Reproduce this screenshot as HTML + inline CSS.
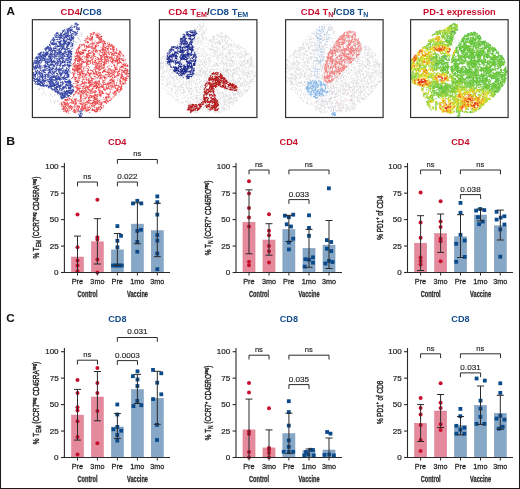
<!DOCTYPE html><html><head><meta charset="utf-8"><style>html,body{margin:0;padding:0;background:#fff;}svg{display:block;will-change:transform;}svg text{font-family:"Liberation Sans",sans-serif;}</style></head><body><svg width="520" height="489" viewBox="0 0 520 489" font-family="Liberation Sans, sans-serif">
<rect x="0" y="0" width="520" height="489" fill="#fff"/>
<rect x="71.45" y="257.00" width="12.1" height="15.50" fill="#e48a9c" stroke="#d97a8e" stroke-width="0.5"/>
<rect x="91.35" y="241.80" width="12.1" height="30.70" fill="#e48a9c" stroke="#d97a8e" stroke-width="0.5"/>
<rect x="111.35" y="249.90" width="12.1" height="22.60" fill="#87a7c6" stroke="#7898bb" stroke-width="0.5"/>
<rect x="131.35" y="224.10" width="12.1" height="48.40" fill="#87a7c6" stroke="#7898bb" stroke-width="0.5"/>
<rect x="151.25" y="230.70" width="12.1" height="41.80" fill="#87a7c6" stroke="#7898bb" stroke-width="0.5"/>
<circle cx="77.50" cy="214.50" r="2" fill="#c8102e"/>
<circle cx="77.50" cy="247.20" r="2" fill="#c8102e"/>
<circle cx="77.50" cy="260.50" r="2" fill="#c8102e"/>
<circle cx="77.50" cy="265.60" r="2" fill="#c8102e"/>
<circle cx="77.50" cy="271.30" r="2" fill="#c8102e"/>
<circle cx="97.40" cy="199.80" r="2" fill="#c8102e"/>
<circle cx="97.40" cy="237.20" r="2" fill="#c8102e"/>
<circle cx="97.40" cy="239.50" r="2" fill="#c8102e"/>
<circle cx="97.40" cy="259.40" r="2" fill="#c8102e"/>
<circle cx="97.40" cy="272.50" r="2" fill="#c8102e"/>
<rect x="115.50" y="224.20" width="3.8" height="3.8" fill="#0b4a8a"/>
<rect x="119.10" y="233.90" width="3.8" height="3.8" fill="#0b4a8a"/>
<rect x="115.50" y="238.90" width="3.8" height="3.8" fill="#0b4a8a"/>
<rect x="115.50" y="245.40" width="3.8" height="3.8" fill="#0b4a8a"/>
<rect x="111.10" y="263.60" width="3.8" height="3.8" fill="#0b4a8a"/>
<rect x="113.60" y="263.60" width="3.8" height="3.8" fill="#0b4a8a"/>
<rect x="115.50" y="263.60" width="3.8" height="3.8" fill="#0b4a8a"/>
<rect x="117.60" y="263.60" width="3.8" height="3.8" fill="#0b4a8a"/>
<rect x="119.90" y="263.60" width="3.8" height="3.8" fill="#0b4a8a"/>
<rect x="131.10" y="201.50" width="3.8" height="3.8" fill="#0b4a8a"/>
<rect x="135.40" y="198.90" width="3.8" height="3.8" fill="#0b4a8a"/>
<rect x="139.40" y="201.50" width="3.8" height="3.8" fill="#0b4a8a"/>
<rect x="135.40" y="229.00" width="3.8" height="3.8" fill="#0b4a8a"/>
<rect x="139.10" y="227.90" width="3.8" height="3.8" fill="#0b4a8a"/>
<rect x="135.40" y="240.00" width="3.8" height="3.8" fill="#0b4a8a"/>
<rect x="135.40" y="249.80" width="3.8" height="3.8" fill="#0b4a8a"/>
<rect x="155.40" y="194.50" width="3.8" height="3.8" fill="#0b4a8a"/>
<rect x="155.40" y="200.30" width="3.8" height="3.8" fill="#0b4a8a"/>
<rect x="155.40" y="212.70" width="3.8" height="3.8" fill="#0b4a8a"/>
<rect x="155.40" y="233.20" width="3.8" height="3.8" fill="#0b4a8a"/>
<rect x="155.40" y="238.70" width="3.8" height="3.8" fill="#0b4a8a"/>
<rect x="155.40" y="251.60" width="3.8" height="3.8" fill="#0b4a8a"/>
<rect x="155.40" y="267.30" width="3.8" height="3.8" fill="#0b4a8a"/>
<path d="M77.50 236.10V272.50M74.00 236.10h7" stroke="#2b2a2b" stroke-width="1" fill="none"/>
<path d="M97.40 218.70V264.00M93.90 218.70h7" stroke="#2b2a2b" stroke-width="1" fill="none"/>
<path d="M93.90 264.00h7" stroke="#2b2a2b" stroke-width="1" fill="none"/>
<path d="M117.40 233.50V265.50M113.90 233.50h7" stroke="#2b2a2b" stroke-width="1" fill="none"/>
<path d="M113.90 265.50h7" stroke="#2b2a2b" stroke-width="1" fill="none"/>
<path d="M137.40 202.90V243.80M133.90 202.90h7" stroke="#2b2a2b" stroke-width="1" fill="none"/>
<path d="M133.90 243.80h7" stroke="#2b2a2b" stroke-width="1" fill="none"/>
<path d="M157.30 203.30V256.70M153.80 203.30h7" stroke="#2b2a2b" stroke-width="1" fill="none"/>
<path d="M153.80 256.70h7" stroke="#2b2a2b" stroke-width="1" fill="none"/>
<path d="M64.4 162.90V272.50H170" stroke="#2b2a2b" stroke-width="1.1" fill="none"/>
<path d="M61.00000000000001 272.50h3.4" stroke="#2b2a2b" stroke-width="1.1"/>
<text transform="translate(54.12,274.95) scale(1.149,1)" font-size="7.03" fill="#231f20" stroke="#231f20" stroke-width="0.2">0</text>
<path d="M61.00000000000001 246.05h3.4" stroke="#2b2a2b" stroke-width="1.1"/>
<text transform="translate(49.66,248.50) scale(1.149,1)" font-size="7.03" fill="#231f20" stroke="#231f20" stroke-width="0.2">25</text>
<path d="M61.00000000000001 219.60h3.4" stroke="#2b2a2b" stroke-width="1.1"/>
<text transform="translate(49.64,222.05) scale(1.149,1)" font-size="7.03" fill="#231f20" stroke="#231f20" stroke-width="0.2">50</text>
<path d="M61.00000000000001 193.15h3.4" stroke="#2b2a2b" stroke-width="1.1"/>
<text transform="translate(49.66,195.60) scale(1.133,1)" font-size="7.13" fill="#231f20" stroke="#231f20" stroke-width="0.2">75</text>
<path d="M61.00000000000001 166.70h3.4" stroke="#2b2a2b" stroke-width="1.1"/>
<text transform="translate(45.14,169.15) scale(1.149,1)" font-size="7.03" fill="#231f20" stroke="#231f20" stroke-width="0.2">100</text>
<path d="M77.50 272.50v3" stroke="#2b2a2b" stroke-width="1"/>
<path d="M97.40 272.50v3" stroke="#2b2a2b" stroke-width="1"/>
<path d="M117.40 272.50v3" stroke="#2b2a2b" stroke-width="1"/>
<path d="M137.40 272.50v3" stroke="#2b2a2b" stroke-width="1"/>
<path d="M157.30 272.50v3" stroke="#2b2a2b" stroke-width="1"/>
<text transform="translate(71.65,284.40) scale(1.030,1)" font-size="7.13" fill="#231f20" stroke="#231f20" stroke-width="0.25">Pre</text>
<text transform="translate(90.37,284.40) scale(1.030,1)" font-size="7.03" fill="#231f20" stroke="#231f20" stroke-width="0.25">3mo</text>
<text transform="translate(111.55,284.40) scale(1.030,1)" font-size="7.13" fill="#231f20" stroke="#231f20" stroke-width="0.25">Pre</text>
<text transform="translate(130.13,284.40) scale(1.030,1)" font-size="7.13" fill="#231f20" stroke="#231f20" stroke-width="0.25">1mo</text>
<text transform="translate(150.27,284.40) scale(1.030,1)" font-size="7.03" fill="#231f20" stroke="#231f20" stroke-width="0.25">3mo</text>
<text transform="translate(77.50,296.80) scale(0.620,1)" font-size="9.10" font-weight="bold" fill="#2a2a2a" stroke="#2a2a2a" stroke-width="0.3">Control</text>
<text transform="translate(126.96,296.80) scale(0.620,1)" font-size="9.10" font-weight="bold" fill="#2a2a2a" stroke="#2a2a2a" stroke-width="0.3">Vaccine</text>
<path d="M77.50 186.30V182.00H97.40V186.30" stroke="#2b2a2b" stroke-width="1" fill="none"/>
<text transform="translate(83.33,178.70) scale(1.100,1)" font-size="6.88" fill="#231f20" stroke="#231f20" stroke-width="0.15">ns</text>
<path d="M117.40 186.30V182.00H137.40V186.30" stroke="#2b2a2b" stroke-width="1" fill="none"/>
<text transform="translate(117.27,178.90) scale(1.050,1)" font-size="7.74" fill="#231f20" stroke="#231f20" stroke-width="0.15">0.022</text>
<path d="M117.40 163.80V159.50H157.30V163.80" stroke="#2b2a2b" stroke-width="1" fill="none"/>
<text transform="translate(133.23,156.20) scale(1.100,1)" font-size="6.88" fill="#231f20" stroke="#231f20" stroke-width="0.15">ns</text>
<text transform="translate(108.08,145.30) scale(0.940,1)" font-size="9.75" font-weight="bold" fill="#c8102e">CD4</text>
<text transform="translate(39.2,217.65) rotate(-90)" text-anchor="middle" font-size="8.8" fill="#231f20" stroke="#231f20" stroke-width="0.4" textLength="81.9" lengthAdjust="spacingAndGlyphs">% T<tspan font-size="6.6" dy="2.2">EM</tspan><tspan dy="-2.2"> (CCR7</tspan><tspan font-size="5.2" dy="-3.6">neg</tspan><tspan dy="3.6"> CD45RA</tspan><tspan font-size="5.2" dy="-3.6">neg</tspan><tspan dy="3.6">)</tspan></text>
<rect x="242.95" y="222.20" width="12.1" height="50.30" fill="#e48a9c" stroke="#d97a8e" stroke-width="0.5"/>
<rect x="262.95" y="240.00" width="12.1" height="32.50" fill="#e48a9c" stroke="#d97a8e" stroke-width="0.5"/>
<rect x="282.85" y="229.40" width="12.1" height="43.10" fill="#87a7c6" stroke="#7898bb" stroke-width="0.5"/>
<rect x="302.95" y="248.30" width="12.1" height="24.20" fill="#87a7c6" stroke="#7898bb" stroke-width="0.5"/>
<rect x="322.95" y="245.10" width="12.1" height="27.40" fill="#87a7c6" stroke="#7898bb" stroke-width="0.5"/>
<circle cx="249.00" cy="181.30" r="2" fill="#c8102e"/>
<circle cx="249.00" cy="193.60" r="2" fill="#c8102e"/>
<circle cx="249.00" cy="207.90" r="2" fill="#c8102e"/>
<circle cx="249.00" cy="217.40" r="2" fill="#c8102e"/>
<circle cx="249.00" cy="226.60" r="2" fill="#c8102e"/>
<circle cx="249.00" cy="261.80" r="2" fill="#c8102e"/>
<circle cx="249.00" cy="265.30" r="2" fill="#c8102e"/>
<circle cx="269.00" cy="214.30" r="2" fill="#c8102e"/>
<circle cx="269.00" cy="230.70" r="2" fill="#c8102e"/>
<circle cx="269.00" cy="235.30" r="2" fill="#c8102e"/>
<circle cx="269.00" cy="246.00" r="2" fill="#c8102e"/>
<circle cx="269.00" cy="251.20" r="2" fill="#c8102e"/>
<circle cx="269.00" cy="262.50" r="2" fill="#c8102e"/>
<rect x="283.00" y="213.80" width="3.8" height="3.8" fill="#0b4a8a"/>
<rect x="287.00" y="215.30" width="3.8" height="3.8" fill="#0b4a8a"/>
<rect x="291.30" y="212.80" width="3.8" height="3.8" fill="#0b4a8a"/>
<rect x="284.80" y="222.40" width="3.8" height="3.8" fill="#0b4a8a"/>
<rect x="289.10" y="224.60" width="3.8" height="3.8" fill="#0b4a8a"/>
<rect x="291.30" y="236.80" width="3.8" height="3.8" fill="#0b4a8a"/>
<rect x="287.00" y="240.60" width="3.8" height="3.8" fill="#0b4a8a"/>
<rect x="287.00" y="247.50" width="3.8" height="3.8" fill="#0b4a8a"/>
<rect x="307.10" y="213.40" width="3.8" height="3.8" fill="#0b4a8a"/>
<rect x="307.10" y="226.00" width="3.8" height="3.8" fill="#0b4a8a"/>
<rect x="307.10" y="233.90" width="3.8" height="3.8" fill="#0b4a8a"/>
<rect x="303.50" y="257.30" width="3.8" height="3.8" fill="#0b4a8a"/>
<rect x="307.10" y="257.80" width="3.8" height="3.8" fill="#0b4a8a"/>
<rect x="311.10" y="255.40" width="3.8" height="3.8" fill="#0b4a8a"/>
<rect x="311.10" y="260.80" width="3.8" height="3.8" fill="#0b4a8a"/>
<rect x="302.80" y="264.70" width="3.8" height="3.8" fill="#0b4a8a"/>
<rect x="327.00" y="186.40" width="3.8" height="3.8" fill="#0b4a8a"/>
<rect x="325.00" y="238.20" width="3.8" height="3.8" fill="#0b4a8a"/>
<rect x="329.30" y="240.10" width="3.8" height="3.8" fill="#0b4a8a"/>
<rect x="325.00" y="246.80" width="3.8" height="3.8" fill="#0b4a8a"/>
<rect x="329.30" y="249.20" width="3.8" height="3.8" fill="#0b4a8a"/>
<rect x="323.50" y="261.60" width="3.8" height="3.8" fill="#0b4a8a"/>
<rect x="327.10" y="259.00" width="3.8" height="3.8" fill="#0b4a8a"/>
<rect x="330.70" y="260.10" width="3.8" height="3.8" fill="#0b4a8a"/>
<path d="M249.00 189.90V253.80M245.50 189.90h7" stroke="#2b2a2b" stroke-width="1" fill="none"/>
<path d="M245.50 253.80h7" stroke="#2b2a2b" stroke-width="1" fill="none"/>
<path d="M269.00 223.70V255.20M265.50 223.70h7" stroke="#2b2a2b" stroke-width="1" fill="none"/>
<path d="M265.50 255.20h7" stroke="#2b2a2b" stroke-width="1" fill="none"/>
<path d="M288.90 215.30V241.50M285.40 215.30h7" stroke="#2b2a2b" stroke-width="1" fill="none"/>
<path d="M285.40 241.50h7" stroke="#2b2a2b" stroke-width="1" fill="none"/>
<path d="M309.00 229.40V267.30M305.50 229.40h7" stroke="#2b2a2b" stroke-width="1" fill="none"/>
<path d="M305.50 267.30h7" stroke="#2b2a2b" stroke-width="1" fill="none"/>
<path d="M329.00 220.50V268.50M325.50 220.50h7" stroke="#2b2a2b" stroke-width="1" fill="none"/>
<path d="M325.50 268.50h7" stroke="#2b2a2b" stroke-width="1" fill="none"/>
<path d="M236 162.90V272.50H342" stroke="#2b2a2b" stroke-width="1.1" fill="none"/>
<path d="M232.6 272.50h3.4" stroke="#2b2a2b" stroke-width="1.1"/>
<text transform="translate(225.72,274.95) scale(1.149,1)" font-size="7.03" fill="#231f20" stroke="#231f20" stroke-width="0.2">0</text>
<path d="M232.6 246.05h3.4" stroke="#2b2a2b" stroke-width="1.1"/>
<text transform="translate(221.26,248.50) scale(1.149,1)" font-size="7.03" fill="#231f20" stroke="#231f20" stroke-width="0.2">25</text>
<path d="M232.6 219.60h3.4" stroke="#2b2a2b" stroke-width="1.1"/>
<text transform="translate(221.24,222.05) scale(1.149,1)" font-size="7.03" fill="#231f20" stroke="#231f20" stroke-width="0.2">50</text>
<path d="M232.6 193.15h3.4" stroke="#2b2a2b" stroke-width="1.1"/>
<text transform="translate(221.26,195.60) scale(1.133,1)" font-size="7.13" fill="#231f20" stroke="#231f20" stroke-width="0.2">75</text>
<path d="M232.6 166.70h3.4" stroke="#2b2a2b" stroke-width="1.1"/>
<text transform="translate(216.74,169.15) scale(1.149,1)" font-size="7.03" fill="#231f20" stroke="#231f20" stroke-width="0.2">100</text>
<path d="M249.00 272.50v3" stroke="#2b2a2b" stroke-width="1"/>
<path d="M269.00 272.50v3" stroke="#2b2a2b" stroke-width="1"/>
<path d="M288.90 272.50v3" stroke="#2b2a2b" stroke-width="1"/>
<path d="M309.00 272.50v3" stroke="#2b2a2b" stroke-width="1"/>
<path d="M329.00 272.50v3" stroke="#2b2a2b" stroke-width="1"/>
<text transform="translate(243.15,284.40) scale(1.030,1)" font-size="7.13" fill="#231f20" stroke="#231f20" stroke-width="0.25">Pre</text>
<text transform="translate(261.97,284.40) scale(1.030,1)" font-size="7.03" fill="#231f20" stroke="#231f20" stroke-width="0.25">3mo</text>
<text transform="translate(283.05,284.40) scale(1.030,1)" font-size="7.13" fill="#231f20" stroke="#231f20" stroke-width="0.25">Pre</text>
<text transform="translate(301.73,284.40) scale(1.030,1)" font-size="7.13" fill="#231f20" stroke="#231f20" stroke-width="0.25">1mo</text>
<text transform="translate(321.97,284.40) scale(1.030,1)" font-size="7.03" fill="#231f20" stroke="#231f20" stroke-width="0.25">3mo</text>
<text transform="translate(249.05,296.80) scale(0.620,1)" font-size="9.10" font-weight="bold" fill="#2a2a2a" stroke="#2a2a2a" stroke-width="0.3">Control</text>
<text transform="translate(298.56,296.80) scale(0.620,1)" font-size="9.10" font-weight="bold" fill="#2a2a2a" stroke="#2a2a2a" stroke-width="0.3">Vaccine</text>
<path d="M249.00 174.30V170.00H269.00V174.30" stroke="#2b2a2b" stroke-width="1" fill="none"/>
<text transform="translate(254.88,166.70) scale(1.100,1)" font-size="6.88" fill="#231f20" stroke="#231f20" stroke-width="0.15">ns</text>
<path d="M288.90 174.30V170.00H329.00V174.30" stroke="#2b2a2b" stroke-width="1" fill="none"/>
<text transform="translate(304.83,166.70) scale(1.100,1)" font-size="6.88" fill="#231f20" stroke="#231f20" stroke-width="0.15">ns</text>
<path d="M288.90 203.90V199.60H309.00V203.90" stroke="#2b2a2b" stroke-width="1" fill="none"/>
<text transform="translate(288.79,196.50) scale(1.050,1)" font-size="7.74" fill="#231f20" stroke="#231f20" stroke-width="0.15">0.033</text>
<text transform="translate(279.58,145.30) scale(0.940,1)" font-size="9.75" font-weight="bold" fill="#c8102e">CD4</text>
<text transform="translate(211.2,217.95) rotate(-90)" text-anchor="middle" font-size="8.8" fill="#231f20" stroke="#231f20" stroke-width="0.4" textLength="74.7" lengthAdjust="spacingAndGlyphs">% T<tspan font-size="6.6" dy="2.2">N</tspan><tspan dy="-2.2"> (CCR7</tspan><tspan font-size="5.2" dy="-3.6">+</tspan><tspan dy="3.6"> CD45RO</tspan><tspan font-size="5.2" dy="-3.6">neg</tspan><tspan dy="3.6">)</tspan></text>
<rect x="414.55" y="243.20" width="12.1" height="29.30" fill="#e48a9c" stroke="#d97a8e" stroke-width="0.5"/>
<rect x="434.55" y="233.60" width="12.1" height="38.90" fill="#e48a9c" stroke="#d97a8e" stroke-width="0.5"/>
<rect x="454.45" y="236.80" width="12.1" height="35.70" fill="#87a7c6" stroke="#7898bb" stroke-width="0.5"/>
<rect x="474.45" y="215.00" width="12.1" height="57.50" fill="#87a7c6" stroke="#7898bb" stroke-width="0.5"/>
<rect x="494.25" y="225.80" width="12.1" height="46.70" fill="#87a7c6" stroke="#7898bb" stroke-width="0.5"/>
<circle cx="420.60" cy="192.40" r="2" fill="#c8102e"/>
<circle cx="420.60" cy="222.60" r="2" fill="#c8102e"/>
<circle cx="420.60" cy="237.70" r="2" fill="#c8102e"/>
<circle cx="420.60" cy="257.60" r="2" fill="#c8102e"/>
<circle cx="420.60" cy="260.90" r="2" fill="#c8102e"/>
<circle cx="420.60" cy="264.40" r="2" fill="#c8102e"/>
<circle cx="440.60" cy="201.20" r="2" fill="#c8102e"/>
<circle cx="440.60" cy="221.50" r="2" fill="#c8102e"/>
<circle cx="440.60" cy="226.90" r="2" fill="#c8102e"/>
<circle cx="440.60" cy="238.70" r="2" fill="#c8102e"/>
<circle cx="440.60" cy="241.20" r="2" fill="#c8102e"/>
<circle cx="440.60" cy="261.30" r="2" fill="#c8102e"/>
<rect x="458.60" y="201.00" width="3.8" height="3.8" fill="#0b4a8a"/>
<rect x="458.60" y="210.90" width="3.8" height="3.8" fill="#0b4a8a"/>
<rect x="458.60" y="232.90" width="3.8" height="3.8" fill="#0b4a8a"/>
<rect x="454.30" y="241.90" width="3.8" height="3.8" fill="#0b4a8a"/>
<rect x="462.80" y="238.60" width="3.8" height="3.8" fill="#0b4a8a"/>
<rect x="462.80" y="255.00" width="3.8" height="3.8" fill="#0b4a8a"/>
<rect x="454.30" y="259.90" width="3.8" height="3.8" fill="#0b4a8a"/>
<rect x="474.20" y="208.70" width="3.8" height="3.8" fill="#0b4a8a"/>
<rect x="478.30" y="207.10" width="3.8" height="3.8" fill="#0b4a8a"/>
<rect x="482.40" y="208.20" width="3.8" height="3.8" fill="#0b4a8a"/>
<rect x="476.10" y="215.30" width="3.8" height="3.8" fill="#0b4a8a"/>
<rect x="480.80" y="219.70" width="3.8" height="3.8" fill="#0b4a8a"/>
<rect x="477.20" y="222.30" width="3.8" height="3.8" fill="#0b4a8a"/>
<rect x="494.70" y="209.90" width="3.8" height="3.8" fill="#0b4a8a"/>
<rect x="494.70" y="217.70" width="3.8" height="3.8" fill="#0b4a8a"/>
<rect x="498.80" y="215.70" width="3.8" height="3.8" fill="#0b4a8a"/>
<rect x="502.50" y="214.40" width="3.8" height="3.8" fill="#0b4a8a"/>
<rect x="502.50" y="222.60" width="3.8" height="3.8" fill="#0b4a8a"/>
<rect x="498.40" y="227.50" width="3.8" height="3.8" fill="#0b4a8a"/>
<rect x="498.40" y="254.80" width="3.8" height="3.8" fill="#0b4a8a"/>
<path d="M420.60 215.70V270.50M417.10 215.70h7" stroke="#2b2a2b" stroke-width="1" fill="none"/>
<path d="M417.10 270.50h7" stroke="#2b2a2b" stroke-width="1" fill="none"/>
<path d="M440.60 214.00V252.40M437.10 214.00h7" stroke="#2b2a2b" stroke-width="1" fill="none"/>
<path d="M437.10 252.40h7" stroke="#2b2a2b" stroke-width="1" fill="none"/>
<path d="M460.50 214.70V257.50M457.00 214.70h7" stroke="#2b2a2b" stroke-width="1" fill="none"/>
<path d="M457.00 257.50h7" stroke="#2b2a2b" stroke-width="1" fill="none"/>
<path d="M480.50 209.00V220.90M477.00 209.00h7" stroke="#2b2a2b" stroke-width="1" fill="none"/>
<path d="M477.00 220.90h7" stroke="#2b2a2b" stroke-width="1" fill="none"/>
<path d="M500.30 210.10V240.00M496.80 210.10h7" stroke="#2b2a2b" stroke-width="1" fill="none"/>
<path d="M496.80 240.00h7" stroke="#2b2a2b" stroke-width="1" fill="none"/>
<path d="M407.5 162.90V272.50H513" stroke="#2b2a2b" stroke-width="1.1" fill="none"/>
<path d="M404.1 272.50h3.4" stroke="#2b2a2b" stroke-width="1.1"/>
<text transform="translate(397.22,274.95) scale(1.149,1)" font-size="7.03" fill="#231f20" stroke="#231f20" stroke-width="0.2">0</text>
<path d="M404.1 246.05h3.4" stroke="#2b2a2b" stroke-width="1.1"/>
<text transform="translate(392.76,248.50) scale(1.149,1)" font-size="7.03" fill="#231f20" stroke="#231f20" stroke-width="0.2">25</text>
<path d="M404.1 219.60h3.4" stroke="#2b2a2b" stroke-width="1.1"/>
<text transform="translate(392.74,222.05) scale(1.149,1)" font-size="7.03" fill="#231f20" stroke="#231f20" stroke-width="0.2">50</text>
<path d="M404.1 193.15h3.4" stroke="#2b2a2b" stroke-width="1.1"/>
<text transform="translate(392.76,195.60) scale(1.133,1)" font-size="7.13" fill="#231f20" stroke="#231f20" stroke-width="0.2">75</text>
<path d="M404.1 166.70h3.4" stroke="#2b2a2b" stroke-width="1.1"/>
<text transform="translate(388.24,169.15) scale(1.149,1)" font-size="7.03" fill="#231f20" stroke="#231f20" stroke-width="0.2">100</text>
<path d="M420.60 272.50v3" stroke="#2b2a2b" stroke-width="1"/>
<path d="M440.60 272.50v3" stroke="#2b2a2b" stroke-width="1"/>
<path d="M460.50 272.50v3" stroke="#2b2a2b" stroke-width="1"/>
<path d="M480.50 272.50v3" stroke="#2b2a2b" stroke-width="1"/>
<path d="M500.30 272.50v3" stroke="#2b2a2b" stroke-width="1"/>
<text transform="translate(414.75,284.40) scale(1.030,1)" font-size="7.13" fill="#231f20" stroke="#231f20" stroke-width="0.25">Pre</text>
<text transform="translate(433.57,284.40) scale(1.030,1)" font-size="7.03" fill="#231f20" stroke="#231f20" stroke-width="0.25">3mo</text>
<text transform="translate(454.65,284.40) scale(1.030,1)" font-size="7.13" fill="#231f20" stroke="#231f20" stroke-width="0.25">Pre</text>
<text transform="translate(473.23,284.40) scale(1.030,1)" font-size="7.13" fill="#231f20" stroke="#231f20" stroke-width="0.25">1mo</text>
<text transform="translate(493.27,284.40) scale(1.030,1)" font-size="7.03" fill="#231f20" stroke="#231f20" stroke-width="0.25">3mo</text>
<text transform="translate(420.65,296.80) scale(0.620,1)" font-size="9.10" font-weight="bold" fill="#2a2a2a" stroke="#2a2a2a" stroke-width="0.3">Control</text>
<text transform="translate(470.06,296.80) scale(0.620,1)" font-size="9.10" font-weight="bold" fill="#2a2a2a" stroke="#2a2a2a" stroke-width="0.3">Vaccine</text>
<path d="M420.60 174.30V170.00H440.60V174.30" stroke="#2b2a2b" stroke-width="1" fill="none"/>
<text transform="translate(426.48,166.70) scale(1.100,1)" font-size="6.88" fill="#231f20" stroke="#231f20" stroke-width="0.15">ns</text>
<path d="M460.40 174.30V170.00H500.50V174.30" stroke="#2b2a2b" stroke-width="1" fill="none"/>
<text transform="translate(476.33,166.70) scale(1.100,1)" font-size="6.88" fill="#231f20" stroke="#231f20" stroke-width="0.15">ns</text>
<path d="M460.40 198.90V194.60H480.60V198.90" stroke="#2b2a2b" stroke-width="1" fill="none"/>
<text transform="translate(460.34,191.50) scale(1.050,1)" font-size="7.74" fill="#231f20" stroke="#231f20" stroke-width="0.15">0.038</text>
<text transform="translate(451.18,145.30) scale(0.940,1)" font-size="9.75" font-weight="bold" fill="#c8102e">CD4</text>
<text transform="translate(382.9,217.75) rotate(-90)" text-anchor="middle" font-size="8.8" fill="#231f20" stroke="#231f20" stroke-width="0.4" textLength="44.1" lengthAdjust="spacingAndGlyphs">% PD1<tspan font-size="5.2" dy="-3.6">+</tspan><tspan dy="3.6"> of CD4</tspan></text>
<rect x="71.45" y="415.10" width="12.1" height="42.40" fill="#e48a9c" stroke="#d97a8e" stroke-width="0.5"/>
<rect x="91.35" y="397.00" width="12.1" height="60.50" fill="#e48a9c" stroke="#d97a8e" stroke-width="0.5"/>
<rect x="111.35" y="427.00" width="12.1" height="30.50" fill="#87a7c6" stroke="#7898bb" stroke-width="0.5"/>
<rect x="131.35" y="389.60" width="12.1" height="67.90" fill="#87a7c6" stroke="#7898bb" stroke-width="0.5"/>
<rect x="151.25" y="398.30" width="12.1" height="59.20" fill="#87a7c6" stroke="#7898bb" stroke-width="0.5"/>
<circle cx="77.50" cy="380.10" r="2" fill="#c8102e"/>
<circle cx="77.50" cy="393.00" r="2" fill="#c8102e"/>
<circle cx="77.50" cy="407.20" r="2" fill="#c8102e"/>
<circle cx="77.50" cy="410.50" r="2" fill="#c8102e"/>
<circle cx="77.50" cy="421.20" r="2" fill="#c8102e"/>
<circle cx="77.50" cy="437.00" r="2" fill="#c8102e"/>
<circle cx="77.50" cy="454.40" r="2" fill="#c8102e"/>
<circle cx="97.40" cy="367.90" r="2" fill="#c8102e"/>
<circle cx="97.40" cy="383.00" r="2" fill="#c8102e"/>
<circle cx="97.40" cy="393.00" r="2" fill="#c8102e"/>
<circle cx="97.40" cy="410.90" r="2" fill="#c8102e"/>
<circle cx="97.40" cy="443.30" r="2" fill="#c8102e"/>
<rect x="115.40" y="402.60" width="3.8" height="3.8" fill="#0b4a8a"/>
<rect x="115.40" y="412.60" width="3.8" height="3.8" fill="#0b4a8a"/>
<rect x="111.50" y="427.40" width="3.8" height="3.8" fill="#0b4a8a"/>
<rect x="115.40" y="425.00" width="3.8" height="3.8" fill="#0b4a8a"/>
<rect x="119.30" y="428.80" width="3.8" height="3.8" fill="#0b4a8a"/>
<rect x="115.40" y="433.10" width="3.8" height="3.8" fill="#0b4a8a"/>
<rect x="115.40" y="438.70" width="3.8" height="3.8" fill="#0b4a8a"/>
<rect x="135.60" y="369.40" width="3.8" height="3.8" fill="#0b4a8a"/>
<rect x="131.00" y="374.30" width="3.8" height="3.8" fill="#0b4a8a"/>
<rect x="135.60" y="377.60" width="3.8" height="3.8" fill="#0b4a8a"/>
<rect x="135.50" y="384.10" width="3.8" height="3.8" fill="#0b4a8a"/>
<rect x="135.40" y="399.00" width="3.8" height="3.8" fill="#0b4a8a"/>
<rect x="131.60" y="404.20" width="3.8" height="3.8" fill="#0b4a8a"/>
<rect x="139.40" y="403.30" width="3.8" height="3.8" fill="#0b4a8a"/>
<rect x="151.10" y="368.00" width="3.8" height="3.8" fill="#0b4a8a"/>
<rect x="159.40" y="371.40" width="3.8" height="3.8" fill="#0b4a8a"/>
<rect x="155.30" y="380.80" width="3.8" height="3.8" fill="#0b4a8a"/>
<rect x="159.40" y="392.40" width="3.8" height="3.8" fill="#0b4a8a"/>
<rect x="151.20" y="397.20" width="3.8" height="3.8" fill="#0b4a8a"/>
<rect x="155.10" y="423.00" width="3.8" height="3.8" fill="#0b4a8a"/>
<rect x="155.10" y="438.10" width="3.8" height="3.8" fill="#0b4a8a"/>
<path d="M77.50 389.40V440.10M74.00 389.40h7" stroke="#2b2a2b" stroke-width="1" fill="none"/>
<path d="M74.00 440.10h7" stroke="#2b2a2b" stroke-width="1" fill="none"/>
<path d="M97.40 371.50V420.80M93.90 371.50h7" stroke="#2b2a2b" stroke-width="1" fill="none"/>
<path d="M93.90 420.80h7" stroke="#2b2a2b" stroke-width="1" fill="none"/>
<path d="M117.40 413.60V438.40M113.90 413.60h7" stroke="#2b2a2b" stroke-width="1" fill="none"/>
<path d="M113.90 438.40h7" stroke="#2b2a2b" stroke-width="1" fill="none"/>
<path d="M137.40 374.40V403.50M133.90 374.40h7" stroke="#2b2a2b" stroke-width="1" fill="none"/>
<path d="M133.90 403.50h7" stroke="#2b2a2b" stroke-width="1" fill="none"/>
<path d="M157.30 371.30V424.30M153.80 371.30h7" stroke="#2b2a2b" stroke-width="1" fill="none"/>
<path d="M153.80 424.30h7" stroke="#2b2a2b" stroke-width="1" fill="none"/>
<path d="M64.4 347.90V457.50H170" stroke="#2b2a2b" stroke-width="1.1" fill="none"/>
<path d="M61.00000000000001 457.50h3.4" stroke="#2b2a2b" stroke-width="1.1"/>
<text transform="translate(54.12,459.95) scale(1.149,1)" font-size="7.03" fill="#231f20" stroke="#231f20" stroke-width="0.2">0</text>
<path d="M61.00000000000001 431.05h3.4" stroke="#2b2a2b" stroke-width="1.1"/>
<text transform="translate(49.66,433.50) scale(1.149,1)" font-size="7.03" fill="#231f20" stroke="#231f20" stroke-width="0.2">25</text>
<path d="M61.00000000000001 404.60h3.4" stroke="#2b2a2b" stroke-width="1.1"/>
<text transform="translate(49.64,407.05) scale(1.149,1)" font-size="7.03" fill="#231f20" stroke="#231f20" stroke-width="0.2">50</text>
<path d="M61.00000000000001 378.15h3.4" stroke="#2b2a2b" stroke-width="1.1"/>
<text transform="translate(49.66,380.60) scale(1.133,1)" font-size="7.13" fill="#231f20" stroke="#231f20" stroke-width="0.2">75</text>
<path d="M61.00000000000001 351.70h3.4" stroke="#2b2a2b" stroke-width="1.1"/>
<text transform="translate(45.14,354.15) scale(1.149,1)" font-size="7.03" fill="#231f20" stroke="#231f20" stroke-width="0.2">100</text>
<path d="M77.50 457.50v3" stroke="#2b2a2b" stroke-width="1"/>
<path d="M97.40 457.50v3" stroke="#2b2a2b" stroke-width="1"/>
<path d="M117.40 457.50v3" stroke="#2b2a2b" stroke-width="1"/>
<path d="M137.40 457.50v3" stroke="#2b2a2b" stroke-width="1"/>
<path d="M157.30 457.50v3" stroke="#2b2a2b" stroke-width="1"/>
<text transform="translate(71.65,469.40) scale(1.030,1)" font-size="7.13" fill="#231f20" stroke="#231f20" stroke-width="0.25">Pre</text>
<text transform="translate(90.37,469.40) scale(1.030,1)" font-size="7.03" fill="#231f20" stroke="#231f20" stroke-width="0.25">3mo</text>
<text transform="translate(111.55,469.40) scale(1.030,1)" font-size="7.13" fill="#231f20" stroke="#231f20" stroke-width="0.25">Pre</text>
<text transform="translate(130.13,469.40) scale(1.030,1)" font-size="7.13" fill="#231f20" stroke="#231f20" stroke-width="0.25">1mo</text>
<text transform="translate(150.27,469.40) scale(1.030,1)" font-size="7.03" fill="#231f20" stroke="#231f20" stroke-width="0.25">3mo</text>
<text transform="translate(77.50,481.80) scale(0.620,1)" font-size="9.10" font-weight="bold" fill="#2a2a2a" stroke="#2a2a2a" stroke-width="0.3">Control</text>
<text transform="translate(126.96,481.80) scale(0.620,1)" font-size="9.10" font-weight="bold" fill="#2a2a2a" stroke="#2a2a2a" stroke-width="0.3">Vaccine</text>
<path d="M77.40 364.50V360.20H97.50V364.50" stroke="#2b2a2b" stroke-width="1" fill="none"/>
<text transform="translate(83.33,356.90) scale(1.100,1)" font-size="6.88" fill="#231f20" stroke="#231f20" stroke-width="0.15">ns</text>
<path d="M117.30 364.90V360.60H137.50V364.90" stroke="#2b2a2b" stroke-width="1" fill="none"/>
<text transform="translate(114.98,357.50) scale(1.050,1)" font-size="7.74" fill="#231f20" stroke="#231f20" stroke-width="0.15">0.0003</text>
<path d="M117.30 341.80V337.50H157.30V341.80" stroke="#2b2a2b" stroke-width="1" fill="none"/>
<text transform="translate(127.16,334.40) scale(1.050,1)" font-size="7.74" fill="#231f20" stroke="#231f20" stroke-width="0.15">0.031</text>
<text transform="translate(108.19,321.80) scale(0.940,1)" font-size="9.75" font-weight="bold" fill="#164d8c">CD8</text>
<text transform="translate(39.2,403) rotate(-90)" text-anchor="middle" font-size="8.8" fill="#231f20" stroke="#231f20" stroke-width="0.4" textLength="82.5" lengthAdjust="spacingAndGlyphs">% T<tspan font-size="6.6" dy="2.2">EM</tspan><tspan dy="-2.2"> (CCR7</tspan><tspan font-size="5.2" dy="-3.6">neg</tspan><tspan dy="3.6"> CD45RA</tspan><tspan font-size="5.2" dy="-3.6">neg</tspan><tspan dy="3.6">)</tspan></text>
<rect x="242.95" y="429.90" width="12.1" height="27.60" fill="#e48a9c" stroke="#d97a8e" stroke-width="0.5"/>
<rect x="262.95" y="447.90" width="12.1" height="9.60" fill="#e48a9c" stroke="#d97a8e" stroke-width="0.5"/>
<rect x="282.85" y="433.60" width="12.1" height="23.90" fill="#87a7c6" stroke="#7898bb" stroke-width="0.5"/>
<rect x="302.95" y="450.50" width="12.1" height="7.00" fill="#87a7c6" stroke="#7898bb" stroke-width="0.5"/>
<rect x="322.95" y="450.00" width="12.1" height="7.50" fill="#87a7c6" stroke="#7898bb" stroke-width="0.5"/>
<circle cx="249.00" cy="382.90" r="2" fill="#c8102e"/>
<circle cx="249.00" cy="392.50" r="2" fill="#c8102e"/>
<circle cx="249.00" cy="431.60" r="2" fill="#c8102e"/>
<circle cx="249.00" cy="433.90" r="2" fill="#c8102e"/>
<circle cx="249.00" cy="451.90" r="2" fill="#c8102e"/>
<circle cx="249.00" cy="457.20" r="2" fill="#c8102e"/>
<circle cx="269.00" cy="408.30" r="2" fill="#c8102e"/>
<circle cx="269.00" cy="447.90" r="2" fill="#c8102e"/>
<circle cx="269.00" cy="450.00" r="2" fill="#c8102e"/>
<circle cx="269.00" cy="453.00" r="2" fill="#c8102e"/>
<circle cx="269.00" cy="457.20" r="2" fill="#c8102e"/>
<rect x="286.90" y="399.30" width="3.8" height="3.8" fill="#0b4a8a"/>
<rect x="286.90" y="410.20" width="3.8" height="3.8" fill="#0b4a8a"/>
<rect x="286.90" y="423.70" width="3.8" height="3.8" fill="#0b4a8a"/>
<rect x="286.90" y="438.50" width="3.8" height="3.8" fill="#0b4a8a"/>
<rect x="286.90" y="444.90" width="3.8" height="3.8" fill="#0b4a8a"/>
<rect x="281.80" y="449.90" width="3.8" height="3.8" fill="#0b4a8a"/>
<rect x="286.90" y="449.90" width="3.8" height="3.8" fill="#0b4a8a"/>
<rect x="291.30" y="449.90" width="3.8" height="3.8" fill="#0b4a8a"/>
<rect x="308.40" y="447.90" width="3.8" height="3.8" fill="#0b4a8a"/>
<rect x="311.10" y="448.10" width="3.8" height="3.8" fill="#0b4a8a"/>
<rect x="304.10" y="450.10" width="3.8" height="3.8" fill="#0b4a8a"/>
<rect x="302.40" y="453.50" width="3.8" height="3.8" fill="#0b4a8a"/>
<rect x="306.40" y="452.60" width="3.8" height="3.8" fill="#0b4a8a"/>
<rect x="311.80" y="453.50" width="3.8" height="3.8" fill="#0b4a8a"/>
<rect x="325.20" y="430.10" width="3.8" height="3.8" fill="#0b4a8a"/>
<rect x="328.60" y="431.70" width="3.8" height="3.8" fill="#0b4a8a"/>
<rect x="322.60" y="453.00" width="3.8" height="3.8" fill="#0b4a8a"/>
<rect x="327.30" y="452.60" width="3.8" height="3.8" fill="#0b4a8a"/>
<rect x="332.00" y="453.50" width="3.8" height="3.8" fill="#0b4a8a"/>
<path d="M249.00 399.10V457.50M245.50 399.10h7" stroke="#2b2a2b" stroke-width="1" fill="none"/>
<path d="M269.00 429.90V457.50M265.50 429.90h7" stroke="#2b2a2b" stroke-width="1" fill="none"/>
<path d="M288.90 413.20V453.60M285.40 413.20h7" stroke="#2b2a2b" stroke-width="1" fill="none"/>
<path d="M285.40 453.60h7" stroke="#2b2a2b" stroke-width="1" fill="none"/>
<path d="M309.00 449.00V457.50M305.50 449.00h7" stroke="#2b2a2b" stroke-width="1" fill="none"/>
<path d="M329.00 438.00V457.50M325.50 438.00h7" stroke="#2b2a2b" stroke-width="1" fill="none"/>
<path d="M236 347.90V457.50H342" stroke="#2b2a2b" stroke-width="1.1" fill="none"/>
<path d="M232.6 457.50h3.4" stroke="#2b2a2b" stroke-width="1.1"/>
<text transform="translate(225.72,459.95) scale(1.149,1)" font-size="7.03" fill="#231f20" stroke="#231f20" stroke-width="0.2">0</text>
<path d="M232.6 431.05h3.4" stroke="#2b2a2b" stroke-width="1.1"/>
<text transform="translate(221.26,433.50) scale(1.149,1)" font-size="7.03" fill="#231f20" stroke="#231f20" stroke-width="0.2">25</text>
<path d="M232.6 404.60h3.4" stroke="#2b2a2b" stroke-width="1.1"/>
<text transform="translate(221.24,407.05) scale(1.149,1)" font-size="7.03" fill="#231f20" stroke="#231f20" stroke-width="0.2">50</text>
<path d="M232.6 378.15h3.4" stroke="#2b2a2b" stroke-width="1.1"/>
<text transform="translate(221.26,380.60) scale(1.133,1)" font-size="7.13" fill="#231f20" stroke="#231f20" stroke-width="0.2">75</text>
<path d="M232.6 351.70h3.4" stroke="#2b2a2b" stroke-width="1.1"/>
<text transform="translate(216.74,354.15) scale(1.149,1)" font-size="7.03" fill="#231f20" stroke="#231f20" stroke-width="0.2">100</text>
<path d="M249.00 457.50v3" stroke="#2b2a2b" stroke-width="1"/>
<path d="M269.00 457.50v3" stroke="#2b2a2b" stroke-width="1"/>
<path d="M288.90 457.50v3" stroke="#2b2a2b" stroke-width="1"/>
<path d="M309.00 457.50v3" stroke="#2b2a2b" stroke-width="1"/>
<path d="M329.00 457.50v3" stroke="#2b2a2b" stroke-width="1"/>
<text transform="translate(243.15,469.40) scale(1.030,1)" font-size="7.13" fill="#231f20" stroke="#231f20" stroke-width="0.25">Pre</text>
<text transform="translate(261.97,469.40) scale(1.030,1)" font-size="7.03" fill="#231f20" stroke="#231f20" stroke-width="0.25">3mo</text>
<text transform="translate(283.05,469.40) scale(1.030,1)" font-size="7.13" fill="#231f20" stroke="#231f20" stroke-width="0.25">Pre</text>
<text transform="translate(301.73,469.40) scale(1.030,1)" font-size="7.13" fill="#231f20" stroke="#231f20" stroke-width="0.25">1mo</text>
<text transform="translate(321.97,469.40) scale(1.030,1)" font-size="7.03" fill="#231f20" stroke="#231f20" stroke-width="0.25">3mo</text>
<text transform="translate(249.05,481.80) scale(0.620,1)" font-size="9.10" font-weight="bold" fill="#2a2a2a" stroke="#2a2a2a" stroke-width="0.3">Control</text>
<text transform="translate(298.56,481.80) scale(0.620,1)" font-size="9.10" font-weight="bold" fill="#2a2a2a" stroke="#2a2a2a" stroke-width="0.3">Vaccine</text>
<path d="M249.00 359.50V355.20H269.00V359.50" stroke="#2b2a2b" stroke-width="1" fill="none"/>
<text transform="translate(254.88,351.90) scale(1.100,1)" font-size="6.88" fill="#231f20" stroke="#231f20" stroke-width="0.15">ns</text>
<path d="M288.90 359.50V355.20H329.00V359.50" stroke="#2b2a2b" stroke-width="1" fill="none"/>
<text transform="translate(304.83,351.90) scale(1.100,1)" font-size="6.88" fill="#231f20" stroke="#231f20" stroke-width="0.15">ns</text>
<path d="M288.90 388.90V384.60H309.00V388.90" stroke="#2b2a2b" stroke-width="1" fill="none"/>
<text transform="translate(288.78,381.50) scale(1.050,1)" font-size="7.74" fill="#231f20" stroke="#231f20" stroke-width="0.15">0.035</text>
<text transform="translate(279.69,321.80) scale(0.940,1)" font-size="9.75" font-weight="bold" fill="#164d8c">CD8</text>
<text transform="translate(211.2,402.9) rotate(-90)" text-anchor="middle" font-size="8.8" fill="#231f20" stroke="#231f20" stroke-width="0.4" textLength="74.7" lengthAdjust="spacingAndGlyphs">% T<tspan font-size="6.6" dy="2.2">N</tspan><tspan dy="-2.2"> (CCR7</tspan><tspan font-size="5.2" dy="-3.6">+</tspan><tspan dy="3.6"> CD45RO</tspan><tspan font-size="5.2" dy="-3.6">neg</tspan><tspan dy="3.6">)</tspan></text>
<rect x="414.55" y="423.30" width="12.1" height="34.20" fill="#e48a9c" stroke="#d97a8e" stroke-width="0.5"/>
<rect x="434.55" y="411.00" width="12.1" height="46.50" fill="#e48a9c" stroke="#d97a8e" stroke-width="0.5"/>
<rect x="454.45" y="425.50" width="12.1" height="32.00" fill="#87a7c6" stroke="#7898bb" stroke-width="0.5"/>
<rect x="474.45" y="405.40" width="12.1" height="52.10" fill="#87a7c6" stroke="#7898bb" stroke-width="0.5"/>
<rect x="494.25" y="413.30" width="12.1" height="44.20" fill="#87a7c6" stroke="#7898bb" stroke-width="0.5"/>
<circle cx="420.60" cy="397.90" r="2" fill="#c8102e"/>
<circle cx="420.60" cy="407.90" r="2" fill="#c8102e"/>
<circle cx="420.60" cy="414.40" r="2" fill="#c8102e"/>
<circle cx="420.60" cy="425.00" r="2" fill="#c8102e"/>
<circle cx="420.60" cy="439.90" r="2" fill="#c8102e"/>
<circle cx="420.60" cy="450.90" r="2" fill="#c8102e"/>
<circle cx="440.60" cy="383.30" r="2" fill="#c8102e"/>
<circle cx="440.60" cy="402.80" r="2" fill="#c8102e"/>
<circle cx="440.60" cy="408.00" r="2" fill="#c8102e"/>
<circle cx="440.60" cy="424.20" r="2" fill="#c8102e"/>
<circle cx="440.60" cy="429.90" r="2" fill="#c8102e"/>
<rect x="458.50" y="407.00" width="3.8" height="3.8" fill="#0b4a8a"/>
<rect x="458.40" y="414.30" width="3.8" height="3.8" fill="#0b4a8a"/>
<rect x="454.50" y="423.90" width="3.8" height="3.8" fill="#0b4a8a"/>
<rect x="462.40" y="425.80" width="3.8" height="3.8" fill="#0b4a8a"/>
<rect x="458.40" y="427.80" width="3.8" height="3.8" fill="#0b4a8a"/>
<rect x="454.50" y="431.80" width="3.8" height="3.8" fill="#0b4a8a"/>
<rect x="462.40" y="431.80" width="3.8" height="3.8" fill="#0b4a8a"/>
<rect x="474.70" y="376.60" width="3.8" height="3.8" fill="#0b4a8a"/>
<rect x="482.90" y="378.70" width="3.8" height="3.8" fill="#0b4a8a"/>
<rect x="478.60" y="398.80" width="3.8" height="3.8" fill="#0b4a8a"/>
<rect x="478.60" y="406.70" width="3.8" height="3.8" fill="#0b4a8a"/>
<rect x="478.50" y="414.90" width="3.8" height="3.8" fill="#0b4a8a"/>
<rect x="474.60" y="422.00" width="3.8" height="3.8" fill="#0b4a8a"/>
<rect x="482.50" y="422.00" width="3.8" height="3.8" fill="#0b4a8a"/>
<rect x="498.40" y="381.40" width="3.8" height="3.8" fill="#0b4a8a"/>
<rect x="498.40" y="391.00" width="3.8" height="3.8" fill="#0b4a8a"/>
<rect x="498.50" y="413.90" width="3.8" height="3.8" fill="#0b4a8a"/>
<rect x="494.70" y="416.70" width="3.8" height="3.8" fill="#0b4a8a"/>
<rect x="502.50" y="417.70" width="3.8" height="3.8" fill="#0b4a8a"/>
<rect x="496.80" y="426.80" width="3.8" height="3.8" fill="#0b4a8a"/>
<rect x="500.80" y="424.90" width="3.8" height="3.8" fill="#0b4a8a"/>
<path d="M420.60 404.60V441.50M417.10 404.60h7" stroke="#2b2a2b" stroke-width="1" fill="none"/>
<path d="M417.10 441.50h7" stroke="#2b2a2b" stroke-width="1" fill="none"/>
<path d="M440.60 394.50V427.50M437.10 394.50h7" stroke="#2b2a2b" stroke-width="1" fill="none"/>
<path d="M437.10 427.50h7" stroke="#2b2a2b" stroke-width="1" fill="none"/>
<path d="M460.50 416.50V434.80M457.00 416.50h7" stroke="#2b2a2b" stroke-width="1" fill="none"/>
<path d="M457.00 434.80h7" stroke="#2b2a2b" stroke-width="1" fill="none"/>
<path d="M480.50 386.00V424.40M477.00 386.00h7" stroke="#2b2a2b" stroke-width="1" fill="none"/>
<path d="M477.00 424.40h7" stroke="#2b2a2b" stroke-width="1" fill="none"/>
<path d="M500.30 395.30V429.40M496.80 395.30h7" stroke="#2b2a2b" stroke-width="1" fill="none"/>
<path d="M496.80 429.40h7" stroke="#2b2a2b" stroke-width="1" fill="none"/>
<path d="M407.5 347.90V457.50H513" stroke="#2b2a2b" stroke-width="1.1" fill="none"/>
<path d="M404.1 457.50h3.4" stroke="#2b2a2b" stroke-width="1.1"/>
<text transform="translate(397.22,459.95) scale(1.149,1)" font-size="7.03" fill="#231f20" stroke="#231f20" stroke-width="0.2">0</text>
<path d="M404.1 431.05h3.4" stroke="#2b2a2b" stroke-width="1.1"/>
<text transform="translate(392.76,433.50) scale(1.149,1)" font-size="7.03" fill="#231f20" stroke="#231f20" stroke-width="0.2">25</text>
<path d="M404.1 404.60h3.4" stroke="#2b2a2b" stroke-width="1.1"/>
<text transform="translate(392.74,407.05) scale(1.149,1)" font-size="7.03" fill="#231f20" stroke="#231f20" stroke-width="0.2">50</text>
<path d="M404.1 378.15h3.4" stroke="#2b2a2b" stroke-width="1.1"/>
<text transform="translate(392.76,380.60) scale(1.133,1)" font-size="7.13" fill="#231f20" stroke="#231f20" stroke-width="0.2">75</text>
<path d="M404.1 351.70h3.4" stroke="#2b2a2b" stroke-width="1.1"/>
<text transform="translate(388.24,354.15) scale(1.149,1)" font-size="7.03" fill="#231f20" stroke="#231f20" stroke-width="0.2">100</text>
<path d="M420.60 457.50v3" stroke="#2b2a2b" stroke-width="1"/>
<path d="M440.60 457.50v3" stroke="#2b2a2b" stroke-width="1"/>
<path d="M460.50 457.50v3" stroke="#2b2a2b" stroke-width="1"/>
<path d="M480.50 457.50v3" stroke="#2b2a2b" stroke-width="1"/>
<path d="M500.30 457.50v3" stroke="#2b2a2b" stroke-width="1"/>
<text transform="translate(414.75,469.40) scale(1.030,1)" font-size="7.13" fill="#231f20" stroke="#231f20" stroke-width="0.25">Pre</text>
<text transform="translate(433.57,469.40) scale(1.030,1)" font-size="7.03" fill="#231f20" stroke="#231f20" stroke-width="0.25">3mo</text>
<text transform="translate(454.65,469.40) scale(1.030,1)" font-size="7.13" fill="#231f20" stroke="#231f20" stroke-width="0.25">Pre</text>
<text transform="translate(473.23,469.40) scale(1.030,1)" font-size="7.13" fill="#231f20" stroke="#231f20" stroke-width="0.25">1mo</text>
<text transform="translate(493.27,469.40) scale(1.030,1)" font-size="7.03" fill="#231f20" stroke="#231f20" stroke-width="0.25">3mo</text>
<text transform="translate(420.65,481.80) scale(0.620,1)" font-size="9.10" font-weight="bold" fill="#2a2a2a" stroke="#2a2a2a" stroke-width="0.3">Control</text>
<text transform="translate(470.06,481.80) scale(0.620,1)" font-size="9.10" font-weight="bold" fill="#2a2a2a" stroke="#2a2a2a" stroke-width="0.3">Vaccine</text>
<path d="M420.60 358.10V353.80H440.60V358.10" stroke="#2b2a2b" stroke-width="1" fill="none"/>
<text transform="translate(426.48,350.50) scale(1.100,1)" font-size="6.88" fill="#231f20" stroke="#231f20" stroke-width="0.15">ns</text>
<path d="M460.40 358.10V353.80H500.50V358.10" stroke="#2b2a2b" stroke-width="1" fill="none"/>
<text transform="translate(476.33,350.50) scale(1.100,1)" font-size="6.88" fill="#231f20" stroke="#231f20" stroke-width="0.15">ns</text>
<path d="M460.40 377.20V372.90H480.60V377.20" stroke="#2b2a2b" stroke-width="1" fill="none"/>
<text transform="translate(460.36,369.80) scale(1.050,1)" font-size="7.74" fill="#231f20" stroke="#231f20" stroke-width="0.15">0.031</text>
<text transform="translate(451.29,321.80) scale(0.940,1)" font-size="9.75" font-weight="bold" fill="#164d8c">CD8</text>
<text transform="translate(382.9,402.4) rotate(-90)" text-anchor="middle" font-size="8.8" fill="#231f20" stroke="#231f20" stroke-width="0.4" textLength="43.2" lengthAdjust="spacingAndGlyphs">% PD1<tspan font-size="5.2" dy="-3.6">+</tspan><tspan dy="3.6"> of CD8</tspan></text>
<text transform="translate(6.51,14.60) scale(0.988,1)" font-size="11.78" font-weight="bold" fill="#111">A</text>
<text transform="translate(6.17,144.80) scale(1.057,1)" font-size="11.64" font-weight="bold" fill="#111">B</text>
<text transform="translate(6.33,321.60) scale(1.012,1)" font-size="11.61" font-weight="bold" fill="#111">C</text>
<defs><filter id="soft" x="-5%" y="-5%" width="110%" height="110%"><feGaussianBlur stdDeviation="0.35"/></filter></defs>
<g filter="url(#soft)">
<path d="M80.6 41.2h0m-7.1 46.7h0m0.0 -42.9h0m-0.7 12.0h0m5.4 -28.8h0m-1.7 14.6h0m2.9 -3.4h0m2.1 -3.3h0m-2.4 -0.2h0m-3.5 6.3h0m1.9 -6.7h0m-0.2 2.5h0m-2.1 4.2h0m6.0 -7.4h0m-1.3 6.5h0m-5.8 3.2h0m-0.1 9.2h0m7.6 -20.6h0m-3.1 5.1h0m1.4 -5.0h0m-8.1 32.6h0m-0.3 8.0h0m6.7 -35.0h0m-0.6 -10.9h0m-3.5 20.0h0" stroke="#b8b8c8" stroke-width="0.9" stroke-linecap="round" fill="none"/>
<path d="M55.7 101.2h0m-0.9 -6.3h0m-9.0 -0.5h0m4.3 -0.6h0m0.1 6.6h0m4.3 2.1h0m-15.5 -13.0h0m11.9 5.4h0m-6.7 -2.7h0m10.5 2.9h0m4.4 9.2h0m-16.7 -10.4h0m-0.5 -5.4h0m-2.7 1.0h0m19.2 6.2h0m-6.1 1.0h0m-12.8 -8.4h0m19.4 12.9h0m-1.3 0.0h0m-3.2 1.8h0m-0.7 -2.3h0m-9.9 -11.3h0m16.1 8.5h0m-8.9 4.2h0" stroke="#b8b8c8" stroke-width="0.9" stroke-linecap="round" fill="none"/>
<path d="M68.3 76.6h0m-5.1 -23.0h0m-4.0 -0.8h0m8.8 -1.2h0m-13.1 28.7h0m17.0 -28.7h0m-17.9 25.4h0m-4.4 -20.3h0m3.2 29.1h0m-2.3 -21.5h0m15.7 17.1h0m5.2 -24.8h0m-35.5 18.1h0m9.2 -15.7h0m-0.0 -3.0h0m10.9 -22.7h0m22.2 -8.8h0m-26.1 29.9h0m19.3 -19.6h0m-2.1 4.1h0m-7.5 34.5h0m3.1 -7.3h0m-16.1 -4.4h0m16.8 -7.0h0m0.4 -22.3h0m-7.1 54.9h0m-11.2 -16.7h0m15.2 8.5h0m-12.1 -1.1h0m15.0 -25.9h0m1.5 -8.3h0m-12.2 44.5h0m-1.0 -43.8h0m13.6 48.6h0m-21.9 -26.8h0m9.5 17.8h0m-19.2 -16.1h0m-2.8 -5.6h0m17.0 18.2h0m20.9 -22.2h0m-34.4 7.5h0m26.6 -18.6h0m-22.6 22.6h0m17.8 8.7h0m-6.7 -35.4h0m13.4 22.1h0m7.6 26.8h0m3.4 -64.2h0m-35.2 31.9h0m16.5 19.7h0m10.7 -48.1h0m2.7 14.9h0m-16.6 26.8h0m2.5 -37.9h0m-17.8 22.9h0m10.7 9.3h0m-4.8 -14.0h0m23.5 0.2h0m-14.9 15.0h0m23.4 -34.9h0m-11.3 -1.3h0m11.4 -7.4h0m-40.9 41.0h0m18.4 -0.4h0m16.6 -11.7h0m-1.4 36.8h0m-19.2 -10.3h0m4.5 -23.6h0m-4.0 -1.2h0m17.3 10.1h0m0.4 -14.6h0m-8.6 -9.2h0m0.5 -7.6h0m0.7 64.0h0m4.6 -50.1h0m-17.2 -0.2h0m-11.7 35.4h0m27.7 -19.0h0m5.2 -7.3h0m3.8 34.0h0m-38.2 -29.5h0m21.1 -5.8h0m-4.5 30.5h0m13.6 -48.9h0m-14.9 23.6h0m4.0 27.3h0m21.6 -61.6h0m-5.6 37.3h0m-6.4 32.1h0m6.4 -60.0h0m-8.7 26.3h0m-23.2 21.4h0m21.4 -29.0h0m-7.2 -16.6h0m11.0 6.4h0m-12.4 13.4h0m15.0 -11.8h0m-29.7 12.4h0m23.7 -11.7h0m-22.7 37.6h0m32.7 -19.0h0m-31.3 -1.5h0m23.1 -8.7h0m4.8 -13.1h0m2.2 -6.3h0m-14.6 22.2h0m-7.1 17.6h0m29.7 -50.9h0m-41.1 35.7h0m10.8 8.1h0m1.2 -2.5h0m19.8 -9.2h0m-28.4 4.9h0m-4.1 6.0h0m33.4 -37.9h0m4.7 -3.0h0m-7.3 10.7h0m10.2 -14.1h0m-19.7 57.2h0m6.7 -36.0h0m2.4 13.8h0m5.1 1.1h0m-19.1 11.9h0m-11.6 -12.5h0m-3.5 2.6h0m28.9 31.1h0m1.2 -59.7h0m-17.1 14.5h0m14.5 31.1h0m-7.9 0.2h0m7.2 -9.1h0m11.3 -37.8h0m-22.9 32.4h0m14.5 29.9h0m0.8 -45.1h0m1.8 -13.1h0m-14.8 26.5h0m7.3 35.7h0m3.4 -45.7h0m-12.9 -2.0h0m3.8 -6.5h0m-7.0 25.9h0m9.9 -13.5h0m4.5 39.5h0m-15.3 -19.2h0m-2.9 -15.3h0m19.6 -23.5h0m-16.9 35.0h0m-11.2 0.3h0m23.2 -3.5h0m-6.1 -30.0h0m13.1 18.3h0m-30.0 6.0h0m25.2 29.0h0m12.4 -66.1h0m-5.4 15.6h0m-3.5 9.0h0m-16.6 17.5h0m5.4 -3.4h0m-20.8 -4.9h0m9.5 -8.7h0m-6.8 20.8h0m13.6 10.2h0m13.2 -43.6h0m-12.9 30.8h0m15.3 -13.8h0m4.8 -16.0h0m-15.7 -3.5h0m-2.9 42.6h0m2.9 -39.1h0m15.8 44.6h0m-7.2 -48.2h0m4.7 39.1h0m3.9 -30.6h0m-7.4 16.8h0m-24.3 -2.0h0m10.0 -5.4h0m18.3 34.0h0m-11.7 -5.2h0m-0.1 -46.1h0m-3.7 0.2h0m-13.2 27.2h0m16.1 -1.3h0m-19.8 -3.1h0m11.6 -8.0h0m5.9 -7.5h0m-0.9 36.6h0m-3.4 -31.8h0m30.2 -21.9h0m-29.4 55.6h0m4.7 -6.0h0m16.1 -14.1h0m-17.4 -20.4h0m10.3 45.2h0m6.6 0.4h0m-14.5 -1.6h0m-1.3 -44.2h0m14.4 43.4h0m-4.3 -42.9h0m7.3 0.4h0m-9.5 21.7h0m-11.8 -17.5h0m3.3 -3.3h0m-3.4 25.4h0m19.7 -8.1h0m-15.9 15.3h0m13.9 10.4h0m-1.5 -53.0h0m-1.0 7.5h0m-2.8 44.6h0m-17.5 -28.8h0m3.6 14.8h0m-4.6 4.0h0m22.9 1.1h0m-7.4 -34.4h0m-2.8 -1.8h0m-11.8 8.8h0m12.8 -0.4h0m-17.4 23.2h0m28.9 7.5h0m-17.2 -8.4h0m-10.4 4.2h0m0.3 2.0h0m-5.1 -11.1h0m32.3 -9.4h0m-13.3 1.9h0m-2.0 -6.3h0m-3.9 7.4h0m14.2 36.0h0m-10.5 -42.6h0m-2.0 13.8h0m-3.9 19.2h0m15.9 -47.1h0m-4.6 5.9h0m12.6 -12.7h0m-11.4 31.6h0m-9.7 -24.1h0m-1.2 34.6h0m6.1 -31.5h0m-7.0 22.8h0m17.4 30.5h0m-20.3 -34.9h0m7.5 15.2h0m-6.9 8.6h0m1.9 -28.3h0m22.2 24.4h0m-15.8 8.8h0m-3.9 -11.2h0m12.0 -32.1h0m-5.1 21.1h0m-8.3 -15.0h0m-11.6 27.2h0m15.0 -15.1h0m15.3 -7.6h0m-7.4 -3.6h0m-1.8 36.3h0m-14.7 -10.4h0m31.6 -51.4h0m-18.3 50.0h0m3.5 -27.1h0m-1.4 12.7h0m7.7 28.3h0m-31.5 -11.8h0m18.7 -1.4h0m-7.9 -21.7h0m24.9 -33.1h0m-25.1 34.7h0m26.3 -16.7h0m-25.8 21.7h0m20.8 6.2h0m-16.9 10.8h0m5.3 -48.2h0m14.2 58.6h0m-20.3 -35.7h0m13.3 40.5h0m5.8 -45.3h0m-25.5 8.4h0m21.7 10.2h0m-2.8 13.1h0m-1.9 -19.1h0m3.8 -29.8h0m-3.3 15.2h0m-13.7 11.7h0m4.2 21.4h0m15.6 -8.9h0m-24.6 -18.8h0m-4.5 16.7h0m30.6 -11.1h0m-4.9 17.8h0m-2.6 -41.0h0m2.2 41.7h0m-13.3 -27.0h0m9.9 41.6h0m6.8 -8.3h0m-3.5 -41.0h0m-1.3 45.0h0m-24.3 -30.4h0m24.9 1.7h0m-2.8 2.2h0m7.4 -15.3h0m-3.4 -8.8h0m-9.2 49.5h0m2.0 -17.7h0m5.6 -11.2h0m-2.4 -17.2h0m8.3 8.8h0m-19.5 35.6h0m18.6 -54.8h0m-30.4 38.7h0m32.3 21.2h0m6.8 -57.5h0m-10.2 52.4h0m-7.8 -25.5h0m11.1 -17.7h0m-9.4 0.3h0m-11.6 37.8h0m-7.3 -0.7h0m24.7 -21.6h0m-32.3 18.8h0m36.7 -24.7h0m-2.6 6.6h0m-7.6 14.6h0m-11.1 13.3h0m19.4 -10.9h0m-0.0 -28.5h0m2.8 -18.8h0m-1.3 35.5h0m-2.2 -20.5h0m-14.6 26.4h0m-15.0 7.9h0m33.7 -36.5h0m-34.9 15.6h0m3.4 11.5h0m25.7 12.5h0m2.9 -42.6h0m0.1 17.2h0m-18.1 20.8h0m22.7 13.1h0m-8.3 -11.0h0m-13.8 -21.6h0m3.4 -14.3h0m-20.8 37.3h0m31.8 5.7h0m-14.8 -30.0h0m8.7 -17.4h0m-14.4 22.5h0m-4.0 -5.4h0m17.7 34.3h0m11.0 -59.1h0m-5.0 3.0h0m-9.7 41.3h0m15.3 8.1h0m-27.3 2.1h0m27.8 -34.6h0m-13.2 -15.9h0m10.9 55.0h0m-7.2 -36.1h0m-18.0 0.6h0m18.4 18.1h0m-11.2 13.8h0m-7.6 -9.9h0m27.7 -22.3h0m-32.5 22.0h0m24.3 -21.5h0m3.5 -14.2h0m5.3 -3.3h0m-18.6 1.4h0m9.8 7.3h0m-16.1 15.1h0m8.1 3.9h0m-2.1 19.4h0m-6.7 -12.2h0m5.0 -18.0h0m18.0 40.7h0m-16.5 -34.1h0m22.3 -35.0h0m-13.1 55.9h0m-5.9 -12.8h0m0.5 -30.0h0m-8.0 16.6h0m5.9 8.3h0m-19.7 14.3h0m21.1 -2.1h0m-6.8 -25.8h0m8.7 41.3h0m3.9 -58.0h0m-12.1 33.2h0m-10.3 -5.1h0m27.6 15.4h0m-2.2 -12.8h0m3.6 -36.1h0m-24.8 50.5h0m2.2 -23.7h0m8.7 -12.1h0m10.3 47.9h0m-5.3 -14.5h0m7.7 17.3h0m-16.1 -35.7h0m-7.5 -2.9h0m-2.4 30.3h0m23.2 -15.2h0m-15.8 -22.5h0m10.3 38.7h0m4.8 -21.3h0m-7.0 12.5h0m-2.3 7.3h0m-13.7 -17.9h0m37.8 -38.7h0m-20.7 24.1h0m-5.1 -9.8h0m-14.3 21.9h0m16.2 12.1h0m9.1 18.4h0m-12.0 -22.4h0m19.7 -20.1h0m-16.8 17.9h0m-15.8 -7.6h0m24.1 33.7h0m-22.4 -34.7h0m29.2 14.6h0m-9.7 -6.8h0m-21.5 -12.9h0m10.1 -5.5h0m13.7 -13.8h0m-17.0 32.4h0m14.6 0.8h0m-17.2 4.7h0m-5.6 -18.3h0m20.3 33.7h0m8.2 -37.6h0m-14.9 27.7h0m14.4 -25.4h0m-24.8 -1.4h0m13.9 31.2h0m-11.0 -24.8h0m18.7 -2.7h0m-8.9 27.5h0m5.1 -40.4h0m-5.6 18.3h0m12.9 -33.4h0m0.5 48.8h0m8.4 11.9h0m-35.0 -27.8h0m25.0 -16.0h0m-15.3 20.2h0m11.4 10.7h0m6.3 -17.9h0m-23.6 24.8h0m24.3 6.5h0m-1.9 4.1h0m9.3 -63.7h0m-22.9 30.2h0m1.6 14.3h0m1.1 -15.9h0m15.9 -29.5h0m-18.2 51.4h0m-2.8 4.3h0m2.2 -5.4h0m7.6 6.1h0m-6.9 -47.3h0m7.2 8.9h0m-20.8 28.2h0m27.3 19.9h0m5.0 -55.0h0m1.8 -6.8h0m-16.2 20.9h0m-6.5 22.1h0m-5.6 2.3h0m24.3 5.5h0m-17.3 -10.5h0m7.5 -29.4h0m-25.4 21.9h0m4.7 2.8h0m32.8 -9.6h0m-10.8 17.3h0m3.4 -22.4h0m-1.6 14.0h0m-8.7 3.9h0m-1.8 5.6h0m-5.2 -31.7h0m-2.7 32.3h0m28.7 -40.4h0m-15.3 30.9h0m7.7 26.3h0m-13.5 -43.5h0m20.0 6.5h0m-5.6 -16.8h0m5.6 12.8h0m-1.8 -20.7h0m-28.2 46.1h0m18.8 -26.7h0m-0.5 10.9h0m5.5 7.3h0m3.9 -27.9h0m-5.4 10.2h0m-9.4 -7.7h0m-12.3 11.3h0m27.9 8.2h0m-14.4 17.7h0m17.1 -46.7h0m-24.8 16.9h0m2.1 -10.3h0m14.4 -6.8h0m-11.9 39.7h0m-4.9 7.9h0m13.9 -39.3h0m-21.6 8.2h0m32.7 -24.3h0m-16.1 48.4h0m11.4 3.2h0m-27.9 -1.1h0m24.0 -33.2h0m5.2 48.1h0m-26.7 -12.0h0m2.1 -4.1h0m4.7 -6.9h0m16.3 19.7h0m0.5 -55.5h0m-27.8 40.6h0m33.0 6.1h0m-19.9 -4.6h0m6.6 -16.9h0m16.3 -25.3h0m-0.5 6.9h0m-14.8 33.3h0m9.9 7.6h0m0.9 -32.3h0m-3.5 18.3h0m-8.7 11.0h0m9.8 -45.8h0m-15.2 41.0h0m-1.5 7.8h0m25.9 -51.2h0m-20.3 58.0h0m3.6 -21.8h0m-9.6 16.9h0m9.6 -18.3h0m-14.5 14.1h0m16.4 4.3h0m-21.1 -17.6h0m18.2 -4.8h0m-20.2 -0.7h0m11.1 6.7h0m3.2 9.6h0m11.6 -38.6h0m15.5 -11.2h0m-34.0 31.9h0m-4.8 -7.9h0m20.3 -10.3h0m-9.0 20.0h0m18.0 -19.5h0m-21.3 16.3h0m-2.7 18.0h0m6.9 -35.9h0m19.2 -3.0h0m-8.0 56.4h0m-25.2 -39.0h0m-1.6 15.4h0m33.0 -44.7h0m-17.9 61.4h0m16.7 -1.8h0m-26.7 -29.0h0m20.0 -10.4h0m8.8 37.2h0m-19.9 -41.5h0m19.5 44.2h0m-10.9 -35.5h0m4.2 45.6h0m-8.1 -61.4h0m9.8 50.0h0m6.2 -57.8h0m-24.8 26.3h0m17.3 36.8h0m-2.3 -42.7h0m-7.6 -4.5h0m-2.2 7.7h0m-5.6 16.6h0m10.4 -14.5h0m9.2 30.7h0m-2.8 -36.1h0m7.4 6.1h0m-19.3 32.3h0m12.2 10.0h0m10.5 -65.6h0m-37.4 32.6h0m16.4 22.3h0m9.8 -13.2h0m-15.5 -24.9h0m2.4 -0.3h0m4.3 32.3h0m1.1 -29.7h0m10.4 -6.8h0m0.7 10.6h0m2.9 38.0h0m-35.7 -22.8h0m22.5 -0.8h0m-2.7 8.4h0m-9.3 -8.0h0m0.4 5.6h0m21.0 17.3h0m-1.3 5.7h0m-12.4 -16.8h0m3.0 8.7h0m-14.8 -13.4h0m15.0 -15.1h0m0.5 -12.4h0m14.3 38.6h0m-10.3 -37.2h0m6.8 2.3h0m-27.8 20.5h0m11.4 -0.3h0m8.6 -16.6h0m-24.1 12.8h0m1.6 -5.0h0m-2.4 10.2h0m3.4 10.0h0m20.8 -25.7h0m2.5 26.0h0m1.9 -22.5h0m-14.6 0.2h0m7.7 28.5h0m-21.9 -23.9h0m6.0 -1.2h0m19.5 -15.8h0m-13.5 0.2h0m18.3 26.8h0m-21.2 -5.5h0m34.7 -42.1h0m-26.1 20.4h0m-14.4 18.6h0m30.4 23.4h0m1.0 -19.5h0m-8.1 20.4h0m-19.6 -26.2h0m24.2 -31.9h0m-14.6 13.1h0m21.2 -6.9h0m-22.7 7.1h0m17.0 12.3h0m1.5 -25.6h0m-27.1 44.6h0m11.3 9.3h0m17.9 -45.3h0m-10.1 43.5h0m10.2 -21.2h0m-8.3 -8.7h0m-21.4 2.0h0m15.0 10.6h0m4.3 1.2h0m-2.5 -25.4h0m-2.0 30.3h0m-0.3 -13.7h0m17.4 -4.7h0m-36.2 19.3h0m-0.0 -8.6h0m32.2 -36.6h0m-0.0 23.6h0m8.1 -29.7h0m-36.2 53.2h0m15.1 -16.2h0m16.1 -29.7h0m-12.3 28.8h0m0.4 22.1h0m-0.4 -12.6h0m7.8 20.9h0m-1.9 -48.1h0m12.0 -19.4h0m-28.1 42.6h0m7.5 -15.5h0m5.1 -6.8h0m-25.6 22.8h0m30.4 10.9h0m-17.0 -11.7h0m16.1 -24.3h0m-22.2 33.5h0m-1.1 -15.8h0m31.1 -22.0h0m-16.7 27.1h0m5.0 -31.2h0m16.8 -8.3h0m-44.4 53.5h0m41.0 -52.4h0m-24.2 27.7h0m5.4 2.1h0m1.0 -12.3h0m16.0 -8.6h0m-32.6 25.0h0m25.0 26.7h0m0.4 -25.8h0m-18.9 -7.4h0m24.2 -0.2h0m-2.6 5.1h0m-4.0 -17.7h0m-10.5 25.9h0m-8.1 -11.8h0m23.9 -12.9h0m-29.7 11.9h0m13.8 -4.2h0m16.9 31.7h0m-9.0 -6.5h0m-2.4 -33.3h0m-17.3 15.1h0m4.3 18.8h0m32.0 -44.0h0m-18.4 26.7h0m-17.0 -3.3h0m18.1 11.3h0m-16.9 5.5h0m7.3 -7.5h0m-3.4 -16.7h0m6.6 37.8h0m-17.7 -23.1h0m18.1 25.2h0m-1.2 -43.1h0m14.4 4.1h0m-19.8 27.2h0m25.6 14.6h0m-26.9 -27.0h0m5.8 11.1h0m14.2 -38.3h0m-18.7 12.3h0m14.2 45.5h0m-24.2 -18.2h0m13.1 10.8h0m7.1 -11.3h0m-8.4 -7.6h0m6.5 19.6h0m12.8 -36.3h0m-2.4 39.5h0m-6.2 4.8h0m7.6 -9.3h0m1.8 2.4h0m-6.9 -40.1h0m-7.2 15.5h0m-6.4 -4.0h0m-1.4 15.3h0m-3.5 -3.9h0m22.0 8.6h0m-22.2 2.3h0m1.9 -32.1h0m16.5 17.4h0m5.3 8.0h0m-25.1 -19.1h0m30.2 33.2h0m-5.3 -16.3h0m-10.1 -3.4h0m-15.8 12.0h0m11.5 -37.2h0m-7.8 11.4h0m14.2 -20.5h0m11.5 -5.5h0m-19.7 39.2h0m-8.2 16.3h0m9.9 -22.5h0m10.2 35.1h0m8.8 -51.8h0m-12.5 0.3h0m7.4 -13.1h0m-3.5 44.9h0m4.6 3.6h0m-6.2 10.9h0m-1.1 -52.4h0m7.4 14.2h0m-24.2 1.9h0m19.5 21.9h0m-14.7 2.7h0m3.6 -37.3h0m-2.0 27.6h0m4.1 13.4h0m5.6 -33.6h0m2.2 42.5h0m-8.9 -7.9h0m16.0 2.6h0m-31.3 -9.4h0m5.3 3.4h0m23.6 -13.8h0m-7.5 -8.0h0m16.4 -25.1h0m-10.3 59.2h0m-25.4 -13.1h0m13.1 -5.4h0m-4.2 -25.1h0m15.5 0.5h0m1.5 24.2h0m4.7 -34.6h0m-6.5 6.1h0m-0.2 -7.3h0m0.5 51.1h0m-12.4 -28.6h0m-16.4 -5.1h0m28.5 39.3h0m-17.8 -48.4h0m26.1 43.0h0m-3.5 -46.3h0m-13.7 9.0h0m-9.9 27.3h0m17.0 17.4h0m-20.8 -20.9h0m20.1 -24.7h0m8.0 18.1h0m-26.2 -11.0h0m22.7 10.0h0m-7.8 8.9h0m-5.1 7.5h0m-2.6 -31.8h0m10.4 -8.8h0m-1.7 13.3h0m3.8 6.8h0m-3.4 13.0h0m-20.6 1.1h0m32.0 -49.6h0m-32.0 23.3h0m20.2 35.8h0m3.0 -57.3h0m0.7 56.1h0m-17.1 -11.9h0m19.4 20.3h0m-26.3 -23.6h0m32.6 20.0h0m-8.1 -4.7h0m8.0 -52.6h0m-22.9 26.0h0m12.5 -4.8h0m-20.8 25.8h0m2.5 -8.7h0m-2.2 -5.9h0m29.9 -16.7h0m-2.5 11.0h0m-7.4 23.0h0m-25.1 -11.6h0m36.5 -25.6h0m-34.8 10.5h0m7.8 -10.6h0m21.0 -7.0h0m2.0 34.7h0m-25.4 -21.3h0m0.6 15.2h0m24.0 6.4h0m3.1 -43.7h0m-36.7 42.6h0m38.9 -29.9h0m-19.1 38.1h0m13.2 -39.6h0m-0.4 24.6h0m2.1 -38.6h0m-1.3 61.9h0m-6.5 -43.4h0m-24.2 14.2h0m30.0 -15.0h0m-2.1 -2.7h0m-12.4 5.3h0m12.6 46.2h0m-1.9 -34.4h0m-5.9 22.1h0m0.9 2.3h0m-0.0 -7.5h0m6.7 -36.6h0m-4.2 13.9h0m-0.0 20.4h0m-20.9 -23.1h0m18.4 31.2h0m-2.7 -8.3h0m-15.1 7.8h0m28.8 -50.4h0m-3.8 -3.6h0m-22.9 45.9h0m7.4 -13.3h0m9.8 -19.3h0m0.5 45.9h0m-26.5 -15.9h0m2.7 0.3h0m20.6 -28.8h0m3.4 5.8h0m-4.4 31.4h0m-7.0 -22.3h0m14.9 18.8h0m-15.1 -30.0h0m2.1 31.3h0m9.4 -10.4h0m8.2 16.0h0m-4.5 -41.6h0m6.6 -8.6h0m-2.7 11.4h0m-7.8 0.0h0m-13.1 13.4h0m0.9 -13.0h0m-3.6 6.7h0m16.6 9.8h0m7.6 -20.7h0m-23.7 27.5h0m8.0 15.7h0m-18.8 -22.1h0m36.6 23.9h0m-6.8 -53.5h0m-25.3 45.5h0m22.6 -42.8h0m1.4 1.1h0m-11.4 33.9h0m17.5 19.9h0m-17.5 -31.0h0m8.9 -11.4h0m-6.5 4.6h0m-14.8 25.7h0m18.2 -6.3h0m12.6 -45.6h0m-14.9 25.4h0m0.5 -13.8h0m16.0 50.4h0m-14.1 -2.1h0m15.4 -51.4h0m-6.6 -1.7h0m3.2 60.9h0m5.2 -61.7h0m-1.4 58.1h0m-11.5 -21.3h0m-2.7 -33.8h0m9.1 1.1h0m2.3 0.6h0m-36.2 24.1h0m35.3 -1.8h0m0.3 16.1h0m-17.9 -15.1h0m-0.8 8.6h0m18.5 12.8h0m-8.2 -47.2h0m4.7 34.4h0m-5.5 -12.0h0m-7.8 12.4h0m-12.7 -4.7h0m9.5 -9.8h0m16.0 22.2h0m-24.6 1.5h0m24.6 -47.0h0m2.1 40.6h0m2.3 -16.0h0m-24.4 2.9h0m21.6 -19.5h0m-15.1 8.1h0m7.1 20.0h0m11.8 3.1h0m-1.2 9.7h0m-13.9 -35.8h0m-18.9 25.3h0m6.1 1.5h0m17.3 4.4h0m-26.4 -0.8h0m18.2 -17.1h0m-12.6 1.6h0m16.4 -7.6h0m3.0 24.2h0m8.6 -3.8h0m-14.9 -25.4h0m-13.7 12.7h0m38.2 -28.8h0m-8.9 32.7h0m-17.8 17.6h0m19.2 -16.8h0m-15.2 14.1h0m8.0 -46.8h0m2.1 21.5h0m-20.6 22.6h0m-1.6 -20.8h0m12.3 -15.2h0m-15.7 18.0h0m31.9 21.4h0m-6.1 -9.9h0m5.2 22.8h0m-17.5 -13.6h0m21.3 10.2h0m-11.2 -49.1h0m-27.9 39.6h0m26.5 -7.9h0m3.7 -33.1h0m-4.3 2.5h0m-20.7 30.4h0m-0.7 10.7h0m3.3 -1.7h0m23.1 0.1h0m-0.6 -36.6h0m-12.8 20.7h0m24.4 -33.9h0m-39.7 33.6h0m13.6 -20.0h0m8.2 47.8h0m12.7 -63.2h0m-27.5 56.1h0m14.0 -24.1h0m-5.5 -8.7h0m-1.6 32.2h0m13.1 -55.1h0m-10.3 27.7h0m6.3 -11.8h0m-23.5 28.7h0m31.1 -45.4h0m-4.7 47.8h0m2.2 -39.2h0m-24.4 17.3h0m11.9 28.3h0m16.5 -51.4h0m-6.4 52.5h0m-13.4 -16.0h0m15.2 8.6h0m-7.7 -40.2h0m-14.3 34.4h0m1.2 -1.7h0m-2.2 -11.6h0m4.3 17.5h0m7.0 -32.4h0m-2.2 33.1h0m22.7 -45.3h0m5.1 0.3h0m-18.1 29.6h0m-5.7 -19.5h0m9.5 25.3h0m5.3 -0.3h0m-7.6 -8.9h0m-17.9 26.9h0m9.3 -15.1h0m19.5 -31.3h0m-28.1 14.3h0m25.7 9.3h0m-27.1 14.7h0m26.2 -46.4h0m-18.2 18.5h0m15.5 22.3h0m-19.2 15.5h0m3.3 -17.0h0m13.3 -26.3h0m2.5 34.6h0m-4.8 10.6h0m1.1 -20.2h0m-24.7 3.9h0m31.9 -6.6h0m-21.4 10.2h0m11.4 -3.2h0m7.6 -31.2h0m-22.7 14.6h0m26.8 9.7h0m-6.1 29.6h0m-10.4 -9.4h0m-14.4 -28.9h0m17.7 26.5h0m4.2 -25.8h0m-0.1 0.0h0m-28.2 19.8h0m16.6 -16.2h0m7.2 17.4h0m-1.4 -7.6h0m-19.0 -14.7h0m28.2 -13.5h0m-0.1 35.2h0m-7.6 -12.9h0m-11.3 -13.1h0m20.7 -2.9h0m-7.3 0.4h0m-2.9 28.8h0m-16.9 6.5h0m31.5 -31.4h0m-34.4 27.8h0m22.5 -41.9h0m5.8 48.2h0m-22.7 -19.8h0m17.2 12.2h0m4.9 -18.8h0m-5.4 18.0h0m0.6 -30.8h0m-6.7 -4.0h0m9.1 44.0h0m-1.2 -50.4h0m-1.8 54.4h0m12.1 -57.6h0m-2.6 -0.6h0m-10.2 16.8h0m8.4 43.4h0m-14.7 -38.4h0m-1.4 32.2h0m4.5 -16.2h0m-8.7 2.5h0m3.8 7.9h0m3.4 -8.7h0m-8.1 -6.3h0m13.0 25.6h0m-16.1 -33.1h0m-8.1 2.8h0m29.7 29.0h0m-0.5 5.1h0m6.1 -41.3h0m-6.2 26.8h0m3.7 -52.1h0m-28.1 30.4h0m27.5 4.4h0m-2.1 10.4h0m-18.1 -15.6h0m22.0 -29.3h0m-6.1 46.7h0m-8.4 -12.4h0m-1.1 24.8h0m-7.1 -4.7h0m12.3 -8.2h0m2.3 -18.8h0m10.3 7.5h0m-6.5 -28.0h0m-23.5 47.0h0m2.9 -28.5h0m21.4 -14.4h0m-2.5 43.5h0m-5.1 -20.9h0m9.5 -7.4h0m-19.9 28.9h0m21.6 -18.7h0m-8.5 -15.0h0m-15.7 13.3h0m15.9 -12.7h0m7.9 12.8h0m-4.6 31.8h0m0.1 -57.9h0m-1.1 42.0h0m4.8 -16.5h0m-6.5 31.5h0m-20.8 -40.3h0m28.5 26.3h0m-19.0 -37.7h0m0.2 4.9h0m18.7 8.4h0m-4.8 29.2h0m-16.0 -23.9h0m20.0 27.5h0m-30.0 -29.3h0m21.9 4.3h0m-11.1 -6.1h0m-5.2 6.5h0m12.6 4.7h0m-6.5 -1.1h0m1.9 0.0h0m24.2 -37.6h0m-7.5 23.6h0m1.9 6.9h0m-25.2 18.9h0m14.5 9.5h0m-13.9 -25.8h0m10.0 23.1h0m-6.4 -21.4h0m10.9 20.3h0m5.3 -13.3h0m-4.1 -0.3h0m-1.2 -34.8h0m5.6 34.7h0m4.1 -21.2h0m-20.6 12.2h0m22.2 -9.6h0m-28.5 19.8h0m4.7 -6.4h0m0.2 -21.2h0m20.7 5.5h0m-29.8 1.4h0m30.6 -9.6h0m-11.9 14.1h0m4.4 36.5h0m-15.4 -25.4h0m-2.7 2.6h0m-6.0 -8.0h0m6.1 -8.8h0m24.8 -2.5h0m-27.3 -0.5h0m-2.2 9.2h0m32.8 -26.7h0m-15.2 21.8h0m-6.8 26.7h0m-8.9 -1.5h0m19.5 -39.4h0m8.3 -11.2h0m-11.7 39.6h0m10.2 -25.2h0m-11.5 38.7h0m-1.6 -10.8h0m-1.7 -30.5h0m-10.3 22.8h0m24.6 4.8h0m-30.2 1.4h0m1.9 -6.9h0m25.7 0.2h0m0.3 27.9h0m-10.1 -8.8h0m12.2 -44.6h0m-1.2 55.2h0m3.5 -52.1h0m-4.6 50.6h0m-28.4 -21.9h0m29.0 -9.0h0m-16.9 -1.3h0m30.8 -32.8h0m-17.1 64.3h0m-21.5 -16.4h0m25.7 -26.3h0m5.5 -23.7h0m0.5 64.6h0m-9.6 -45.1h0m-0.5 28.5h0m-21.7 7.4h0m7.6 -20.1h0m-11.4 19.8h0m29.6 -38.8h0m3.7 -13.6h0m9.1 -4.6h0m-41.4 54.6h0m31.2 -8.2h0m2.2 11.1h0m-5.3 -41.5h0m4.9 17.0h0m-8.2 -21.0h0m-24.5 28.9h0m14.4 23.4h0m-6.0 -26.6h0m25.4 -10.7h0m-23.5 23.0h0m8.4 -30.9h0m-8.2 42.0h0m20.5 -5.5h0m-4.2 -40.0h0m2.2 -4.2h0m-5.4 61.2h0m-23.6 -33.4h0m22.8 -3.7h0m-25.2 16.1h0m29.6 15.7h0m-23.1 -34.6h0m13.9 -13.5h0m-2.5 31.2h0m-17.0 -11.3h0m28.6 -12.1h0m6.3 31.7h0m-19.4 -29.9h0m5.2 17.2h0m10.8 -38.8h0m3.6 -2.1h0m-7.2 58.4h0m6.8 -37.0h0m-7.2 36.3h0m-16.3 -6.5h0m16.9 -28.3h0m-14.9 9.0h0m20.3 19.8h0m-3.1 13.7h0m-8.1 -55.6h0m-5.2 29.5h0m5.2 13.5h0m-0.8 -20.2h0m2.7 14.8h0m-6.8 2.6h0m3.6 -28.8h0m-12.3 32.7h0m-1.0 -7.0h0m-3.4 -1.9h0m18.6 4.7h0m11.9 -40.1h0m-31.8 33.9h0m24.6 -41.7h0m-4.6 3.2h0m-19.5 38.7h0m6.6 -9.5h0m22.0 -1.5h0m-10.7 29.9h0m8.8 -30.2h0m-30.7 13.0h0m31.0 -2.4h0m-15.1 -17.2h0m13.5 35.3h0m-27.7 -24.9h0m10.5 -2.3h0m8.6 -24.3h0m13.5 23.7h0m-0.6 13.7h0m-29.5 -15.1h0m32.1 -8.2h0m-1.2 -3.1h0m-35.6 33.0h0m43.4 -54.3h0m-27.2 23.8h0m12.0 38.2h0m-3.8 -44.4h0m-24.2 31.6h0m24.5 -43.1h0m2.1 11.1h0m16.7 -16.4h0m-26.3 50.9h0m19.0 8.6h0m-16.5 -39.2h0m2.1 26.0h0m-20.4 -17.6h0m1.2 1.3h0m32.4 -21.8h0m-17.9 21.5h0m-9.7 -4.4h0m20.9 42.4h0m-7.6 -6.2h0m-5.5 -32.4h0m-15.8 21.5h0m23.9 -17.7h0m-7.2 -3.8h0m14.6 34.8h0m8.0 -3.7h0m-3.7 -61.5h0m-10.8 64.8h0m6.2 -59.8h0m-31.9 39.8h0m9.5 4.4h0m9.5 -1.3h0m-6.8 -20.4h0m5.6 24.3h0m18.9 3.4h0m-19.5 3.0h0m-8.9 -10.4h0m16.2 -2.7h0m8.1 0.2h0m-9.1 -0.6h0m-19.4 -15.5h0m4.1 27.8h0m29.8 -49.0h0m-0.4 15.3h0m-10.0 17.7h0m-11.8 -14.1h0m3.5 27.4h0m4.1 3.5h0m8.0 -48.1h0m-1.1 23.8h0m-2.1 7.9h0m-13.7 9.9h0m15.6 -32.2h0m-7.1 -3.7h0m-7.4 13.9h0m-1.5 -11.4h0m-6.3 30.3h0m29.8 -29.6h0m-21.5 18.3h0m8.9 -11.2h0m-5.5 23.7h0m13.1 -17.5h0m-10.2 4.5h0m-6.3 14.7h0m14.8 -30.6h0m-18.3 -0.6h0m20.6 40.0h0m-12.4 -40.0h0m-3.2 24.0h0m-2.0 15.3h0m1.2 -31.9h0m11.4 40.6h0m0.9 -47.6h0m9.0 10.3h0m-21.7 -8.4h0m8.3 -14.6h0m11.7 59.6h0m-33.8 -34.6h0m1.7 23.2h0m24.4 13.6h0m-7.0 -17.4h0m1.6 4.5h0m1.0 1.4h0m8.8 -14.9h0m-0.0 2.2h0m-14.9 -10.8h0m20.8 22.3h0m-26.8 -14.8h0m9.5 -17.9h0m7.7 1.2h0m0.8 19.1h0m4.7 -37.4h0m3.0 49.2h0m-18.2 -10.7h0m21.8 -49.9h0m-38.3 48.0h0m36.4 19.9h0m6.5 -63.8h0m-13.2 16.4h0m9.0 -18.0h0m-14.2 17.5h0m-14.1 22.0h0m0.8 -13.8h0m3.8 -1.1h0m-0.0 13.4h0m13.5 23.0h0m-17.3 -25.6h0m-10.5 11.6h0m10.4 -25.1h0m-12.3 10.4h0m7.4 0.7h0m0.1 23.7h0m-4.5 -1.6h0m25.7 -46.9h0m-13.1 17.1h0m-16.1 29.6h0m18.1 -27.5h0m17.3 39.9h0m-0.7 -0.6h0m-6.8 -48.8h0m-14.3 42.0h0m25.4 -48.9h0m-13.3 0.0h0m-9.1 17.6h0m-1.4 30.3h0m2.0 -40.9h0m23.6 -9.7h0m-12.7 49.5h0m6.5 -18.3h0m4.4 -24.7h0m-20.0 38.8h0m-0.1 -29.6h0m-4.6 35.5h0m20.0 4.9h0m6.2 -56.0h0m-12.3 58.5h0m-4.5 -29.7h0m2.2 1.2h0m-0.3 9.8h0m17.6 -45.8h0m-16.6 17.6h0m0.7 12.7h0m3.4 -9.1h0m-17.5 24.1h0m19.0 11.4h0m-17.0 -36.1h0m24.0 -11.8h0m-23.1 23.8h0m-6.3 -3.1h0m3.2 27.3h0m11.1 -8.9h0m19.8 -47.6h0m-17.8 24.3h0m-23.8 6.8h0m26.0 -24.8h0m-6.0 13.3h0m8.5 -12.1h0m-9.2 42.8h0m10.0 3.4h0m-25.7 -0.9h0m24.0 12.9h0m-18.3 -45.2h0m0.0 4.8h0m2.2 21.0h0m-15.4 3.0h0m25.6 -7.2h0m1.1 -19.5h0m-5.2 7.2h0m-5.7 7.4h0m11.5 11.9h0m-9.1 -27.4h0m-13.0 16.7h0m-2.2 -5.5h0m28.3 -8.6h0m5.1 -3.4h0m-22.7 15.7h0m10.3 -26.1h0m9.5 52.5h0m-20.8 -37.1h0m21.5 -18.8h0m-12.6 12.3h0m8.1 22.9h0m-27.7 5.4h0m33.5 4.0h0m-7.0 9.4h0m2.5 -50.2h0m-8.0 27.4h0m3.1 10.5h0m11.5 -47.7h0m-10.4 63.4h0m11.4 -0.6h0m-1.8 -41.8h0m-9.7 7.2h0m-23.6 5.1h0m30.1 30.7h0m1.8 -65.8h0m-23.2 32.0h0m13.1 -17.6h0m8.1 41.1h0m-30.9 -8.8h0m13.6 -12.5h0m8.2 28.7h0m-21.9 -9.5h0m3.1 -20.3h0m35.0 -29.8h0m-32.9 49.9h0m22.4 -34.6h0m2.9 -13.2h0m-6.1 54.3h0m8.3 -6.8h0m0.1 6.6h0m-23.0 -34.7h0m12.4 40.7h0m7.6 -9.2h0m5.9 -0.3h0m-10.0 10.4h0m-2.9 -42.6h0m-10.2 29.0h0m19.7 1.0h0m-7.7 -18.2h0m4.6 -27.2h0m-10.8 7.2h0m-18.5 26.2h0m41.9 -37.0h0m-19.6 13.2h0m-9.1 19.6h0m-8.9 -8.6h0m-0.2 -0.2h0m28.6 -2.0h0m6.9 -22.4h0m-8.9 3.7h0m-0.7 29.1h0m-5.6 -23.9h0m-4.3 6.6h0m6.8 4.8h0m-12.6 20.0h0m0.3 11.8h0m9.8 -18.9h0m-11.5 21.5h0m17.9 -0.2h0m-3.3 -56.7h0m-29.4 33.5h0m38.8 21.1h0m-15.2 -19.6h0m-21.3 -3.5h0m33.6 -0.3h0m-11.9 30.7h0m7.3 -31.2h0m4.2 27.1h0m-15.5 -44.5h0m3.9 29.7h0m-7.2 -27.6h0m21.8 -7.4h0m-6.9 12.7h0m-31.3 13.3h0m29.2 6.6h0m1.5 -30.9h0m5.7 -0.1h0m-9.1 7.0h0m-1.1 -0.9h0m7.8 47.3h0m-28.2 -22.3h0m7.5 -11.1h0m22.2 -21.8h0m1.8 14.9h0m-25.1 1.0h0m25.1 33.5h0m-11.6 -34.4h0m7.9 12.4h0m-5.2 -11.1h0m-18.0 26.6h0m25.6 -44.1h0m-8.4 26.4h0m4.4 14.0h0m-10.9 -24.8h0m-16.0 29.4h0m-5.6 -9.8h0m3.2 6.7h0m16.4 -35.1h0m13.8 40.2h0m-10.3 -35.2h0m-5.0 11.5h0m-14.8 8.2h0m-1.4 3.1h0m-0.6 -3.3h0m20.2 -16.2h0m13.4 -15.4h0m-26.9 46.3h0m19.8 11.7h0m-14.3 -26.1h0m14.4 9.2h0m9.7 10.0h0m-36.7 -7.5h0m27.7 4.3h0m10.8 -38.5h0m-20.4 6.0h0m-5.0 11.2h0m10.4 19.8h0m-20.3 -0.9h0m30.5 -1.0h0m-33.9 -15.1h0m11.7 0.4h0m25.7 -26.6h0m-27.1 15.7h0m14.8 23.7h0m8.2 -4.6h0m-32.2 -14.7h0m34.6 -20.7h0m0.5 -9.8h0m-32.7 47.5h0m13.6 -25.5h0m-3.6 7.2h0m9.0 -23.8h0m-22.9 27.7h0m30.5 32.7h0m4.4 -14.6h0m-11.7 -2.6h0m-22.1 -3.6h0m35.9 18.5h0m-28.1 -35.0h0m27.7 4.2h0m-30.5 16.0h0m18.6 5.9h0m3.2 4.9h0m-27.8 -16.9h0m27.6 9.8h0m-15.7 -1.9h0m-2.6 -0.5h0m19.0 18.9h0m-12.7 -19.9h0m-4.9 -21.9h0m18.8 -22.1h0m10.6 55.5h0m-13.9 -29.1h0m-21.6 2.1h0m-0.7 3.2h0m6.0 17.5h0m20.3 -21.8h0m-7.9 29.0h0m-20.3 -25.6h0m10.7 -13.3h0m6.6 10.8h0m9.9 -0.1h0m-2.6 -12.1h0m9.2 33.9h0m-36.5 -16.4h0m33.3 3.4h0m2.9 18.4h0m-27.8 -23.2h0m13.3 -0.1h0m-9.0 -0.8h0m8.3 6.9h0m-15.8 -18.8h0m17.1 23.5h0m-8.7 -30.1h0m31.3 -20.3h0m-10.9 66.4h0m-3.2 -52.3h0m-24.0 25.5h0m13.4 -10.3h0m9.6 3.3h0m6.8 8.9h0m-20.5 -14.0h0m20.7 1.8h0m-27.2 -1.2h0m23.2 -13.9h0m5.6 52.7h0m-15.2 -56.9h0m11.1 27.9h0m-1.1 26.5h0m-26.6 -12.1h0m-2.8 4.3h0m24.1 -32.2h0m5.6 -4.9h0m-6.9 47.5h0m-4.2 -15.6h0m15.7 -19.4h0m-29.6 -7.3h0m30.5 -14.3h0m-31.1 36.2h0m26.6 8.7h0m-2.6 -20.9h0m-2.6 27.4h0m-2.2 1.4h0m2.0 -31.9h0m-10.9 19.9h0m10.0 -27.6h0m-23.0 28.7h0m7.3 -3.7h0m-3.1 9.8h0m22.3 9.6h0m-3.4 -20.5h0m-17.4 9.4h0m15.4 -32.5h0m-12.5 33.5h0m23.9 0.9h0m-30.2 -33.3h0m26.8 29.5h0m-7.8 5.1h0m-5.5 2.1h0m14.7 -40.7h0m-8.2 -15.7h0m-26.1 47.8h0m13.1 -1.0h0m-6.8 -7.1h0m6.2 -18.1h0m9.7 32.0h0m8.4 6.7h0m3.2 -32.7h0m-17.0 23.2h0m21.0 2.8h0m-10.1 -14.5h0m2.3 15.9h0m-15.7 -17.7h0m16.8 -4.9h0m-26.3 1.6h0m-1.1 12.5h0m18.5 -8.5h0m-15.6 -16.7h0m23.0 1.9h0m3.0 -27.2h0m0.7 23.7h0m0.5 27.7h0m-14.3 -0.5h0m14.1 -24.5h0m-26.8 17.8h0m25.4 -3.2h0m-16.7 -21.7h0m-7.1 8.0h0m26.9 31.4h0m-6.3 -33.3h0m-13.3 26.1h0m13.7 -9.8h0m4.9 21.7h0m2.1 -0.2h0m-13.5 -37.8h0m-23.5 19.0h0m32.3 8.2h0m1.5 -8.0h0m-4.4 -27.5h0m-3.6 -4.9h0m11.4 -8.1h0m-1.1 56.9h0m-5.5 -33.5h0m8.1 34.6h0m-27.8 -5.0h0m23.4 1.9h0m-8.4 -36.7h0m4.9 44.1h0m-17.6 -15.2h0m3.6 -12.3h0m17.1 8.2h0m4.2 -45.4h0m-4.3 62.1h0m-4.5 -3.3h0m-6.9 -12.6h0m17.3 -38.6h0m-16.7 14.3h0m3.7 18.1h0m1.4 28.0h0m-9.4 -16.8h0m4.2 -3.1h0m12.0 -39.1h0m-17.0 34.0h0m-2.8 -26.0h0m0.8 19.6h0m18.6 -9.1h0m-15.6 -0.5h0m9.7 12.6h0m14.9 -46.4h0m-40.8 43.6h0m12.6 14.9h0m18.4 1.3h0m-4.6 -22.8h0m8.0 -6.8h0m-7.2 29.6h0m-0.6 -41.6h0m-2.7 -6.2h0m4.4 -1.5h0m-2.0 10.8h0m-6.3 30.4h0m13.7 15.1h0m-14.5 1.1h0m11.9 -45.4h0m5.7 -15.1h0m-16.0 33.2h0m-17.6 10.1h0m27.6 -34.9h0m-1.7 10.1h0m-25.0 7.2h0m22.5 38.3h0m-14.1 -14.1h0m14.5 -3.8h0m-24.2 -4.6h0m28.8 20.0h0m-1.0 -32.8h0m-21.5 18.3h0m27.6 -39.0h0m-6.8 42.2h0m-12.8 -42.8h0m16.7 48.2h0m-7.6 -48.5h0m-15.7 13.9h0m22.8 13.9h0m-27.9 9.5h0m17.7 -23.0h0m0.8 7.2h0m0.8 -11.2h0m-4.2 1.8h0m2.1 -15.3h0m11.9 4.5h0m-20.1 38.9h0m3.8 8.4h0m5.9 -23.7h0m0.2 -26.2h0m-20.0 32.9h0m14.9 15.4h0m-3.9 -24.7h0m-9.0 -3.3h0m19.0 17.4h0m-16.3 -18.3h0m-2.2 27.7h0m27.7 6.5h0m-13.0 -58.3h0m-16.3 25.0h0m26.9 12.2h0m-20.2 3.6h0m7.7 -31.1h0m-11.3 13.9h0m11.4 31.1h0m-6.3 -6.0h0m-5.0 -22.0h0m-0.7 26.4h0m-6.5 -24.5h0m21.9 -17.4h0m-15.6 42.4h0m21.1 -52.5h0m5.9 -6.6h0m1.6 59.6h0m-8.9 -28.5h0m-21.0 15.9h0m4.7 -14.6h0m13.0 23.3h0m4.7 -51.3h0m-19.1 39.1h0m4.0 -12.8h0m-14.7 4.6h0m12.0 0.5h0m13.9 -27.1h0m6.3 -0.4h0m-16.5 43.6h0m10.4 -33.8h0m-1.3 16.3h0m9.1 -7.0h0m-26.7 29.0h0m10.1 -1.3h0m11.0 11.7h0m1.1 -55.9h0m0.0 40.0h0m-9.2 -6.1h0m8.4 -18.3h0m1.2 -12.2h0m-19.5 36.2h0m7.1 12.7h0m-2.8 -34.0h0m-1.3 -9.7h0m17.1 17.6h0m-17.2 -16.6h0m-8.2 22.7h0m8.9 -4.5h0m8.8 8.7h0m7.0 -1.2h0m-14.9 13.7h0m21.6 -48.8h0m-27.1 22.7h0m26.5 -6.3h0m-13.0 28.3h0m6.5 -18.3h0m-11.2 8.2h0m18.7 -39.1h0m-18.0 28.3h0m0.4 -11.2h0m-14.1 4.5h0m0.6 -1.5h0m25.1 -17.3h0m-8.3 54.5h0m11.0 -17.0h0m3.4 19.1h0m-26.8 -33.8h0m17.3 18.8h0m0.7 -47.5h0m-8.9 60.3h0m-12.0 -10.2h0m27.0 -38.6h0m0.2 -2.2h0m-12.9 13.1h0m17.8 -25.6h0m-30.8 44.1h0m13.7 -21.3h0m-0.8 28.4h0m0.7 -24.8h0m-1.7 -17.0h0m-11.7 44.8h0m0.1 -26.3h0m16.7 -17.6h0m-2.4 39.7h0m9.3 -11.4h0m-6.6 -3.5h0m4.0 29.3h0m-23.1 -33.9h0m19.9 0.8h0m-2.4 -20.9h0m0.5 50.2h0m0.8 -35.7h0m-1.4 -10.5h0m17.0 -13.3h0m-9.1 17.9h0m-27.4 16.2h0m17.6 29.8h0m-10.1 -39.3h0m-6.0 3.0h0m19.2 -5.1h0m2.5 43.5h0m-4.3 -57.0h0m-14.2 29.3h0m-9.9 2.0h0m24.6 24.7h0m-19.7 -15.0h0m12.6 7.5h0m17.9 -0.5h0m-7.4 -27.9h0m2.1 4.9h0m-2.1 -32.0h0m-6.0 54.3h0m-12.8 -12.7h0m16.2 -35.4h0m-9.8 5.9h0m19.6 10.3h0m-4.8 17.0h0m-27.0 10.6h0m23.3 -4.6h0m-25.2 -2.1h0m9.0 2.2h0m23.4 14.9h0m4.6 -2.9h0m-4.6 4.0h0m-21.0 -14.6h0m20.1 18.5h0m-11.6 -7.9h0m13.7 -30.1h0m-10.7 13.4h0m-1.5 -10.4h0m7.8 35.2h0m-30.1 -26.2h0m18.0 7.2h0m5.1 -22.5h0m9.4 16.1h0m0.5 26.2h0m-29.5 -22.8h0m24.8 -13.3h0m-12.5 27.0h0m15.9 -15.7h0m-14.5 13.1h0m1.6 -37.2h0m-19.9 26.4h0m18.3 8.4h0m-13.2 1.5h0m15.7 -12.1h0m-1.0 -14.9h0m-9.8 10.4h0m20.0 4.0h0m2.3 -34.3h0m-2.3 38.7h0m4.1 -37.0h0m-25.6 45.3h0m10.4 0.6h0m-14.7 -0.7h0m20.2 -22.6h0m10.8 31.0h0m-10.5 -33.3h0m7.2 22.1h0m-33.0 -15.9h0m19.4 16.4h0m9.1 -8.3h0m-7.8 9.6h0m14.6 -27.8h0m-2.7 1.2h0m-1.0 -19.4h0m4.5 22.0h0m1.0 -29.5h0m-2.0 3.3h0m-5.7 22.5h0m9.9 -25.7h0m-12.2 55.9h0m2.6 -54.5h0m-7.5 57.7h0m15.6 -61.6h0m-24.3 28.2h0m3.1 15.9h0m-6.3 -12.9h0m-3.1 1.6h0m26.3 -10.3h0m-27.7 34.9h0m10.3 -13.2h0m-14.4 -8.2h0m36.4 -3.1h0m-13.5 -26.6h0m2.7 48.4h0m-2.9 -34.9h0m5.7 30.4h0m-1.0 21.5h0m10.6 -6.9h0m-12.8 -6.8h0m-20.3 -31.0h0m20.0 -9.5h0m8.9 6.8h0m0.9 0.7h0m-12.4 31.1h0m12.8 -1.2h0m-19.0 -37.1h0m-7.3 13.3h0m16.1 -13.7h0m0.7 -0.4h0m-17.2 36.8h0m1.7 -16.0h0m18.5 -6.4h0m7.2 27.6h0m-4.7 -50.5h0m-4.7 17.1h0m-14.1 -0.3h0m-7.3 13.0h0m0.7 -5.1h0m25.8 9.1h0m9.9 -35.1h0m-24.5 54.9h0m17.0 -37.1h0m2.7 -0.7h0m-18.5 4.8h0m-8.7 15.9h0m17.7 2.5h0m9.5 -40.2h0m-31.1 21.4h0m36.0 -22.5h0m-8.2 30.7h0m-11.3 5.2h0m9.4 19.2h0m1.3 -16.9h0m-29.0 8.0h0m22.8 -25.1h0m1.8 -14.1h0m6.1 34.3h0m-14.1 -22.9h0m12.7 8.6h0m-6.3 -26.2h0m9.8 58.6h0m-19.4 -25.1h0m6.9 -11.4h0m-4.7 20.3h0m-4.7 10.3h0m1.7 -32.2h0m-9.9 27.9h0m15.2 5.8h0m5.8 6.5h0m-5.0 -55.1h0m-3.5 22.0h0m16.4 -21.6h0m-5.5 22.6h0m7.6 23.2h0m-1.1 -59.0h0m-14.3 41.6h0m20.3 -43.4h0m-9.9 6.1h0m-29.3 28.5h0m26.3 -7.0h0m6.0 29.8h0m-25.3 -10.3h0m2.9 4.4h0m-9.0 -19.4h0m31.9 34.8h0m-33.7 -12.5h0m1.2 -12.4h0m11.1 -2.0h0m-15.0 13.4h0m17.8 -16.9h0m16.6 -22.0h0m-20.4 35.0h0m19.9 -4.0h0m-21.5 -2.0h0m20.2 8.8h0m-15.2 2.3h0m1.2 -15.2h0m7.7 9.4h0m-14.7 -23.2h0m16.5 -17.9h0m-11.9 32.4h0m19.6 -14.6h0m-6.3 -4.8h0m-1.2 48.5h0m7.5 -5.9h0m-15.3 -11.1h0m-4.4 -26.9h0m-14.8 26.6h0m13.8 -27.9h0m6.6 -12.6h0m-13.3 40.5h0m33.0 -43.8h0m-10.4 59.3h0m-14.2 -11.3h0m15.3 -1.9h0m-11.0 -34.5h0m4.0 40.6h0m-9.0 -8.5h0m25.1 -53.9h0m-28.4 30.0h0m-0.9 1.0h0m3.8 6.6h0m-5.2 -8.4h0m-1.5 2.3h0m16.3 -12.0h0m6.6 1.2h0m-22.1 22.0h0m7.6 13.2h0m20.9 -41.7h0m-9.2 6.8h0m-1.3 -8.4h0m-23.5 28.2h0m13.5 18.7h0m-9.9 -9.1h0m28.4 -43.9h0m-5.7 12.6h0m6.9 42.8h0m-21.4 -37.8h0m15.3 38.2h0m-8.3 -20.4h0m-11.8 -11.0h0m17.2 43.9h0m-0.7 -40.2h0m7.8 34.5h0m-17.0 -41.4h0m19.7 38.9h0m-27.4 -27.2h0m6.1 22.7h0m18.2 -4.8h0m-13.4 -22.5h0m-2.3 -19.6h0m-14.7 33.1h0m-1.7 -13.3h0m31.0 -13.5h0m-20.5 18.3h0m16.8 32.9h0m-6.4 -31.9h0m12.6 -22.9h0m-12.7 33.7h0m5.1 -28.5h0m-2.8 29.6h0m1.6 21.3h0m0.3 -41.0h0m5.5 -4.5h0m-2.9 -10.1h0m-18.5 11.4h0m-5.2 29.9h0m6.6 1.4h0m9.2 3.0h0m-18.9 -25.3h0m15.3 20.3h0m18.8 -43.3h0m-14.5 7.6h0m-6.7 18.5h0m14.3 17.8h0m-10.7 -10.5h0m-10.3 6.0h0m10.0 -6.8h0m10.2 -16.0h0m7.3 -3.7h0m-3.5 -8.1h0m-7.8 -1.8h0m8.5 15.3h0m-13.2 5.7h0m-6.2 15.9h0m13.2 -1.5h0m1.6 -0.5h0m-1.2 10.5h0m-12.6 -27.2h0m11.6 23.3h0m7.8 -30.6h0m-20.5 8.3h0m22.2 -7.0h0m-24.8 13.7h0m12.6 -15.1h0m7.1 2.0h0m-18.2 -7.0h0m-8.6 8.9h0m1.4 29.3h0m15.3 -3.2h0m15.6 -37.1h0m-4.7 18.1h0m-26.5 -4.1h0m-1.4 16.9h0m10.5 -7.9h0m18.1 -14.0h0m-6.1 39.0h0m-14.4 -39.2h0m1.3 -6.6h0m17.6 6.2h0m3.8 30.2h0m-13.4 -37.6h0m-17.5 37.9h0m26.6 9.7h0m-23.7 -8.7h0m27.3 7.3h0m-14.4 -10.1h0m8.5 -36.8h0m6.1 25.2h0m-25.5 -10.7h0m3.2 19.2h0m-4.6 0.6h0m2.9 -11.2h0m24.1 -11.7h0m-10.6 22.4h0m-18.2 -6.3h0m15.1 -6.0h0m6.2 -22.6h0m-2.9 21.0h0m1.9 16.5h0m8.2 4.9h0m-2.3 -52.1h0m0.2 1.3h0m-27.3 48.8h0m12.2 -42.0h0m6.5 13.9h0m10.4 33.5h0m-13.6 -39.2h0m1.0 31.1h0m6.3 -34.2h0m5.7 6.1h0m-4.0 -12.2h0m-9.5 43.3h0m12.3 -29.0h0m-4.7 -26.1h0m-5.4 25.5h0m-22.7 23.9h0m3.3 -24.7h0m6.9 11.5h0m9.9 9.0h0m17.2 -40.4h0m-12.2 53.5h0m-10.7 -14.3h0m13.5 -1.1h0m-21.1 -11.8h0m15.4 27.4h0m0.6 -36.4h0m10.1 -7.0h0m-27.6 31.9h0m18.6 13.7h0m-9.2 -4.8h0m5.8 -17.2h0m-5.2 -20.2h0m-15.4 25.4h0m33.8 -32.4h0m-9.2 13.8h0m-2.2 -9.5h0m-15.2 27.1h0m26.0 -5.1h0m-7.9 -31.3h0m-4.6 -2.1h0m10.4 38.8h0m-17.2 -6.4h0m-6.3 15.0h0m18.9 11.1h0m-3.7 -5.5h0m-6.7 -3.8h0m26.0 -58.2h0m-13.7 62.5h0m-2.7 -26.2h0m-14.5 16.6h0m5.9 2.4h0m10.5 -3.7h0m13.6 -53.8h0m-13.8 37.9h0m-11.4 23.6h0m14.9 0.1h0m2.4 -9.8h0m-9.0 -33.0h0m4.0 -6.1h0m-6.2 -3.1h0m2.9 18.2h0m-0.1 -8.0h0m-1.8 -3.6h0m-4.7 15.5h0m-13.1 11.4h0m9.7 -9.4h0m-7.8 16.9h0m27.5 8.4h0m-6.3 13.0h0m-6.6 -33.3h0m5.7 30.9h0m-16.5 -36.4h0m5.9 22.9h0m-10.7 2.4h0m26.1 -38.6h0m-2.6 50.3h0m3.3 -28.2h0m-33.1 -4.5h0m14.5 -11.6h0m-5.4 21.1h0m23.6 -31.7h0m-12.0 40.3h0m-1.0 -27.7h0m17.9 -7.2h0m-23.5 32.8h0m22.7 14.8h0m-28.2 -40.0h0m8.2 10.1h0m-8.2 -4.8h0m25.2 34.5h0m-30.4 -32.7h0m24.3 6.7h0m-2.0 28.8h0m7.4 -3.6h0m-20.6 -11.1h0m13.1 0.4h0m-11.9 -27.0h0m14.6 1.4h0m1.3 37.5h0m-18.5 -6.5h0m-0.3 -11.0h0m23.5 1.3h0m-8.6 -31.2h0m-0.6 -8.6h0m-0.2 33.1h0m-20.4 15.4h0m13.9 -4.4h0m0.1 3.7h0m12.1 -35.0h0m-8.2 42.1h0m-1.6 -43.1h0m-0.7 6.5h0m-1.8 7.6h0m-3.3 -5.8h0m2.4 7.3h0m13.7 -21.7h0m-10.2 21.8h0m9.7 8.3h0m2.1 -21.2h0m-7.7 18.1h0m-22.3 11.7h0m33.5 -42.5h0m-12.0 7.5h0m15.4 -10.4h0m-21.4 33.0h0m-9.6 12.3h0m1.4 -11.5h0m15.7 -25.1h0m-5.0 18.0h0m1.2 -29.0h0m0.3 34.0h0m-23.1 8.9h0m1.0 -14.8h0m5.4 -7.5h0m18.0 30.5h0m10.6 3.6h0m-9.3 -35.7h0m-10.6 15.0h0m-5.6 17.8h0m3.6 -2.1h0m1.5 -20.0h0m14.8 4.1h0m-18.2 -6.8h0m17.8 2.8h0m-28.4 12.3h0m17.8 -10.2h0m-9.4 13.3h0m0.3 -2.8h0m23.4 -16.0h0m4.2 -7.5h0m-20.4 -3.6h0m1.3 37.1h0m16.9 -53.0h0m-25.7 38.4h0m4.9 -9.0h0m17.4 3.9h0m9.2 -27.7h0m-18.3 54.3h0m-8.6 -28.2h0m13.6 4.9h0m-4.3 -35.2h0m-13.9 36.9h0m19.8 12.1h0m5.4 -24.3h0m-22.8 8.2h0m15.5 -13.2h0m-2.9 25.6h0m-0.4 -18.3h0m6.7 -7.1h0m-17.4 9.7h0m6.7 -2.9h0m16.8 -22.5h0m-9.7 23.7h0m-4.1 2.3h0m20.6 -36.6h0m-14.4 17.4h0m-5.8 35.1h0m9.7 1.8h0m-6.6 -8.7h0m-1.4 11.2h0m-3.2 -20.8h0m9.4 17.9h0m-2.7 11.0h0m9.9 -62.5h0m-2.1 53.8h0m-3.0 -48.1h0m-19.1 11.1h0m-10.2 12.1h0m33.3 -6.0h0m-13.2 37.1h0m9.0 -4.7h0m-1.6 8.3h0m-16.2 -13.4h0m9.5 5.7h0m-9.8 -36.6h0m2.2 -7.6h0m-5.1 29.0h0m0.9 -15.9h0m-7.7 27.1h0m21.1 -21.8h0m-6.2 16.2h0m17.2 9.3h0m-21.5 -18.9h0m6.8 -30.8h0m7.3 5.9h0m9.7 -7.6h0m-9.1 20.1h0m-9.5 -18.8h0m0.3 22.3h0m-14.5 21.7h0m22.1 -1.5h0m10.1 12.1h0m-30.4 -37.3h0m28.0 9.1h0m-19.2 18.2h0m-13.7 -18.1h0m15.4 -9.3h0m5.8 25.4h0m-2.6 10.1h0m-3.4 -19.6h0m9.1 -30.3h0m-24.4 46.7h0m13.2 -20.7h0m-16.4 3.6h0m13.0 -0.9h0m6.2 0.6h0m14.4 3.8h0m-16.7 -13.2h0m-10.0 24.5h0m16.5 -18.8h0m11.0 22.1h0m1.3 -0.3h0m1.3 5.2h0m-2.3 -54.1h0m-23.4 13.2h0m26.3 37.0h0m-0.5 -52.1h0m-25.6 31.5h0m7.9 -17.2h0m-3.9 16.5h0m-1.6 -11.5h0m15.3 25.1h0m3.9 -6.1h0m-27.4 1.3h0m21.1 23.1h0m-4.2 -12.7h0m-0.3 -3.1h0m11.1 13.8h0m-27.3 -16.2h0m24.3 -34.9h0m-1.3 54.4h0m-2.7 -11.8h0m4.3 -53.0h0m-29.0 40.6h0m29.5 -0.1h0m6.1 -39.6h0m-29.7 27.7h0m2.3 -4.5h0m26.3 -17.6h0m-16.3 24.8h0m-13.8 -4.6h0m28.6 22.3h0m-13.8 2.7h0m8.3 1.3h0m5.2 -17.1h0m-19.3 17.3h0m-8.8 -14.5h0m10.1 0.6h0m12.4 -12.6h0m-5.9 5.0h0m-4.7 2.7h0m-8.0 -8.8h0m20.4 31.9h0m-10.3 -25.2h0m-12.1 -5.8h0m17.0 -3.6h0m-7.4 -13.8h0m10.9 51.2h0m-10.7 -33.3h0m12.4 -17.9h0m-26.7 14.3h0m-3.4 18.0h0m26.1 10.7h0m2.2 1.6h0m-7.9 1.3h0m1.5 -43.7h0m-2.2 40.6h0m7.5 -6.2h0m-26.1 -11.0h0m7.3 9.0h0m25.5 7.4h0m0.6 -9.7h0m-14.3 -19.5h0m-15.5 12.5h0m29.0 17.0h0m-23.2 -36.3h0m11.6 19.4h0m-7.6 -17.2h0m9.4 -14.6h0m4.5 36.0h0m-13.2 9.8h0m0.6 1.7h0m11.6 10.5h0m-18.0 -13.0h0m21.3 6.1h0m-17.6 -39.0h0m-8.6 14.5h0m-5.7 16.0h0m37.9 -19.3h0m-18.2 22.6h0m-9.7 -4.7h0m18.4 4.7h0m7.8 -24.6h0m-0.9 -13.6h0m-27.4 9.3h0m1.2 29.1h0m0.6 -4.5h0m15.5 14.1h0m6.1 -20.3h0m1.0 -22.2h0m1.0 -9.4h0m4.2 41.7h0m-6.8 -50.5h0m4.0 27.0h0m2.8 -27.6h0m-14.5 16.0h0m13.2 43.1h0m3.2 -62.7h0m-5.5 52.2h0m1.7 -37.6h0m-22.8 19.4h0m23.0 -15.2h0m1.1 38.4h0m-7.9 -10.6h0m-25.5 -5.8h0m27.8 -16.6h0m-23.1 10.5h0m9.0 23.5h0m-7.6 -1.5h0m22.0 12.6h0m-18.0 -30.1h0m12.3 2.4h0m-5.4 -28.2h0m-1.1 11.4h0m16.6 2.3h0m-9.3 32.1h0m1.1 -13.6h0m3.5 -43.1h0m-10.4 8.9h0m14.4 35.8h0m-20.5 -10.2h0m5.4 16.1h0m-0.8 -41.0h0m-14.1 17.6h0m20.2 26.3h0m-9.2 -16.2h0m21.9 22.9h0m-29.3 -8.8h0m-6.4 1.4h0m25.6 2.7h0m-8.3 1.2h0m14.9 -11.8h0m3.1 19.1h0m-35.3 -27.6h0m2.3 15.2h0m11.8 -23.4h0m-4.4 22.2h0m4.5 1.3h0m10.3 -10.4h0m2.1 25.0h0m-1.4 -16.8h0m-15.2 -1.2h0m13.0 -24.4h0m3.2 38.6h0m-27.0 -11.0h0m32.6 -25.5h0m-24.5 14.7h0m2.7 15.2h0m-6.5 -13.6h0m30.0 -21.7h0m-5.7 15.1h0m10.0 -24.5h0m-34.3 12.9h0m23.2 -4.3h0m-24.4 28.9h0m33.0 10.7h0m-19.7 -40.3h0m6.1 4.5h0m9.8 -23.5h0m-30.3 48.8h0m29.3 -1.0h0m-8.9 -44.7h0m-21.4 46.7h0m14.3 -7.2h0m-9.4 -19.2h0m16.2 -8.5h0m4.6 17.0h0m-23.7 0.7h0m0.4 4.9h0m29.8 -6.2h0m4.2 -25.7h0m-1.4 21.5h0m2.0 -12.8h0m-16.0 37.0h0m-19.1 -11.0h0m23.7 -34.8h0m-24.8 26.7h0m4.7 23.3h0m23.1 -35.8h0m5.8 9.7h0m-14.1 -6.9h0m11.4 -21.9h0m1.7 34.1h0m-8.8 -25.8h0m-0.4 -2.9h0m4.4 60.9h0m-7.9 -53.5h0m-5.6 -0.0h0m7.3 38.4h0m-1.6 -0.7h0m7.1 -37.1h0m-2.8 24.5h0m-12.5 19.0h0m10.6 -2.0h0m1.5 -50.6h0m8.9 30.9h0m-21.3 11.5h0m22.8 7.3h0m-11.8 -12.5h0m-23.4 0.2h0m11.9 -20.0h0m5.6 36.8h0m2.7 -11.0h0m-15.5 -14.4h0m7.2 -11.4h0m3.3 24.9h0m5.9 12.6h0m-7.0 -19.0h0m-10.7 10.2h0m-1.0 2.5h0m14.6 3.0h0m12.0 -41.6h0m-0.2 17.5h0m-12.7 7.0h0m16.0 -4.4h0m0.2 -34.0h0m-17.5 25.8h0m20.7 25.8h0m-2.6 -31.0h0m-31.0 22.8h0m27.8 7.0h0m-20.9 -25.0h0m18.5 1.1h0m-10.9 -0.8h0m-3.8 -5.2h0m-5.6 34.0h0m-1.1 -9.2h0m11.0 6.1h0m14.7 -36.7h0m-20.3 9.4h0m5.7 22.7h0m0.7 -16.3h0m-2.7 25.0h0m-11.8 -23.4h0m15.6 20.9h0m3.2 2.8h0m-2.0 -6.7h0m-5.8 -30.0h0m19.4 -1.7h0m-18.3 -0.9h0m-8.0 28.9h0m11.3 -19.3h0m-2.7 -2.7h0m12.3 37.7h0m-21.0 -34.6h0m11.8 15.0h0m11.9 -4.6h0m-5.6 6.6h0m-7.4 -26.1h0m-12.8 7.2h0m-5.5 6.9h0m24.5 26.2h0m-24.6 -20.6h0m37.7 23.6h0m3.0 -68.8h0m-42.6 40.2h0m12.4 2.2h0m21.2 11.9h0m-5.7 -36.7h0m1.2 18.4h0m-21.1 11.7h0m30.4 -21.2h0m-0.6 -4.5h0m-13.7 -11.4h0m7.6 2.2h0m-3.5 8.4h0m2.6 42.6h0m4.4 -16.3h0m0.0 10.7h0m-10.5 -26.7h0m9.5 40.4h0m2.8 -33.3h0m-25.9 6.2h0m12.5 15.6h0m-5.2 -18.5h0m1.3 -3.3h0m8.3 7.8h0m-15.0 -16.8h0m0.8 1.9h0m15.3 43.2h0m-22.9 -13.2h0m13.7 4.7h0m7.0 -26.2h0m7.2 -28.0h0m-21.8 13.4h0m-12.0 27.0h0m23.3 -39.8h0m-5.3 14.0h0m-11.9 34.3h0m23.3 -15.2h0m-7.5 -19.9h0m-15.0 26.9h0m11.8 2.7h0m-12.1 5.7h0m25.0 -30.3h0m-14.3 5.9h0m-4.4 -10.2h0m-6.8 31.5h0m30.8 13.4h0m-24.8 -8.7h0m23.1 -45.7h0m3.0 15.0h0m-3.5 5.0h0m-15.9 22.6h0m5.7 -22.9h0m-12.3 15.2h0m12.3 -41.1h0m-0.0 4.3h0m2.6 7.2h0m3.6 26.8h0m-8.4 -16.7h0m-18.4 25.5h0m25.0 8.7h0m8.9 -52.8h0m-29.6 41.2h0m-0.8 -17.9h0m20.2 37.6h0m3.1 -38.7h0m3.4 -22.9h0m-20.3 38.9h0m19.6 -30.9h0m-21.8 28.9h0m5.3 6.9h0m-11.6 -23.1h0m7.9 -7.4h0m25.2 -13.2h0m5.8 -6.0h0m-42.0 54.2h0m9.6 -7.7h0m7.5 -36.1h0m14.4 -3.8h0m-14.9 33.4h0m17.8 12.3h0m6.8 -57.9h0m-32.8 60.5h0m13.7 -51.1h0m-14.8 42.4h0m14.3 -0.9h0m0.4 9.2h0m-8.4 -0.6h0m15.4 -17.6h0m2.2 -32.5h0m-14.9 17.3h0m-6.5 5.0h0m19.6 -14.7h0m-19.4 25.2h0m6.5 17.3h0m14.2 -50.3h0m-31.2 45.8h0m25.3 -38.1h0m4.3 31.7h0m5.6 -45.2h0m-2.2 15.4h0m-16.7 30.7h0m4.4 -26.0h0m-3.6 20.7h0m-6.8 -15.3h0m9.5 31.3h0m9.5 2.6h0m5.4 -7.4h0m0.2 -36.5h0m-35.7 19.2h0m18.8 2.9h0m5.2 19.7h0m14.5 -46.4h0m-30.9 40.5h0m22.8 16.4h0m-6.1 -49.0h0m-2.2 32.0h0m-3.0 11.1h0m17.3 -8.4h0m-29.7 -21.2h0m27.2 21.7h0m-32.4 -14.9h0m22.2 -30.8h0m6.5 28.5h0m-3.3 -29.1h0m-16.4 19.1h0m22.3 8.0h0m-7.0 23.7h0m7.3 9.5h0m-27.9 -22.8h0m30.4 -19.7h0m-25.2 3.2h0m25.1 23.2h0m-11.1 -17.6h0m-22.8 0.3h0m20.6 -8.1h0m-0.1 36.9h0m10.1 -8.4h0m-17.8 -22.6h0m23.1 -24.1h0m-12.4 6.1h0m5.2 6.4h0m-5.0 25.1h0m-2.4 3.5h0m-1.1 -14.7h0m11.7 34.2h0m-3.2 -62.1h0m-2.1 13.2h0m11.5 -14.9h0m-13.0 23.3h0m-18.9 29.6h0m25.3 -13.1h0m-20.6 -18.2h0m15.5 1.9h0m9.1 -19.1h0m-37.3 30.4h0m19.8 -28.9h0m0.9 2.0h0m16.3 51.9h0m-30.3 -17.6h0m15.2 14.2h0" stroke="#3444a4" stroke-width="1.05" stroke-linecap="round" fill="none"/>
<path d="M104.7 61.5h0m-42.5 43.1h0m57.6 -15.0h0m-7.8 -8.0h0m-4.9 -24.8h0m-33.3 45.3h0m-5.4 3.7h0m5.5 -3.3h0m6.7 -45.4h0m-12.6 49.3h0m39.9 -3.9h0m-15.9 -45.4h0m-0.9 27.5h0m-1.5 -28.7h0m26.9 -2.6h0m-21.3 33.1h0m-1.0 12.5h0m25.6 -30.4h0m-23.1 40.8h0m-24.3 -9.0h0m47.2 -18.6h0m-19.6 14.3h0m-16.2 -4.1h0m-8.4 -24.0h0m46.4 -4.0h0m-24.2 -0.2h0m-19.7 26.5h0m16.9 -11.1h0m-3.5 17.8h0m-0.2 -12.7h0m14.8 -24.2h0m-5.6 49.7h0m1.6 -23.4h0m-9.4 -43.4h0m8.2 53.3h0m-24.9 -43.6h0m44.4 34.8h0m-22.7 7.1h0m22.3 -4.8h0m-11.8 -30.2h0m-3.1 21.0h0m6.4 -18.2h0m-34.4 -12.6h0m3.9 10.4h0m-4.3 4.7h0m5.7 40.9h0m23.3 -15.7h0m-23.2 -40.1h0m-4.4 31.0h0m10.2 -25.4h0m8.2 -10.8h0m17.3 6.8h0m-11.7 53.1h0m2.3 -54.4h0m-14.5 62.2h0m38.0 -36.9h0m-60.6 24.3h0m35.5 -19.9h0m-2.0 15.5h0m9.7 5.1h0m-23.0 -39.6h0m8.4 34.6h0m7.7 -2.5h0m-7.3 -24.3h0m4.7 10.0h0m-11.9 18.7h0m1.3 -0.2h0m-13.0 -30.0h0m9.9 -9.3h0m25.9 39.8h0m-13.1 -5.6h0m11.4 -39.5h0m10.4 14.0h0m3.5 8.1h0m-44.8 25.5h0m39.3 -28.8h0m-27.2 -26.7h0m-9.8 36.3h0m-5.9 -25.6h0m11.3 9.1h0m-4.8 19.1h0m6.7 10.0h0m18.4 -30.6h0m-11.0 39.3h0m-16.1 -17.9h0m7.9 5.0h0m-2.0 -0.4h0m37.3 -18.6h0m-50.7 -3.8h0m11.8 9.2h0m37.3 -11.0h0m-45.4 -7.2h0m22.7 28.9h0m-21.2 -7.5h0m37.4 -17.5h0m10.9 8.1h0m-28.8 -5.7h0m-6.2 -4.4h0m-17.0 6.8h0m-1.1 27.9h0m17.9 -4.6h0m7.0 19.3h0m-19.9 -19.7h0m47.8 -10.8h0m-44.1 11.6h0m27.6 -0.1h0m5.2 -1.3h0m-18.1 -37.9h0m-1.7 -2.0h0m-16.4 59.0h0m7.2 -12.6h0m12.0 -36.4h0m-36.5 50.7h0m11.8 -33.0h0m8.5 28.4h0m8.8 -70.2h0m-7.0 72.5h0m15.7 3.9h0m-23.1 -43.0h0m9.9 -11.1h0m9.3 44.5h0m-22.6 0.5h0m16.5 -8.9h0m-11.6 -12.0h0m17.5 -9.1h0m-19.4 -21.2h0m28.0 28.0h0m-1.6 -11.7h0m-27.6 3.7h0m-9.0 40.9h0m47.0 -39.2h0m-20.1 -38.2h0m-2.3 -0.2h0m22.9 59.0h0m-1.0 -34.3h0m-33.0 43.2h0m41.5 -35.0h0m-4.7 -8.1h0m-7.3 16.4h0m-13.7 22.5h0m21.9 -9.0h0m-35.5 15.7h0m7.7 1.3h0m-7.3 1.4h0m13.5 -72.0h0m-19.6 67.1h0m-2.1 7.3h0m23.2 -6.6h0m-7.5 -44.8h0m-7.6 48.2h0m-2.4 -37.1h0m26.3 -9.1h0m3.1 36.9h0m-7.0 -3.2h0m-9.8 -12.9h0m-12.8 -33.2h0m22.2 -11.5h0m-18.8 14.0h0m25.7 38.2h0m9.4 -25.2h0m-18.7 9.3h0m20.4 17.1h0m-31.7 -34.7h0m-22.7 44.6h0m42.1 2.0h0m-40.9 10.9h0m8.3 -12.0h0m35.0 -56.4h0m-9.8 14.3h0m-5.1 34.0h0m21.0 -40.2h0m-32.9 27.5h0m42.6 -0.7h0m-8.1 -19.6h0m-42.5 -2.7h0m23.2 2.1h0m17.4 35.1h0m-12.9 -38.0h0m-32.8 46.7h0m33.4 -32.0h0m-27.6 -1.6h0m34.9 -23.1h0m-14.8 66.0h0m5.8 -7.3h0m-6.1 -37.4h0m-9.6 -0.7h0m15.4 -2.8h0m-26.5 38.1h0m23.2 -18.2h0m-30.1 20.5h0m27.7 -38.2h0m-11.7 41.0h0m-5.1 -0.8h0m-0.4 -58.2h0m28.2 14.5h0m1.1 19.7h0m-25.2 -31.3h0m13.6 46.1h0m18.9 -4.4h0m1.4 -31.3h0m-2.5 3.0h0m-9.8 -3.1h0m-0.6 -19.9h0m-16.0 -3.0h0m13.6 40.0h0m-25.7 3.3h0m49.6 -2.5h0m-16.6 19.0h0m-11.1 -32.7h0m10.8 4.5h0m-32.3 -13.7h0m23.7 51.3h0m11.7 -51.6h0m9.3 22.8h0m-6.6 -20.4h0m-20.9 -15.8h0m-8.6 48.3h0m13.7 -48.0h0m-5.1 62.7h0m-26.3 -4.6h0m35.5 -14.7h0m-10.6 4.1h0m16.7 -16.2h0m-10.6 -5.2h0m-34.2 40.7h0m28.7 -69.7h0m12.2 21.6h0m-40.5 48.0h0m41.5 -50.6h0m-11.3 38.7h0m-6.3 -2.5h0m28.3 -41.4h0m-40.6 50.1h0m11.1 -12.7h0m31.2 -31.1h0m-22.3 -9.5h0m2.8 34.8h0m-31.7 14.7h0m36.3 -40.6h0m3.7 41.2h0m-1.3 -16.0h0m-16.8 -29.2h0m35.4 28.2h0m-27.6 -16.6h0m16.4 4.9h0m-33.4 -16.8h0m48.0 14.5h0m-5.3 -2.2h0m-4.2 -9.7h0m-37.8 -3.8h0m20.9 22.1h0m12.0 -13.4h0m-23.5 18.9h0m13.3 1.1h0m-9.7 -28.5h0m28.7 24.4h0m-10.3 0.6h0m-9.8 -39.0h0m-1.4 19.0h0m5.3 -4.7h0m-6.2 41.0h0m-2.8 16.4h0m-16.1 -46.8h0m28.0 -17.8h0m-20.4 46.1h0m24.4 -12.6h0m-24.6 1.4h0m-8.6 -16.5h0m48.7 4.8h0m-40.9 -7.7h0m15.2 -12.9h0m14.1 43.8h0m-7.8 -44.9h0m14.8 11.6h0m-43.2 24.9h0m1.7 -20.1h0m-11.9 37.5h0m53.5 -23.1h0m2.5 0.9h0m-52.0 -17.1h0m43.4 11.2h0m-28.4 -21.3h0m-1.2 -10.6h0m3.7 62.9h0m36.1 -27.0h0m-42.3 -27.2h0m-17.6 46.5h0m21.3 -22.2h0m25.6 -5.0h0m-45.2 36.4h0m-0.5 -1.0h0m53.7 -46.8h0m-55.9 42.1h0m29.3 -67.6h0m2.7 55.4h0m13.5 -31.2h0m-33.8 -5.1h0m-5.6 12.5h0m39.3 21.8h0m8.4 -9.3h0m-25.5 -29.8h0m3.4 36.4h0m21.3 7.3h0m-15.9 -40.9h0m16.0 23.2h0m-3.5 -23.9h0m-9.8 33.8h0m-24.3 4.8h0m4.5 -33.5h0m8.1 48.5h0m6.6 -29.0h0m3.0 -20.5h0m-38.8 46.4h0m29.5 -59.4h0m-15.8 23.4h0m35.2 1.0h0m-20.2 44.5h0m-2.6 -72.9h0m11.6 8.6h0m-9.9 8.4h0m-29.2 49.3h0m35.4 -29.5h0m-3.6 29.4h0m-0.5 -1.6h0m-14.7 -41.8h0m35.6 25.5h0m-42.4 9.3h0m-1.6 -25.4h0m29.6 -0.9h0m-23.8 0.1h0m30.2 -0.2h0m-22.0 42.8h0m-6.4 -7.6h0m13.9 -52.8h0m16.4 -4.7h0m-36.8 23.3h0m7.8 -5.0h0m26.8 -4.9h0m-0.3 23.5h0m-24.0 -38.2h0m-0.4 63.5h0m4.9 -54.0h0m-1.9 0.4h0m26.1 -8.7h0m-1.5 3.8h0m-5.8 34.2h0m-10.4 6.9h0m25.1 -38.1h0m-15.5 36.6h0m-30.7 -6.0h0m37.7 -0.1h0m-9.9 -46.8h0m-26.9 63.4h0m35.9 -47.0h0m9.3 26.8h0m-43.5 23.7h0m26.2 -11.7h0m-24.0 -32.3h0m16.7 11.4h0m-3.4 13.6h0m28.0 -26.6h0m-20.3 -17.5h0m-21.1 10.0h0m36.5 15.6h0m-18.0 22.2h0m7.0 -22.0h0m11.6 2.0h0m-11.4 -25.0h0m11.7 17.7h0m3.4 26.2h0m2.1 1.7h0m-31.3 -13.4h0m25.9 20.5h0m-30.8 -3.3h0m25.5 -34.8h0m-6.4 14.2h0m-19.7 4.6h0m4.0 -25.3h0m6.8 -5.0h0m-12.2 44.3h0m-2.6 -25.7h0m12.8 -7.4h0m1.1 52.8h0m14.7 -55.8h0m-12.4 43.9h0m-0.0 -24.7h0m12.0 -3.4h0m-24.2 11.8h0m3.8 -11.2h0m-2.7 36.6h0m-14.4 -4.1h0m44.0 -33.8h0m-22.1 -14.7h0m28.8 34.9h0m-29.2 -55.1h0m-12.7 25.4h0m0.8 13.1h0m-1.0 0.5h0m-2.0 27.1h0m50.7 -23.9h0m-16.4 7.5h0m-26.1 -42.3h0m-8.7 67.4h0m19.8 -57.9h0m-2.3 51.2h0m2.2 -66.4h0m12.9 8.2h0m-30.2 55.6h0m45.4 -31.1h0m-36.3 -4.9h0m7.0 -3.6h0m12.4 12.1h0m-13.0 1.3h0m-23.9 26.9h0m2.3 -33.9h0m36.4 15.2h0m14.9 -2.6h0m-17.8 9.8h0m0.8 -46.8h0m-6.6 23.8h0m-11.6 40.4h0m16.2 -37.6h0m-5.6 7.2h0m21.3 -3.9h0m-7.6 7.6h0m9.2 -7.0h0m0.4 -7.5h0m-47.7 46.7h0m-1.5 -45.6h0m20.6 -17.9h0m6.0 59.4h0m-17.8 -46.9h0m5.9 29.7h0m20.0 9.5h0m-39.1 7.1h0m-8.8 -4.6h0m33.6 -5.5h0m22.9 -40.1h0m-31.5 37.9h0m13.3 11.9h0m25.6 -24.7h0m-35.4 -31.9h0m-0.9 -5.4h0m31.9 36.2h0m3.2 -2.8h0m-38.3 -21.0h0m18.4 30.5h0m7.4 -8.0h0m11.6 2.9h0m-36.4 22.1h0m-19.4 -1.7h0m22.5 -27.4h0m12.2 11.7h0m-13.4 11.6h0m29.5 -10.8h0m-8.9 8.4h0m-1.3 -35.0h0m15.6 2.8h0m-55.6 44.2h0m47.4 -23.0h0m-0.1 -30.5h0m-15.4 8.0h0m-25.4 43.8h0m29.5 -45.1h0m19.9 -3.8h0m-5.9 31.3h0m-12.8 -30.2h0m-6.0 31.3h0m-1.8 -25.2h0m-3.5 -8.7h0m3.1 11.3h0m-10.5 -5.5h0m-0.1 12.6h0m-12.6 28.5h0m30.0 -17.1h0m11.3 -33.0h0m-24.5 -19.5h0m-15.9 28.4h0m35.8 -13.7h0m-13.5 -12.8h0m-11.0 62.1h0m1.8 -41.5h0m17.7 -3.2h0m-10.0 7.8h0m-17.2 8.2h0m8.2 -4.4h0m-4.6 38.4h0m-4.1 -30.7h0m0.2 39.6h0m7.9 -24.5h0m18.6 -24.6h0m6.8 12.9h0m-6.0 -15.0h0m-36.4 39.7h0m41.3 -2.7h0m-30.1 -11.2h0m4.8 5.8h0m13.6 -15.6h0m15.1 -11.9h0m-35.9 23.9h0m18.1 -19.2h0m28.6 2.3h0m-10.9 -12.9h0m-22.3 36.6h0m15.2 -1.5h0m4.6 -24.0h0m-21.3 15.3h0m-9.6 7.4h0m18.6 -47.6h0m-9.8 34.3h0m11.9 -37.9h0m24.4 19.1h0m-33.2 -17.3h0m-0.6 8.2h0m19.5 28.0h0m5.2 8.6h0m-36.0 3.2h0m14.2 -48.0h0m4.1 -7.9h0m-13.3 26.2h0m25.0 6.9h0m-7.5 -20.4h0m-5.0 62.9h0m6.8 -22.0h0m16.5 -2.2h0m-22.0 -20.4h0m26.3 -5.8h0m-1.5 -5.5h0m-27.9 56.6h0m19.1 -40.9h0m-50.8 35.4h0m56.8 -43.7h0m-22.8 -26.7h0m-21.7 22.5h0m9.5 24.6h0m0.4 -37.8h0m-1.9 48.7h0m27.6 -23.6h0m-1.5 15.1h0m-3.9 12.1h0m-20.4 -41.1h0m18.0 -6.4h0m-38.2 57.3h0m18.2 -39.4h0m23.1 -8.8h0m-13.4 42.5h0m-18.7 -1.6h0m5.3 -31.9h0m4.1 -21.8h0m19.5 1.3h0m-30.0 22.6h0m10.9 -13.7h0m21.8 -1.2h0m-28.6 39.0h0m21.9 -2.2h0m-17.1 -17.5h0m14.0 36.9h0m-8.4 -31.1h0m10.7 11.4h0m4.5 -43.7h0m-28.0 38.5h0m6.9 -3.3h0m8.7 -48.5h0m22.6 39.8h0m0.2 -9.6h0m-17.0 0.4h0m-20.0 0.2h0m-5.6 40.5h0m23.7 -12.1h0m23.0 -18.9h0m-5.8 -2.2h0m-21.8 0.7h0m12.3 13.0h0m-1.0 4.1h0m10.7 -41.4h0m-25.0 14.7h0m-11.9 14.8h0m32.2 5.3h0m-4.4 5.3h0m-8.7 22.4h0m13.7 -55.6h0m-22.4 11.7h0m-9.2 17.1h0m-0.8 -25.0h0m6.2 43.0h0m15.0 -60.0h0m-15.2 10.3h0m11.2 47.0h0m5.6 -59.1h0m2.7 61.1h0m-4.2 -65.0h0m1.3 30.6h0m10.0 19.7h0m-35.4 -17.9h0m30.6 -13.9h0m-35.9 49.0h0m30.5 -23.9h0m-24.2 -14.2h0m45.5 19.7h0m-6.9 11.6h0m-36.7 13.8h0m14.7 -14.8h0m-10.6 -36.5h0m29.1 -17.5h0m-8.1 20.5h0m-9.7 42.0h0m22.4 -27.9h0m-14.7 26.8h0m-1.2 -32.2h0m15.5 -12.9h0m1.9 0.7h0m-30.6 -9.8h0m0.3 38.1h0m3.2 -7.9h0m25.9 -4.8h0m-15.7 -8.1h0m4.3 -15.9h0m17.0 17.7h0m-5.8 23.1h0m-35.1 -25.7h0m21.0 1.3h0m20.8 -1.1h0m-15.5 -10.1h0m-9.9 5.5h0m-32.0 39.6h0m51.8 -46.4h0m-36.5 38.0h0m19.8 10.4h0m9.9 -19.8h0m-22.6 -22.1h0m3.6 -22.3h0m-5.8 30.3h0m6.4 0.5h0m28.0 1.3h0m-40.0 -18.2h0m1.7 1.4h0m16.1 29.1h0m-4.3 -46.7h0m1.3 11.9h0m7.4 6.1h0m-15.7 24.3h0m39.0 -18.8h0m-34.7 -16.0h0m24.6 36.4h0m-8.3 -19.0h0m-8.9 -10.4h0m11.0 15.2h0m-11.8 9.7h0m-14.3 27.0h0m9.9 -31.2h0m16.6 11.6h0m-7.3 -8.8h0m-11.4 27.9h0m34.7 -36.3h0m-41.6 -21.5h0m9.4 45.2h0m3.3 20.1h0m21.2 -20.5h0m-37.9 -31.3h0m-10.7 40.2h0m52.7 -18.8h0m-55.0 24.7h0m11.2 -39.8h0m43.3 -13.1h0m-6.4 7.3h0m-8.2 -14.3h0m-18.2 56.8h0m-9.3 -33.1h0m23.4 34.6h0m-10.9 -28.9h0m11.1 -14.2h0m21.6 15.9h0m-17.6 -18.7h0m-14.3 34.2h0m7.2 3.0h0m5.1 -48.8h0m1.3 5.3h0m1.7 48.3h0m-30.1 -16.3h0m2.8 -17.2h0m16.5 1.8h0m30.2 -3.4h0m-46.1 -11.6h0m46.6 30.8h0m-25.7 -11.2h0m-7.5 15.9h0m-30.2 16.6h0m11.9 -0.2h0m13.8 -63.1h0m-9.1 19.8h0m0.6 -9.3h0m-6.1 22.9h0m50.9 -4.2h0m-27.5 39.9h0m-15.3 -50.8h0m11.8 -9.4h0m18.8 10.7h0m-35.5 -1.7h0m19.9 29.2h0m-8.2 -15.3h0m13.9 -23.9h0m8.1 50.4h0m-13.3 -16.6h0m19.1 -23.5h0m2.2 -6.4h0m-31.6 4.6h0m3.0 19.6h0m35.2 -11.7h0m-35.1 16.3h0m-16.8 28.7h0m4.1 -56.9h0m19.3 20.4h0m-2.3 11.1h0m27.3 -12.4h0m-21.0 33.4h0m-16.4 -10.3h0m23.2 -2.0h0m-7.6 -32.4h0m1.5 0.1h0m-19.9 -9.9h0m-1.2 2.1h0m19.6 -15.0h0m-24.4 60.9h0m37.6 -52.9h0m-5.6 40.9h0m-19.9 -17.0h0m27.6 -9.0h0m-15.3 30.6h0m-6.7 11.2h0m8.5 -45.3h0m0.9 33.5h0m-13.9 9.1h0m-5.0 -9.2h0m31.1 -24.1h0m-20.1 28.2h0m-8.1 -36.6h0m-8.5 41.8h0m21.6 -33.3h0m4.5 8.9h0m-3.5 14.2h0m-12.3 -18.8h0m-7.0 -18.1h0m10.6 56.0h0m-9.6 -33.0h0m37.4 -14.1h0m-36.7 30.7h0m-16.8 6.1h0m20.5 4.6h0m22.9 -10.1h0m-28.1 -41.9h0m1.0 20.9h0m5.9 29.7h0m10.9 -41.4h0m-8.1 -1.2h0m22.4 -9.6h0m-14.7 58.8h0m-12.5 -6.7h0m0.1 -28.2h0m22.9 -30.2h0m-34.8 26.3h0m17.2 7.8h0m5.0 7.5h0m2.7 14.0h0m21.5 -47.5h0m-4.8 40.3h0m2.9 -18.3h0m-28.4 -34.8h0m-10.3 56.5h0m15.2 -30.9h0m30.3 3.5h0m-8.6 -13.8h0m6.1 22.0h0m-42.9 32.4h0m45.3 -36.3h0m-22.2 7.4h0m4.9 -34.1h0m-6.4 -6.8h0m-16.4 42.4h0m-9.3 -29.8h0m36.7 30.0h0m-17.1 22.0h0m-5.9 -24.1h0m-10.8 -26.7h0m22.2 31.1h0m-34.0 25.9h0m34.4 -50.5h0m-1.4 6.0h0m-23.1 15.0h0m15.4 -21.3h0m6.6 34.9h0m-13.1 -21.5h0m13.1 -39.2h0m-5.8 61.8h0m22.7 -24.5h0m5.4 14.0h0m-41.6 -19.1h0m-3.0 19.7h0m21.7 -13.8h0m-24.7 -7.0h0m53.8 0.7h0m-50.0 0.7h0m4.8 4.7h0m14.3 4.6h0m7.0 -34.9h0m-12.4 -2.1h0m2.8 59.0h0m18.6 -16.8h0m-38.2 -15.5h0m-4.4 30.9h0m44.9 -10.9h0m0.4 5.9h0m-51.4 18.6h0m25.2 -54.8h0m-10.9 2.4h0m20.4 12.8h0m7.7 -13.0h0m-8.1 0.6h0m-9.1 9.3h0m8.8 -33.2h0m24.4 41.6h0m-20.3 -22.9h0m-32.4 46.3h0m34.8 -42.6h0m3.5 -11.2h0m11.5 13.0h0m-37.8 -13.4h0m20.0 33.0h0m-12.5 18.8h0m0.7 -4.9h0m23.7 -45.2h0m-39.2 58.7h0m46.7 -20.6h0m-42.1 -15.8h0m45.9 12.2h0m-11.0 -20.8h0m-8.4 3.4h0m-6.0 0.2h0m0.9 -7.5h0m-17.3 33.7h0m11.1 20.8h0m7.0 -17.6h0m-6.6 -46.5h0m16.0 25.9h0m3.4 -11.9h0m-3.4 -3.7h0m0.5 9.1h0m14.8 -2.7h0m-27.6 -20.0h0m-2.0 20.6h0m-13.9 12.3h0m-0.8 26.5h0m-0.4 -41.0h0m2.9 19.9h0m19.3 2.3h0m-5.2 -45.8h0m-22.1 64.8h0m49.2 -25.2h0m-40.8 32.4h0m1.2 -20.0h0m6.7 -42.7h0m2.0 1.3h0m-23.9 59.2h0m21.5 -70.2h0m25.5 21.7h0m-21.9 -7.8h0m21.5 11.6h0m-4.1 -2.3h0m-13.7 14.6h0m-1.6 23.9h0m24.7 -44.9h0m-47.1 3.5h0m22.6 31.6h0m-1.6 -1.7h0m13.1 -4.8h0m-30.6 -23.2h0m26.8 0.1h0m11.5 -4.0h0m-38.9 36.5h0m33.3 -4.6h0m-5.5 0.3h0m9.4 5.9h0m-30.1 10.5h0m0.7 -25.9h0m-14.7 30.6h0m30.2 -52.0h0m-25.1 -1.0h0m9.0 50.1h0m4.8 -45.9h0m31.4 -1.9h0m-31.7 22.7h0m3.4 14.1h0m23.7 -26.8h0m-10.8 5.8h0m-24.3 32.9h0m17.2 -40.9h0m14.8 15.2h0m-35.2 -9.4h0m8.7 -16.8h0m2.5 48.6h0m-7.4 -22.0h0m-3.4 -24.8h0m31.4 12.0h0m-16.2 40.3h0m26.8 -33.2h0m-11.1 15.2h0m6.4 -31.3h0m-13.7 -11.2h0m0.2 22.6h0m-23.9 -19.3h0m12.0 -15.2h0m-13.5 45.1h0m17.0 -26.1h0m31.5 16.6h0m-20.2 -12.9h0m-24.5 46.2h0m12.7 -5.9h0m9.4 1.6h0m-12.8 -63.3h0m-16.5 48.2h0m25.7 -45.1h0m-24.0 39.1h0m43.3 -21.8h0m-17.3 16.9h0m-3.7 -2.9h0m-10.2 -3.9h0m24.1 -21.9h0m-16.6 38.9h0m4.2 -7.6h0m7.2 -19.2h0m-14.4 47.0h0m23.1 -14.6h0m-17.6 -22.2h0m-2.2 31.2h0m-18.8 -48.6h0m9.5 30.9h0m-5.1 -12.2h0m17.2 4.9h0m8.1 -27.0h0m-13.9 26.0h0m28.2 -0.0h0m-41.3 -20.2h0m20.2 47.6h0m9.7 -56.9h0m-30.0 -0.6h0m24.9 17.3h0m2.1 -0.7h0m10.4 11.0h0m-8.2 13.4h0m-11.7 -42.0h0m14.8 31.9h0m-33.8 -15.4h0m4.4 3.5h0m12.8 -5.0h0m25.9 0.0h0m-40.6 19.0h0m-12.1 35.8h0m11.5 -20.4h0m1.5 -9.4h0m1.7 -33.0h0m6.6 33.8h0m-16.6 -0.8h0m-7.1 21.1h0m38.0 -51.4h0m-28.5 24.3h0m4.6 18.1h0m14.3 -26.4h0m2.0 -34.2h0m-11.2 69.0h0m-3.5 -13.7h0m34.1 -28.4h0m-47.2 48.7h0m31.3 -26.7h0m-2.2 -41.6h0m-15.4 63.6h0m31.7 -18.1h0m-30.8 -19.3h0m26.4 14.4h0m8.0 -23.9h0m-5.5 2.7h0m-4.3 26.2h0m-1.1 -27.1h0m-10.2 25.4h0m-7.2 -12.9h0m-10.1 -14.3h0m3.2 22.7h0m39.4 -5.0h0m-43.8 -12.8h0m-7.7 42.0h0m10.4 -14.7h0m-7.7 9.7h0m5.8 -7.9h0m-2.6 -34.8h0m51.5 15.0h0m-21.4 -21.4h0m-12.0 50.3h0m-6.7 -37.9h0m29.8 -3.4h0m-30.3 -13.9h0m29.8 13.0h0m-8.9 0.5h0m0.2 25.9h0m11.8 -30.2h0m-36.2 -11.8h0m-1.7 12.5h0m24.6 39.9h0m15.6 -26.0h0m-22.3 22.1h0m-7.1 -19.6h0m1.8 38.1h0m-21.6 -37.3h0m18.0 -16.1h0m-1.3 -14.1h0m6.1 41.8h0m26.1 -2.1h0m-1.9 -21.6h0m3.8 2.0h0m-37.9 18.7h0m19.8 4.9h0m-17.9 -34.1h0m17.3 -9.5h0m-8.9 47.4h0m-12.7 13.0h0m25.5 -34.4h0m-31.5 -3.9h0m-2.7 13.1h0m13.7 18.2h0m15.1 -26.1h0m-16.3 -35.1h0m-7.0 22.2h0m25.7 -11.7h0m-18.8 -10.1h0m17.1 15.9h0m-18.4 41.0h0m-8.4 12.0h0m9.7 -25.7h0m11.0 28.3h0m27.7 -39.3h0m-28.3 18.6h0m-2.3 15.3h0m24.2 -19.1h0m-29.8 -13.1h0m5.6 -25.3h0m16.4 31.3h0m-16.9 33.8h0m6.2 -2.1h0m-5.3 3.8h0m1.7 -8.8h0m-8.9 -20.9h0m1.9 2.7h0m20.6 -23.4h0m9.7 4.4h0m-39.1 -3.4h0m-8.0 47.5h0m19.2 -76.7h0m-9.8 53.5h0m11.5 -8.2h0m-20.1 20.3h0m41.7 -50.5h0m-16.7 -10.7h0m4.3 47.0h0m-1.4 8.2h0m-19.5 -42.3h0m11.0 49.5h0m31.0 -18.8h0m-10.9 -7.9h0m-19.5 28.4h0m14.1 -15.6h0m-0.8 -14.8h0m12.6 19.0h0m-32.3 -4.1h0m-12.1 -16.0h0m18.4 41.0h0m18.4 -40.9h0m-2.9 -18.0h0m-18.5 37.4h0m3.3 -41.7h0m1.4 -3.3h0m13.3 48.2h0m-13.8 -29.2h0m-10.5 27.5h0m-4.2 -6.6h0m43.6 -2.8h0m-43.9 22.3h0m0.5 -39.4h0m29.5 8.7h0m-30.7 19.1h0m11.5 10.8h0m22.1 -16.4h0m-25.2 11.5h0m-2.7 -20.6h0m-7.8 29.0h0m42.6 -39.7h0m-55.0 44.5h0m39.5 -28.1h0m-7.4 2.8h0m-5.2 -24.3h0m-3.6 37.8h0m34.7 -15.6h0m-37.5 -26.7h0m29.1 11.3h0m8.3 -3.9h0m-37.5 46.2h0m2.3 -49.9h0m9.0 42.4h0m1.6 -13.8h0m-13.2 -4.8h0m23.2 -30.8h0m-18.8 26.4h0m-11.0 -22.7h0m15.0 44.0h0m-17.7 -48.3h0m22.9 0.5h0m-4.1 50.8h0m-1.0 -50.0h0m1.6 40.2h0m-1.1 -2.2h0m11.7 3.7h0m-30.4 -25.7h0m15.2 -33.1h0m-17.8 37.7h0m33.9 -27.3h0m-19.8 5.8h0m0.2 8.1h0m-7.9 39.4h0m1.4 -0.4h0m36.1 -27.3h0m-21.2 -36.8h0m27.0 39.1h0m-16.8 24.0h0m-23.4 -26.9h0m9.4 22.7h0m11.6 3.5h0m-4.8 -24.9h0m-21.7 32.2h0m34.0 -48.8h0m-19.1 45.4h0m16.8 -19.3h0m-4.5 -14.0h0m-0.5 0.7h0m-2.6 6.6h0m-26.2 -0.2h0m21.5 -11.7h0m-9.6 -22.7h0m-1.6 32.0h0m-8.2 15.7h0m2.9 -31.7h0m30.3 18.1h0m-5.5 -25.9h0m-39.2 51.6h0m48.5 -36.9h0m8.0 12.8h0m-21.0 -10.7h0m-7.7 14.5h0m-22.6 17.3h0m37.3 -26.2h0m-11.2 -9.8h0m10.4 24.5h0m-9.7 12.4h0m-30.0 5.6h0m36.5 -41.3h0m13.6 -7.3h0m-29.7 30.4h0m-8.8 -12.0h0m1.5 -9.5h0m19.8 39.1h0m3.1 -55.4h0m-12.7 47.0h0m-11.8 -8.8h0m16.5 -7.6h0m-18.9 9.2h0m2.9 -43.3h0m7.8 61.8h0m-9.1 -42.8h0m18.3 -20.9h0m-1.4 52.9h0m-29.8 11.4h0m18.9 -21.0h0m16.2 -36.1h0m-22.6 -2.2h0m7.6 7.3h0m-24.6 47.4h0m38.8 -31.3h0m9.1 -7.4h0m-20.5 6.9h0m15.0 15.5h0m6.8 -28.1h0m-14.8 38.2h0m-13.8 -2.3h0m14.3 -18.2h0m-2.8 14.1h0m-13.0 6.1h0m0.5 -25.3h0m14.3 37.4h0m5.1 -23.4h0m9.0 -32.9h0m-17.9 28.7h0m15.0 16.4h0m-1.4 -27.3h0m-9.6 19.1h0m4.6 4.7h0m-15.6 -44.8h0m0.4 -10.2h0m24.8 16.9h0m3.7 -4.0h0m-6.5 3.3h0m12.9 10.4h0m-30.0 -28.8h0m-4.3 11.5h0m34.1 4.6h0m-7.9 21.2h0m-21.9 32.1h0m-11.2 -6.9h0m31.2 -0.1h0m-13.1 -9.1h0m3.8 -17.4h0m-24.4 6.8h0m5.6 3.3h0m-5.5 8.8h0m23.0 -32.1h0m-4.7 37.6h0m20.0 -25.1h0m-2.0 12.3h0m-8.4 -21.7h0m-12.7 32.0h0m23.1 -21.1h0m-1.4 -14.8h0m-13.3 -1.2h0m-3.7 50.0h0m15.9 -55.2h0m-27.6 51.3h0m40.2 -32.3h0m-33.0 -24.5h0m16.7 2.2h0m-29.2 -4.2h0m-15.3 65.2h0m15.4 -4.1h0m16.0 -7.8h0m-6.1 -11.8h0m25.5 -30.7h0m-27.6 4.8h0m4.4 35.1h0m-0.5 -13.7h0m-12.5 2.5h0m25.4 -1.1h0m-0.6 -4.4h0m-14.1 -40.7h0m38.7 26.9h0m-33.6 30.1h0m-8.8 -8.6h0m-6.6 -22.7h0m13.8 6.4h0m4.5 36.9h0m-3.0 -12.4h0m-18.5 5.3h0m17.0 -42.3h0m-25.0 40.8h0m10.7 -47.6h0m-2.2 45.9h0m12.5 -31.8h0m34.1 4.4h0m-11.3 -24.8h0m3.7 14.4h0m-15.2 17.5h0m-23.4 13.2h0m29.4 9.4h0m-0.7 -21.4h0m5.6 -2.3h0m-37.3 19.3h0m20.1 -4.6h0m-23.9 16.4h0m17.2 2.4h0m24.8 -64.3h0m-35.9 57.3h0m8.0 -41.9h0m-7.1 8.4h0m7.0 18.4h0m38.9 -4.1h0m-20.6 -25.0h0m14.6 26.1h0m-10.8 -34.8h0m2.9 50.9h0m-16.1 -38.4h0m1.5 11.0h0m-12.0 -11.7h0m-0.5 7.3h0m-1.0 27.4h0m31.1 -51.6h0m1.1 13.3h0m-27.6 40.3h0m21.3 4.0h0m-7.5 -52.4h0m-28.3 54.7h0m18.7 -60.0h0m33.4 30.5h0m-33.9 -28.2h0m23.0 32.5h0m-22.6 -29.5h0m4.7 52.2h0m-0.3 -52.1h0m-18.2 41.1h0m4.3 -26.4h0m28.2 -8.1h0m-18.5 38.1h0m13.7 -50.8h0m-23.4 47.1h0m30.0 -33.5h0m-31.6 24.0h0m35.1 -36.1h0m-15.0 55.5h0m14.3 -41.2h0m-29.5 48.8h0m-7.9 -15.1h0m22.3 -57.4h0m-15.7 33.5h0m15.6 -5.7h0m-9.7 22.6h0m8.6 7.8h0m9.2 -17.4h0m-15.0 13.7h0m12.9 -36.4h0m24.1 16.1h0m-32.2 32.6h0m13.4 -9.0h0m-4.0 -39.4h0m-20.2 -9.6h0m23.8 51.5h0m-15.7 -16.0h0m20.7 15.4h0m-2.5 -26.1h0m-0.4 6.3h0m-2.0 18.5h0m-6.6 -38.2h0m-11.0 36.3h0m-9.5 16.5h0m8.5 -62.8h0m22.3 43.0h0m2.5 -7.7h0m-29.5 26.0h0m12.3 -33.2h0m3.7 19.7h0m-13.7 -8.0h0m15.6 -41.4h0m-3.0 -10.9h0m-26.6 39.6h0m39.1 -28.2h0m-28.7 29.4h0m22.1 2.8h0m-17.8 -21.9h0m9.8 29.7h0m1.8 -2.8h0m19.6 -8.2h0m0.9 -23.3h0m-42.2 23.5h0m6.3 -27.8h0m36.7 22.6h0m-29.8 10.9h0m13.8 -36.5h0m1.4 49.4h0m-15.9 -8.3h0m-14.1 7.0h0m11.6 -34.1h0m8.9 26.5h0m3.3 4.1h0m-4.7 -36.8h0m-5.1 8.9h0m0.4 42.5h0m25.9 -46.2h0m-16.7 6.7h0m-12.7 32.7h0m29.3 -43.1h0m-41.1 57.9h0m21.9 -3.4h0m-5.8 -60.9h0m28.5 14.1h0m-37.4 2.7h0m13.5 8.9h0m-6.8 10.2h0m-3.2 0.2h0m37.7 -23.1h0m-15.1 35.6h0m-15.6 8.7h0m23.1 -37.0h0m-38.7 15.7h0m-2.2 29.7h0m4.5 -52.5h0m16.2 24.3h0m-0.6 18.7h0m-13.1 -49.2h0m-9.4 52.6h0m8.4 -11.4h0m1.1 11.1h0m-2.8 -50.0h0m7.3 38.9h0m31.3 -9.7h0m-34.6 23.4h0m4.9 -26.0h0m9.7 -17.0h0m-21.6 -14.8h0m-0.6 51.3h0m35.9 -48.9h0m-19.7 51.5h0m-2.8 -43.5h0m16.0 -12.4h0m15.8 5.0h0m-32.9 2.0h0m4.0 42.0h0m1.2 7.4h0m5.6 -36.6h0m21.8 20.3h0m-24.3 -3.8h0m-6.3 4.3h0m-4.0 3.8h0m-10.1 -34.9h0m17.4 14.3h0m18.4 13.1h0m-29.0 -18.9h0m-4.1 -0.6h0m37.0 23.7h0m-14.1 -37.6h0m-9.9 37.3h0m31.8 -18.2h0m0.1 -15.6h0m-38.4 5.7h0m2.0 49.1h0m19.8 -27.1h0m-12.2 -19.5h0m-18.8 4.2h0m24.5 36.1h0m3.2 -39.8h0m-7.1 30.9h0m13.4 -12.3h0m-19.7 -30.6h0m7.1 22.2h0m28.9 -4.3h0m-51.4 -3.7h0m19.4 -13.1h0m4.3 52.8h0m-17.9 -32.5h0m12.3 22.6h0m4.5 -39.2h0m20.6 4.7h0m-17.5 16.6h0m-10.4 21.6h0m-2.0 -30.1h0m-21.6 35.3h0m8.6 -44.9h0m4.8 38.3h0m14.7 8.2h0m0.7 -7.8h0m7.6 -59.0h0m-13.4 44.6h0m30.2 -29.1h0m-46.9 13.6h0m23.0 29.1h0m-10.8 10.8h0m26.6 -21.7h0m14.0 -9.9h0m-25.2 -5.3h0m22.7 -1.4h0m-47.3 16.0h0m15.5 -41.0h0m7.6 56.1h0m8.1 -2.3h0m-25.7 -2.9h0m-5.0 -8.8h0m30.0 8.2h0m-7.3 -59.1h0m-5.2 38.8h0m-20.6 -12.1h0m21.4 27.7h0m-17.8 -10.4h0m19.2 -9.4h0m-6.7 14.1h0m28.7 -28.3h0m-20.4 38.0h0m15.8 -2.3h0m-35.3 15.9h0m25.8 -43.1h0m8.7 17.5h0m-17.0 -17.4h0m-22.1 28.8h0m1.3 -34.6h0m-0.2 -4.5h0m13.4 33.4h0m12.9 -2.8h0m-5.2 -41.4h0m7.8 60.2h0m-20.3 -19.5h0m7.2 -15.9h0m-16.7 -6.9h0m25.7 31.1h0m-17.0 -0.3h0m3.2 16.8h0m13.6 -35.2h0m-23.5 25.2h0m27.7 -32.9h0m-1.3 -25.7h0m-5.1 25.2h0m-3.9 -12.7h0m-6.1 -8.3h0m34.2 12.4h0m-60.4 44.3h0m16.5 -15.1h0m3.3 -16.0h0m-2.4 -20.7h0m13.4 27.4h0m-3.6 13.5h0m-9.2 -18.2h0m20.9 -14.9h0m-3.8 -16.3h0m15.7 16.5h0m-24.8 -11.5h0m-6.0 42.7h0m-0.3 17.7h0m-8.1 -9.9h0m6.0 -49.8h0m9.4 43.9h0m-26.1 13.9h0m42.2 -36.5h0m-15.9 -18.2h0m37.3 14.0h0m-49.2 38.0h0m24.2 -48.0h0m-14.5 -17.3h0m16.8 10.5h0m-26.9 50.2h0m45.7 -21.9h0m-48.2 -0.6h0m10.9 11.8h0m22.8 -16.0h0m-12.9 38.8h0m10.7 -63.0h0m-2.2 24.6h0m16.7 -11.4h0m-28.6 15.3h0m23.1 -5.1h0m5.1 -8.4h0m-22.1 -11.2h0m13.7 18.1h0m-38.5 2.3h0m23.3 23.4h0m0.6 -38.6h0m-20.8 3.9h0m1.4 26.7h0m41.3 -2.0h0m-45.0 -21.1h0m28.9 41.2h0m-17.6 -61.6h0m15.8 62.3h0m-22.3 -18.5h0m45.2 -21.1h0m-34.6 43.1h0m22.2 -27.2h0m-27.3 20.4h0m7.7 -59.1h0m-16.2 67.5h0m9.1 -11.1h0m4.9 -54.2h0m3.7 64.1h0m-12.1 -9.2h0m16.4 0.4h0m12.0 -29.4h0m-17.6 1.3h0m14.4 -17.1h0m-22.8 51.8h0m3.4 -46.0h0m15.0 3.8h0m15.4 9.5h0m9.7 -1.2h0m-27.6 -38.4h0m-3.1 45.8h0m22.7 -28.1h0m-25.7 35.5h0m-6.7 19.2h0m-11.5 -33.8h0m41.5 2.3h0m-15.7 -25.9h0m-17.8 58.1h0m-16.8 -5.8h0m19.5 -11.4h0m21.6 -36.3h0m4.2 24.0h0m-28.8 -25.5h0m-6.3 37.5h0m43.7 -17.9h0m-3.4 -12.4h0m-32.0 46.6h0m5.9 1.4h0m-11.7 -38.0h0m-10.1 40.0h0m25.4 -0.6h0m11.6 -40.8h0m5.2 15.4h0m-32.0 8.5h0m13.8 -10.9h0m29.6 2.6h0m-35.7 -38.5h0m23.6 33.7h0m17.3 -9.0h0m-49.3 21.1h0m37.1 -0.0h0m-18.1 19.0h0m-31.4 -6.9h0m36.6 -12.2h0m-27.2 -32.6h0m44.9 -5.3h0m-47.9 54.5h0m8.5 -55.0h0m11.9 -5.7h0m-26.5 60.9h0m45.8 -50.5h0m7.0 -0.6h0m-51.3 51.8h0m12.8 -38.6h0m24.5 13.1h0m-19.7 22.5h0m20.3 -53.5h0m-6.5 9.1h0m-20.6 44.8h0m-11.2 3.4h0m30.1 -27.3h0m17.7 1.9h0m-25.1 -2.7h0m-9.5 -9.7h0m7.1 -26.7h0m-13.8 56.4h0m44.7 -27.1h0m-21.5 31.5h0m20.3 -57.2h0m-18.8 59.9h0m16.6 -44.6h0m2.7 0.2h0m-8.5 -12.7h0m-31.6 57.4h0m5.8 0.2h0m3.7 -17.3h0m18.1 -50.6h0m-2.2 29.9h0m-39.0 34.7h0m44.0 -57.6h0m19.1 16.2h0m-40.6 20.2h0m8.4 -32.1h0m25.6 0.2h0m-10.4 29.9h0m-29.6 -7.8h0m38.3 -21.5h0m2.6 20.3h0m-41.5 -16.3h0m7.9 13.4h0m-4.2 15.2h0m15.2 20.3h0m-18.2 -50.4h0m7.5 0.3h0m9.5 14.2h0m6.0 -3.1h0m4.7 -2.2h0m-7.2 -16.3h0m-5.9 26.4h0m20.1 15.1h0m-27.8 -26.1h0m35.4 1.8h0m-38.6 4.6h0m17.4 31.6h0m-2.0 1.4h0m9.6 -30.5h0m-29.1 -11.8h0m27.7 -16.5h0m-32.9 53.4h0m28.1 -49.8h0m-4.5 24.2h0m-3.0 11.6h0m10.6 -41.5h0m-12.5 42.6h0m-6.2 -24.3h0m-12.6 4.4h0m14.1 -24.0h0m-2.3 65.3h0m1.2 -3.9h0m8.0 -43.6h0m20.2 34.4h0m-6.4 -11.9h0m-21.8 18.4h0m13.4 -44.6h0m-0.1 52.7h0m1.1 -66.6h0m18.4 12.5h0m-2.6 34.7h0m-21.7 -55.7h0m16.5 12.7h0m-9.7 35.1h0m-25.4 -27.0h0m23.5 39.2h0m5.6 -42.9h0m-3.2 30.0h0m4.4 2.7h0m-28.1 -22.5h0m15.8 41.2h0m3.2 -60.4h0m-20.0 17.9h0m28.1 25.8h0m-9.8 -23.1h0m-6.4 -22.8h0m15.7 62.4h0m3.8 -19.8h0m-11.8 11.6h0m-21.6 -15.7h0m35.0 20.2h0m-18.2 -55.3h0m-4.8 8.4h0m5.3 3.2h0m4.7 32.2h0m11.3 -19.0h0m12.0 -5.8h0m-19.8 28.5h0m-11.5 -37.9h0m8.6 -15.3h0m0.1 5.0h0m22.7 28.0h0m-29.9 25.7h0m3.0 -14.2h0m1.3 -13.5h0m20.7 21.9h0m-40.2 -24.1h0m26.3 -17.8h0m5.0 4.2h0m-0.6 -9.4h0m-29.7 14.6h0m31.5 16.8h0m10.6 -16.3h0m-26.2 27.3h0m19.7 -6.0h0m3.1 -24.0h0m-41.7 43.0h0m2.9 -31.8h0m31.7 9.6h0m7.6 -7.3h0m-16.8 -17.8h0m-11.6 58.7h0m-8.8 -8.8h0m-5.0 10.0h0m1.7 -6.7h0m10.2 -50.8h0m25.7 20.5h0m-15.6 -32.1h0m-2.6 50.2h0m9.1 4.8h0m-19.4 10.7h0m-5.8 -53.0h0m3.1 -10.7h0m42.9 26.6h0m-30.0 30.1h0m-4.3 5.9h0m-16.3 -21.1h0m-3.8 12.2h0m44.3 -44.3h0m-26.2 52.5h0m-5.5 -35.5h0m7.0 14.1h0m23.5 -25.5h0m-22.8 40.6h0m12.9 -7.7h0m-9.3 -13.8h0m-1.7 13.4h0m-3.8 -5.0h0m-7.4 1.1h0m-0.9 -35.3h0m8.6 28.1h0m2.1 27.2h0m5.8 2.7h0m-18.9 -38.9h0m49.9 -6.0h0m-35.2 -9.9h0m25.9 6.2h0m-23.7 10.5h0m-12.3 17.8h0m3.6 -1.2h0m8.0 -17.7h0m6.4 -32.1h0m-7.6 -1.1h0m4.4 -3.1h0m24.4 40.8h0m-25.4 8.4h0m-7.9 3.9h0m30.0 -28.6h0m-2.3 17.1h0m-41.9 -1.7h0m39.5 11.5h0m0.3 -32.3h0m-16.3 32.8h0m2.7 0.3h0m-10.5 -34.2h0m22.7 32.1h0m-28.3 0.3h0m0.7 12.3h0m35.8 -39.3h0m-14.5 39.2h0m-31.4 -19.2h0m2.3 6.9h0m41.9 -31.4h0m-53.1 52.2h0m52.1 -18.1h0m-26.0 -48.6h0m16.4 34.2h0m-30.1 18.8h0m-7.9 6.4h0m-6.5 9.3h0m23.6 -13.0h0m12.7 -29.2h0m1.8 -10.8h0m-28.8 22.3h0m46.4 -6.9h0m-29.5 16.0h0m10.0 4.6h0m10.4 -11.6h0m-29.0 -20.8h0m-1.2 34.0h0m0.6 -39.6h0m26.1 31.6h0m-3.7 -43.3h0m-8.6 63.8h0m2.5 -3.4h0m22.8 -30.9h0m-36.5 -10.0h0m19.5 40.7h0m20.1 -36.0h0m4.0 8.2h0m-15.4 1.9h0m-19.0 -37.4h0m-15.9 69.3h0m-3.7 -0.0h0m41.4 -60.7h0m5.1 11.0h0m3.5 -3.6h0m-24.1 14.9h0m3.3 22.3h0m-26.4 15.0h0m1.8 -35.8h0m49.0 3.5h0m-11.9 -27.9h0m-47.2 53.6h0m11.1 8.2h0m15.3 -54.4h0m-3.1 28.3h0m21.6 -30.7h0m12.7 18.4h0m-43.8 -4.6h0m7.3 13.8h0m-2.5 18.9h0m-1.4 7.8h0m-10.5 6.6h0m24.1 -59.1h0m12.6 38.7h0m9.5 -33.0h0m-41.0 1.1h0m48.2 13.4h0m-21.7 -30.4h0m17.3 12.7h0m-30.2 22.2h0m20.3 3.0h0m7.9 -13.8h0m-27.4 -33.2h0m-9.7 58.0h0m10.4 15.1h0m17.0 -19.4h0m3.0 -4.6h0m-18.7 -11.9h0m-13.2 10.7h0m37.3 -30.9h0m-31.7 56.4h0m3.5 -74.3h0m0.1 37.2h0m-8.7 5.9h0m14.4 -10.9h0m-19.3 17.2h0m35.9 -1.7h0m-30.0 -25.2h0m28.8 7.5h0m-26.7 23.9h0m8.3 13.5h0m23.1 -12.2h0m-49.6 10.6h0m60.0 -34.2h0m-23.8 15.8h0m-8.0 13.8h0m-2.7 14.9h0m-15.3 -52.3h0m5.7 16.4h0m-1.2 -1.5h0m3.4 25.2h0m29.4 -10.9h0m-29.5 4.5h0m17.1 -34.3h0m10.9 -8.1h0m6.5 14.0h0m-57.2 46.3h0m14.7 -40.7h0m7.8 26.0h0m10.9 -20.2h0m-15.4 17.6h0m-3.5 -38.3h0m19.0 56.1h0m-3.9 -46.3h0m7.7 32.4h0m-20.0 -26.7h0m1.1 23.1h0m40.6 -17.3h0m-3.8 -16.5h0m-56.3 45.2h0m47.8 -20.3h0m-11.4 -14.7h0m-33.8 34.0h0m13.9 -54.5h0m-0.4 37.2h0m19.2 18.8h0m8.1 -29.1h0m-12.7 18.5h0m27.0 -23.5h0m-3.5 0.3h0m-36.3 -24.2h0m19.9 7.5h0m-20.4 58.6h0m0.2 -39.3h0m-1.0 -17.1h0m38.8 1.9h0m-31.1 20.8h0m31.2 -16.5h0m-17.6 14.1h0m-7.1 -13.5h0m6.9 22.9h0m-3.0 14.4h0m-9.6 -39.6h0m12.3 -17.8h0m24.8 29.0h0m-31.1 -19.2h0m18.3 21.7h0m-45.5 31.3h0m32.1 -71.8h0m-25.1 70.5h0m37.9 -23.7h0m14.5 -14.3h0m-20.4 16.7h0m-20.4 -19.8h0m-5.8 20.1h0m9.9 15.3h0m-2.8 10.8h0m-17.5 -5.1h0m34.5 -56.1h0m13.9 4.9h0m-25.5 -17.4h0m-3.8 52.6h0m20.5 -17.4h0m-29.2 39.9h0m48.4 -37.6h0m-10.2 -12.0h0m-44.1 12.3h0m22.3 13.3h0m7.9 -42.4h0m-6.3 27.9h0m-22.4 -3.5h0m0.1 43.1h0m16.2 -53.3h0m-13.7 -8.1h0m15.2 2.6h0m1.6 -19.3h0m14.5 16.1h0m-6.3 6.4h0m2.5 -8.3h0m12.6 19.7h0m-41.0 -1.8h0m8.0 28.1h0m17.1 -28.4h0m11.9 5.0h0m-25.4 32.6h0m7.9 -16.1h0m-16.6 -8.8h0m17.7 -11.2h0m3.9 -27.7h0m-4.9 59.9h0m0.3 -63.6h0m-6.9 65.1h0m2.8 -18.9h0m-17.6 -8.4h0m5.9 -24.7h0m41.9 27.8h0m-39.6 -14.2h0m7.9 41.5h0m-1.1 -42.9h0m-8.4 14.1h0m30.4 -3.1h0m-16.0 27.7h0m-6.5 1.9h0m5.3 -57.2h0m-2.3 52.5h0m30.7 -35.5h0m-20.0 -3.0h0m1.7 41.6h0m2.8 1.3h0m-17.6 -47.2h0m-15.7 57.4h0m39.2 -57.4h0m-44.2 50.5h0m19.7 -52.6h0m-12.6 2.4h0m-4.2 55.9h0m5.0 -58.5h0m18.4 50.5h0m-5.9 -25.5h0m-13.9 5.0h0m29.7 -19.1h0m20.4 2.5h0m-4.7 24.0h0m-17.4 -34.2h0m-39.6 51.9h0m4.2 4.0h0m11.3 -33.6h0m7.9 -38.3h0m30.5 26.4h0m-37.5 -19.1h0m32.7 32.1h0m-33.8 -8.2h0m-0.4 -7.8h0m32.0 -3.8h0m-15.7 28.4h0m23.6 5.3h0m-9.8 -8.0h0m-13.1 -36.0h0m3.0 11.8h0m-11.5 27.1h0m7.6 6.5h0m-17.0 -43.5h0m-0.5 36.2h0m30.4 -10.6h0m-17.8 7.0h0m-3.2 15.9h0m32.3 -26.0h0m-1.0 16.0h0m-1.4 -18.9h0m-44.1 33.1h0m29.4 -40.3h0m-5.0 23.8h0m16.9 -4.2h0m-32.0 -23.2h0m6.4 6.4h0m24.5 -5.4h0m-5.8 -2.8h0m1.2 16.1h0m-7.0 -31.3h0m1.7 7.5h0m-11.1 51.8h0m-9.3 -27.6h0m32.5 -19.5h0m-16.2 -7.3h0m2.6 23.1h0m-22.3 -5.3h0m-0.0 -11.9h0m21.7 -10.8h0m3.8 12.9h0m-20.3 23.8h0m19.5 5.6h0m-21.7 -19.4h0m36.8 -1.1h0m-18.5 39.8h0m-7.1 -13.6h0m-11.3 19.4h0m11.6 -6.3h0m18.5 -3.6h0m-5.8 -24.2h0m17.2 -2.1h0m-47.7 -10.5h0m7.9 17.2h0m10.1 -23.6h0m11.1 -3.0h0m-8.1 6.7h0m-9.7 -3.5h0m4.2 7.6h0m12.0 -14.1h0m8.6 29.8h0m-30.8 25.1h0m19.8 -38.0h0m0.0 17.7h0m25.1 -24.6h0m-39.6 -20.3h0m-7.7 21.9h0m0.9 -14.7h0m26.8 43.6h0m-31.1 22.9h0m12.8 -56.4h0m-14.8 11.9h0m9.6 4.3h0m43.9 -6.4h0m-31.5 1.5h0m10.4 34.4h0m-7.8 -27.3h0m0.9 13.0h0m20.0 -24.5h0m-30.5 7.5h0m37.4 0.4h0m-15.7 17.9h0m-45.4 15.6h0m34.0 -46.3h0m-9.8 25.0h0m-3.5 -37.2h0m15.0 23.4h0m0.5 -29.5h0m4.6 37.2h0m-30.6 -5.5h0m8.4 15.0h0m11.7 -43.5h0m30.1 34.6h0m-48.0 -25.3h0m47.7 15.9h0m-19.0 33.6h0m7.8 -54.1h0m-13.6 -8.1h0m-2.6 70.1h0m27.1 -44.4h0m-47.7 16.0h0m40.0 -21.3h0m-16.8 -9.6h0m-0.9 50.6h0m-1.9 -18.3h0m2.5 -43.8h0m2.5 -0.6h0m10.5 16.2h0m-7.7 47.5h0m-20.7 -10.7h0m-12.6 16.9h0m26.6 0.9h0m5.4 -46.8h0m-16.6 20.4h0m19.9 -25.5h0m-6.9 24.3h0m-26.3 20.5h0m20.1 -54.1h0m-18.8 18.0h0m46.4 11.0h0m-38.5 -23.4h0m35.5 -3.5h0m-20.4 -13.1h0m5.6 12.2h0m-25.3 -0.3h0m30.3 23.3h0m-26.7 -5.4h0m13.1 -33.9h0m9.8 26.2h0m-6.7 50.6h0m1.5 -17.8h0m26.3 -18.5h0m-50.7 25.7h0m23.8 -22.2h0m29.7 -0.4h0m-53.8 -2.6h0m25.8 22.2h0m21.6 -7.0h0m-37.3 13.9h0m-2.0 3.6h0m33.7 -48.2h0m3.1 3.6h0m-12.1 35.0h0m-35.9 9.6h0m30.2 0.8h0m-15.3 -66.4h0m-4.1 45.3h0m-1.5 2.1h0m-2.2 -13.6h0m25.9 -24.3h0m-4.5 4.8h0m-15.5 28.7h0m-6.1 -23.7h0m-1.0 46.1h0m20.2 -28.5h0m-10.3 14.6h0m-7.8 -25.2h0m12.4 12.7h0m-1.4 -41.2h0m-25.2 68.0h0m24.0 -3.6h0m7.3 -15.8h0m29.3 -9.5h0m-32.0 22.5h0m-16.2 -43.4h0m14.2 0.9h0m4.0 -11.0h0m5.2 53.1h0m-23.4 -25.9h0m13.0 -0.1h0m-10.3 -21.3h0m17.4 -16.8h0m20.1 53.5h0m-37.2 -13.6h0m21.1 -16.6h0m-1.2 36.5h0m20.4 -20.6h0m-35.0 31.2h0m15.2 -68.8h0m9.5 47.7h0m-6.5 -30.3h0m7.6 -9.2h0m-8.0 0.7h0m-6.8 27.5h0m-0.3 -11.4h0m-3.6 -17.6h0m13.0 56.3h0m7.0 -50.9h0m-20.4 10.7h0m26.2 24.2h0m-16.1 -34.7h0m-1.2 35.2h0m-23.7 -30.1h0m3.4 13.9h0m12.8 18.2h0m-4.8 -14.5h0m-1.7 -31.2h0m-4.6 17.7h0m25.2 24.6h0m-25.5 8.7h0m-5.9 16.2h0m29.7 -46.0h0m0.5 34.7h0m-1.8 -33.9h0m-20.3 20.7h0m-7.3 -24.1h0m2.9 38.5h0m14.7 -36.5h0m-2.1 -10.1h0m15.1 8.8h0m-21.2 25.9h0m-11.5 -17.1h0m47.3 4.6h0m-28.6 -1.7h0m20.2 18.2h0m-49.2 19.7h0m42.8 -58.0h0m-3.6 -3.0h0m-17.8 59.9h0m-15.9 -2.6h0m20.9 -56.0h0m-2.3 -1.0h0m19.5 23.1h0m-15.6 14.8h0m-5.5 -0.7h0m-2.4 -4.5h0m20.6 -22.4h0m-13.5 10.2h0m-7.1 37.8h0m42.2 -38.5h0m-36.3 4.0h0m15.9 -18.9h0m-8.0 -17.8h0m20.6 13.8h0m-19.9 30.6h0m17.4 -4.7h0m-51.4 33.9h0m43.0 -27.1h0m-19.3 13.5h0m15.7 -26.1h0m-22.5 19.0h0m36.3 -2.6h0m-10.7 6.5h0m1.8 -37.2h0m-10.7 -18.9h0m7.6 18.1h0m9.7 27.0h0m-21.7 -36.0h0m19.6 29.4h0m-33.5 15.2h0m8.1 -17.0h0m-12.5 2.8h0m29.5 15.3h0m-16.1 -19.3h0m13.1 -23.5h0m-22.1 45.4h0m6.7 14.2h0m8.0 -62.7h0m-3.4 55.2h0m-3.9 -1.6h0m28.6 -11.1h0m-11.1 -39.4h0m-27.7 15.3h0m27.5 33.0h0m-11.3 -11.8h0m1.9 2.0h0m-14.2 2.7h0m32.7 -4.5h0m-19.2 8.7h0m4.9 -34.1h0m1.7 -19.5h0m7.6 30.2h0m-9.7 3.2h0m9.4 -28.3h0m-26.7 62.0h0m16.3 -33.0h0m-0.8 -39.9h0m-19.2 67.8h0m24.9 -37.7h0m-29.0 34.4h0m20.8 -8.6h0m-15.7 -28.7h0m18.0 21.8h0m-24.3 -14.7h0m45.3 -10.6h0m-42.6 6.4h0m-1.8 3.3h0m42.1 21.2h0m-29.6 -1.9h0m9.2 -5.3h0m13.7 -10.1h0m3.2 -23.7h0m-8.7 28.1h0m-22.8 -24.0h0m-4.2 7.7h0m24.2 43.0h0m-11.1 -43.7h0m9.5 9.3h0m-17.9 9.8h0m-10.0 27.8h0m46.7 -51.5h0m1.5 27.9h0m-42.0 -13.9h0m32.1 -0.5h0m-15.2 33.6h0m7.6 -49.4h0m23.1 16.6h0m-37.4 32.1h0m-5.3 -3.7h0m38.4 -9.3h0m5.5 -23.5h0m-3.3 13.7h0m-13.3 -18.8h0m-22.6 -6.8h0m7.3 47.8h0m-5.0 -28.4h0m-2.5 33.5h0m4.9 -47.2h0m-11.6 12.0h0m15.1 -25.6h0m-31.4 62.3h0m38.5 -43.9h0m-3.5 27.5h0m20.8 -11.9h0m1.3 6.4h0m-24.7 11.9h0m-6.8 -12.3h0m4.7 18.0h0m5.0 -40.4h0m5.9 7.6h0m-21.1 2.4h0m4.7 9.8h0m-8.5 -38.8h0m-3.6 40.7h0m5.5 -32.2h0m-2.9 21.7h0m-1.4 -11.4h0m25.1 29.8h0m-0.3 -44.2h0m-22.7 23.9h0m14.2 29.2h0m-11.3 -48.8h0m-18.5 46.1h0m37.7 -43.1h0m-31.3 52.3h0m27.9 -7.1h0m20.5 -11.6h0m-26.6 -16.7h0m21.5 -2.0h0m0.6 -19.3h0m-34.3 23.4h0m42.9 -9.8h0m-32.5 -22.0h0m-12.1 62.7h0m1.3 -53.4h0m3.0 53.0h0m29.3 -19.7h0m-44.7 18.1h0m17.7 -44.9h0m9.0 16.6h0m22.9 14.8h0m-37.2 -23.5h0m40.0 16.4h0m-15.8 -42.3h0m5.8 39.1h0m-21.8 -33.4h0m-3.1 50.8h0m10.0 -15.3h0m14.4 -6.3h0m-24.9 -34.2h0m26.1 24.1h0m-18.3 -12.3h0m3.2 54.7h0m14.3 -59.4h0m-35.1 43.6h0m21.0 -20.9h0m-22.6 36.8h0m-2.0 -7.6h0m37.5 -28.9h0m0.7 -2.9h0m-12.0 12.4h0m25.0 -14.3h0m-4.8 22.2h0m-24.5 -40.6h0m-6.7 14.8h0m4.2 32.9h0m34.1 -19.2h0m-12.3 -31.6h0m-0.6 35.6h0m-22.3 -34.1h0m7.1 35.6h0m23.8 -1.9h0m-34.7 -0.9h0m27.8 13.7h0m-37.3 -24.3h0m13.6 -8.2h0m25.8 21.3h0m8.4 -17.2h0m-4.2 18.2h0m-41.3 0.9h0m-17.1 20.6h0m13.0 5.9h0m35.7 -24.5h0m-34.5 -16.7h0m48.3 9.9h0m-39.6 25.6h0m3.6 3.7h0m5.3 -47.6h0m0.6 33.6h0m30.7 -29.2h0m-31.9 12.7h0m29.5 0.9h0m-20.8 23.9h0m3.9 -55.6h0m-17.8 62.5h0m-10.0 -60.4h0m25.5 39.4h0m-2.5 -19.8h0m-12.5 38.1h0m-22.5 0.9h0m42.4 -56.4h0m-30.5 5.5h0m28.2 45.8h0m-18.3 -45.8h0m5.2 -6.8h0m25.8 41.6h0m-27.2 -14.1h0m-1.3 -41.8h0m-8.7 17.9h0m9.3 -8.1h0m5.7 0.3h0m10.2 54.0h0m-15.8 -4.3h0m16.9 -20.1h0m19.2 -4.3h0m-45.7 20.6h0m25.0 -37.3h0m-6.2 -13.9h0m-12.9 0.2h0m6.6 64.7h0m-5.1 -67.2h0m-12.3 11.3h0m1.1 10.8h0m44.5 20.8h0m-47.0 21.5h0m5.9 -30.3h0m-1.8 7.5h0m15.1 -20.2h0m0.4 12.8h0m-2.9 22.5h0m3.5 -44.7h0m-32.3 50.6h0m33.4 -33.7h0m2.4 36.1h0m-27.4 -1.6h0m54.0 -19.0h0m-6.6 -27.5h0m-21.7 44.3h0m14.5 -26.8h0m-31.4 -22.3h0m13.8 32.8h0m-27.3 28.1h0m16.4 -67.7h0m19.7 7.4h0m-14.6 17.1h0m2.2 -5.5h0m33.5 -0.4h0m-6.4 10.6h0m-16.6 1.7h0m-24.6 -7.8h0m10.1 -13.4h0m0.5 -14.9h0m14.5 56.6h0m-14.2 -38.7h0m-7.5 21.4h0m26.1 -23.9h0m-25.4 10.4h0m-15.3 35.2h0m16.0 -3.3h0m-1.8 -45.2h0m33.0 7.2h0m-33.6 8.7h0m-5.9 34.2h0m17.2 -66.6h0m26.3 14.9h0m8.8 30.8h0m-25.1 -44.3h0m11.1 33.9h0m8.7 16.0h0m-26.1 23.5h0m18.6 -61.9h0m-36.5 17.3h0m25.5 25.7h0m-4.2 -56.6h0m-3.2 49.4h0m5.9 -24.6h0m-18.6 34.7h0m13.7 -42.8h0m-14.7 33.9h0m3.8 -40.6h0m20.1 45.7h0m-22.2 2.9h0m39.9 -33.5h0m-50.6 39.6h0m22.3 -51.5h0m12.5 13.5h0m14.8 15.8h0m-33.9 -20.6h0m6.5 -3.1h0m-18.3 25.6h0m-0.1 -15.0h0m0.2 9.1h0m28.4 2.7h0m-7.5 28.1h0m1.4 4.5h0m-6.9 -50.4h0m34.3 15.4h0m-41.4 -20.5h0m30.9 43.1h0m-31.4 -42.1h0m11.9 20.6h0m-7.4 -19.6h0m16.3 7.1h0m19.0 8.7h0m-41.2 21.6h0m-6.7 11.1h0m-10.6 -3.2h0m43.1 -6.0h0m-24.6 -32.8h0m8.8 45.6h0m-13.7 -29.0h0m23.6 -41.5h0m-24.3 29.7h0m0.2 -9.2h0m10.4 -10.1h0m18.1 25.4h0m-17.3 6.5h0m28.7 2.1h0m-4.2 -25.2h0m-29.5 -5.4h0m37.9 36.9h0m-29.4 22.1h0m17.8 -34.7h0m-10.8 1.6h0m-6.3 -28.3h0m-11.6 51.1h0m42.2 -15.3h0m-28.8 11.2h0m13.8 -18.8h0m-3.3 -32.4h0m-7.2 -5.5h0m-15.5 38.7h0m7.0 -15.1h0m14.0 -16.9h0m-25.6 62.8h0m2.9 -9.3h0m33.8 -48.9h0m-22.3 34.6h0m6.7 0.6h0m19.6 -13.8h0m-55.1 38.6h0m42.4 -21.3h0m-12.9 -55.7h0m-0.3 31.5h0m-15.0 7.1h0m6.9 36.1h0m43.0 -42.1h0m-16.3 -10.5h0m5.5 36.6h0m-22.5 14.1h0m-9.9 -46.9h0m35.7 23.2h0m1.9 -21.8h0m-33.3 48.0h0m3.0 -48.1h0m21.0 20.7h0m-23.8 -24.0h0m5.5 -24.0h0m-6.5 9.5h0m-12.4 37.8h0m5.0 12.2h0m10.6 -35.9h0m6.7 46.3h0m-8.2 -28.2h0m-6.8 -21.5h0m-5.3 16.8h0m23.7 32.9h0m7.8 -15.8h0m-42.6 21.4h0m13.7 -13.3h0m17.0 -43.4h0m-19.6 19.2h0m6.0 39.3h0m35.6 -56.8h0m-28.5 -18.8h0m-12.5 46.6h0m23.7 11.1h0m7.6 -37.1h0m10.4 3.0h0m-54.4 46.3h0m41.4 -51.9h0m-10.7 -2.6h0m-3.5 22.3h0m-1.2 6.0h0m-7.5 5.2h0m29.1 -13.1h0m-19.2 13.6h0m-15.3 -26.8h0m10.5 43.7h0m11.7 -61.0h0m6.0 7.3h0m-1.2 43.7h0m-25.5 -31.9h0m16.2 52.7h0m8.5 -67.0h0m-0.4 58.1h0m4.3 -25.9h0m-16.0 -5.8h0m-27.5 33.4h0m44.5 -29.4h0m-3.4 -19.9h0m7.0 6.6h0m-26.7 -13.2h0m-7.9 40.5h0m-3.2 -29.7h0m2.6 11.7h0m22.2 7.4h0m-8.9 -4.4h0m12.0 19.9h0m-3.4 -26.0h0m6.9 17.8h0m-6.9 1.7h0m4.0 -45.2h0m-20.9 33.2h0m22.4 -0.2h0m-28.7 -18.4h0m7.0 -0.4h0m-21.0 46.2h0m29.9 -65.7h0m6.5 56.5h0m-10.1 -10.7h0m14.8 -11.5h0m-9.9 25.9h0m10.9 -36.9h0m-40.6 48.1h0m18.3 -30.6h0m25.3 -20.9h0m10.5 3.6h0m-23.5 -13.1h0m19.1 36.8h0m-43.9 26.7h0m21.4 -5.0h0m31.5 -28.5h0m-31.4 26.8h0m-1.5 -12.9h0m11.1 -51.5h0m3.9 14.9h0m-2.6 31.1h0m-17.5 -34.5h0m-3.6 48.4h0m35.8 -35.8h0m-8.8 -2.8h0m5.9 23.9h0m-14.7 6.9h0m5.7 11.1h0m-34.0 5.4h0m45.9 -38.4h0m-16.3 26.7h0m-1.3 -22.3h0m7.9 20.0h0m-29.9 -8.5h0m-10.0 23.8h0m21.3 -62.7h0m-11.8 36.5h0m33.1 -2.3h0m-34.4 -24.4h0m11.3 7.0h0m5.3 39.7h0m19.4 -40.7h0m-8.4 39.5h0m-12.3 -16.8h0m-14.0 -16.6h0m36.2 5.9h0m3.4 -16.9h0m-16.3 36.0h0m-8.8 4.3h0m3.6 -9.6h0m2.8 -24.5h0m3.6 -4.2h0m24.1 5.5h0m-44.5 44.8h0m-15.9 -6.8h0m11.3 2.4h0m32.4 -53.9h0m-9.2 15.2h0m12.5 -21.5h0m-5.4 31.9h0m-18.7 13.1h0m-4.3 -37.5h0m16.7 25.1h0m-26.4 -3.0h0m43.4 -1.9h0m-31.9 9.6h0m1.1 -36.1h0m10.8 41.4h0m-5.5 -3.1h0m-4.5 -10.4h0m27.1 3.4h0m-23.2 1.4h0m-26.2 27.0h0m38.8 -48.5h0m22.8 19.0h0m-7.3 3.3h0m-11.7 -23.5h0m-31.7 24.4h0m11.0 -16.7h0m-24.3 44.1h0m14.6 -44.6h0m5.7 22.9h0m-5.7 1.6h0m8.0 14.6h0m-18.0 3.6h0m37.5 -59.1h0m9.5 13.7h0m-34.6 9.4h0m38.2 -10.5h0m-34.9 34.3h0m5.6 -29.7h0m4.0 -17.7h0m-14.5 59.9h0m1.5 -4.7h0m-6.1 -7.4h0m-0.8 -21.2h0m41.3 -26.2h0m-10.8 5.1h0m1.1 25.0h0m-27.8 14.3h0m12.0 -33.8h0m23.9 -3.6h0m-45.7 50.3h0m36.2 3.0h0m11.6 -55.5h0m10.3 12.7h0m-30.0 19.2h0m2.3 -1.7h0m-2.6 -27.2h0m-15.4 -6.4h0m23.1 13.5h0m23.0 6.4h0m-39.4 11.4h0m10.0 -12.2h0m6.1 -8.0h0m21.0 20.8h0m-13.9 2.6h0m-20.9 -45.3h0m19.5 33.8h0m-8.4 -6.0h0m-8.2 25.2h0m21.9 -15.9h0m-29.3 21.1h0m15.8 -15.4h0m-2.5 17.6h0m-21.5 -38.5h0m11.9 -2.1h0m-9.7 53.8h0m-1.5 -42.2h0m28.1 7.5h0m-39.9 26.5h0m-0.5 -0.1h0m10.4 6.4h0m10.5 -38.9h0m7.4 13.8h0m3.1 -39.0h0m-21.1 32.2h0m22.8 23.8h0m-28.7 6.4h0m51.9 -17.0h0m-36.7 -38.4h0m-5.6 -4.3h0m17.2 8.6h0m-20.6 54.2h0m51.5 -33.0h0m-57.1 31.4h0m24.8 -44.7h0m-26.2 38.0h0m54.0 -27.5h0m-43.4 -5.7h0m5.2 14.3h0m-11.6 -5.0h0m39.2 -32.2h0m-33.0 17.9h0m2.4 10.1h0m3.4 29.9h0m10.3 -41.7h0m-0.4 -7.9h0m-0.9 24.8h0m15.2 -33.1h0m-17.3 49.3h0m15.5 -41.7h0m-17.5 10.5h0m14.6 42.4h0m17.9 -53.6h0m-48.8 15.7h0m-10.9 34.7h0m41.3 -16.4h0m-9.9 0.6h0m-6.7 -27.4h0m9.1 10.2h0m13.1 13.2h0m-35.3 18.0h0m48.5 -12.1h0m-39.2 -13.4h0m19.6 -11.3h0m1.2 12.0h0m5.8 -15.9h0m4.5 -6.1h0m-29.3 -5.4h0m6.7 3.9h0m-12.0 34.1h0m6.0 -12.5h0m29.0 -2.5h0m-34.4 -4.6h0m8.8 -21.0h0m3.8 45.1h0m-9.7 -0.0h0m-18.3 15.9h0m20.7 -16.1h0m7.8 -29.0h0m-1.8 14.9h0m4.9 13.6h0m-11.4 -7.5h0m5.5 13.8h0m-17.4 -20.4h0m31.4 -13.5h0m-21.3 -4.2h0m29.4 28.4h0m-32.6 -19.9h0m28.6 -18.1h0m20.6 24.1h0m-63.5 28.8h0m30.2 -40.4h0m-13.3 -16.4h0m22.8 3.5h0m-31.3 14.1h0m45.3 12.2h0m-23.9 20.3h0m-7.1 -23.7h0m27.9 3.8h0m-35.4 -21.3h0m-5.9 19.2h0m44.0 -2.7h0m-37.7 -3.5h0m16.7 -31.9h0m-3.2 12.2h0m2.1 55.3h0m13.0 -45.1h0m9.5 27.3h0m-52.9 18.2h0m0.5 -4.4h0m13.2 -47.6h0m2.3 58.0h0m6.6 -63.6h0m7.5 39.9h0m13.0 -42.0h0m-22.3 42.5h0m-2.8 15.4h0m33.2 -16.7h0m-18.3 -25.7h0m14.2 18.5h0m-28.5 30.0h0m14.7 -20.5h0m2.7 -38.5h0m-7.7 -4.2h0m-10.1 28.5h0m30.8 -6.6h0m-6.8 17.2h0m-18.3 -3.4h0m17.2 6.3h0m-20.7 -41.6h0m-0.2 5.1h0m2.0 36.3h0m-12.5 0.2h0m32.8 -42.1h0m-26.1 38.3h0m20.3 -11.3h0m9.4 0.1h0m-23.6 -11.8h0m-8.7 30.5h0m33.1 -10.8h0m-20.2 10.2h0m10.6 -24.9h0m-21.0 40.4h0m13.8 -19.8h0m-14.4 21.8h0m4.0 -5.2h0m3.2 -23.6h0m16.3 -19.8h0m10.4 13.6h0m-28.8 14.4h0m18.3 -28.8h0m0.4 39.7h0m-6.2 -13.5h0m-2.5 -47.3h0m-31.6 67.4h0m31.7 -22.7h0m-4.3 -36.9h0m-11.1 36.7h0m-3.7 25.4h0m10.7 -14.1h0m-13.3 6.3h0m8.4 -36.6h0m34.1 -0.9h0m-35.3 -4.9h0m39.3 29.6h0m-17.4 -42.9h0m16.3 38.9h0m-39.2 -22.5h0m20.4 -19.4h0m-1.6 49.7h0m-10.3 8.7h0m11.2 5.9h0m-17.2 -54.1h0m6.8 44.7h0m1.6 -4.0h0m8.7 -32.1h0m18.4 0.8h0m-33.0 30.8h0m27.8 -5.9h0m-0.6 -37.2h0m-24.0 62.3h0m-19.5 -3.9h0m40.7 -57.4h0m-4.5 12.7h0m-36.5 41.5h0m33.2 -55.3h0m-15.1 5.6h0m-6.2 8.6h0m23.0 1.8h0m17.3 7.1h0m-6.0 -9.1h0m-33.5 22.1h0m43.0 -3.6h0m-9.3 4.3h0m-20.0 -38.8h0m20.3 39.8h0m-11.4 3.9h0m-23.2 11.2h0m-1.2 -5.2h0m0.5 -32.1h0m24.8 33.7h0m-16.9 0.0h0m-11.6 -47.7h0m20.6 12.0h0m-19.9 18.4h0m6.7 -29.7h0m10.0 31.6h0m-21.3 21.3h0m18.0 -9.7h0m6.0 -57.9h0m17.5 20.3h0m-33.4 16.1h0m8.4 9.0h0m1.1 -18.5h0m-9.8 47.3h0m10.8 -68.4h0m-9.9 42.4h0m-9.4 24.2h0m26.9 -46.0h0m-13.3 32.5h0m-9.3 -7.1h0m12.7 -1.7h0m32.2 -16.4h0m-28.2 0.6h0m9.7 -24.5h0m1.7 17.6h0m-19.3 26.4h0m-12.5 -15.4h0m39.6 -25.5h0m-30.8 13.5h0m9.9 26.8h0m5.5 -45.4h0m5.4 6.5h0m-16.2 28.1h0m7.1 19.1h0m-12.7 1.5h0m20.4 -12.1h0m24.7 -6.5h0m-3.3 -19.3h0m-45.2 29.4h0m23.4 -32.1h0m16.7 -4.3h0m-54.0 49.5h0m0.2 1.8h0m0.2 2.7h0m39.9 -25.1h0m-28.5 27.8h0m8.5 -23.5h0m27.3 -42.3h0m-38.9 25.5h0m7.7 25.9h0m38.0 -10.1h0m-28.7 -32.8h0m29.1 33.3h0m-22.8 -24.3h0m5.8 -21.0h0m-25.0 28.4h0m44.9 8.7h0m-48.7 33.3h0m33.2 -59.1h0m-1.7 18.7h0m-11.7 -34.1h0m1.0 61.4h0m9.7 -13.2h0m19.1 -6.3h0m-8.6 -28.4h0m-34.1 24.2h0m28.6 22.1h0m15.2 -18.2h0m-21.2 -10.4h0m26.2 8.5h0m-7.0 11.6h0m6.5 -16.8h0m-40.9 20.2h0m11.7 -9.4h0m-21.4 -16.3h0m15.1 -28.1h0m7.7 49.1h0m-14.2 -10.9h0m-24.6 27.9h0m56.2 -42.8h0m-22.9 29.3h0m22.7 -14.7h0m7.6 4.4h0m-37.8 -16.7h0m20.4 38.0h0m13.8 -14.1h0m-31.8 -48.4h0m31.6 42.6h0m-2.9 -7.6h0m-28.7 28.2h0m14.3 -26.4h0m-37.9 33.2h0m8.6 1.2h0m51.8 -30.4h0m-23.2 8.0h0m23.6 -7.0h0m-60.0 23.0h0m50.5 -24.4h0m-30.9 -4.1h0m-17.2 24.1h0m19.0 -29.3h0m31.4 -17.1h0m-5.7 18.5h0m-2.6 11.0h0m-24.5 18.7h0m-6.3 2.5h0m1.6 -36.3h0m38.3 -8.0h0m-30.4 -6.0h0m7.2 14.8h0m-19.1 20.5h0m26.4 12.8h0m-3.3 -51.0h0m12.2 -2.7h0m-11.1 5.4h0m-3.5 -10.0h0m-2.1 58.3h0m-11.9 -39.1h0m22.5 22.6h0m-0.5 3.6h0m-28.2 -10.5h0m4.3 -33.1h0m24.5 13.3h0m-12.3 27.9h0m-0.4 -23.0h0m4.2 8.8h0m0.8 14.6h0m-15.4 -19.5h0m-4.8 -19.6h0m27.1 12.5h0m-2.1 3.6h0m-23.4 27.4h0m-3.7 -25.1h0m41.7 -13.9h0m-42.9 47.7h0m11.8 -58.0h0m4.8 5.8h0m-11.6 -2.4h0m-1.4 20.5h0m-2.9 4.1h0m35.4 5.5h0m0.6 18.0h0m-16.2 -42.4h0m5.2 58.1h0m24.4 -33.8h0m-31.6 28.4h0m-1.8 5.5h0m-13.3 -18.5h0m-2.3 -7.6h0m1.7 -35.0h0m3.5 4.8h0m31.7 28.6h0m-10.6 -36.8h0m-21.6 27.5h0m19.0 -24.5h0m-0.2 60.0h0m-5.3 -59.7h0m5.4 -11.0h0m-39.3 69.8h0m15.8 -35.3h0m19.1 -20.9h0m-27.7 48.2h0m26.0 6.7h0m5.6 -63.5h0m-13.5 55.4h0m28.6 -9.6h0m-41.8 4.5h0m3.6 -1.3h0m28.4 -42.7h0m-13.0 37.2h0m-17.5 -28.0h0m7.8 42.1h0m2.3 -58.9h0m2.3 21.5h0m28.5 6.8h0m-15.6 -25.9h0m-15.7 34.6h0m29.1 17.4h0m-24.4 -11.7h0m3.4 1.8h0m-6.5 -21.5h0m29.2 4.4h0m-11.3 -0.2h0m20.8 2.8h0m-39.3 -21.3h0m27.6 0.4h0m-21.7 36.7h0m-16.3 18.4h0m25.2 -38.1h0m-12.4 -6.5h0m-7.0 8.1h0m-2.0 1.7h0m12.3 -11.8h0m30.8 12.6h0m-37.8 -19.8h0m8.7 8.2h0m-0.4 30.3h0m21.1 -37.2h0m-39.4 7.8h0m37.9 -3.7h0m16.4 17.2h0m-10.5 -19.2h0m-20.8 42.4h0m-24.8 -23.7h0m12.3 1.5h0m34.5 -13.4h0m-16.0 9.9h0m8.0 -13.6h0m-0.3 28.0h0m-33.6 -13.1h0m2.0 6.0h0m9.0 -27.5h0m17.7 28.2h0m-40.5 32.1h0m21.8 -42.2h0m28.1 -15.9h0m-27.6 57.2h0m-9.2 -57.6h0m18.7 6.8h0m-16.6 -4.6h0m14.7 44.4h0m-4.1 -14.7h0m29.1 -32.3h0m-33.6 2.7h0m4.9 55.3h0m25.2 -21.4h0m-38.7 -19.9h0m36.6 1.1h0m2.7 18.3h0m-4.6 5.0h0m-2.3 -44.4h0m-32.6 41.0h0m24.8 -17.7h0" stroke="#ea4a4e" stroke-width="1.05" stroke-linecap="round" fill="none"/>
<path d="M79.9 114.7h0m0.2 0.6h0m-0.4 0.0h0m1.7 -5.1h0m-2.2 0.9h0m-0.4 -0.1h0m3.4 0.0h0m-2.1 4.4h0m0.4 -1.7h0m-1.3 -2.8h0m1.1 1.2h0m-1.3 -1.3h0m0.4 4.5h0m-0.8 -1.0h0m1.3 1.7h0m1.4 -0.8h0m-1.4 -1.9h0m0.6 -2.2h0m1.4 2.4h0m-2.5 2.9h0m1.4 -2.9h0m0.8 -1.4h0m-1.1 4.4h0m0.1 -2.6h0m1.0 2.4h0m0.7 -2.0h0" stroke="#3646a6" stroke-width="1.05" stroke-linecap="round" fill="none"/>
<path d="M167.3 71.0h0m35.9 -37.6h0m-5.4 17.6h0m-10.1 -6.9h0m12.1 -12.7h0m-32.8 32.9h0m31.1 26.7h0m-16.0 -27.4h0m-5.7 -15.0h0m22.5 -17.1h0m1.7 11.6h0m-37.2 21.4h0m13.7 21.8h0m22.9 -46.3h0m-10.3 22.3h0m-8.9 -16.5h0m-5.7 1.6h0m8.2 14.9h0m-2.1 25.4h0m4.3 -48.9h0m11.0 20.1h0m-6.1 -18.3h0m5.4 34.9h0m-2.7 -1.9h0m-18.6 -25.2h0m7.5 30.8h0m-2.6 -34.7h0m2.4 42.6h0m7.8 3.6h0m-1.6 -3.3h0m-10.8 -40.0h0m20.5 1.9h0m-7.5 10.0h0m-19.4 -9.3h0m33.2 -16.7h0m-13.8 39.8h0m3.7 -7.4h0m-25.4 8.0h0m11.1 3.4h0m4.2 -7.9h0m15.0 -15.7h0m-12.7 34.7h0m-19.9 -16.6h0m28.3 -40.9h0m-31.0 33.3h0m32.1 19.8h0m-1.9 -26.7h0m-31.7 23.2h0m14.0 -4.1h0m19.5 -1.3h0m-5.0 -29.0h0m2.6 50.7h0m-0.3 -33.5h0m-5.8 8.0h0m2.4 -9.9h0m7.8 -6.5h0m-18.1 1.9h0m-1.8 31.6h0m2.7 -9.9h0m13.9 -38.4h0m1.1 34.0h0m-13.1 -33.6h0m13.6 -10.7h0m4.4 60.0h0m-5.4 -19.4h0m-4.8 -16.0h0m0.3 27.5h0m3.5 -3.7h0m3.6 -29.8h0m-33.9 13.8h0m16.8 -2.2h0m-2.0 -12.5h0m-4.3 9.9h0m-6.2 28.6h0m25.2 -31.3h0m-1.6 -3.5h0m-4.9 4.1h0m0.6 24.5h0m-16.3 -24.4h0m16.4 -11.3h0m4.8 44.5h0m-1.0 -38.0h0m-18.9 26.7h0m-1.1 -1.8h0m17.2 -27.0h0m-1.9 18.2h0m-2.6 -9.3h0m7.5 40.8h0m-18.4 -45.2h0m-9.2 14.3h0m10.5 -3.5h0m7.2 21.7h0m10.3 -53.0h0m-18.6 22.6h0m25.7 -1.4h0m-7.3 26.9h0m9.9 -50.3h0m-16.5 38.1h0m-21.4 15.9h0m-0.1 -17.6h0m16.9 6.3h0m1.0 16.5h0m22.4 -66.0h0m-20.4 21.5h0m-2.7 1.7h0m6.1 -12.2h0m-8.2 10.7h0m10.0 13.7h0m-1.6 -22.0h0m6.6 36.4h0m-18.5 6.4h0m25.5 -45.3h0m-34.4 22.3h0m16.8 -7.8h0m-5.7 15.6h0m6.5 -4.7h0m-9.4 16.2h0m30.0 -49.5h0m-25.0 20.2h0m-6.5 21.4h0m3.1 18.0h0m-0.9 -12.6h0m-7.0 7.1h0m26.8 -12.9h0m-11.8 -15.3h0m8.7 25.7h0m-1.0 -35.2h0m-3.3 16.9h0m5.7 -22.0h0m-19.5 43.9h0m10.9 11.3h0m-2.9 -35.4h0m9.7 -4.5h0m-2.6 9.3h0m-3.4 10.4h0m19.3 -40.2h0m-40.9 44.5h0m-3.1 -9.3h0m16.2 8.3h0m21.7 -18.6h0m-13.6 19.8h0m5.5 6.6h0m8.0 -56.7h0m-35.9 40.8h0m5.5 -3.5h0m26.6 -24.5h0m-11.5 23.1h0m0.6 24.4h0m13.6 -12.7h0m-0.1 -7.1h0m-25.1 -6.0h0m16.3 5.4h0m-10.6 -14.3h0m-2.5 17.5h0m5.9 -5.4h0m-5.7 1.1h0m10.9 20.3h0m-25.8 -17.5h0m9.9 -13.3h0m13.0 32.4h0m-2.3 -15.4h0m-17.6 -16.1h0m21.5 -3.8h0m9.5 1.2h0m-13.9 -11.0h0m-2.8 4.6h0m19.9 13.5h0m-18.8 20.6h0m9.9 -4.2h0m3.8 -2.6h0m-6.4 -1.1h0m-12.5 -3.2h0m14.1 -6.4h0m-12.7 4.2h0m3.8 -8.9h0m9.3 -22.8h0m-2.6 14.4h0m5.7 -8.0h0m-8.7 22.7h0m14.9 -38.4h0m-34.7 36.6h0m-1.0 19.3h0m26.5 -50.3h0m-0.9 49.7h0m16.9 -50.5h0m-27.1 15.5h0m21.4 -9.5h0m-14.4 51.5h0m-13.1 -13.0h0m14.6 -20.0h0m10.3 26.5h0m-16.3 -37.0h0m3.8 11.8h0m2.9 29.0h0m-0.3 -3.4h0m-5.4 -42.3h0m7.5 6.0h0m5.3 0.1h0m-31.6 28.9h0m33.8 -36.9h0m0.1 -7.5h0m0.3 38.6h0m-1.1 -1.8h0m-5.4 -11.4h0m7.1 34.4h0m-13.6 1.1h0m9.5 -20.4h0m-4.9 -21.6h0m8.4 45.3h0m-22.7 -22.7h0m15.3 -20.9h0m-10.9 3.1h0m0.5 -7.3h0m-13.3 8.2h0m33.7 -13.0h0m-36.1 14.9h0m8.8 8.4h0m24.0 -11.0h0m-8.6 14.6h0m7.4 -31.5h0m-2.5 -0.8h0m-6.8 22.8h0m-15.5 18.2h0m17.5 -28.2h0m4.7 32.0h0m-14.5 -11.0h0m15.9 -6.8h0m-11.0 -13.9h0m1.5 42.0h0m-13.8 -34.4h0m19.7 11.9h0m-12.1 -18.2h0m14.4 10.4h0m-27.1 8.9h0m31.8 -17.5h0m-2.1 1.1h0m-17.3 3.2h0m-2.0 -0.9h0m5.9 24.4h0m-5.6 -29.0h0m20.3 -19.0h0m-14.5 18.9h0m5.2 -15.4h0m-4.5 37.0h0m-1.4 -2.1h0m-13.4 -18.9h0m31.1 -1.0h0m-20.0 -6.3h0m13.8 42.3h0m3.1 -42.6h0m-24.6 24.2h0m11.2 19.8h0m-11.1 -29.0h0m-8.8 2.7h0m21.9 13.9h0m5.0 -16.7h0m-22.3 -1.4h0m23.1 16.2h0m-2.8 -20.8h0m-0.2 18.8h0m5.4 20.2h0m5.8 0.0h0m1.4 -39.9h0m-37.5 23.7h0m32.0 -19.2h0m-1.3 18.2h0m-5.2 -25.1h0m-16.8 11.3h0m12.8 -0.7h0m17.7 -35.0h0m-13.4 14.3h0m4.7 40.6h0m4.3 8.9h0m-18.1 -40.3h0m18.7 39.1h0m5.4 -53.2h0m-14.3 32.0h0m-1.3 11.1h0m-17.1 -15.6h0m6.8 4.1h0m-3.0 -17.7h0m-3.5 31.8h0m25.4 -16.9h0m1.2 -7.3h0m-9.7 15.1h0m-4.6 1.4h0m-4.4 -13.5h0m18.5 -25.3h0m-28.1 27.4h0m-2.2 -1.5h0m8.7 -4.9h0m18.7 -3.4h0m-11.5 -3.6h0m10.0 -14.8h0m-0.6 44.3h0m3.2 -4.8h0m-5.5 24.6h0m-0.7 -59.2h0m-10.8 20.4h0m13.7 -21.4h0m-0.5 -6.8h0m-7.9 52.8h0m7.6 -46.2h0m-4.9 -0.7h0m11.5 57.9h0m-11.1 -18.7h0m-12.7 -20.4h0m14.1 8.1h0m-10.3 13.6h0m0.4 1.3h0m13.4 9.5h0m-13.8 -37.9h0m-3.1 18.1h0m16.5 -30.5h0m-0.7 14.0h0m-5.1 -1.5h0m11.7 2.6h0m-21.0 2.1h0m20.1 -24.7h0m2.3 12.6h0m-2.9 -4.5h0m-7.0 28.0h0m6.5 8.6h0m-15.1 -33.7h0m-7.1 27.0h0m7.8 20.8h0m10.1 -13.7h0m-6.3 7.2h0m6.3 -43.5h0m-6.2 51.1h0m12.9 -62.3h0m-4.4 7.2h0m6.6 -1.9h0m-8.8 33.3h0m5.6 -17.6h0m-6.5 20.4h0m-18.0 -7.3h0m8.8 22.0h0m8.8 -26.2h0m-15.0 18.8h0m-0.3 0.7h0m20.1 2.4h0m-9.3 9.9h0m0.3 -21.3h0m14.0 -11.0h0m-8.6 2.7h0m-9.2 10.8h0m24.3 -40.2h0m-7.6 22.6h0m-19.9 12.8h0m16.5 1.9h0m-31.2 11.3h0m32.3 -46.6h0m-31.2 29.6h0m-0.8 -6.0h0m1.2 14.2h0m14.4 -5.4h0m9.2 -27.1h0m-13.6 30.4h0m24.8 23.6h0m-0.5 -39.8h0m-27.7 14.0h0m-3.6 -1.4h0m12.7 -20.8h0m13.8 10.0h0m-13.8 0.3h0m12.6 -4.6h0m-16.1 0.3h0m15.1 43.2h0m8.1 -62.6h0m-19.9 55.7h0m11.3 -45.7h0m5.3 14.7h0m-3.8 16.1h0m-5.3 23.3h0m-25.1 -27.2h0m27.2 -14.8h0m9.5 0.4h0m-23.9 28.3h0m21.6 -49.5h0m-15.7 53.8h0m-17.1 -15.6h0m8.2 1.8h0m14.7 -25.7h0m-4.9 -4.8h0m-4.0 15.0h0m10.5 -1.2h0m-12.2 -0.4h0m5.9 19.8h0m11.7 -42.4h0m-11.6 41.5h0m-0.1 -6.3h0m-8.9 -19.0h0m18.7 45.5h0m4.8 -43.3h0m-8.1 -11.4h0m7.9 2.4h0m-7.1 51.1h0m6.1 -47.0h0m-1.1 30.9h0m-26.4 -9.4h0m28.4 16.0h0m-8.1 -43.5h0m-27.4 23.6h0m43.0 -30.5h0m-33.8 25.0h0m-9.7 20.9h0m10.1 -10.1h0m-3.2 9.9h0m23.3 -26.6h0m-20.1 31.4h0m7.6 -19.1h0m-0.1 5.2h0m9.6 17.6h0m-1.9 -44.4h0m-17.4 34.5h0m18.6 -32.8h0m5.1 12.3h0m-14.0 -15.6h0m-5.1 29.6h0m17.1 15.1h0m-4.4 -21.6h0m11.2 -19.9h0m-35.5 28.2h0m29.7 -24.7h0m5.6 0.7h0m-7.7 -2.9h0m7.3 -3.1h0m1.7 -4.1h0m-17.4 15.8h0m-10.7 8.7h0m24.0 19.5h0m6.2 6.1h0m-11.5 -28.1h0m-10.8 -16.6h0m11.8 4.4h0m-7.5 35.3h0m6.1 0.6h0m6.6 3.7h0m-0.4 -53.4h0m-28.0 27.2h0m11.0 15.4h0m7.1 6.8h0m4.0 -41.5h0m-4.7 33.4h0m2.9 -1.7h0m-18.3 -17.2h0m9.5 29.5h0m19.2 -23.8h0m7.1 -37.3h0m-42.2 40.0h0m32.1 -11.5h0m0.1 22.2h0m4.3 -27.5h0m-6.4 35.0h0m-3.2 -4.8h0m-8.2 -1.8h0m6.4 10.4h0m-18.0 -4.7h0m23.2 9.9h0m3.6 -43.3h0m-21.6 8.9h0m10.8 -9.7h0m11.3 38.6h0m-2.7 -18.1h0m-28.1 -5.8h0m29.7 -34.7h0m-9.6 2.8h0m-16.0 38.8h0m7.7 -15.5h0m8.0 5.2h0m14.4 32.4h0m-36.0 -19.9h0m15.6 4.2h0m15.7 4.3h0m-0.9 -27.8h0m-2.2 43.7h0m10.6 -59.5h0m-6.5 14.6h0m4.6 -22.5h0m-26.6 20.1h0m32.0 -19.1h0m-16.1 59.3h0m9.8 -52.0h0m-26.1 39.8h0m12.3 -14.2h0m-12.4 10.0h0m14.6 -17.1h0m-1.2 -15.9h0m9.2 -9.1h0m-10.2 27.4h0m11.8 -32.5h0m-14.8 58.0h0m16.9 -37.1h0m2.8 -15.2h0m-33.9 23.9h0m30.3 -7.7h0m-15.5 26.5h0m-21.1 -11.9h0m35.7 24.5h0m-31.3 -17.3h0m21.0 -17.9h0m-8.3 -13.8h0m1.9 -3.3h0m16.3 49.2h0m4.8 -48.0h0m-23.4 10.2h0m10.2 52.3h0m5.6 -68.8h0m-31.0 43.7h0m25.6 3.4h0m-16.0 6.8h0m1.7 -36.7h0m7.7 22.1h0m7.2 -15.5h0m0.9 -19.5h0m-14.4 23.2h0m-2.0 18.7h0m8.8 -10.4h0m-6.1 7.1h0m11.7 11.3h0m-0.2 -50.1h0m-15.9 27.5h0m24.9 17.8h0m-2.6 -42.9h0m1.7 51.7h0m0.7 -55.3h0m-2.5 16.3h0m1.7 31.6h0m-18.8 -19.6h0m-0.2 7.4h0m16.1 5.4h0m2.7 -34.6h0m-13.6 5.4h0m-13.0 20.6h0m22.5 -33.1h0m-0.2 62.2h0m-8.8 -43.0h0m0.1 -8.6h0m0.9 16.3h0m-16.5 9.9h0m8.0 -17.6h0m-0.4 15.1h0m18.4 -29.6h0m6.2 -0.8h0m-19.3 1.5h0m9.8 5.1h0m-1.2 45.8h0m-20.8 -16.6h0m34.3 -41.1h0m-22.8 36.4h0m20.0 -24.5h0m-17.1 31.7h0m-14.8 -18.4h0m32.7 33.8h0m-35.1 -13.2h0m-4.6 -13.8h0m20.8 7.0h0m-6.9 17.3h0m-1.6 -1.1h0m9.7 -39.9h0m-9.1 39.5h0m10.5 -10.0h0m9.3 -33.8h0m-31.6 15.9h0m35.5 -19.3h0m-5.5 36.8h0m1.1 -41.3h0m-6.1 51.1h0m-17.2 -30.4h0m19.6 27.6h0m-16.3 -10.4h0m-6.6 -5.9h0m2.1 -5.6h0m4.6 -5.3h0m24.0 15.1h0m-28.9 -13.6h0m25.2 -6.3h0m-5.1 47.1h0m-2.9 -61.0h0m-4.1 21.8h0m-4.7 13.3h0m10.0 5.5h0m-25.5 -14.9h0m8.2 -5.1h0m30.9 -29.4h0m-39.3 31.3h0m38.4 -29.5h0m-20.0 20.7h0m-6.5 33.0h0m-9.9 1.3h0m32.7 -11.6h0m-17.1 -22.0h0m23.1 -16.1h0m-15.5 34.2h0m-16.9 7.4h0m16.4 7.8h0m9.1 -13.4h0m1.5 4.0h0m-25.8 7.9h0m-2.8 -24.5h0m5.5 -6.9h0m10.7 5.5h0m-12.2 6.9h0m-0.8 -10.1h0m20.6 1.8h0m-2.2 29.1h0m-4.6 -51.0h0m8.5 33.3h0m-3.4 -6.0h0m-2.6 20.8h0m-7.0 -28.2h0m-8.2 25.9h0m17.3 -8.0h0m0.5 -18.5h0m-11.7 35.6h0m6.6 4.1h0m8.0 -62.1h0m-3.9 60.3h0m4.3 -40.2h0m10.1 -25.7h0m-0.1 1.1h0m-15.2 63.2h0m7.3 -34.5h0m-30.3 16.3h0m-1.5 1.8h0m16.5 -7.5h0m7.3 -16.1h0m-16.0 20.5h0m-1.2 -19.0h0m17.5 -3.3h0m-19.8 7.2h0m5.2 0.2h0m25.1 31.2h0m-5.4 -5.9h0m3.8 0.4h0m-3.4 -13.5h0m-0.6 8.4h0m-12.6 -16.3h0m3.6 30.6h0m-1.1 -11.8h0m5.5 -40.8h0m-21.5 42.0h0m32.4 -47.2h0m-9.1 60.7h0m-7.4 -22.4h0m13.4 -40.6h0m-6.3 58.5h0m12.1 -58.4h0m-11.6 4.3h0m-8.6 28.5h0m6.8 18.9h0m10.8 -40.4h0m-12.5 3.7h0m-0.2 37.0h0m0.1 -42.7h0m0.1 57.2h0m-3.5 -53.1h0m-4.6 7.1h0m8.7 21.6h0m7.5 -31.1h0m-12.0 25.3h0m-13.6 -3.7h0m7.1 13.9h0m15.5 15.4h0m4.3 -1.7h0m2.3 -56.5h0m-36.0 41.3h0m21.5 14.8h0m7.6 -3.2h0m-7.5 -44.6h0m13.3 -2.5h0m-22.1 20.1h0m-2.8 18.5h0m5.9 -20.2h0m20.2 -16.1h0m-14.2 -1.1h0m-19.5 18.4h0m4.8 -7.0h0m18.6 9.8h0m-22.6 -3.3h0m25.7 31.1h0m0.0 -32.9h0m-25.8 25.3h0m19.3 -14.0h0m6.4 -22.4h0m-10.9 5.6h0m23.7 -27.6h0m-16.9 56.0h0m5.0 18.6h0m-5.6 -51.8h0m4.7 13.8h0m-13.4 -0.6h0m7.9 -4.6h0m-4.9 6.7h0m6.4 -11.9h0m-7.9 15.6h0m17.9 12.4h0m3.8 -36.1h0m-21.6 41.0h0m-0.1 -36.5h0m-18.5 17.7h0m36.5 26.8h0m-26.5 -9.3h0m11.2 4.4h0m0.9 -42.2h0m-15.4 41.2h0m13.5 -6.6h0m5.2 -19.6h0m6.9 32.5h0m-4.9 -25.2h0m-15.9 3.3h0m20.3 -35.2h0m-5.2 14.3h0m-2.6 25.3h0m-0.8 9.0h0m5.9 -18.9h0m-19.8 13.5h0m21.8 -10.4h0m-7.0 9.1h0m-13.6 -2.0h0m4.5 -6.3h0m10.0 24.0h0m9.1 -58.5h0m0.5 64.2h0m7.3 -62.1h0m-23.7 52.1h0m-4.7 -35.1h0m14.6 12.9h0m-6.2 0.3h0m11.9 -17.0h0m-7.8 -3.6h0m9.9 47.6h0m-30.7 -26.2h0m26.9 24.4h0m2.1 -33.4h0m-31.5 22.2h0m15.0 -28.4h0m-10.9 32.1h0m27.8 -41.4h0m1.9 23.4h0m-33.0 -8.2h0m20.5 -21.0h0m-0.8 11.2h0m4.6 -6.4h0m3.7 24.2h0m-14.2 -22.2h0m4.7 16.1h0m7.5 -26.4h0m-14.5 15.7h0m-3.0 21.6h0m16.7 3.9h0m3.5 -14.4h0m-15.7 0.3h0m-6.5 -2.1h0m15.6 -12.8h0m9.1 16.2h0m-18.5 -2.7h0m13.3 5.9h0m-15.4 -10.1h0m-11.6 13.9h0m6.6 -1.9h0m13.5 5.5h0m6.0 -7.7h0m5.8 24.3h0m-5.2 4.2h0m-2.6 -15.7h0m-26.4 -6.8h0m32.8 13.4h0m-16.5 -23.3h0m16.2 -5.7h0m-9.0 37.9h0m3.9 -14.0h0m9.0 -44.3h0m-25.8 32.7h0m-1.1 8.0h0m-6.9 5.8h0m20.4 -28.6h0m7.7 26.3h0m-16.0 8.9h0m9.9 -28.9h0m4.2 23.9h0m-6.3 -1.3h0m10.5 11.6h0m-21.1 -19.3h0m2.1 -8.8h0m-1.0 -4.4h0m-11.2 10.2h0m23.4 -9.9h0m3.0 -14.0h0m-15.7 35.1h0m22.2 -43.9h0m-6.6 46.0h0m0.6 0.2h0m-19.1 -13.4h0m19.7 -5.3h0m-29.6 -0.2h0m12.1 -6.1h0m3.7 13.5h0m13.4 -20.1h0m-1.4 39.5h0m-7.9 -52.6h0m1.8 17.2h0m-9.4 30.4h0m-10.1 -8.9h0m28.1 20.3h0m-30.2 -31.6h0m31.4 25.5h0m-0.8 -24.8h0m-17.2 11.8h0m17.0 -19.6h0m-23.1 25.3h0m-4.3 -6.3h0m22.5 -33.4h0m-10.5 40.9h0m5.3 -5.4h0m-0.8 7.3h0m-11.5 -8.5h0m-3.8 -1.7h0m17.5 10.9h0m6.5 -35.6h0m9.3 -10.7h0m-25.2 27.3h0m13.5 -21.0h0m8.0 -3.9h0m-25.2 37.4h0m27.1 -20.8h0m-26.4 3.5h0m6.0 22.9h0m12.6 -46.9h0m-2.5 13.9h0m7.6 40.0h0m-12.9 -23.3h0m13.4 -24.3h0m-25.4 4.9h0m19.9 41.1h0m-5.6 0.6h0m7.7 -19.7h0m-9.1 -7.4h0m-10.0 -14.4h0m30.5 -12.8h0m-9.2 22.7h0m0.6 -7.0h0m4.6 38.2h0m-21.7 -30.1h0m3.4 3.5h0m-2.9 17.5h0m14.3 -38.4h0m-25.3 27.7h0m4.1 -1.9h0m1.7 6.1h0m15.6 12.0h0m14.3 -53.4h0m-21.8 8.8h0m-0.6 11.7h0m13.6 6.6h0m-11.0 -9.2h0m4.1 20.4h0m20.4 -45.8h0m-19.4 32.7h0m-20.8 2.1h0m36.7 -36.8h0m-6.8 53.3h0m-13.9 -10.8h0m17.9 -43.5h0m-38.8 39.0h0m40.9 -30.2h0m-22.9 26.0h0m14.9 2.9h0m3.3 -24.4h0m-0.2 35.9h0m0.6 9.8h0m-10.1 -35.2h0m12.2 -21.7h0m-3.3 3.4h0m-5.1 42.8h0m-10.6 -35.0h0m9.4 50.5h0m-24.4 -32.2h0m22.7 33.9h0m-21.8 -4.6h0m17.6 -11.3h0m-17.0 0.9h0m32.7 -50.1h0m-8.6 59.6h0m-5.7 -46.2h0m5.4 10.3h0m2.9 -14.3h0m-25.9 32.2h0m21.3 -0.8h0m2.9 -17.1h0m-17.0 21.0h0m5.4 -13.7h0m9.1 14.1h0m-7.9 -17.4h0m3.0 31.4h0m3.5 -11.5h0m9.1 -21.1h0m-1.7 7.9h0m-13.1 15.6h0m1.7 -8.0h0m-23.4 -8.2h0m0.1 8.0h0m25.6 -32.7h0m7.9 3.7h0m-14.3 34.8h0m11.2 -42.1h0m2.2 22.9h0m-8.3 -19.8h0m-9.6 52.6h0m0.6 -27.9h0m5.4 5.0h0m9.0 -24.8h0m5.5 35.9h0m-7.6 -11.3h0m-19.5 -10.8h0m14.3 21.7h0m-13.2 10.8h0m9.7 -45.3h0m9.1 8.1h0m-17.8 25.3h0m5.3 -27.3h0m18.6 16.1h0m1.6 10.8h0m-5.2 -33.8h0m-1.4 55.5h0m-7.5 -17.5h0m-21.3 -9.9h0m9.1 -10.3h0m19.2 0.0h0m-15.0 27.1h0m6.2 -47.2h0m-14.8 27.1h0m14.9 23.0h0m-8.6 -29.7h0m6.1 1.9h0m4.9 -19.3h0m13.4 25.9h0m-3.8 -22.6h0m-26.3 22.6h0m10.4 -17.6h0m20.1 20.9h0m-32.1 -8.4h0m32.5 -10.7h0m-4.2 19.4h0m-5.3 -16.9h0m-27.6 10.9h0m1.5 13.1h0m21.9 -30.6h0m-0.6 36.0h0m12.7 5.8h0m-28.1 -4.1h0m22.8 -15.5h0m-6.4 -15.3h0m-8.2 23.9h0m19.7 -34.8h0m-19.0 21.4h0m-11.9 17.1h0m8.1 -1.3h0m23.6 -19.1h0m-16.8 20.7h0m8.7 -24.5h0m4.8 -0.4h0m-20.5 6.7h0m0.7 5.6h0m24.2 -6.0h0m-24.2 -12.6h0m18.3 -10.2h0m-10.9 37.5h0m2.4 -43.3h0m3.5 18.0h0m-4.2 0.5h0m11.9 -23.4h0m-15.3 37.1h0m14.6 -24.4h0m-2.3 25.6h0m-0.9 -7.3h0m11.1 -31.3h0m-14.1 40.8h0m-1.4 -13.5h0m8.7 -22.1h0m-18.0 33.3h0m0.5 13.0h0m5.6 -15.2h0m13.9 31.0h0m-2.3 -21.5h0m0.9 11.3h0m-18.9 -29.8h0m-3.4 -6.1h0m18.4 -18.5h0m-12.3 16.8h0m15.4 4.6h0m-8.7 29.7h0m11.5 -13.5h0m0.8 -15.3h0m-21.6 26.2h0m7.0 -21.0h0m16.0 -33.4h0m-24.7 55.9h0m-6.0 -27.0h0m28.4 -12.2h0m-11.1 1.7h0m5.5 -7.9h0m-7.0 56.8h0m-3.1 -41.3h0m12.8 44.6h0m4.3 -56.9h0m-28.8 46.1h0m26.7 -30.0h0m-6.5 25.2h0m-1.3 -6.5h0m-7.7 -19.2h0m18.2 35.6h0m-25.1 -26.9h0m13.6 -30.3h0m-25.3 37.2h0m7.6 -2.7h0m29.4 -37.3h0m-15.8 12.6h0m-3.4 5.2h0m3.8 25.1h0m11.3 -7.3h0m-9.5 18.4h0m7.9 -47.7h0m-2.1 14.1h0m-8.0 39.8h0m-0.5 -33.0h0m-8.0 -8.9h0m8.7 -8.2h0m-3.2 -3.6h0m8.3 44.1h0m6.2 -18.9h0m3.3 -13.5h0m-16.0 -7.8h0m15.4 -3.3h0m-16.2 46.7h0" stroke="#cfcfd4" stroke-width="0.75" stroke-linecap="round" fill="none"/>
<path d="M201.9 85.3h0m1.2 7.7h0m13.9 11.2h0m-9.7 -19.2h0m37.8 -6.2h0m-47.4 27.7h0m29.5 -56.3h0m-0.6 36.6h0m-0.6 -15.6h0m2.7 6.2h0m-19.5 -5.9h0m1.2 -29.7h0m3.1 65.2h0m11.0 -2.1h0m-16.4 -56.5h0m12.1 24.7h0m9.4 28.8h0m-0.4 1.6h0m-13.8 -0.1h0m11.2 -65.3h0m1.3 26.9h0m-16.9 -18.8h0m-13.0 64.0h0m49.1 -25.9h0m-13.5 -13.5h0m-16.9 -23.2h0m20.6 52.7h0m-16.8 -29.2h0m5.7 30.3h0m-14.0 -51.9h0m18.3 47.4h0m-18.3 -21.5h0m39.7 -15.2h0m-33.6 -24.4h0m8.3 22.3h0m1.7 23.8h0m-6.2 13.5h0m-13.3 -31.6h0m32.9 21.8h0m-18.0 8.2h0m3.2 -45.6h0m-11.7 6.0h0m-11.1 17.6h0m25.4 34.8h0m5.3 -33.9h0m-27.8 15.8h0m18.3 -27.3h0m-17.8 45.7h0m27.9 -22.0h0m-18.8 -35.8h0m16.1 40.0h0m-11.6 -2.7h0m0.6 -9.6h0m26.6 -4.7h0m-20.4 1.3h0m-31.2 24.1h0m9.5 5.7h0m-2.8 -13.2h0m43.7 -36.3h0m-32.1 1.2h0m29.2 -3.6h0m-10.7 30.4h0m-12.6 21.6h0m-11.1 -1.0h0m20.5 -48.6h0m-8.2 7.5h0m26.8 -0.2h0m-35.4 -8.3h0m-13.8 55.0h0m25.6 -71.9h0m-16.5 8.7h0m23.2 45.9h0m9.4 -4.8h0m-0.7 -29.0h0m-17.7 -11.5h0m22.6 22.7h0m-10.6 -23.1h0m-28.0 27.3h0m-10.8 24.9h0m15.0 -47.3h0m11.5 -2.4h0m-4.2 51.4h0m20.7 -53.3h0m4.4 25.6h0m-30.1 7.7h0m26.2 17.5h0m-28.0 -10.8h0m16.7 -39.4h0m-4.6 55.2h0m-18.6 -37.1h0m4.9 5.7h0m0.9 -29.5h0m16.0 18.9h0m-10.7 -1.2h0m-2.3 31.5h0m5.0 -34.4h0m33.8 26.4h0m-44.9 -22.4h0m25.8 36.0h0m-13.9 7.3h0m-2.7 -60.0h0m32.7 21.2h0m-38.0 46.9h0m11.6 -25.0h0m-19.1 -4.7h0m-8.6 26.4h0m48.0 -35.6h0m4.9 1.4h0m-6.8 -24.1h0m-16.6 -4.2h0m-15.2 29.4h0m18.3 25.6h0m-18.7 -57.1h0m6.1 8.9h0m6.5 -4.3h0m2.1 50.4h0m-16.9 11.8h0m22.9 -38.1h0m-10.5 -27.8h0m-15.7 11.7h0m21.2 15.8h0m-12.1 36.3h0m4.3 -17.8h0m3.1 -3.3h0m-11.8 13.8h0m1.4 -29.9h0m23.5 -28.9h0m-34.4 60.2h0m1.6 -28.1h0m14.0 5.2h0m-2.2 29.2h0m12.7 -10.5h0m-25.6 8.1h0m2.5 -50.2h0m40.5 27.1h0m-21.1 25.4h0m-9.4 -22.9h0m13.2 -9.6h0m-3.8 4.3h0m0.9 -45.6h0m17.4 47.8h0m-50.0 23.5h0m12.4 -19.2h0m9.7 8.9h0m16.7 -31.4h0m-25.7 41.3h0m29.0 -48.5h0m6.0 17.3h0m10.3 -6.5h0m-6.5 7.3h0m-7.8 8.0h0m-11.3 -32.9h0m-8.0 50.9h0m-9.2 -27.3h0m7.2 -2.9h0m11.5 17.9h0m-11.8 15.2h0m-15.6 -1.2h0m23.0 -3.3h0m-9.2 -58.9h0m6.2 47.0h0m-14.9 -10.5h0m38.9 -10.0h0m-4.6 25.2h0m-4.3 13.3h0m17.7 -26.0h0m-44.2 -10.8h0m40.4 -5.9h0m-36.0 8.2h0m-1.1 30.3h0m8.4 -5.6h0m0.5 -43.6h0m7.6 20.4h0m18.2 2.9h0m4.0 -1.9h0m-20.9 -1.1h0m7.1 -14.9h0m-7.7 34.5h0m-10.8 11.5h0m23.5 -42.0h0m-5.1 14.4h0m-24.1 -14.7h0m10.1 -19.9h0m-15.4 16.0h0m23.1 30.9h0m-13.3 -20.9h0m14.5 13.0h0m-15.1 -7.4h0m-7.4 21.3h0m20.2 1.3h0m19.6 -7.7h0m-18.8 -29.1h0m-7.9 18.5h0m-1.7 -21.2h0m32.7 26.9h0m-36.7 5.6h0m0.0 -13.8h0m36.1 -9.2h0m-34.8 -14.4h0m9.8 52.4h0m10.9 -2.9h0m5.2 -6.6h0m-24.8 -23.8h0m6.6 -16.4h0m6.3 22.4h0m13.3 19.8h0m-7.1 6.6h0m-5.0 -43.0h0m5.4 -6.0h0m-22.7 -7.8h0m30.8 16.2h0m-39.6 48.1h0m6.5 -43.2h0m30.0 -18.5h0m-23.6 38.3h0m-15.8 22.6h0m33.0 -15.6h0m-5.3 -41.2h0m-3.3 -13.8h0m-1.8 43.1h0m-17.8 -29.6h0m25.0 19.4h0m-28.1 -11.4h0m40.3 -7.2h0m-12.5 22.1h0m14.3 4.8h0m-9.1 9.1h0m-7.2 -5.5h0m9.7 8.7h0m-34.9 -20.1h0m18.3 -9.6h0m-5.4 48.8h0m13.7 -59.7h0m3.5 51.5h0m-16.3 -21.5h0m-7.2 21.9h0m24.1 -7.7h0m-21.0 -23.7h0m9.3 -29.6h0m-3.6 47.1h0m11.2 -39.3h0m-3.0 26.7h0m-3.5 12.0h0m-6.9 11.7h0m19.2 -18.7h0m10.6 2.0h0m-31.5 -18.0h0m-8.6 33.5h0m5.4 -37.6h0m13.8 -25.6h0m22.6 47.6h0m-2.9 7.4h0m-16.1 -9.7h0m-8.1 3.7h0m-2.5 -30.5h0m31.4 22.3h0m-1.4 10.3h0m-43.8 -11.2h0m2.6 31.4h0m27.2 -52.2h0m-7.0 44.7h0m18.1 -44.1h0m-43.4 39.3h0m26.4 -25.0h0m-18.7 41.1h0m11.0 -51.3h0m-15.6 14.8h0m21.5 -30.5h0m6.7 25.9h0m-31.7 30.2h0m15.9 -41.8h0m30.4 24.3h0m-4.8 -16.0h0m-22.7 14.4h0m13.3 9.2h0m-13.7 4.6h0m-7.4 -46.2h0m-15.4 63.3h0m16.3 -22.7h0m0.3 -6.0h0m36.0 -22.5h0m-34.5 13.9h0m31.4 17.7h0m-15.2 -2.2h0m-9.9 -0.9h0m-8.4 17.1h0m-3.1 -57.0h0m-4.7 7.2h0m28.1 44.6h0m7.0 -15.7h0m-22.5 -50.4h0m13.4 58.3h0m2.9 -13.5h0m5.3 1.5h0m-0.9 -28.0h0m-6.5 30.5h0m-8.4 -18.1h0m-12.7 39.1h0m38.8 -40.1h0m-38.5 30.1h0m23.6 -21.9h0m4.7 20.7h0m-32.5 12.7h0m14.9 -72.9h0m-4.7 20.1h0m16.8 45.8h0m-27.5 6.6h0m31.5 -37.6h0m-37.8 31.3h0m38.2 -8.6h0m-33.5 -30.1h0m45.4 14.1h0m-41.2 15.0h0m14.0 19.7h0m1.4 -9.2h0m-7.7 -50.1h0m-15.6 12.2h0m20.2 14.1h0m6.9 -12.7h0m-9.1 -20.9h0m9.8 10.3h0m-9.5 10.5h0m18.7 18.1h0m-25.0 -15.8h0m-4.6 17.8h0m24.0 15.0h0m-0.7 0.8h0m-9.4 -58.5h0m-14.6 58.0h0m20.0 -47.2h0m-16.0 -8.5h0m42.4 33.4h0m-34.9 35.6h0m-4.2 -5.0h0m3.2 -6.0h0m5.6 -27.2h0m-9.2 -0.9h0m24.4 8.5h0m-48.2 27.2h0m16.5 -3.2h0m-1.9 -19.6h0m38.4 -21.2h0m-14.1 -0.6h0m-24.0 31.6h0m22.0 -18.7h0m-21.9 14.7h0m-14.7 12.2h0m21.5 -47.5h0m7.9 49.2h0m30.4 -38.8h0m-12.6 -3.5h0m-9.2 44.6h0m-9.6 -70.8h0m8.1 69.1h0m-17.1 -34.8h0m40.3 1.4h0m-33.8 19.6h0m23.9 -27.6h0m-4.7 -18.1h0m-14.5 26.3h0m28.0 -14.8h0m-40.7 45.8h0m-0.9 -27.2h0m22.9 9.4h0m6.4 -12.1h0m-32.8 -7.9h0m6.2 38.5h0m35.4 -14.3h0m-41.2 -32.6h0m21.2 6.9h0m-7.1 25.7h0m-5.3 -15.1h0m30.1 -20.3h0m0.6 37.0h0m-17.9 -32.1h0m0.0 16.3h0m18.3 -12.1h0m-19.0 -29.0h0m-4.4 58.0h0m23.6 -43.2h0m-40.4 55.9h0m20.9 -36.4h0m-13.4 -18.9h0m11.1 19.5h0m19.8 23.8h0m-50.1 14.1h0m28.7 -55.3h0m19.4 43.3h0m11.2 -25.0h0m-24.1 17.3h0m7.9 -38.8h0m-13.1 -12.6h0m-9.9 10.6h0m-16.4 50.6h0m22.1 -20.3h0m-6.0 -17.7h0m9.5 -7.6h0m-32.7 50.1h0m32.1 -49.4h0m7.4 -3.4h0m-22.7 31.2h0m-1.1 -6.5h0m27.6 -30.9h0m-16.7 21.6h0m30.2 -11.5h0m-50.0 44.9h0m0.1 11.8h0m34.5 -45.5h0m-36.0 41.1h0m10.5 -25.6h0m2.2 21.2h0m29.1 -9.4h0m4.0 4.7h0m-31.6 -24.8h0m16.2 -15.2h0m-18.1 -2.1h0m-0.7 -8.0h0m34.6 16.0h0m-20.0 16.3h0m1.7 -8.4h0m-4.6 -13.8h0m16.7 26.3h0m6.5 -26.2h0m4.8 11.2h0m-41.3 -10.2h0m27.3 3.6h0m2.9 6.7h0m-44.6 38.8h0m44.0 -12.4h0m-24.7 -35.5h0m4.5 -2.7h0m16.7 -11.0h0m-19.8 33.1h0m9.4 -14.7h0m14.1 4.7h0m-6.7 29.6h0m4.7 -28.0h0m-12.9 14.2h0m14.2 -38.9h0m-4.0 34.9h0m-20.6 -24.4h0m22.5 18.2h0m-29.1 27.8h0m26.5 -4.7h0m-9.2 -55.1h0m0.4 -9.1h0m4.4 42.5h0m-3.5 21.6h0m22.4 -26.7h0m-4.9 4.5h0m-42.4 23.9h0m53.3 -18.2h0m-57.3 29.4h0m7.3 -34.4h0m7.8 -32.0h0m33.5 28.1h0m-5.6 28.0h0m15.5 -42.7h0m-11.4 35.7h0m-21.2 9.7h0m-19.1 -27.8h0m46.0 -20.2h0m-46.9 18.3h0m48.1 1.6h0m-34.4 -32.5h0m14.5 0.7h0m-33.5 69.0h0m32.7 -75.6h0m27.5 41.0h0m-27.4 -6.8h0m4.5 5.1h0m23.0 -7.2h0m-39.8 39.2h0m38.6 -27.8h0m-30.4 -42.9h0m1.3 37.5h0m-18.5 -0.1h0m19.9 -25.2h0m-29.0 63.8h0m34.2 -29.5h0m11.8 -18.3h0m-15.0 34.0h0m-31.2 -0.6h0m5.0 -10.5h0m3.4 -11.3h0m12.6 -40.5h0m19.6 61.9h0m-31.3 -13.9h0m8.5 -0.4h0m-9.9 19.2h0m27.3 -3.7h0m2.2 -20.9h0m-6.0 15.0h0m23.7 -33.3h0m-9.0 25.6h0m-19.7 7.7h0m15.6 -37.1h0m-31.3 12.6h0m19.1 -11.1h0m0.0 -14.5h0m-14.5 18.9h0m5.0 -10.9h0m16.8 10.5h0m-8.2 28.1h0m-6.9 16.0h0m22.4 -52.3h0m-28.9 25.3h0m5.5 28.7h0m-9.6 -5.6h0m19.3 -28.8h0m14.1 12.3h0m-21.9 -42.0h0m12.7 17.3h0m-1.0 -3.5h0m-7.1 41.3h0m-26.7 7.9h0m8.9 -30.1h0m20.3 1.2h0m-14.3 -37.0h0m15.6 48.9h0m-25.4 19.2h0m0.2 -10.4h0m17.7 -49.3h0m0.4 -14.5h0m24.3 47.2h0m-33.6 8.3h0m3.5 4.6h0m-15.4 9.2h0m15.0 3.9h0m2.6 3.4h0m10.5 -22.2h0m8.7 -34.3h0m-19.6 -2.3h0m10.9 14.1h0m-0.6 13.5h0m8.0 6.8h0m-13.0 -30.9h0m-22.6 19.2h0m25.9 -34.6h0m-18.7 54.0h0m31.7 -12.2h0m-11.0 14.2h0m-2.6 -10.8h0m-10.1 11.6h0m14.3 -37.6h0m-27.3 48.0h0m30.2 -23.6h0m-18.9 11.2h0m16.1 -58.4h0m-17.3 61.5h0m38.7 -10.1h0m-56.3 23.9h0m33.0 -5.7h0m-16.3 -65.4h0m-7.1 28.6h0m-2.1 34.4h0m47.9 -26.4h0m-39.7 2.0h0m17.1 -16.8h0m21.0 16.4h0m-11.2 -5.8h0m-41.4 33.6h0m41.8 -13.5h0m-16.8 -21.1h0m-9.3 34.3h0m-3.1 -1.6h0m-13.1 -2.8h0m22.4 -22.7h0m-0.5 -17.3h0m0.5 1.8h0m21.4 3.5h0m-6.4 30.1h0m-20.1 9.9h0m21.6 -30.7h0m7.9 -29.6h0m-27.5 -8.4h0m1.8 73.2h0m-7.7 -37.5h0m23.0 21.4h0m18.5 -42.1h0m-42.7 27.7h0m18.4 -33.0h0m-2.7 30.0h0m19.9 -6.4h0m-1.6 -0.3h0m-0.1 -20.2h0m-34.2 26.4h0m7.0 24.4h0m-10.6 -6.0h0m3.5 -22.9h0m34.2 -7.6h0m-28.2 28.2h0m35.5 -32.7h0m-5.5 13.9h0m-7.7 -29.7h0m-16.9 23.2h0m16.8 -16.6h0m-32.4 48.5h0m42.1 -9.2h0m2.4 -15.9h0m-17.7 28.4h0m-36.4 4.6h0m31.7 -54.7h0m0.2 49.3h0m-24.8 -34.3h0m7.7 5.9h0m13.2 -20.9h0m0.2 39.5h0m17.2 -13.3h0m9.7 1.7h0m-10.1 -34.3h0m-5.1 13.9h0m-1.0 -0.6h0m6.8 4.1h0m-12.2 37.7h0m25.5 -23.0h0m-22.3 -32.9h0m-16.3 36.1h0m14.7 -11.5h0m2.2 -9.6h0m-26.1 -9.7h0m28.8 33.4h0m-9.3 -34.4h0m-2.9 -8.6h0m31.2 39.7h0m-12.9 -28.9h0m2.2 5.2h0m3.5 28.8h0m6.6 -5.7h0m-44.4 -26.4h0m11.5 26.7h0m-5.5 4.7h0m-2.2 -12.3h0m15.9 -18.7h0m-7.8 49.8h0m37.1 -32.1h0m-1.0 -6.5h0m-29.6 12.9h0m-23.5 -10.2h0m28.7 -2.4h0m10.6 26.2h0m-22.5 -22.6h0m-16.3 35.7h0m-5.7 5.1h0m26.2 -47.7h0m13.2 20.1h0m-1.8 -11.3h0m-35.6 25.7h0m5.9 10.5h0m29.9 -62.4h0m-13.0 16.0h0m-13.8 21.4h0m17.8 -37.1h0m-20.7 26.2h0m19.0 0.3h0m14.8 -17.0h0m9.0 34.8h0m-26.2 -47.2h0m-2.8 5.2h0m6.0 32.3h0m-16.6 2.5h0m19.5 -13.9h0m-28.0 25.8h0m41.9 -17.4h0m-16.2 32.6h0m-15.2 -51.6h0m24.1 -6.0h0m-4.2 -14.8h0m0.7 15.8h0m2.9 23.0h0m-30.0 -4.1h0m7.4 34.1h0m13.7 -43.9h0m-22.3 5.5h0m3.9 26.1h0m22.1 5.3h0m8.4 -18.6h0m-21.9 -39.5h0m-0.4 27.4h0m11.1 30.5h0m-16.9 10.6h0m25.7 -16.9h0m5.6 -36.1h0m5.5 23.7h0m4.0 7.3h0m-15.6 -9.3h0m-19.0 -7.2h0m-9.7 -9.7h0m33.1 29.7h0m-9.5 -2.9h0m21.1 -26.2h0m-11.0 31.3h0m-31.0 -31.5h0m30.0 1.7h0m-27.7 28.0h0m31.4 -26.7h0m-11.3 13.4h0m-9.3 -28.3h0m-12.4 38.8h0m-11.4 16.5h0m16.5 -21.4h0m39.0 -26.9h0m-27.4 30.6h0m1.8 7.3h0m18.5 -5.6h0m-22.0 7.9h0m4.9 -27.5h0m-34.0 39.2h0m6.9 -5.8h0m31.4 -43.6h0m-17.7 -23.6h0m8.0 71.5h0m-14.3 -31.3h0m6.4 -27.4h0m11.4 54.4h0m-13.4 -35.0h0m11.2 -10.3h0m2.1 50.3h0m-12.7 -43.0h0m20.8 -2.5h0m-4.6 31.4h0m-10.3 16.9h0m-11.3 -19.1h0m35.2 -23.8h0m-8.0 21.2h0m8.3 -16.6h0m-10.7 -6.7h0m-17.0 38.4h0m-11.2 -52.7h0m17.4 59.4h0m-29.3 -2.6h0m57.8 -43.4h0m-38.4 -21.6h0m14.2 44.4h0m2.6 17.3h0m-27.4 -34.9h0m-10.6 31.1h0m16.7 -46.7h0m15.7 4.5h0m7.0 0.5h0m-1.8 -14.6h0m18.9 23.5h0m-41.8 8.6h0m8.4 6.6h0m15.5 -40.1h0m-9.1 40.5h0m-19.7 -14.6h0m52.5 3.4h0m-14.3 2.0h0m-46.0 34.6h0m15.1 -27.4h0m38.6 9.9h0m-15.9 -42.3h0m-0.0 1.4h0m-12.5 7.7h0m8.6 50.5h0m-8.5 -15.7h0m6.0 -28.9h0m24.6 21.0h0m-14.5 -17.5h0m-24.5 -20.5h0m21.6 49.2h0m-16.5 -42.2h0m27.5 13.8h0m-19.1 -11.8h0m29.2 2.5h0m-41.7 14.8h0m19.8 -19.2h0m-12.2 53.5h0m10.0 -18.0h0m-26.0 -18.6h0m29.1 14.8h0m-13.8 -39.6h0m-1.0 -8.2h0m34.9 23.8h0m-39.1 5.4h0m20.0 -16.6h0m2.8 -8.7h0m-18.8 36.2h0m13.0 -4.5h0m-5.6 24.9h0m-20.2 0.7h0m33.7 -27.5h0m-6.7 -27.7h0m-30.4 22.3h0m18.0 -29.7h0m-0.1 31.4h0m12.6 -4.4h0m9.0 -10.1h0m-5.4 18.8h0m4.7 -26.2h0m-29.6 60.0h0m19.9 -69.0h0m18.0 46.7h0m-20.6 -3.7h0m-3.3 -38.9h0m-22.2 28.5h0m18.4 -30.5h0m9.4 34.3h0m-8.3 -31.0h0m7.2 28.9h0m-12.2 28.1h0m8.1 -52.9h0m-3.6 47.3h0m25.5 -13.6h0m-22.3 0.3h0m-11.6 21.8h0m21.5 -38.5h0m5.8 17.0h0m-18.4 -2.6h0m10.5 -16.6h0m-30.9 1.5h0m24.5 -14.9h0m20.9 3.2h0m-32.6 32.7h0m16.5 -32.0h0m-7.8 15.6h0m23.3 1.1h0m2.2 -9.8h0m-25.3 -23.8h0m-7.5 58.1h0m-12.5 -13.6h0m25.9 -44.8h0m12.3 55.2h0m9.9 -8.0h0m-33.6 -41.1h0m5.5 15.0h0m-16.6 54.2h0m-1.7 -23.9h0m9.3 -37.3h0m15.4 52.5h0m0.8 -29.8h0m-28.1 -7.3h0m20.7 6.2h0m-15.0 -10.9h0m27.5 38.9h0m18.0 -38.3h0m-28.2 43.7h0m-9.3 -0.1h0m-11.1 -13.4h0m38.0 -13.1h0m-38.7 -3.0h0m27.9 -12.0h0m4.1 -0.7h0m-11.8 15.2h0m11.4 -0.4h0m6.9 -24.1h0m-17.6 16.7h0m-22.8 35.1h0m34.9 -12.2h0m7.5 -31.4h0m-1.3 33.3h0m-21.4 4.0h0m-11.1 -41.8h0m-15.7 51.7h0m36.7 -14.2h0m-25.8 10.5h0m34.7 -42.5h0m-38.5 24.5h0m16.2 -41.7h0m30.9 24.9h0m-8.6 -2.1h0m-37.8 -0.1h0m32.6 25.9h0m3.9 -47.6h0m-25.0 38.1h0m31.0 -18.1h0m-27.4 7.1h0m6.7 -4.5h0m2.4 -32.6h0m18.5 35.7h0m-15.6 28.6h0m-22.6 -35.2h0m30.0 -0.2h0m-23.5 -20.3h0m25.0 28.9h0m-2.4 -21.4h0m7.4 30.5h0m-5.8 -14.6h0m-8.8 12.9h0m16.4 7.1h0m-10.8 2.0h0m-12.7 -4.4h0m-7.8 -9.6h0m0.2 -7.0h0m-2.3 -21.0h0m22.2 46.0h0m2.9 -33.4h0m-4.2 -3.5h0m-15.9 24.7h0m-11.2 20.8h0m-4.2 6.0h0m48.4 -41.5h0m-17.4 8.3h0m-29.7 -19.7h0m52.1 24.9h0m-34.0 30.4h0m7.1 -10.3h0m26.3 -39.6h0m-60.0 37.5h0m2.7 -1.1h0m41.8 -30.7h0m-19.4 34.5h0m1.8 -10.0h0m19.6 -26.1h0m-38.9 26.2h0m18.5 -49.2h0m-7.7 23.6h0m30.9 19.0h0m-17.6 13.7h0m-7.4 -55.4h0m14.0 14.8h0m-28.2 1.1h0m12.1 -16.1h0m-1.3 -1.2h0m12.3 19.8h0m24.8 -2.8h0m4.2 15.8h0m-7.1 -8.8h0m-16.1 -13.1h0m-18.0 -7.9h0m17.6 42.1h0m-5.1 8.4h0m2.0 12.1h0m-28.8 -43.0h0m0.8 35.2h0m41.0 -53.0h0m-10.7 55.1h0m-5.9 -42.9h0m-17.7 24.4h0m2.6 14.1h0m6.0 -2.0h0m-27.5 8.2h0m19.1 -28.7h0m32.2 10.4h0m-37.0 14.2h0m31.4 -4.8h0m-19.9 6.7h0m10.1 -22.8h0m-16.6 -20.2h0m40.1 3.0h0m-26.5 47.7h0m-17.4 -36.2h0m6.5 -3.6h0m36.4 7.6h0m-40.4 25.6h0m5.2 -21.1h0m27.6 -24.8h0m-19.2 29.5h0m-17.4 -22.7h0m18.5 -25.7h0m25.6 16.4h0m-50.0 44.7h0m23.3 -0.7h0m13.3 -27.9h0m-35.9 41.9h0m19.9 -8.1h0m-1.2 -40.0h0m17.0 16.0h0m0.3 -15.4h0m-6.4 40.2h0m-27.2 -30.3h0m51.2 6.2h0m-32.2 21.4h0m-22.4 -0.2h0m8.0 -32.2h0m10.2 -17.6h0m-1.7 45.7h0m-12.8 1.4h0m17.9 -59.8h0m-20.3 62.3h0m12.3 -43.8h0m-19.4 45.1h0m28.4 -60.7h0m18.2 3.6h0m-18.9 45.7h0m-14.8 -26.1h0m34.7 -12.0h0m-22.6 18.5h0m-3.5 26.1h0m-2.2 -2.3h0m16.6 -26.7h0m20.8 21.0h0m-48.0 -8.6h0m24.1 14.1h0m-2.7 -11.0h0m-13.8 -2.7h0m23.4 16.2h0m-2.1 4.2h0m6.9 -45.5h0m-40.0 43.4h0m12.3 -32.0h0m-6.6 26.4h0m37.6 -6.1h0m-32.4 -37.0h0m23.2 45.9h0m-32.7 6.3h0m47.0 -40.2h0m-21.0 -7.5h0m-16.6 7.8h0m0.9 21.8h0m27.3 4.3h0m-17.9 -48.3h0m5.5 62.2h0m-3.3 -24.9h0m34.6 -5.0h0m-48.0 5.5h0m13.5 -16.5h0m16.5 18.2h0m9.8 -25.1h0m-42.6 49.1h0m-0.3 -35.2h0m24.4 -31.8h0m-27.0 36.4h0m3.0 34.6h0m11.9 -37.0h0m-7.7 8.2h0m39.3 -26.0h0m-27.5 -13.0h0m-9.4 19.5h0m-5.3 24.2h0m15.0 -27.9h0m20.8 12.1h0m-14.4 -29.1h0m11.8 20.6h0m4.3 -6.7h0m-36.4 31.3h0m9.2 -46.1h0m18.8 52.4h0m15.1 -2.1h0m-13.1 10.3h0m16.5 -37.2h0m-11.3 33.5h0m-7.7 -21.2h0m-8.8 29.9h0m24.0 -29.8h0m-17.7 9.4h0m-27.2 -11.3h0m28.8 -33.9h0m-10.8 35.2h0m11.9 -14.9h0m-12.8 5.5h0m-7.3 24.0h0m21.3 -25.5h0m11.1 4.8h0m-5.8 -1.4h0m-6.7 -7.3h0m-0.1 16.3h0m-19.0 -40.6h0m23.7 13.3h0m8.1 4.5h0m1.0 31.2h0m-33.4 10.4h0m39.4 -16.0h0m-40.4 23.7h0m26.1 -24.0h0m-11.1 -13.3h0m-1.6 5.4h0m-20.8 -0.6h0m4.8 32.6h0m42.3 -37.8h0m-5.8 15.2h0m3.7 -26.5h0m-4.8 -4.9h0m-33.0 6.4h0m22.2 42.7h0m-11.6 -24.0h0m13.9 -4.7h0m-11.9 -1.3h0m-13.2 23.8h0m16.9 17.1h0m18.6 -55.8h0m-14.6 -13.0h0m-7.8 68.2h0m-31.0 2.3h0m41.2 -30.3h0m18.0 2.7h0m-41.5 -4.7h0m16.4 -34.2h0m-3.0 48.1h0m7.3 -31.6h0m11.6 11.9h0m-14.9 -4.8h0m26.3 3.1h0m-34.8 -27.4h0m12.1 28.0h0m-26.0 1.3h0m45.1 -6.8h0m-36.6 22.0h0m10.5 11.3h0m-25.4 10.6h0m-10.9 -2.2h0m31.9 -70.6h0m33.6 41.7h0m-48.0 -5.8h0m22.7 13.6h0m11.0 8.9h0m-24.3 -48.4h0m-8.5 15.2h0m-5.4 36.2h0m17.1 -24.6h0m17.0 22.1h0m-6.6 -22.6h0m-15.6 15.0h0m-8.6 -1.2h0m37.6 -24.4h0m-25.9 26.4h0m-11.2 -27.3h0m3.2 4.3h0m31.5 3.7h0m4.9 -13.2h0m-28.8 23.3h0m17.5 1.8h0m13.8 -4.8h0m-16.0 -33.2h0m8.5 51.8h0m-15.7 11.2h0m-28.8 4.0h0m30.1 -47.4h0m-21.4 44.2h0m36.0 -58.5h0m3.0 17.1h0m-17.0 28.6h0m-16.2 16.0h0m32.0 -41.2h0m10.5 -4.9h0m-13.7 13.5h0m-34.0 26.3h0m-3.4 -22.1h0m42.6 -31.2h0m-11.2 52.7h0m-22.9 -40.9h0m-0.8 3.5h0m-6.3 26.3h0m9.6 -44.0h0m30.6 44.2h0m-4.0 -21.3h0m12.5 -7.6h0m-37.6 35.6h0m19.5 -19.1h0m-24.1 -25.9h0m-1.6 41.4h0m27.5 -1.9h0m4.6 -46.2h0m-32.6 47.3h0m32.4 -18.7h0m-35.7 -11.8h0m10.8 23.2h0m-1.8 -48.6h0m26.2 53.6h0m-21.6 -58.9h0m-12.3 48.5h0m-16.3 19.8h0m29.9 -27.2h0m2.1 -2.4h0m-6.6 -35.0h0m33.7 22.6h0m-46.5 16.1h0m43.0 -16.0h0m-24.0 -24.5h0m-3.5 -0.7h0m-15.1 32.5h0m35.6 2.9h0m14.6 -7.8h0m-0.9 -1.9h0m-50.9 33.9h0m8.0 4.1h0m-3.6 -8.6h0m17.1 -6.8h0m7.9 20.4h0m1.8 -25.9h0m-8.9 4.1h0m1.0 26.9h0m-5.9 2.5h0m1.6 -69.3h0m-24.4 68.6h0m56.8 -54.1h0m-22.4 26.7h0m-12.8 28.4h0m-4.6 -8.4h0m19.5 -13.1h0m-30.5 -19.2h0m1.7 31.5h0m14.3 -47.0h0m-10.7 7.8h0m17.9 9.3h0m-5.6 -31.1h0m24.3 13.7h0m-12.8 38.4h0m7.8 -22.5h0m-39.6 29.1h0m11.3 -23.0h0m-5.3 -15.5h0m25.6 -8.5h0m-17.8 -7.7h0m5.0 35.3h0m4.0 -10.5h0m30.2 5.6h0m-48.5 29.1h0m23.8 -16.3h0m-28.7 13.1h0m22.7 1.4h0m2.2 -20.5h0m12.7 5.8h0m-12.3 -4.0h0m-10.3 7.1h0m-8.8 -26.0h0m43.0 6.7h0m-17.3 19.4h0m11.3 -31.4h0m-7.1 42.4h0m-1.0 -46.9h0m-28.7 51.0h0m12.7 -0.9h0m7.8 -23.9h0m-9.6 15.6h0m-21.4 14.1h0m41.9 -65.1h0m-4.7 40.2h0m-6.4 23.2h0m-1.0 -55.7h0m24.4 21.1h0m-19.7 -28.9h0m-7.4 7.6h0m4.2 15.0h0m-0.9 13.2h0m29.6 -4.5h0m-33.9 14.7h0m7.4 -29.4h0m9.5 -14.1h0m-22.0 -12.2h0m17.3 44.2h0m7.9 12.6h0m-42.8 4.4h0m33.7 -9.0h0m-26.8 -28.4h0m-0.2 -4.7h0m-1.2 41.9h0m30.4 -13.2h0m-17.1 -9.9h0m28.8 9.2h0m-54.3 16.7h0m60.3 -27.8h0m-36.3 33.3h0m15.3 -37.1h0m3.0 3.9h0m0.3 -22.5h0m1.6 9.8h0m17.0 -1.2h0m-39.4 38.6h0m-0.0 -25.4h0m7.1 -17.3h0m-7.6 28.6h0m28.9 -22.7h0m-5.6 37.5h0m8.1 -4.2h0m-14.8 -34.1h0m-26.1 26.5h0m27.8 -29.6h0m-14.1 15.9h0m30.9 16.5h0m-29.0 -25.4h0m37.0 11.2h0m-16.7 -29.6h0m-13.2 29.1h0m-0.7 32.3h0m17.0 -43.1h0m-40.1 10.1h0m19.0 -18.9h0m21.6 23.2h0m5.8 -15.3h0m-30.0 -24.5h0m27.7 19.9h0m-35.6 -9.2h0m-7.5 15.1h0m45.2 -12.8h0m-32.7 10.8h0m-14.9 40.8h0m6.7 -9.5h0m44.4 -13.2h0m-31.1 31.6h0m13.5 -36.5h0m-40.9 23.4h0m37.3 -54.5h0m-15.7 47.0h0m32.4 -16.6h0m-30.8 -9.2h0m-5.4 13.5h0m7.1 21.0h0m7.4 -15.5h0m23.0 -30.2h0m-47.2 7.6h0m42.9 15.1h0m-10.2 -20.5h0m-33.4 21.8h0m4.9 -29.1h0m2.2 21.3h0m29.7 -7.4h0m-2.2 30.2h0m-11.1 -54.8h0m25.8 21.8h0m-42.4 24.0h0m0.4 -6.2h0m30.8 19.3h0m-15.5 -10.6h0m-13.1 6.5h0m20.2 -16.4h0m-5.5 -8.9h0m-25.0 27.2h0m29.9 -48.4h0m-23.1 51.7h0m21.7 -16.4h0m19.9 -10.4h0m1.5 -2.3h0m-18.4 29.6h0m-13.5 -9.7h0m32.8 -6.6h0m-0.8 -8.2h0m-24.8 -12.1h0m-1.6 -16.0h0m-1.9 52.8h0m-16.2 -6.3h0m37.3 -39.3h0m-21.0 -9.6h0m-6.6 65.7h0m9.8 -64.5h0m3.1 21.8h0m-2.4 -11.3h0m-10.7 24.3h0m12.9 -1.6h0m0.6 -37.8h0m10.3 13.9h0m-16.1 9.1h0m-22.6 39.2h0m27.0 -7.3h0m-33.3 13.2h0m39.2 -6.7h0m-23.0 -8.3h0m24.0 -20.7h0m-16.9 -8.3h0m-11.9 6.7h0m20.4 14.7h0m-9.1 -10.8h0m0.9 -22.5h0m1.2 28.8h0m-8.9 26.9h0m-6.0 -48.6h0m-0.4 7.8h0m27.4 -29.8h0m-3.0 43.5h0m-22.8 25.5h0m26.0 -14.3h0m-13.6 -4.0h0m35.7 -9.1h0m-20.7 -35.9h0m0.8 5.2h0m-24.4 19.2h0m19.8 7.8h0m-12.4 -12.3h0m-1.3 45.1h0m14.5 -38.4h0m-0.5 -29.6h0m-17.5 30.2h0m38.3 2.4h0m-9.9 -29.2h0m-6.7 36.3h0m-0.6 18.4h0m-10.3 -45.4h0m16.7 40.6h0m-19.1 -15.8h0m8.6 -12.8h0m4.4 32.4h0m10.7 -35.3h0m-19.7 34.4h0m-25.0 -0.0h0m21.2 -19.7h0m4.2 -29.9h0m-13.6 13.2h0m30.8 -2.4h0m4.9 14.0h0m-19.6 -8.5h0m-20.3 23.2h0m5.0 13.5h0m12.4 6.8h0m-13.3 3.7h0m26.5 -39.7h0m-6.1 29.5h0m15.2 -17.7h0m-18.2 21.9h0m-11.0 -53.8h0m21.0 19.5h0m-12.3 31.4h0m-14.3 -21.7h0m1.6 4.3h0m21.0 -7.8h0m-9.5 4.3h0m5.2 8.5h0m-5.2 11.7h0m13.0 -42.9h0m-37.1 54.4h0m12.3 -72.9h0m12.1 23.3h0m20.2 16.4h0m-14.8 -19.0h0m-2.5 39.4h0m-13.2 -12.5h0m8.2 -3.6h0m-21.4 -12.2h0m47.0 -8.3h0m-21.9 40.9h0m8.0 -25.1h0m-9.7 16.4h0m15.3 -8.5h0m-23.6 -40.4h0m4.2 27.6h0m19.9 18.1h0m-35.5 -11.0h0m20.8 -44.4h0m-11.7 31.7h0m23.5 28.2h0m-21.7 -14.4h0m7.9 -42.9h0m23.7 26.6h0m-43.9 -3.4h0m37.0 26.7h0m-25.9 -16.1h0m28.1 -21.2h0m8.5 18.9h0m-27.0 -10.3h0m-2.3 -3.4h0m19.2 20.5h0m-17.9 -38.1h0m-11.4 21.9h0m35.6 23.0h0m-4.0 0.9h0m-6.5 -11.7h0m-40.6 33.4h0m20.3 4.7h0m30.3 -60.3h0m-11.7 18.2h0m-32.0 33.9h0m30.3 -59.2h0m-5.2 -2.1h0m8.7 47.7h0m-16.8 18.2h0m32.6 -37.0h0m-33.1 16.1h0m7.4 16.8h0m-24.2 -35.2h0m26.9 26.4h0m-10.9 -4.3h0m-0.1 -0.4h0m6.3 5.2h0m-7.0 -33.0h0m-1.9 -20.9h0m29.4 43.5h0m-13.1 -26.6h0m-15.7 45.3h0m6.9 -63.2h0m-21.6 18.6h0m19.5 38.1h0m-1.1 -46.8h0m5.4 -11.9h0m23.4 22.9h0m-5.4 -0.9h0m-8.5 28.1h0m-2.0 -6.0h0m-34.0 22.6h0m6.5 -52.8h0m44.2 19.7h0m0.8 0.6h0m-31.7 -7.3h0m-22.6 46.3h0m26.0 -40.7h0m9.1 -19.5h0m-26.0 27.8h0m37.3 -23.2h0m-23.5 26.8h0m1.0 24.3h0m-5.6 -0.7h0m29.1 -41.6h0m-36.3 -4.1h0m39.1 1.9h0m-28.5 8.0h0m19.8 -18.2h0m7.8 8.1h0m-24.3 -25.6h0m-5.0 72.6h0m8.2 -46.1h0m-4.3 -20.5h0m-20.1 37.5h0m27.1 -30.5h0m-8.4 7.6h0m11.1 22.8h0m-1.2 -22.3h0m28.4 15.9h0m-51.9 16.7h0m38.0 -6.4h0m-32.1 -32.7h0m20.9 48.5h0m-26.8 -10.0h0m0.5 -25.9h0m23.3 33.7h0m2.6 -26.8h0m4.0 27.5h0m11.1 -42.6h0m-29.6 28.3h0m15.7 -35.1h0m-27.7 36.0h0m-2.8 -22.7h0m53.9 6.3h0m-23.7 -0.9h0m-9.9 6.1h0m28.5 -17.8h0m-41.7 56.6h0m10.4 -17.7h0m23.5 -36.7h0m-31.0 49.1h0m-11.1 -35.5h0m46.9 -10.2h0m-40.1 -6.0h0m1.5 38.6h0m3.0 -51.1h0m-23.3 62.0h0m28.5 -14.9h0m26.8 -34.1h0m-9.3 42.5h0m-29.5 -13.1h0m6.6 7.0h0m25.1 9.1h0m-9.2 -44.6h0m-27.5 26.8h0m11.6 15.5h0m3.3 -8.8h0m13.6 -36.1h0m-30.1 47.9h0m9.5 -30.7h0m22.6 -0.7h0m1.1 -4.2h0m10.0 26.5h0m-30.5 -39.1h0m13.6 34.3h0m11.2 -5.0h0m-1.5 -21.3h0m16.5 4.1h0m-30.3 20.4h0m-10.8 -21.5h0m34.1 12.0h0m-21.5 -41.0h0m16.0 59.5h0m-12.4 -1.1h0m2.5 -23.5h0m-3.3 39.0h0m24.4 -25.5h0m-29.9 -11.2h0m17.8 17.8h0m4.9 0.4h0m13.1 -13.8h0m-33.2 -38.3h0m-15.3 49.3h0m13.7 13.4h0m-10.5 -5.9h0m9.7 -10.6h0m-5.1 -32.6h0m-16.0 58.1h0m24.0 -62.8h0m0.4 43.9h0m17.9 -7.4h0m-15.0 -46.4h0m-13.4 19.6h0m17.9 46.7h0m-4.4 -13.8h0m25.5 -18.6h0m-31.6 14.1h0m10.1 21.5h0m-4.8 -43.2h0m9.8 5.9h0m5.3 7.8h0m-13.2 -23.7h0m-24.6 10.9h0m27.0 16.2h0m7.7 -13.3h0m1.5 1.5h0m-15.9 -32.5h0m10.0 26.3h0m20.9 10.0h0m-44.5 5.9h0m25.3 -5.8h0m-6.3 -18.6h0m3.1 -10.1h0m-5.1 40.1h0m16.2 7.7h0m-44.2 17.1h0m14.8 -62.0h0m7.0 -3.0h0m-10.0 56.9h0m-1.0 -54.8h0m38.8 15.0h0m-14.7 -11.2h0m-8.0 14.5h0m1.7 -17.1h0m6.2 55.1h0m19.1 -36.2h0m-52.4 31.9h0m7.5 0.5h0m22.6 -33.1h0m-8.6 15.0h0m9.8 8.3h0m-6.3 19.9h0m15.3 -21.3h0m-37.0 14.7h0m40.7 -37.0h0m10.8 -1.3h0m-34.3 3.9h0m4.6 -26.7h0m24.6 40.6h0m-48.5 4.8h0m3.1 13.1h0m11.7 -24.1h0m5.8 -14.3h0m-6.5 -24.8h0m-14.1 25.1h0m3.8 -0.4h0m19.1 4.8h0m-17.0 28.2h0m-12.2 4.8h0m28.0 -7.2h0m18.5 -0.8h0m-3.3 9.1h0m12.9 -42.6h0m-35.2 -13.4h0m-13.4 44.9h0m18.1 -56.1h0m17.1 50.1h0m-13.4 -25.7h0m-9.9 7.8h0m28.6 17.8h0m-38.4 4.8h0m21.2 -51.2h0m26.3 25.6h0m-27.9 32.7h0m-0.6 -1.9h0m21.5 -34.9h0m-10.8 -1.0h0m19.3 8.2h0m-40.8 -27.6h0m4.7 26.0h0m2.8 33.0h0m2.8 -21.3h0m3.8 -18.8h0m-7.6 51.9h0m19.5 -15.3h0m-13.5 3.1h0m-18.1 -17.4h0m12.5 26.4h0m28.9 -43.3h0m-46.8 13.5h0m13.2 -0.2h0m16.4 -21.5h0m-12.0 12.4h0m-13.6 28.4h0m44.4 -7.8h0m-6.4 -3.3h0m-15.9 -13.5h0m3.1 2.3h0m14.1 9.5h0m-26.0 -21.1h0m-3.7 -20.4h0m14.3 20.5h0m-10.7 -23.9h0m26.0 37.4h0m-29.1 17.5h0m1.7 -15.1h0m8.9 25.6h0m-2.9 -55.4h0m1.8 55.3h0m7.9 -32.3h0m20.1 0.4h0m-38.3 -30.5h0m2.8 58.7h0m24.0 -19.7h0m-50.9 24.8h0m46.7 -20.3h0m-21.6 25.4h0m36.6 -45.8h0m-27.4 19.0h0m-14.7 -40.8h0m7.2 18.4h0m38.0 15.9h0m-13.3 -5.0h0m-3.2 -21.6h0m-23.2 28.9h0m7.3 -17.0h0m-9.5 -6.6h0m4.1 4.2h0m-11.3 39.2h0m26.4 -35.3h0m15.2 28.0h0m-31.7 -20.7h0m-11.4 12.9h0m14.6 -34.3h0m-14.8 58.9h0m4.3 -48.4h0m-3.1 0.7h0m9.1 11.5h0m-22.1 38.7h0m20.2 -6.3h0m4.8 -37.5h0m-21.7 46.7h0m23.8 -29.3h0m-10.1 -3.5h0m32.3 4.4h0m-35.8 6.8h0m25.4 -1.5h0m1.4 -15.8h0m-5.5 -2.4h0m-3.2 1.9h0m6.1 29.2h0m-30.9 -3.1h0m19.4 1.2h0m-18.7 -27.8h0m50.2 -13.9h0m-49.1 22.5h0m4.8 -9.5h0m15.2 10.0h0m20.2 7.5h0m-10.8 10.2h0m-26.8 -32.5h0m0.8 26.4h0m7.4 14.6h0m17.2 -55.3h0m-8.2 46.1h0m22.7 -49.9h0m-9.2 21.5h0m14.0 -11.6h0m-16.8 -13.2h0m-29.6 54.9h0m0.5 -46.9h0m13.7 40.3h0m-8.2 -16.1h0m41.8 -0.8h0m-5.6 -16.2h0m-3.9 4.3h0m-27.0 -27.6h0m16.8 16.3h0m0.9 48.0h0m-10.5 5.8h0m25.0 -33.3h0m-18.5 35.5h0m6.3 -61.7h0m-12.0 32.8h0m1.5 -29.9h0m-20.5 49.4h0m4.8 -45.6h0m24.9 47.0h0m-5.9 -5.7h0m7.1 -14.3h0m-16.7 28.9h0m23.8 -31.1h0m-13.8 -7.4h0m-7.9 39.9h0m8.5 -16.3h0m6.4 -21.3h0m-20.2 -37.0h0m0.6 12.9h0m9.9 17.6h0m25.4 16.2h0m-27.4 -28.9h0m14.1 34.3h0m-36.3 -18.1h0m10.1 31.1h0m21.2 -56.4h0m-6.7 33.3h0m-31.7 28.2h0m51.9 -46.7h0m-16.2 9.2h0m-22.6 1.2h0m-1.6 -8.1h0m19.1 -14.4h0m21.9 26.3h0m-8.1 26.1h0" stroke="#cfcfd4" stroke-width="0.75" stroke-linecap="round" fill="none"/>
<path d="M203.9 46.6h0m-3.7 5.9h0m5.9 -13.0h0m-5.2 16.6h0m0.6 -11.1h0m-4.1 31.0h0m9.2 -46.6h0m-1.1 8.4h0m-7.2 38.5h0m8.0 -37.9h0m-7.6 26.5h0m3.8 -25.6h0m1.3 -0.8h0m0.8 -5.4h0m-6.6 42.3h0m2.9 -24.6h0m0.7 3.5h0m0.3 -13.1h0m-3.6 24.2h0m-1.0 7.8h0m2.8 13.8h0m3.0 -48.8h0m5.0 1.5h0m-5.5 -12.0h0m3.5 1.9h0m-4.2 -1.6h0m-0.7 13.1h0m-2.1 14.3h0m0.1 1.2h0m6.0 -10.3h0m-3.8 8.4h0m1.9 -6.4h0m3.1 -10.8h0m-7.0 28.7h0m-0.1 16.6h0m-0.0 -18.0h0m4.3 -25.0h0m0.3 3.6h0m4.5 -3.0h0m-4.6 -1.9h0m-0.8 4.5h0m4.0 -2.8h0m-4.6 9.1h0m0.2 -7.4h0m-4.6 25.3h0m1.9 -41.1h0m4.2 9.4h0m-4.2 24.3h0m0.5 -10.8h0m2.7 1.1h0m0.2 -13.3h0m-4.7 34.1h0m0.3 -10.1h0" stroke="#cfcfd4" stroke-width="0.75" stroke-linecap="round" fill="none"/>
<path d="M173.5 97.2h0m8.9 0.9h0m-6.5 2.1h0m2.1 -0.8h0m-10.4 -5.9h0m4.9 1.9h0m4.7 5.5h0m3.1 1.1h0m5.7 -0.7h0m-20.2 -14.9h0m11.4 13.1h0m-7.4 -5.4h0m12.3 -2.0h0m3.9 9.7h0m-14.9 -13.2h0m6.0 5.5h0m-6.2 -1.7h0m4.7 0.2h0m-5.2 2.6h0m7.3 1.8h0m-5.9 -6.6h0m5.1 0.2h0m-0.1 5.7h0m-12.7 -7.9h0m21.3 12.8h0m-12.9 -12.7h0m0.2 9.1h0m5.2 3.0h0m-2.1 -10.6h0m-3.6 0.1h0m15.4 11.5h0m0.8 0.3h0m-5.3 -7.3h0m-6.8 -4.2h0m9.4 5.9h0m-7.7 6.0h0m-7.0 -11.5h0m6.8 2.0h0m2.4 0.7h0m-9.0 -4.7h0m13.8 8.6h0m-7.6 -8.0h0m-0.1 5.5h0m-2.3 4.6h0m6.9 4.0h0m-9.4 -10.5h0m7.8 2.2h0m1.1 6.9h0m-12.7 -10.1h0m14.4 10.6h0m-7.3 -10.2h0m-7.3 -5.0h0m3.2 0.5h0m-4.7 2.5h0m7.7 2.7h0m5.4 -2.3h0m6.4 10.4h0m-11.0 -7.2h0m2.3 -2.8h0m-9.3 2.9h0m14.0 3.9h0" stroke="#cfcfd4" stroke-width="0.75" stroke-linecap="round" fill="none"/>
<path d="M176.8 70.5h0m7.2 -22.9h0m6.2 -12.2h0m3.7 38.0h0m2.5 -15.7h0m-7.1 -8.1h0m-8.0 10.2h0m10.8 -10.3h0m-16.1 7.8h0m4.3 17.5h0m-9.9 -8.8h0m8.1 -12.0h0m9.9 12.3h0m3.4 -12.0h0m-2.3 7.7h0m-6.7 -24.5h0m-1.2 33.6h0m3.9 -31.7h0m-2.2 14.8h0m-3.1 -8.3h0m-9.4 10.0h0m5.7 11.3h0m16.2 -26.1h0m-4.5 24.5h0m6.0 -4.6h0m2.4 -27.3h0m-3.4 39.8h0m-5.2 4.4h0m-5.8 -22.0h0m-12.8 0.7h0m20.3 -18.3h0m-2.1 16.8h0m-17.8 0.9h0m22.8 -24.2h0m-10.1 16.9h0m-5.4 14.8h0m0.9 -2.2h0m-5.9 0.1h0m3.0 9.8h0m16.0 -29.4h0m-22.7 15.7h0m26.8 6.5h0m-10.7 7.0h0m-6.8 -20.8h0m-1.7 4.5h0m12.1 -19.5h0m-12.6 26.2h0m16.7 -18.8h0m-5.3 -7.8h0m-9.5 33.1h0m9.1 -29.3h0m-5.3 30.4h0m1.6 -29.1h0m6.0 17.1h0m2.9 -10.8h0m-3.2 -2.0h0m5.8 -6.1h0m-4.8 34.0h0m-2.2 -19.4h0m-5.3 20.8h0m-7.1 -5.9h0m13.1 -13.2h0m-0.1 0.7h0m-5.8 -3.6h0m0.2 -13.1h0m0.7 30.7h0m0.3 -19.4h0m3.6 12.2h0m-11.3 -1.0h0m5.6 3.2h0m0.4 11.1h0m-0.3 -31.9h0m-11.5 19.2h0m4.8 9.1h0m14.8 -26.8h0m-0.7 18.6h0m0.3 -32.2h0m0.3 34.1h0m-1.7 4.2h0m5.7 -22.5h0m-9.1 -12.3h0m-15.6 23.6h0m18.0 -16.7h0m-18.6 16.6h0m9.7 10.5h0m11.4 -19.9h0m-11.8 21.2h0m16.9 -39.4h0m-14.5 32.9h0m16.2 -3.3h0m-0.4 -5.7h0m-3.3 -11.7h0m-20.2 12.7h0m1.1 -9.0h0m16.6 9.5h0m4.3 0.9h0m-0.5 -21.5h0m-0.4 34.3h0m-10.3 -18.8h0m-5.1 22.5h0m2.6 -6.9h0m-12.1 -12.9h0m14.9 1.1h0m-5.6 1.8h0m-1.4 -0.0h0m6.8 -1.7h0m-6.8 8.4h0m10.8 -2.2h0m-1.8 9.7h0m3.4 -23.8h0m-7.9 19.8h0m1.0 -24.7h0m6.8 20.4h0m2.3 -31.5h0m2.0 27.6h0m-10.7 -14.6h0m-8.1 10.5h0m7.8 4.8h0m-5.8 -7.0h0m1.7 -0.3h0m1.3 15.0h0m-3.1 -9.6h0m-3.8 -3.3h0m19.9 -7.9h0m-5.0 8.4h0m-4.6 3.7h0m2.4 1.1h0m1.4 13.1h0m-1.3 -35.1h0m-5.4 14.4h0m4.9 3.3h0m-1.0 -18.5h0m-1.2 15.5h0m5.5 15.4h0m-3.1 -20.2h0m2.6 19.5h0m-2.4 -30.8h0m1.5 34.1h0m-5.1 -24.0h0m4.4 21.2h0m-9.5 -10.7h0m-6.9 0.9h0m15.6 -20.7h0m2.9 38.0h0m-19.6 -15.7h0m19.9 3.8h0m-6.7 -13.7h0m-13.8 10.6h0m6.6 11.6h0m10.9 -14.0h0m-10.7 -4.1h0m22.0 -19.8h0m-1.8 -1.4h0m-5.5 33.0h0m-6.6 6.1h0m11.5 -0.1h0m-6.2 -24.8h0m5.0 -13.8h0m-3.5 12.0h0m6.5 -10.1h0m-12.5 0.1h0m-2.7 24.2h0m-11.8 2.6h0m11.7 -19.6h0m2.9 1.1h0m9.4 25.3h0m-9.6 -10.0h0m-14.0 -5.7h0m19.1 14.6h0m-1.5 9.4h0m5.0 -36.2h0m-2.1 35.9h0m2.8 -33.7h0m0.6 -3.0h0m-10.6 34.1h0m-0.4 -34.9h0m4.6 26.6h0m-13.9 -15.0h0m-3.6 4.4h0m-0.9 4.1h0m12.9 -3.8h0m3.1 4.2h0m7.3 5.3h0m-7.1 -9.7h0m4.5 23.5h0m-1.9 -45.7h0m1.1 2.1h0m5.2 -1.2h0m-9.6 32.3h0m6.6 -5.0h0m-16.1 -12.8h0m0.6 6.6h0m-4.4 5.9h0m5.6 -8.4h0m4.1 -0.5h0m4.2 14.2h0m0.2 -14.4h0m-1.1 -7.1h0m6.4 4.6h0m-13.7 21.6h0m3.7 -23.3h0m6.5 29.3h0m-0.1 -30.5h0m-1.0 25.2h0m-2.2 -34.3h0m-10.5 24.6h0m21.7 8.6h0m-13.5 -10.2h0m-0.5 3.7h0m2.8 -12.5h0m6.4 12.9h0m3.9 -8.0h0m-12.0 10.6h0m0.9 -19.2h0m4.6 -13.3h0m-0.5 35.5h0m0.0 -37.4h0m-13.6 21.8h0m2.1 13.9h0m13.0 -5.7h0m-4.2 -17.7h0m1.2 11.4h0m0.1 14.4h0m-4.6 -18.0h0m11.7 -4.5h0m-15.8 4.9h0m-6.6 6.4h0m11.3 -6.3h0m13.9 11.0h0m-6.8 -0.4h0m-4.3 -16.5h0m7.2 -15.8h0m-9.8 21.4h0m14.0 0.8h0m-1.3 12.0h0m-24.1 -2.8h0m22.0 4.9h0m-8.1 -9.4h0m11.8 6.1h0m-11.1 3.5h0m4.7 -0.7h0m3.8 7.4h0m-2.4 -15.6h0m-7.1 13.6h0m8.6 -2.9h0m-1.7 -5.7h0m-5.5 3.2h0m-2.2 -10.5h0m9.2 20.6h0m-2.1 -40.7h0m0.0 35.5h0m-3.9 -2.1h0m7.1 5.8h0m-5.1 -9.2h0m-4.4 -16.1h0m1.8 0.7h0m5.2 16.9h0m-5.4 0.6h0m5.7 -33.3h0m-23.0 21.1h0m22.5 -10.0h0m3.1 1.5h0m-1.9 1.4h0m-2.6 4.4h0m-18.2 -3.2h0m17.1 15.6h0m-2.3 5.6h0m7.1 -24.2h0m-3.6 7.2h0m4.1 17.9h0m-24.8 -9.9h0m20.7 0.5h0m5.0 -1.9h0m1.8 -3.7h0m-22.9 -3.1h0m9.4 -3.0h0m-7.3 8.9h0m9.3 8.9h0m-11.1 -8.2h0m-1.7 -3.6h0m18.5 -25.3h0m-6.2 41.0h0m7.0 -34.6h0m-6.5 36.5h0m2.2 -3.8h0m-0.6 -27.3h0m4.2 -1.2h0m1.7 33.9h0m0.8 -27.4h0m-0.7 3.4h0m-8.7 -9.4h0m8.8 8.0h0m1.6 5.0h0m-6.8 3.1h0m2.3 -24.1h0m-8.8 13.1h0m-4.3 19.2h0m12.0 -24.5h0m-14.1 13.1h0m10.8 -12.5h0m-11.6 10.8h0m14.8 -8.1h0m-4.5 25.2h0m10.2 -36.6h0m-11.5 16.7h0m-10.2 16.0h0m11.9 -0.2h0m3.8 -2.3h0m5.0 -18.3h0m1.1 17.0h0m1.0 -11.4h0m-10.2 18.2h0m-8.4 -9.7h0m18.3 -5.3h0m-12.4 8.7h0m7.3 -8.2h0m-3.9 15.4h0m-14.4 -11.9h0m18.8 -10.8h0m-19.4 8.6h0m19.8 -3.0h0m-20.5 7.6h0m18.2 3.9h0m0.3 11.4h0m-11.6 -9.2h0m9.3 -21.7h0m7.1 21.1h0m0.5 -17.5h0m-20.5 7.3h0m20.3 14.1h0m-2.1 -30.9h0m-17.0 6.6h0m6.8 9.1h0m5.0 0.5h0m-17.3 3.6h0m22.2 -23.3h0m-0.5 -0.6h0m-8.3 30.3h0m-11.9 -9.8h0m15.2 -15.5h0m0.0 -2.9h0m-12.2 16.9h0m22.0 4.5h0m-16.4 14.5h0m-2.9 -18.9h0m7.6 -1.9h0m4.2 17.5h0m-19.7 -8.1h0m17.1 -24.3h0m5.8 11.0h0m-16.3 6.2h0m21.7 1.8h0m-19.6 15.9h0m-7.1 -18.1h0m12.2 9.2h0m-2.5 6.9h0m12.8 -4.9h0m-11.1 8.8h0m3.6 -24.6h0m-7.9 12.2h0m-4.7 -11.8h0m9.9 3.6h0m-6.2 2.7h0m11.5 -23.4h0m-10.0 13.1h0m13.2 12.7h0m0.1 14.2h0m0.6 -10.3h0m-0.5 2.6h0m-15.4 1.0h0m2.9 -15.5h0m2.7 -1.9h0m-3.7 -2.4h0m7.7 11.8h0m8.4 1.9h0m-9.5 16.6h0m10.6 -47.0h0m-12.8 22.1h0m5.7 18.3h0m-9.7 -8.6h0m14.0 -12.9h0m-16.0 18.2h0m12.5 -1.7h0m-1.0 -22.6h0m-4.1 6.2h0m3.5 4.8h0m-14.1 4.9h0m2.8 -3.0h0m6.6 15.1h0m10.1 -1.2h0m-3.8 -19.0h0m-0.7 7.2h0m-1.4 -2.4h0m-15.5 -5.3h0m11.1 4.8h0m0.4 -5.1h0m2.2 17.0h0m-2.6 3.0h0m10.5 -9.1h0m-13.8 -12.2h0m3.0 -9.4h0m12.8 20.4h0m-9.4 -15.3h0m7.1 6.1h0m-12.8 17.8h0m-5.7 -14.0h0m13.2 -10.3h0m-8.0 2.8h0m16.5 -10.1h0m-5.2 27.4h0m-6.3 -24.5h0m4.8 35.4h0m-21.1 -17.4h0m20.5 -7.7h0m-3.7 -14.0h0m-8.1 28.0h0m17.2 -24.7h0m-20.9 7.5h0m16.3 4.3h0m-5.9 20.4h0m1.4 -31.2h0m4.4 4.6h0m-5.9 24.7h0m2.4 -26.4h0m2.8 11.2h0m-19.3 4.5h0m20.8 17.6h0m-12.3 -18.6h0m9.6 -11.5h0m5.1 -5.7h0m-6.4 30.1h0m0.1 -11.9h0m8.8 6.0h0m-0.3 4.6h0m-22.3 -2.6h0m-2.4 -7.6h0m17.2 8.9h0m5.7 -2.4h0m-21.3 -13.8h0m-0.5 9.2h0m12.5 -4.2h0m-0.5 13.8h0m3.6 -2.9h0m-5.8 -1.5h0m-9.0 -6.9h0m25.2 -28.7h0m-28.7 30.5h0m19.8 -4.8h0m1.2 -21.0h0m1.9 35.8h0m-6.2 -35.6h0m7.6 24.5h0m-7.2 -2.1h0m-16.7 4.8h0m24.6 -13.4h0m-9.4 -9.9h0m7.2 -1.1h0m-5.1 16.2h0m5.3 21.1h0m2.9 -19.4h0m-11.4 -14.6h0m10.2 -9.7h0m-2.3 28.6h0m-4.7 -6.3h0m-1.2 0.6h0m4.4 -0.9h0m6.5 -19.6h0m-11.4 6.2h0m9.4 17.1h0m-1.3 -8.4h0m-12.1 21.2h0m14.4 -11.4h0m-2.5 -6.6h0m-1.0 10.0h0m-10.0 -11.8h0m1.3 22.3h0m12.7 -3.4h0m-11.6 -28.9h0m-2.8 22.9h0m10.9 -14.4h0m-7.2 9.5h0m3.8 -5.1h0m-4.4 -6.6h0m-10.2 1.4h0m8.3 6.8h0m-8.9 0.1h0m4.1 13.3h0m-4.4 -21.7h0m2.0 8.3h0m7.8 -2.9h0m2.8 -11.0h0m-1.3 7.7h0m8.6 -1.5h0m-6.8 -8.9h0m4.3 23.4h0m-13.2 3.9h0m5.7 -21.8h0m9.6 30.1h0m-10.0 -22.1h0m-10.7 13.5h0m14.3 -28.5h0m0.2 9.5h0m-8.8 7.4h0m7.3 16.9h0m7.5 -8.7h0m-21.8 -5.2h0m21.5 9.7h0m-6.0 3.2h0m1.2 -14.4h0m-15.1 5.6h0m9.7 -12.7h0m-13.0 6.3h0m28.7 0.9h0m-23.7 -0.1h0m14.5 -3.5h0m-14.3 6.2h0m2.6 4.5h0m12.8 2.6h0m-12.8 2.7h0m-5.6 -9.3h0m11.5 -16.4h0m6.3 -8.0h0m0.4 41.6h0m-6.9 -16.5h0m13.5 -24.2h0m-13.1 23.7h0m12.7 -27.0h0m-2.8 41.6h0m-9.6 -23.4h0m-10.0 -0.9h0m13.6 9.7h0m10.3 2.3h0m-18.0 0.2h0m11.7 -12.6h0m1.3 -7.8h0m-9.0 30.0h0m4.1 0.1h0m-16.7 -7.0h0m24.0 -31.7h0m0.2 39.6h0m-20.0 -11.6h0m11.6 -24.7h0m2.3 23.0h0m3.5 -26.9h0m-10.7 43.0h0m5.3 -2.1h0m1.1 -13.8h0m-11.6 -6.4h0m16.2 2.4h0m-13.0 6.7h0m-2.5 -10.0h0m8.8 3.7h0m-5.5 -7.6h0m3.0 2.6h0m2.1 5.6h0m8.7 -17.0h0m-0.2 -0.5h0m-7.6 17.1h0m-13.6 -7.6h0m14.7 -2.3h0m0.5 22.4h0m1.3 -36.0h0m6.1 24.9h0m-22.1 -0.5h0m23.3 -0.6h0m-4.3 14.4h0m-4.3 -24.1h0m2.9 3.1h0m-13.7 12.3h0m-0.2 -15.4h0m9.3 11.8h0m-0.0 -17.9h0m8.3 17.3h0m-11.9 12.7h0m0.1 3.6h0m7.8 -40.0h0m-10.9 37.6h0m-6.9 -12.0h0m-3.7 -2.7h0m20.2 8.9h0m-5.9 -8.6h0m2.4 -19.7h0m-16.2 15.7h0m14.4 4.5h0m5.1 8.2h0m-3.4 -7.6h0m-2.7 14.9h0m7.1 -27.5h0m-13.0 10.2h0m11.5 2.7h0m-3.0 9.1h0m4.3 -21.1h0m2.3 20.6h0m-9.3 -28.6h0m-10.9 25.3h0m22.6 -29.3h0m-18.7 12.0h0m18.1 -16.0h0m-9.2 40.9h0m-9.3 -9.9h0m11.6 -5.0h0m8.7 -2.0h0m-26.3 -1.7h0m18.0 -11.4h0m9.2 14.6h0m-12.8 12.5h0m-2.1 -2.6h0m-10.7 -8.0h0m8.8 -4.8h0m7.4 -3.0h0m-4.4 22.0h0m-10.3 -6.0h0m20.8 -8.2h0m-14.8 3.9h0m13.3 8.7h0m2.9 -9.6h0m-12.4 -3.8h0m15.1 3.1h0m-4.3 -10.4h0m-5.8 -10.1h0m-9.8 31.6h0m3.6 -25.0h0m11.8 1.9h0m-2.6 6.5h0m-8.1 12.1h0m8.5 11.4h0m1.1 -28.8h0m-16.2 0.2h0m11.4 23.3h0m2.0 -13.8h0m-11.6 -2.2h0m12.3 9.5h0m-12.5 3.4h0m17.7 -1.2h0m3.0 -12.0h0m-15.2 -6.2h0m-0.6 -0.6h0m2.1 -8.0h0m3.0 14.9h0m-15.2 -7.6h0m8.3 21.7h0m1.7 0.9h0m9.6 -18.0h0m-6.6 5.0h0m-9.3 3.2h0m14.1 -15.1h0m4.1 20.9h0m-24.7 -8.3h0m3.3 1.5h0m23.6 -28.9h0m-9.2 25.2h0m9.6 5.1h0m-17.5 -14.8h0m5.1 11.5h0m13.5 -25.9h0m-6.2 31.0h0m-6.8 -7.6h0m-12.5 9.2h0m17.6 8.7h0m-12.8 -21.4h0m10.0 2.5h0m-16.0 6.7h0m14.9 3.8h0m3.9 -4.3h0m-4.7 -7.2h0m4.2 9.8h0m-18.5 -2.9h0m5.6 7.0h0m12.1 -18.8h0m6.2 15.8h0m1.4 -10.3h0m-13.1 3.2h0m-5.8 -10.5h0m12.0 8.1h0m-7.1 -9.4h0m4.1 -3.0h0m0.3 -5.9h0m2.8 5.9h0m0.6 6.1h0m5.9 21.3h0m-18.8 -12.9h0m12.9 4.1h0m-8.4 -5.2h0m-4.2 1.3h0m5.3 4.3h0m-8.9 -6.2h0m8.9 -6.1h0m10.1 -14.4h0m-7.1 36.8h0m5.4 -15.1h0m-15.4 -11.3h0m17.2 -7.5h0m-6.9 32.9h0m-2.9 -20.7h0m-6.7 0.7h0m10.5 22.1h0m-3.6 -34.6h0m-13.6 19.4h0m16.8 -1.7h0m3.2 -3.7h0m6.1 -17.9h0m-26.1 18.0h0m21.2 -14.6h0m-0.4 37.8h0m6.9 -21.4h0m-4.4 13.6h0m-16.0 -0.6h0m12.6 -33.9h0m2.3 9.3h0m-7.6 30.5h0m12.4 -43.8h0m-9.0 16.5h0m-9.3 21.6h0m9.3 0.2h0m5.4 -13.2h0m-22.5 7.3h0m16.1 -20.0h0m-11.0 11.6h0m10.3 -7.3h0m7.0 -15.9h0m-21.6 26.6h0m10.5 13.5h0m6.5 -16.2h0m0.9 -5.5h0m-7.7 16.7h0m0.6 -26.2h0m-10.3 11.1h0m19.0 23.5h0m-5.5 -35.8h0m7.8 24.0h0m-8.0 5.7h0m-14.9 -10.0h0m18.4 18.0h0m-5.9 -1.5h0m-7.3 -14.0h0m9.5 10.9h0m10.5 -8.1h0m2.4 -3.7h0m-14.5 15.2h0m-4.8 -5.3h0m17.3 -9.4h0m-7.8 1.0h0m6.9 12.9h0m-13.7 -12.4h0m-0.9 3.5h0m2.5 -18.2h0m-7.5 23.0h0m11.5 -4.3h0m-5.9 2.8h0m3.5 -14.0h0m8.9 -10.2h0m-2.3 -10.3h0m-2.8 15.6h0m1.2 11.8h0m-6.6 -20.6h0m9.9 12.2h0m-1.4 -0.0h0m5.1 8.1h0m-3.6 14.7h0m-3.7 -29.3h0m-4.6 5.7h0m-4.1 15.8h0m8.5 -23.7h0m6.8 18.9h0m-2.2 13.1h0m-8.8 -19.7h0m-1.7 -14.5h0m-7.5 7.6h0m9.3 20.0h0m2.0 1.4h0m6.5 -28.7h0m-11.3 28.3h0m11.3 -23.2h0m1.4 1.3h0m-12.2 7.8h0m9.4 17.4h0m-3.3 -42.1h0m-16.6 28.9h0m15.4 8.3h0m-10.9 0.1h0m10.6 -27.5h0m4.5 -5.9h0m-13.3 19.1h0m-6.7 5.0h0m15.3 11.1h0m-2.9 -1.1h0m9.5 -17.7h0m-9.3 2.7h0m5.6 -1.4h0m1.5 -6.3h0m2.8 -1.0h0m-8.9 -2.8h0m-10.3 23.6h0m13.1 5.0h0m-7.6 -4.0h0m16.7 -9.8h0m-18.9 0.0h0m-6.6 2.3h0m12.4 8.8h0m-2.7 3.8h0m8.6 -12.5h0m-7.1 -9.5h0m-1.0 13.9h0m7.5 4.1h0m9.4 -36.2h0m-11.6 22.3h0m3.1 -9.5h0m-1.3 28.9h0m0.1 -11.8h0m-1.2 -22.2h0m-11.6 25.9h0m16.4 4.8h0m-20.9 -20.6h0m23.0 18.7h0m-6.3 6.7h0m-1.6 -7.1h0m5.7 -26.4h0m2.1 4.9h0m-3.9 0.5h0m-1.1 18.5h0m6.1 -28.1h0m-20.8 8.6h0m11.1 8.9h0m6.1 14.7h0m-0.7 -28.7h0m-19.4 8.7h0m1.5 -4.3h0m8.6 0.6h0m11.4 13.9h0m-15.8 11.0h0m13.2 -3.8h0m2.4 -4.9h0m-20.2 -1.9h0m5.6 -4.7h0m16.7 7.2h0m-2.7 2.2h0m-20.7 -9.9h0m19.1 -7.7h0m3.8 -16.3h0m-9.6 39.6h0m11.3 -6.7h0m-8.3 11.0h0m-0.5 -20.7h0m-18.4 -2.6h0m23.2 1.5h0m-3.8 3.4h0m-16.1 -3.0h0m19.7 -23.9h0m-8.9 27.2h0m9.8 8.1h0m-14.7 1.7h0m16.0 5.5h0m0.2 -23.0h0m-12.8 22.1h0m6.0 -25.0h0m3.8 -4.7h0m-20.0 21.8h0m18.3 -13.6h0m3.3 15.8h0m-2.5 -19.3h0m4.1 22.9h0m-4.5 -2.4h0m3.1 -2.8h0m-13.1 2.5h0m14.6 -29.4h0m-5.2 8.0h0m-13.0 24.3h0m6.8 -14.1h0m-10.5 0.5h0m-1.6 -7.7h0m14.5 -9.7h0m-2.7 28.4h0m-10.6 -1.9h0m23.3 2.0h0m-5.3 -23.2h0m2.5 19.6h0m-6.0 3.1h0m6.6 -17.4h0m-23.7 9.3h0m23.3 -24.6h0m-14.4 37.6h0m9.9 4.9h0m-16.9 -16.6h0m25.4 -28.2h0m-26.9 25.3h0m12.1 11.6h0m0.2 -31.0h0m-0.8 30.9h0m7.4 1.7h0m3.3 -27.0h0m-3.7 30.9h0m4.8 -14.8h0m-0.9 -27.6h0m-21.0 19.5h0m11.8 -13.6h0m7.3 15.1h0m2.2 -1.2h0m-22.3 -1.6h0m3.2 -4.0h0m14.9 -5.0h0m6.6 -10.6h0m-22.6 19.8h0m7.5 11.7h0m-4.9 7.9h0m9.0 1.1h0m5.7 -38.1h0m-5.2 22.2h0m-4.7 14.3h0m0.3 5.1h0m11.0 -20.7h0m-18.2 1.0h0m15.6 13.8h0m5.5 -7.8h0m-0.8 -22.4h0m-5.1 38.7h0m-0.2 -36.4h0m1.8 14.6h0m-5.1 -0.5h0m-6.2 14.2h0m8.4 0.0h0m0.1 -1.7h0m-14.4 -18.7h0m19.8 -17.1h0m-4.9 2.0h0m-5.5 4.7h0m12.6 25.3h0m-2.0 3.7h0m4.2 -36.1h0m-24.2 23.0h0m20.9 -8.6h0m-0.2 -11.4h0m-1.1 19.8h0m3.6 9.8h0m-11.2 -13.5h0m3.6 27.7h0m-10.0 -25.8h0m3.5 16.5h0m-5.2 -1.5h0m5.4 -0.3h0m-9.4 -10.0h0m7.2 16.7h0m7.7 -3.8h0m7.2 -14.0h0m-8.4 2.9h0m6.6 12.5h0m-2.1 -35.7h0m-2.9 -1.3h0m-7.6 27.2h0m4.1 -10.1h0m0.7 20.5h0m1.3 -24.4h0m2.6 -14.4h0m-18.0 19.8h0m15.2 15.9h0m-1.9 -30.7h0m8.5 5.2h0m3.8 16.9h0m-4.9 -11.7h0m0.6 -12.4h0m-4.0 9.8h0m-10.6 13.8h0m7.7 4.4h0m3.1 3.0h0m-6.0 5.3h0m4.4 -19.3h0m5.7 -18.4h0m-3.8 18.1h0m-3.5 15.6h0m-10.4 -13.9h0m0.4 5.6h0m13.8 -2.3h0m-3.4 11.2h0m-5.2 2.0h0m7.4 -1.8h0m0.0 -23.2h0m-6.0 19.6h0m9.5 -26.7h0m-18.1 19.6h0m19.5 6.4h0m-15.4 4.2h0m0.9 -10.8h0m9.5 10.8h0m-2.5 3.7h0m-7.7 -18.3h0m12.9 -17.1h0m-13.2 17.7h0m1.0 -7.3h0m8.4 -9.9h0m-0.6 33.6h0m-1.0 -19.8h0m8.4 -7.0h0m-4.4 4.2h0m-14.4 12.4h0m-5.2 -5.2h0m11.7 7.5h0m1.3 -5.5h0m12.3 12.2h0m-0.4 -23.8h0m-19.2 22.9h0m4.0 0.7h0m17.5 -10.3h0m-14.8 -9.9h0m6.7 17.4h0m2.8 6.0h0m0.5 -13.2h0m2.9 -4.2h0m-14.7 -5.0h0m16.7 8.6h0m-8.3 7.5h0m-4.9 -15.6h0m4.4 16.2h0m1.9 -0.4h0m-0.5 3.5h0m-21.0 -11.9h0m14.3 12.0h0m-5.5 -8.9h0m6.9 -10.5h0m5.1 23.7h0m-8.1 -23.3h0m11.7 -0.3h0m-10.9 -13.4h0m5.2 27.9h0m-0.3 -7.2h0m6.7 -26.6h0m-8.8 10.3h0m3.1 28.6h0m2.1 -33.3h0m-7.7 1.8h0m-6.0 30.4h0m5.5 1.1h0m11.5 2.6h0m-9.5 -2.9h0m9.9 0.7h0m-1.7 -35.8h0m-1.5 12.9h0m-0.9 18.7h0m-19.7 -7.7h0m21.8 2.2h0m-8.2 -14.5h0m5.7 20.4h0m4.4 5.7h0m-6.5 -16.4h0m-2.2 -16.8h0m7.7 30.0h0m-11.0 -5.3h0m-7.0 -18.7h0m17.4 -8.1h0m-22.9 17.9h0m22.3 -22.0h0m-6.8 23.9h0m-9.8 7.7h0m2.5 -13.3h0m7.7 -8.6h0m4.0 8.4h0m7.3 1.6h0m1.1 -21.5h0m-8.4 34.3h0m-4.9 7.6h0m-6.1 -19.0h0m0.0 -0.5h0m17.0 -19.2h0m-2.3 11.9h0m-8.1 -7.5h0m-4.9 30.5h0m-0.6 -0.6h0m-8.6 -19.2h0m12.9 19.3h0m3.3 -0.2h0m-7.2 3.2h0m-7.3 -18.4h0m16.1 -11.9h0m3.6 29.3h0m-18.0 -11.5h0m2.2 8.4h0m10.9 -15.2h0m-10.3 14.9h0m-3.8 -8.2h0m-2.1 1.3h0m10.7 -10.0h0m0.0 -8.7h0m7.5 4.5h0m-4.5 7.2h0m7.4 -7.6h0m3.7 23.1h0m-3.8 -16.0h0m-16.6 12.6h0m19.4 -31.2h0m-7.4 8.3h0m-6.4 17.3h0m11.0 13.0h0m-13.4 -22.2h0m13.0 13.5h0m4.1 -1.7h0m-22.4 -7.4h0m11.7 13.0h0m-1.1 1.3h0m9.4 -29.0h0m-3.8 27.1h0m-20.2 -7.6h0m22.1 -17.1h0m1.8 10.4h0m-23.7 4.3h0m14.8 12.7h0m-8.5 -24.9h0m-6.6 9.2h0m6.1 5.8h0m13.1 14.8h0m4.8 -9.9h0m-1.0 -30.0h0m-3.6 10.3h0m7.5 6.8h0m1.2 7.2h0m-20.7 -14.5h0m2.0 22.7h0m5.1 -15.5h0m-0.1 4.8h0m7.7 -15.2h0m-9.4 17.4h0m-10.9 2.3h0m15.0 -28.6h0m-1.0 39.1h0m-3.3 -29.8h0m2.1 22.3h0m-8.9 -15.9h0m17.7 12.3h0m-2.6 15.9h0m-16.6 -16.6h0m21.0 -7.7h0m-10.3 19.0h0m-9.6 -18.5h0m5.8 8.7h0m3.1 -23.4h0m6.0 -8.5h0m-18.3 24.6h0m25.0 6.6h0m-11.9 11.2h0m-7.0 -11.5h0m8.2 -18.2h0m8.8 -8.4h0m-6.1 21.6h0m1.4 -22.0h0m-1.7 24.9h0m-2.2 -16.6h0m8.2 24.0h0m-0.1 -32.2h0m0.9 34.8h0m-17.1 -15.4h0m-2.5 -5.0h0m18.9 -2.3h0m1.8 17.3h0m-6.1 9.5h0m-0.2 -21.6h0m-9.6 20.8h0m-7.7 -11.9h0m23.7 -27.6h0m-1.5 39.8h0m2.8 -42.2h0m-18.5 21.8h0m11.5 -7.6h0m-14.9 10.9h0m15.8 -10.4h0m1.0 20.3h0m-3.2 -16.4h0m-10.7 20.5h0m1.7 -3.2h0m6.1 -9.1h0m6.9 -10.3h0m2.9 8.5h0m-7.7 11.5h0m-11.3 -12.1h0m16.9 10.8h0m-3.1 -4.8h0m5.5 3.3h0m-16.6 -18.1h0m-8.2 8.6h0m2.8 -1.0h0m17.9 16.3h0m-9.4 -27.5h0m12.1 29.1h0m0.5 -17.4h0m-11.1 -5.1h0m3.0 -12.3h0m3.5 33.5h0m6.2 -36.3h0m-17.6 33.3h0m10.7 -32.1h0m-17.9 22.9h0m8.5 7.6h0m-8.2 -10.1h0m11.3 19.1h0m-2.1 -27.0h0m8.4 -0.4h0m1.9 26.1h0m-12.5 -28.6h0m5.2 2.1h0m-4.6 14.6h0m7.2 5.1h0m-2.2 -30.8h0m-0.7 14.9h0m-6.3 17.3h0m9.1 -33.4h0m10.2 25.2h0m-9.6 5.4h0m-5.7 -14.8h0m-2.2 10.3h0m-6.2 -13.0h0m15.7 0.8h0m-2.4 9.7h0m1.1 -2.5h0m-18.8 2.5h0m16.6 -0.0h0m10.1 -23.5h0m-1.3 15.0h0m-10.7 20.7h0m3.0 -22.6h0m8.8 -18.1h0m-2.6 13.1h0m-1.8 33.1h0m3.8 -5.9h0m-11.1 -13.9h0m-15.1 -2.4h0m20.6 8.3h0m-11.2 -15.4h0m8.3 -2.8h0m10.0 -11.3h0m-18.7 14.6h0m-1.4 4.3h0m14.8 14.2h0m4.3 -32.3h0m-26.6 25.0h0m20.7 12.7h0m-5.7 -20.0h0m3.7 -9.1h0m-9.8 15.3h0m3.3 6.0h0m5.0 -22.4h0" stroke="#1f2b8e" stroke-width="1.05" stroke-linecap="round" fill="none"/>
<path d="M208.8 80.6h0m23.6 3.5h0m-20.7 -3.9h0m-17.3 26.7h0m21.7 -32.8h0m-5.2 33.5h0m-5.3 -23.8h0m17.7 -4.2h0m9.0 5.4h0m-15.6 20.7h0m14.5 -15.8h0m-13.6 10.7h0m-11.3 -11.5h0m5.9 -9.5h0m-19.2 24.8h0m13.1 -6.0h0m4.9 -11.5h0m0.2 22.4h0m-2.8 -10.7h0m6.8 -1.6h0m-0.2 10.6h0m-4.4 -27.7h0m3.5 19.5h0m-9.1 -11.2h0m7.2 -14.2h0m-2.8 3.6h0m4.3 24.8h0m-23.0 4.8h0m26.1 -3.0h0m3.8 -28.7h0m-30.5 34.0h0m5.2 -0.3h0m19.8 0.4h0m-18.2 -3.3h0m12.7 -3.5h0m0.1 -1.0h0m4.5 -1.0h0m-0.4 1.7h0m5.2 -18.7h0m-31.6 25.9h0m30.0 0.7h0m-5.7 -25.9h0m-2.2 0.3h0m0.2 -4.1h0m5.1 -7.2h0m-9.7 25.4h0m1.4 -5.2h0m8.7 -10.4h0m-8.0 16.1h0m-11.5 8.8h0m38.5 -21.8h0m-8.8 -3.5h0m-27.8 25.8h0m10.7 -3.4h0m4.5 -31.7h0m-7.3 19.2h0m9.3 8.2h0m-8.9 -2.6h0m6.8 -2.6h0m1.2 11.6h0m2.9 -3.1h0m-6.8 -12.6h0m-0.3 3.7h0m4.8 12.9h0m0.6 -30.4h0m-3.5 28.0h0m-1.7 -26.3h0m7.0 24.0h0m-7.1 -15.1h0m6.7 -5.0h0m-0.4 -5.6h0m1.8 28.0h0m5.1 -20.5h0m-0.8 -6.8h0m-11.1 21.1h0m1.0 5.3h0m9.7 -17.8h0m-12.2 6.9h0m-2.5 0.5h0m29.3 -7.7h0m-23.5 14.3h0m1.3 -15.1h0m17.1 3.3h0m2.3 -0.4h0m-23.6 6.6h0m2.6 3.1h0m-19.7 7.5h0m21.4 -23.1h0m5.2 1.7h0m-3.7 19.0h0m-3.5 -4.2h0m1.5 -8.8h0m7.6 -13.6h0m-11.3 31.1h0m3.3 -9.4h0m-1.7 8.9h0m-2.7 -24.3h0m4.4 -3.5h0m5.0 24.8h0m-4.0 -5.5h0m6.7 -17.5h0m-0.8 -1.2h0m-10.3 2.1h0m-19.4 29.7h0m-0.3 -1.8h0m20.9 -13.4h0m-3.7 8.0h0m7.1 -1.3h0m-0.2 -2.6h0m13.9 -14.7h0m-12.5 -8.4h0m-0.7 26.9h0m-0.6 -4.1h0m9.2 -17.4h0m-12.3 11.0h0m12.7 -8.0h0m-1.0 -0.3h0m13.3 -0.5h0m-32.5 9.8h0m4.9 13.9h0m11.1 -32.2h0m-2.9 5.7h0m1.6 25.5h0m-3.3 -21.9h0m3.5 -7.9h0m17.6 11.9h0m-13.1 -10.4h0m-14.2 -1.1h0m3.1 9.3h0m-4.2 1.1h0m14.3 -9.1h0m-11.2 11.4h0m0.9 -5.6h0m4.5 -9.7h0m10.6 11.6h0m3.8 -3.7h0m-3.4 -0.2h0m-36.7 25.9h0m19.6 -23.6h0m13.8 1.0h0m-6.5 17.7h0m-5.1 -3.2h0m7.5 -24.9h0m-3.8 2.1h0m17.7 5.5h0m-36.2 25.6h0m25.5 -25.1h0m1.0 1.9h0m-13.7 -0.6h0m-3.0 15.8h0m-9.8 4.9h0m11.7 -29.2h0m7.4 -1.3h0m-10.9 9.2h0m0.6 3.4h0m3.5 -1.6h0m-13.7 20.0h0m34.7 -21.5h0m-25.0 15.2h0m7.3 -28.8h0m-21.7 32.1h0m22.1 0.7h0m16.6 -20.6h0m-21.9 13.7h0m5.0 -15.2h0m2.7 1.3h0m-10.6 17.9h0m21.3 -21.9h0m-9.3 -4.6h0m-3.6 3.2h0m9.6 0.3h0m-13.9 16.5h0m-21.2 12.2h0m29.7 -35.6h0m-9.8 19.9h0m24.6 -7.5h0m-19.9 -11.4h0m-1.8 23.4h0m-15.4 10.9h0m23.4 -27.4h0m-5.1 23.9h0m-4.4 -22.3h0m17.1 -0.3h0m-8.4 0.1h0m3.4 -6.3h0m-14.5 17.5h0m5.2 15.8h0m22.4 -21.3h0m-31.7 15.7h0m-4.7 5.6h0m21.0 -32.9h0m9.1 9.5h0m-18.0 -9.0h0m4.1 30.8h0m-15.0 -1.0h0m17.0 -3.5h0m-5.4 -4.7h0m9.3 -21.8h0m-16.5 26.2h0m11.5 -21.2h0m-3.3 21.6h0m10.9 -18.1h0m-19.4 13.5h0m7.3 -9.5h0m1.3 -12.6h0m2.3 9.6h0m-0.6 20.0h0m-14.2 -0.4h0m14.7 -9.7h0m-18.6 9.7h0m11.5 -3.6h0m-1.0 -6.9h0m-0.4 6.5h0m8.5 2.1h0m10.6 -16.5h0m-9.5 21.0h0m-2.3 -14.3h0m2.9 13.9h0m-20.8 1.7h0m38.8 -21.1h0m-19.2 17.4h0m9.2 -21.4h0m0.4 -5.3h0m-11.4 -6.4h0m3.9 0.4h0m-0.6 1.6h0m2.0 -0.5h0m18.0 13.6h0m-30.9 -3.3h0m14.7 -10.8h0m-8.5 14.8h0m5.5 -7.7h0m-7.9 11.1h0m5.6 18.2h0m-21.8 0.7h0m36.7 -22.9h0m-20.8 -4.4h0m18.9 2.9h0m-9.9 -2.2h0m-14.0 16.6h0m4.4 -22.1h0m-11.6 32.0h0m32.4 -25.8h0m-11.2 20.7h0m-24.1 0.8h0m16.6 -16.7h0m6.1 -11.0h0m-5.7 11.1h0m-22.6 19.5h0m17.7 -16.2h0m13.5 -16.8h0m-15.4 22.0h0m20.3 -19.9h0m-19.8 13.9h0m9.5 -9.0h0m-22.2 24.0h0m20.5 -21.3h0m-6.2 3.5h0m5.1 19.7h0m-4.4 -19.7h0m-16.0 18.0h0m28.1 -30.2h0m-20.0 27.2h0m16.3 -31.4h0m-23.6 33.7h0m18.6 -28.1h0m6.4 2.2h0m4.2 -3.8h0m-9.3 11.4h0m-5.4 19.1h0m30.4 -19.6h0m-41.5 20.4h0m24.0 -28.8h0m-27.1 31.5h0m22.4 -36.9h0m-24.3 34.3h0m39.8 -23.8h0m-18.9 3.6h0m13.5 -7.0h0m-2.3 2.1h0m10.0 4.2h0m-21.3 21.5h0m6.7 -31.7h0m-13.6 19.9h0m19.4 -15.2h0m-21.7 21.8h0m-11.8 1.8h0m36.5 -22.9h0m-10.6 22.1h0m-0.5 -20.7h0m18.0 4.7h0m-37.1 17.2h0m16.5 -15.3h0m-16.2 15.6h0m20.2 -21.7h0m-3.2 -0.8h0m4.1 -10.9h0m-27.7 32.2h0m12.2 -0.5h0m13.3 5.9h0m-0.2 -27.7h0m-3.6 17.3h0m8.6 -21.4h0m11.6 7.0h0m-17.9 -1.6h0m-1.9 14.6h0m1.8 5.4h0m0.3 -3.8h0m-5.1 -5.4h0m25.2 -7.5h0m-20.9 18.2h0m-19.8 3.1h0m10.9 -15.8h0m16.6 -11.4h0m0.3 5.2h0m-13.2 2.5h0m0.9 -11.3h0m13.0 -1.4h0m-7.9 26.9h0m-0.5 -4.5h0m-14.9 10.6h0m15.1 -24.5h0m6.4 1.5h0m-11.3 4.2h0m-20.4 16.2h0m26.6 -21.5h0m-15.0 20.7h0m28.8 -16.7h0m-24.0 8.0h0m2.5 2.6h0m3.2 -14.8h0m6.4 16.8h0m18.0 -11.7h0m-20.0 13.4h0m1.9 1.7h0m18.6 -18.8h0m-28.5 4.2h0m16.5 -8.0h0m-9.8 15.5h0m8.4 -20.0h0m-8.0 28.2h0m15.4 -21.3h0m-36.0 23.3h0m18.9 -23.4h0m0.8 -11.9h0m5.7 9.0h0m6.8 4.6h0m-11.1 16.2h0m-18.2 3.8h0m11.4 -1.6h0m-2.8 -5.7h0m9.2 -0.5h0m-2.5 6.9h0m16.0 -19.6h0m-15.8 20.3h0m-1.0 -20.9h0m-11.4 18.2h0m35.4 -18.6h0m-19.5 -11.3h0m-5.5 2.1h0m10.4 -1.2h0m-5.2 5.0h0m1.3 6.5h0m-0.4 17.7h0m-16.9 1.3h0m37.5 -17.8h0m-22.8 -7.9h0m-1.1 27.7h0m2.8 -28.6h0m-11.3 22.9h0m10.4 4.2h0m-2.0 -19.3h0m2.5 17.3h0m13.9 -18.8h0m4.6 3.7h0m-16.9 -10.0h0m10.3 2.9h0m-21.7 9.1h0m11.4 12.5h0m1.8 -26.8h0m5.6 10.9h0m-3.6 -3.1h0m13.4 0.6h0m-26.9 12.8h0m-15.9 12.9h0m0.9 0.6h0m34.1 -30.6h0m-13.8 22.6h0m0.6 -15.4h0m-0.7 20.2h0m17.5 -18.3h0m-37.6 17.1h0m22.9 -30.4h0m-11.2 15.0h0m3.8 6.0h0m11.7 -14.4h0m-32.3 27.0h0m20.4 -24.1h0m3.6 15.0h0m0.8 -2.1h0m2.1 7.6h0m-25.9 3.2h0m16.2 -10.3h0m20.9 -13.3h0m-18.2 4.2h0m24.9 -0.1h0m-15.5 -10.3h0m15.1 9.4h0m-16.8 18.9h0m-16.3 -3.1h0m1.6 1.0h0m6.8 -5.1h0m16.4 -16.2h0m-6.9 15.0h0m-10.9 -5.4h0m11.5 12.1h0m-2.8 -6.9h0m0.5 7.3h0m19.2 -22.5h0m-34.1 20.8h0m0.4 2.0h0m14.2 -1.8h0m21.5 -15.6h0m-2.1 -1.5h0m-11.7 -11.1h0m-31.9 35.1h0m44.9 -24.5h0m-25.9 1.3h0m-14.5 16.9h0m21.2 -26.1h0m2.8 0.1h0m-9.1 26.4h0m-5.5 -6.2h0m21.1 -12.5h0m-9.5 -5.1h0m-5.5 8.0h0m10.0 -15.7h0m-28.8 33.6h0m44.1 -19.8h0m-5.3 0.2h0m3.8 1.4h0m-13.2 -16.1h0m11.7 11.4h0m-14.9 23.6h0m-9.2 -17.0h0m20.0 -6.4h0m5.2 -0.1h0m-23.8 24.2h0m7.7 0.3h0m-5.7 -10.3h0m-12.7 5.0h0m9.8 -3.3h0m19.3 -15.0h0m-12.3 -5.9h0m5.0 -3.0h0m-28.6 27.2h0m25.4 -27.2h0m-25.4 33.3h0m20.6 -37.1h0m13.6 6.4h0m-14.9 10.8h0m2.3 -12.4h0m1.6 20.4h0m-8.3 -5.7h0m-18.2 16.4h0m43.3 -19.5h0m-15.6 -11.8h0m-4.6 5.2h0m-13.7 21.0h0m15.9 -19.4h0m21.7 1.8h0m-22.0 -8.7h0m15.5 5.2h0m-12.9 18.9h0m-10.8 -3.9h0m22.4 -15.9h0m-13.2 -6.4h0m10.2 4.8h0m3.0 4.2h0m-5.0 -3.6h0m9.5 2.7h0m-26.0 5.7h0m9.7 16.6h0m-26.5 -0.6h0m10.0 -0.6h0m12.5 -13.5h0m-20.2 14.1h0m35.1 -23.3h0m-33.8 22.3h0m10.9 -16.0h0m11.9 16.6h0m-22.3 3.9h0m14.1 -27.0h0m6.7 14.1h0m-7.3 -12.5h0m-19.3 21.6h0m19.2 -4.6h0m-10.0 8.4h0m8.8 -26.3h0m19.8 5.2h0m-35.9 20.0h0m33.9 -30.9h0m-23.6 30.2h0m29.7 -24.7h0m1.0 4.3h0m-23.5 19.0h0m6.2 -17.1h0m1.6 11.1h0m-4.8 -22.5h0m7.8 4.5h0m14.2 4.8h0m-20.0 -12.9h0m4.6 10.2h0m-6.9 0.7h0m2.9 3.8h0m3.9 -16.2h0m2.6 3.5h0m-16.4 23.1h0m21.4 -20.0h0m-24.3 26.2h0m-8.5 -0.1h0m33.4 -20.2h0m-3.8 -10.0h0m-6.7 27.2h0m-4.7 -1.3h0m2.8 6.4h0m4.3 -34.1h0m11.7 12.2h0m-2.7 3.2h0m-17.0 -9.0h0m4.8 15.0h0m7.4 -19.0h0m-2.5 6.2h0m-5.9 0.9h0m-2.0 6.5h0m21.3 -3.8h0m-19.4 10.5h0m-18.1 12.8h0m17.4 -21.7h0m4.5 -9.0h0m-4.3 -0.2h0m1.1 14.5h0m-0.3 0.6h0m7.9 -10.2h0m0.9 3.8h0m-29.3 23.4h0m22.4 -10.2h0m1.8 9.4h0m-1.1 -32.1h0m-1.3 1.2h0m2.4 24.8h0m-5.1 4.3h0m12.5 -28.8h0m-20.0 18.5h0m16.0 -22.6h0m9.5 10.9h0m-4.0 -2.0h0m-7.3 2.0h0m-0.6 18.7h0m-8.0 -2.3h0m15.4 -22.9h0m-25.8 29.6h0m14.1 -34.6h0m5.5 9.8h0m3.7 2.7h0m-27.4 18.1h0m30.9 -22.9h0m-19.5 25.5h0m-1.3 -1.2h0m-15.0 5.1h0m29.9 -28.6h0m-9.4 9.6h0m-18.2 17.4h0m12.5 -8.5h0m24.9 -16.2h0m-41.0 24.3h0m35.1 -29.3h0m-4.3 6.1h0m0.9 -7.2h0m-16.8 22.0h0m4.1 1.5h0m1.2 -10.5h0m27.0 -0.9h0m-20.6 11.9h0m-1.9 -3.3h0m1.6 5.7h0m-9.1 -0.3h0m0.5 -10.2h0m13.7 -15.3h0m-8.3 -1.5h0m-18.8 32.5h0m16.9 -34.3h0m-9.1 30.5h0m18.3 -25.4h0m-6.3 11.7h0m-2.3 -9.0h0m5.1 1.9h0m-0.8 1.8h0m-11.5 14.3h0m13.8 -21.5h0m-22.6 28.3h0m-1.2 -3.8h0m24.7 -21.3h0m-8.2 11.2h0m-4.6 7.5h0m-0.0 -9.4h0m9.1 9.7h0m-5.7 -0.5h0m6.2 -6.6h0m-1.0 -1.3h0m-0.6 -13.7h0m-2.6 -3.0h0m-10.9 30.2h0m-6.2 -2.8h0m23.7 -22.6h0m2.4 0.1h0m-3.3 18.9h0m-2.8 -17.0h0m0.5 21.5h0m-1.6 -26.6h0m5.5 -0.7h0m-2.6 0.9h0m-1.0 1.0h0m20.0 6.6h0m-14.5 -9.3h0m-4.7 3.3h0m-3.5 21.5h0m16.8 -17.1h0m-15.1 19.9h0m-3.4 -12.9h0m14.6 -4.2h0m-8.4 -10.7h0m-6.5 8.2h0m21.2 0.1h0m-34.5 19.5h0m12.6 -27.2h0m2.4 8.8h0m-6.4 5.5h0m-7.0 16.9h0m25.6 -21.5h0m-28.2 16.9h0m-4.7 3.3h0m35.4 -27.7h0m-2.8 0.9h0m7.7 3.4h0m-18.4 -5.4h0m-1.0 -5.8h0m-14.0 34.7h0m35.1 -22.9h0m-14.4 -2.6h0m-6.7 24.5h0m5.3 -5.5h0m-11.8 -16.5h0m4.2 3.0h0m6.2 -10.9h0m-3.6 18.8h0m17.6 -12.0h0m-36.4 21.6h0m26.5 -21.4h0m-13.4 6.9h0m3.1 14.2h0m-18.2 4.5h0m-1.7 -0.0h0m47.1 -20.4h0m-36.3 17.1h0m8.6 -4.5h0m0.0 0.7h0m1.4 -15.5h0m4.5 8.0h0m3.5 -11.5h0m-7.2 -4.1h0m-19.2 28.2h0m12.1 -8.5h0m24.0 -14.6h0m-4.8 -1.8h0m-8.2 25.8h0m6.7 -30.4h0m-32.9 27.9h0m7.1 -1.2h0m6.8 -3.1h0m-11.8 5.8h0m7.0 1.9h0m16.9 -27.7h0m-4.4 18.8h0m6.1 -21.7h0m20.2 8.8h0m-25.8 13.7h0m-7.6 -6.5h0m6.0 -3.2h0m9.5 -7.2h0m-26.4 22.3h0m41.7 -19.5h0m-16.9 18.9h0m-7.9 -1.5h0m-0.0 -10.3h0m4.5 13.9h0m-5.5 -18.1h0m2.9 -11.3h0m1.5 17.6h0m0.6 -23.6h0m1.3 24.1h0m-9.2 3.6h0m4.5 -9.3h0m-1.7 15.3h0m5.6 -17.5h0m-4.7 -2.3h0m6.9 -6.6h0m14.4 5.0h0m-15.4 -4.6h0m0.6 25.9h0m-3.0 -0.7h0m-22.3 0.9h0m18.8 -18.9h0m3.1 13.5h0m-4.4 -8.3h0m3.8 14.4h0m13.2 -20.0h0m-28.1 18.5h0m16.2 -14.4h0m-9.6 4.6h0m18.4 -17.7h0m13.2 7.9h0m-8.8 -2.6h0m-26.1 20.3h0m18.1 -22.9h0m-17.1 23.7h0m15.6 -3.9h0m-12.7 -8.8h0m-7.6 16.4h0m32.5 -21.4h0m-15.2 14.6h0m-22.9 8.9h0m41.6 -27.0h0m-44.5 25.0h0m18.3 -24.9h0m12.0 20.4h0m-3.5 -8.4h0m8.6 -14.5h0m-13.1 -2.2h0m14.2 3.1h0m-28.8 26.2h0m8.8 -7.0h0m7.2 -13.6h0m3.0 16.5h0m-23.5 2.1h0m22.4 -7.4h0m7.4 -18.6h0m-3.4 5.8h0m-6.8 -6.8h0m-0.0 28.6h0m-5.6 -9.7h0m5.0 -6.3h0m23.8 -3.8h0m-42.9 23.9h0m12.3 -14.3h0m3.4 8.2h0m10.6 -2.3h0m-4.4 -19.8h0m-3.2 0.1h0m-13.6 22.6h0m16.9 -5.9h0m-4.6 -9.5h0m19.0 -2.2h0m-2.3 -8.5h0m-15.0 -1.3h0m4.7 1.7h0m1.6 -3.9h0m-5.9 0.1h0m-5.7 14.7h0m-16.9 15.9h0m30.1 -24.4h0m-27.0 27.1h0m-3.1 -2.8h0m19.7 -7.4h0m7.4 7.9h0m-10.2 -7.2h0m3.9 -9.1h0m-19.3 16.3h0m15.3 -14.8h0m15.2 -6.6h0m3.2 0.1h0m-15.1 -3.5h0m2.4 -0.3h0m-5.6 2.9h0m16.4 -6.7h0m-3.3 4.8h0m-1.8 -3.8h0m-5.9 29.6h0m-18.7 1.5h0m20.0 -16.6h0m0.6 -7.1h0m-0.2 21.5h0m4.8 0.7h0m-10.4 -3.2h0m10.4 -25.9h0m-28.2 28.4h0m19.7 -6.6h0m2.6 -16.0h0m-4.1 6.4h0m10.0 11.1h0m-0.2 5.7h0m15.9 -23.2h0m-13.9 -2.4h0m4.6 -6.1h0m2.8 3.6h0m-32.3 28.5h0m19.1 -30.0h0m0.4 0.1h0m0.7 26.2h0m1.4 -27.1h0m1.3 0.7h0m13.9 8.1h0m-15.4 10.4h0m10.1 -17.1h0m-10.4 20.7h0m-4.7 -6.5h0m5.0 -9.7h0m-25.0 22.0h0m22.2 -0.5h0m-7.9 -14.2h0m11.7 -8.3h0m-21.1 25.7h0m9.0 -21.0h0m3.1 10.6h0m-1.1 -6.4h0m-3.3 9.1h0m11.0 -18.1h0m-12.2 21.7h0m6.8 -4.4h0m-6.0 -0.2h0m2.2 -6.8h0m7.7 10.8h0m-22.7 -0.9h0m14.7 -4.5h0m9.7 -15.3h0m-6.3 22.7h0m16.1 -30.4h0m6.6 6.1h0m-10.9 -1.4h0m-2.5 -7.2h0m-2.4 36.0h0m6.7 -36.0h0m-13.0 16.9h0m26.5 -1.3h0m-22.3 -1.9h0m0.9 -15.2h0m5.6 7.2h0m-19.7 25.5h0m20.7 -22.5h0m-15.1 15.0h0m4.9 -19.4h0m2.1 16.6h0m9.1 -16.9h0m5.8 1.7h0m-25.3 22.2h0m24.4 -21.5h0m-3.5 0.6h0m-7.6 23.4h0m-7.8 -7.2h0m-0.8 -11.8h0m1.0 -4.3h0m-7.6 23.2h0m7.5 -12.5h0m8.8 -5.7h0m7.2 -9.3h0m2.1 3.6h0m4.4 8.4h0m6.0 -3.4h0m-2.5 -1.8h0m-27.4 21.2h0m6.2 -16.5h0m7.3 -6.2h0m-7.4 -2.6h0m8.7 -6.6h0m0.4 1.9h0m-32.5 34.3h0m24.3 -35.4h0m-6.5 22.9h0m1.6 5.0h0m2.9 -0.6h0m-3.6 1.0h0m8.5 -20.6h0m0.3 -6.0h0m18.7 10.7h0m-38.6 18.8h0m-4.1 0.4h0m12.2 -16.8h0m8.8 7.3h0m10.1 -14.3h0m-3.9 0.1h0m-5.1 4.1h0m9.2 -8.1h0m-7.0 5.2h0m-4.2 22.0h0m3.8 -4.2h0m-1.1 -22.1h0m16.0 8.1h0m-9.7 -1.6h0m0.3 -7.5h0m-8.9 17.4h0m-4.1 -12.0h0m5.8 7.9h0m-1.0 3.6h0m-1.0 -13.5h0m0.5 5.7h0m18.2 2.4h0m-8.0 -2.7h0m-19.1 14.4h0m1.0 -3.1h0m4.9 -9.4h0m3.3 9.5h0m-19.8 7.0h0m6.1 2.5h0m12.3 -23.1h0m23.6 1.8h0m-18.3 22.3h0m-5.8 -33.8h0m-3.2 17.3h0m-3.2 0.2h0m6.1 9.8h0m-2.3 -10.8h0m16.1 -7.7h0m1.5 4.6h0m-12.2 -3.4h0m-21.3 20.8h0m31.8 -18.4h0m-11.2 -6.2h0m-12.6 26.4h0m15.4 -0.9h0m17.6 -19.9h0m-29.0 5.2h0m-7.8 12.6h0m9.9 -12.8h0m-3.4 12.4h0m10.2 -13.6h0m4.4 18.4h0m-2.2 0.6h0m4.5 -23.2h0m-10.1 23.2h0m4.3 -14.8h0m-9.4 -9.6h0m5.7 -0.8h0m-1.7 19.6h0m-4.0 -13.1h0m-0.6 0.1h0m6.4 18.9h0m6.1 -10.1h0m6.6 -13.7h0m0.5 -0.5h0m-6.0 -7.5h0m4.5 -2.4h0m1.9 12.1h0m-15.3 -5.1h0m24.0 2.7h0m-16.0 -8.6h0m-8.7 12.5h0m2.9 16.3h0m23.2 -15.1h0m-30.8 5.2h0m12.0 -12.5h0m1.6 -1.1h0m-17.7 25.2h0m-4.1 -1.0h0m17.1 -32.7h0m-2.2 24.1h0m7.6 -13.4h0m-9.6 -0.4h0m4.9 8.6h0m-4.7 -13.4h0m9.7 -1.0h0m-29.1 28.2h0m14.5 -9.4h0m13.0 -14.3h0m7.1 2.5h0m-9.2 12.2h0m6.3 -20.3h0m-1.7 4.6h0m-1.8 -7.8h0m-25.2 32.1h0m1.7 1.5h0m28.6 -22.0h0m-8.7 19.8h0m-0.9 -2.6h0m0.4 3.9h0m11.8 -23.6h0m-8.9 23.4h0m16.4 -22.5h0m-19.5 15.6h0m11.1 -17.4h0m-12.0 16.7h0m18.6 -11.6h0m-25.2 0.1h0m-0.1 14.5h0m6.6 -0.4h0m-9.1 2.3h0m12.5 1.1h0m13.4 -19.5h0m-10.8 -6.5h0m18.4 7.6h0m-31.0 16.5h0m4.0 4.3h0m14.1 -28.6h0m-23.0 25.5h0m14.9 6.1h0m17.0 -23.5h0m-18.5 22.6h0m2.2 -5.1h0m-11.6 -2.7h0m8.9 -22.3h0m-7.1 17.9h0m0.9 -3.3h0m-17.7 13.4h0m28.1 -26.0h0m-5.4 2.4h0m5.3 16.9h0m-4.8 -15.5h0m-2.6 -0.8h0m4.8 12.6h0m-0.9 -20.2h0m-5.0 29.2h0m4.4 -20.0h0m1.1 22.2h0m-9.7 -13.6h0m5.0 9.2h0m9.4 -21.7h0m-19.4 24.8h0m8.7 -0.6h0m-0.3 -1.6h0m8.5 -1.0h0m-0.4 -21.0h0m0.5 27.9h0m11.4 -26.0h0m-29.0 21.0h0m33.5 -16.6h0m-3.6 -4.3h0m-36.8 19.8h0m4.6 4.1h0m17.8 -8.3h0m-13.3 2.1h0m0.0 0.3h0m6.3 2.7h0m4.6 -26.5h0m-3.3 -0.6h0m7.4 5.5h0m-3.7 6.2h0m4.2 -12.1h0m0.4 2.0h0m0.4 21.9h0m-1.6 -29.4h0m-4.0 4.7h0m2.0 22.5h0" stroke="#b41c1e" stroke-width="1.1" stroke-linecap="round" fill="none"/>
<path d="M286.6 77.9h0m27.4 -39.9h0m8.8 28.3h0m-17.5 -21.2h0m9.3 5.0h0m-15.8 0.7h0m-7.0 27.4h0m9.2 4.9h0m21.7 8.0h0m-11.9 -13.8h0m-3.5 1.3h0m-0.6 -27.2h0m10.8 38.3h0m5.0 -43.8h0m-9.3 39.4h0m6.0 -54.3h0m-5.8 30.8h0m9.8 10.6h0m-4.7 -37.6h0m8.9 -0.1h0m-18.5 16.9h0m-1.9 21.9h0m13.2 22.6h0m-9.2 -26.0h0m-0.2 -13.5h0m-16.4 -4.5h0m0.5 25.8h0m22.9 -28.8h0m3.6 29.7h0m-6.8 8.1h0m-25.2 -7.0h0m8.5 -0.4h0m21.7 10.0h0m-30.3 -33.2h0m40.5 -27.5h0m-7.8 58.4h0m1.7 -50.4h0m-3.2 28.3h0m0.9 -35.1h0m-13.9 25.6h0m11.7 39.7h0m-1.3 -52.2h0m-3.1 53.8h0m5.3 -58.1h0m10.1 -10.5h0m-19.5 54.8h0m12.1 -54.1h0m-11.2 61.6h0m14.0 -50.7h0m-11.1 16.8h0m11.2 32.8h0m-22.8 -35.4h0m6.3 -17.4h0m8.6 37.0h0m-7.5 5.9h0m-3.4 6.3h0m5.8 -29.5h0m-6.5 1.1h0m1.2 33.3h0m17.7 -56.8h0m-25.4 29.1h0m14.5 18.6h0m6.1 -26.8h0m-26.1 25.2h0m25.3 -32.4h0m-12.3 -3.1h0m14.6 49.7h0m1.3 -55.1h0m-33.9 34.7h0m19.3 -15.9h0m24.0 -31.7h0m-16.6 22.6h0m-20.4 8.0h0m11.7 3.8h0m8.2 14.6h0m-14.8 -2.9h0m4.4 -7.2h0m25.1 -37.5h0m-30.3 20.6h0m11.9 11.4h0m-6.1 21.9h0m8.1 -1.2h0m2.2 6.9h0m-0.5 -21.3h0m-19.8 15.8h0m31.1 -42.5h0m-20.9 43.1h0m8.3 -38.9h0m13.0 -10.6h0m-20.8 17.6h0m20.4 -11.4h0m-5.1 3.9h0m1.9 24.0h0m-5.2 19.0h0m0.0 -22.5h0m-21.3 11.2h0m20.0 12.7h0m0.5 10.1h0m-14.2 -39.8h0m-6.0 -0.8h0m2.4 -0.5h0m-3.1 13.3h0m20.8 24.8h0m13.1 -63.8h0m-4.8 60.5h0m-6.4 -16.9h0m4.2 -9.6h0m-5.1 -15.4h0m6.8 -1.7h0m-14.2 35.3h0m-14.7 -30.0h0m3.5 9.9h0m6.2 9.7h0m4.8 8.9h0m12.9 -20.9h0m-9.2 24.3h0m3.1 5.0h0m-11.1 -38.4h0m13.1 -6.9h0m-10.4 36.5h0m16.1 5.0h0m-16.7 -38.6h0m3.3 -9.5h0m13.3 47.1h0m-13.4 -51.8h0m2.3 52.8h0m-5.2 3.5h0m9.7 7.3h0m-27.2 -18.0h0m17.8 -38.5h0m16.0 -7.3h0m-25.4 35.6h0m24.9 -29.2h0m-7.1 8.3h0m-1.7 42.1h0m-24.6 -23.7h0m13.9 16.7h0m11.3 -4.0h0m5.9 17.2h0m-4.8 -4.0h0m-20.9 -15.4h0m16.0 -30.9h0m-20.1 29.4h0m17.6 -29.3h0m1.6 19.8h0m-1.2 22.8h0m9.3 -11.5h0m-29.1 4.5h0m15.3 -30.3h0m13.3 -16.9h0m-10.2 38.1h0m23.9 -43.8h0m-15.5 62.2h0m-7.3 -43.7h0m-12.0 15.8h0m-7.8 21.3h0m14.0 -9.9h0m-15.2 -2.2h0m23.3 10.4h0m3.4 0.7h0m-18.9 -20.8h0m20.8 33.3h0m4.7 -27.8h0m-16.8 -25.8h0m9.2 40.6h0m-6.1 -23.8h0m7.6 -23.2h0m-25.3 19.9h0m27.1 16.4h0m-15.5 -28.3h0m-15.6 20.9h0m7.4 3.2h0m6.4 7.7h0m18.2 13.0h0m1.9 -29.8h0m-28.5 24.0h0m20.7 -31.7h0m-8.4 22.6h0m-0.4 -25.4h0m24.2 -10.7h0m-24.0 29.3h0m14.8 -19.4h0m-4.7 -12.0h0m1.4 61.4h0m-9.8 -17.6h0m9.4 6.3h0m-6.4 -36.6h0m-0.0 21.3h0m12.2 -30.7h0m-10.2 43.0h0m-19.5 -7.0h0m14.9 -21.0h0m-11.9 -3.4h0m15.6 23.6h0m9.2 -28.8h0m-24.8 17.3h0m14.3 0.1h0m-12.4 5.5h0m-4.1 9.9h0m18.8 -33.1h0m11.7 18.7h0m-34.5 -2.4h0m19.6 -15.5h0m8.3 -14.0h0m1.6 28.1h0m-0.5 3.7h0m-3.4 -9.1h0m7.9 -21.9h0m-8.5 58.0h0m-20.0 -16.1h0m9.1 -5.6h0m11.9 13.9h0m-19.4 -4.0h0m34.3 -49.2h0m-8.1 16.8h0m3.2 -9.1h0m-5.4 17.7h0m-16.9 -8.0h0m-1.6 6.5h0m17.7 12.4h0m3.9 10.2h0m0.8 9.4h0m-20.7 -23.1h0m15.9 17.2h0m-22.0 -11.9h0m18.4 20.4h0m-20.7 -22.4h0m26.7 -0.4h0m-7.1 -11.7h0m-17.5 24.1h0m11.5 3.1h0m-2.0 -4.9h0m8.6 -2.1h0m9.0 -26.3h0m-0.7 -18.9h0m-30.2 38.9h0m29.0 2.7h0m-8.2 -12.8h0m1.4 18.3h0m-15.0 1.4h0m-13.3 -17.4h0m36.0 -30.6h0m-9.1 20.1h0m-8.4 26.4h0m4.8 -6.5h0m-11.5 -3.3h0m24.2 3.0h0m1.2 11.9h0m-36.8 -9.1h0m3.1 5.3h0m25.3 -24.7h0m7.8 15.6h0m-28.8 -5.7h0m3.3 11.1h0m24.0 -40.6h0m-24.0 36.5h0m11.7 -6.2h0m-9.0 14.7h0m2.2 -12.4h0m4.6 -14.7h0m-11.6 32.3h0m27.8 -8.2h0m-15.4 1.4h0m-17.4 -19.2h0m13.8 25.5h0m22.8 -50.2h0m-39.7 48.2h0m7.5 -27.1h0m16.2 38.6h0m10.9 -55.6h0m0.7 54.6h0m-7.7 -57.2h0m-15.8 48.5h0m18.4 7.0h0m5.4 -52.1h0m8.1 -9.7h0m-11.8 11.4h0m-14.3 36.6h0m-11.0 8.3h0m15.7 -4.7h0m12.7 -9.9h0m-29.0 -1.8h0m12.9 0.8h0m-2.8 -23.5h0m6.0 23.6h0m14.9 -17.3h0m-26.2 11.5h0m24.2 -11.8h0m-10.6 -11.7h0m14.8 -2.1h0m-3.3 24.0h0m1.4 -21.7h0m-0.8 18.1h0m-5.3 11.8h0m-14.0 3.9h0m-5.6 -18.1h0m15.9 5.7h0m-3.6 8.0h0m13.3 -19.1h0m-9.1 48.7h0m4.1 -67.7h0m-27.9 47.8h0m26.1 -0.7h0m-18.8 -29.7h0m16.3 27.5h0m5.5 -23.9h0m-18.2 19.3h0m-3.0 -0.7h0m18.0 16.3h0m-4.0 -18.5h0m-2.7 -15.1h0m10.5 42.2h0m-32.0 -28.8h0m41.1 -41.6h0m-38.8 43.6h0m3.6 -12.5h0m2.0 -4.8h0m14.4 20.4h0m-10.8 -12.8h0m5.6 6.6h0m-19.8 6.3h0m25.7 18.2h0m0.4 -19.8h0m9.2 -8.9h0m-7.8 6.6h0m4.2 8.4h0m-28.8 -9.9h0m39.4 -36.8h0m-5.6 60.4h0m-3.4 -26.2h0m-3.8 -21.2h0m-27.2 27.2h0m35.2 -24.4h0m-16.1 16.6h0m10.8 -23.6h0m-23.4 12.9h0m9.7 26.1h0m9.4 -1.6h0m0.5 -29.6h0m0.5 -10.6h0m-20.2 40.2h0m25.5 -31.6h0m-3.6 -12.8h0m4.7 34.8h0m-29.8 16.8h0m31.8 -28.3h0m-27.0 30.4h0m11.4 5.1h0m-4.7 -19.0h0m3.4 -3.1h0m-19.5 8.6h0m17.3 -21.0h0m17.0 -5.8h0m-1.5 11.7h0m-14.6 1.4h0m15.7 13.3h0m-21.4 10.2h0m-0.7 -36.2h0m11.8 23.9h0m-2.9 -7.8h0m6.1 29.2h0m-3.5 -2.8h0m4.0 -24.2h0m-3.9 -10.2h0m9.2 -15.6h0m3.6 -15.5h0m-4.4 49.6h0m-28.5 -1.6h0m13.8 6.5h0m4.1 -33.3h0m12.6 -11.3h0m-12.2 7.9h0m-5.4 -0.6h0m4.2 13.4h0m23.3 -27.6h0m-17.4 21.4h0m-10.6 -2.4h0m19.1 -21.3h0m1.2 2.6h0m-29.2 49.5h0m11.3 4.0h0m19.2 -30.8h0m-32.9 27.4h0m29.8 -38.6h0m-4.1 18.8h0m3.8 -4.9h0m-26.2 8.6h0m27.7 -6.3h0m-21.4 14.1h0m0.1 4.4h0m6.9 -1.4h0m-1.9 13.0h0m-10.3 -38.0h0m25.8 16.2h0m-34.1 -7.1h0m31.9 18.4h0m-13.8 -16.1h0m6.0 27.5h0m4.3 -4.8h0m7.9 -20.9h0m-20.3 -11.1h0m-3.8 -1.9h0m12.9 17.5h0m-4.1 -33.6h0m18.6 -2.5h0m-33.4 21.9h0m25.3 38.9h0m-27.9 -10.3h0m29.1 -15.1h0m-9.5 -9.2h0m9.2 38.3h0m-15.8 -7.2h0m11.2 -22.6h0m1.6 -7.2h0m-22.1 3.4h0m27.8 26.5h0m-5.6 -52.6h0m5.9 42.9h0m0.5 -25.9h0m-28.4 25.7h0m29.5 -34.5h0m-11.0 -11.8h0m-7.8 9.7h0m13.8 54.4h0m-8.7 -61.4h0m-19.6 39.0h0m26.4 -13.2h0m1.5 18.7h0m-8.6 -40.4h0m4.4 17.7h0m4.5 -21.8h0m-20.4 16.8h0m4.1 14.6h0m-1.1 17.4h0m-0.3 -8.4h0m18.1 -42.9h0m-16.2 39.0h0m-2.4 9.3h0m20.9 4.6h0m6.6 -57.5h0m-29.2 49.3h0m20.4 9.0h0m-3.8 -50.3h0m-6.1 1.1h0m-9.8 14.6h0m-3.6 30.9h0m22.9 -31.3h0m-24.7 0.9h0m1.2 1.8h0m14.2 -16.8h0m-7.7 5.3h0m-11.3 40.7h0m5.9 0.8h0m4.4 -35.4h0m15.1 15.9h0m-4.6 20.9h0m-17.2 -15.3h0m25.9 -31.5h0m10.4 -9.6h0m-36.1 20.3h0m25.6 40.8h0m-19.6 -43.1h0m19.2 -12.4h0m-5.0 8.7h0m-0.5 -8.3h0m-5.9 41.4h0m-22.9 -15.2h0m32.9 27.9h0m3.0 -11.7h0m-7.0 10.5h0m-15.3 -31.2h0m14.2 24.6h0m-11.0 -34.7h0m28.7 -20.5h0m-5.3 8.7h0m5.9 -8.2h0m-35.8 37.0h0m22.9 -17.8h0m-9.6 13.9h0m-1.7 9.9h0m15.8 -17.9h0m-3.6 12.2h0m-5.0 4.0h0m-6.9 -2.0h0m10.5 -13.5h0m-5.3 33.9h0m-16.8 -2.2h0m26.3 -33.0h0m-23.2 -1.4h0m12.3 25.3h0m-11.8 -6.7h0m-9.5 12.2h0m13.9 -26.6h0m17.8 -7.8h0m0.4 17.3h0m-24.0 4.9h0m23.1 -12.2h0m-9.1 9.7h0m-8.9 -3.7h0m13.8 31.9h0m-20.0 -37.1h0m24.0 27.1h0m0.9 5.2h0m-26.6 -8.9h0m19.4 -49.9h0m5.4 -1.3h0m-6.8 11.2h0m-10.7 12.8h0m8.8 -20.4h0m-12.9 21.6h0m24.2 26.4h0m-8.5 -11.9h0m-5.4 10.1h0m11.0 -40.5h0m1.7 14.7h0m-2.7 7.0h0m-24.7 12.9h0m5.7 -24.7h0m-2.0 5.7h0m0.7 -2.6h0m21.7 -9.9h0m-5.0 32.9h0m6.0 -9.1h0m-7.6 26.1h0m-8.4 -21.5h0m-13.6 -8.5h0m13.7 -7.8h0m-8.6 31.7h0m11.0 1.5h0m0.7 5.3h0m2.6 -42.9h0m1.1 13.1h0m13.0 28.7h0m-22.8 -36.7h0m-12.1 22.5h0m34.9 -37.8h0m-32.6 14.5h0m-2.1 30.4h0m6.9 -37.3h0m-5.1 17.1h0m28.3 10.8h0m-29.0 -11.1h0m14.7 -19.3h0m4.4 9.3h0m-3.0 24.8h0m8.5 -18.5h0m-30.3 5.6h0m32.2 -1.9h0m-14.2 -10.5h0m15.1 -6.9h0m7.3 -14.0h0m-32.0 45.0h0m22.2 -2.9h0m-5.7 16.4h0m-6.6 -14.3h0m12.8 -24.7h0m-30.1 11.8h0m16.6 18.1h0m10.5 -3.4h0m-0.7 -27.6h0m4.1 -12.4h0m-6.0 11.2h0m7.1 -13.8h0m-24.3 35.7h0m14.4 13.7h0m12.7 -16.5h0m-1.6 21.1h0m4.4 1.3h0m-9.5 -27.1h0m-5.5 19.5h0m-2.8 -21.6h0m-9.4 -9.0h0m12.7 -13.6h0m14.8 5.2h0m-14.6 8.2h0m9.1 -10.3h0m-8.8 33.9h0m5.6 -12.8h0m-25.7 -7.8h0m25.5 39.5h0m10.0 -3.6h0m-14.2 -49.8h0m12.5 49.6h0m-22.3 -26.6h0m17.5 -8.6h0m-28.9 25.9h0m6.3 -14.7h0m16.8 -13.1h0m1.3 -18.8h0m13.4 -10.9h0m-13.2 23.3h0m-7.2 -1.0h0m-7.1 27.7h0m5.6 -0.2h0m-17.8 -15.1h0m23.2 -13.6h0m6.2 4.0h0m4.1 18.1h0m-15.2 13.8h0m-10.8 -24.6h0m26.8 26.6h0m-7.9 -40.2h0m-21.3 21.6h0m-7.2 3.0h0m34.4 -11.8h0m-22.3 17.7h0m-11.7 -8.4h0m20.8 2.0h0m8.6 21.5h0m-1.0 -20.5h0m-28.6 -8.8h0m24.0 -14.0h0m-13.2 4.0h0m31.6 -23.7h0m-24.9 27.3h0m1.6 5.2h0m-15.2 19.8h0m32.5 -13.3h0m-36.8 -5.4h0m14.6 5.6h0m-14.6 2.9h0m24.7 4.9h0m-10.3 -15.6h0m19.1 35.9h0m2.7 -1.1h0m-24.3 -9.5h0m5.3 -6.8h0m19.6 -28.9h0m-27.9 37.9h0m16.9 -6.1h0m-6.5 -6.0h0m17.7 -23.7h0m-16.5 33.5h0m5.0 -11.1h0m-5.9 -32.4h0m8.9 31.9h0m-11.1 -23.6h0m6.8 9.4h0m5.6 40.9h0m-15.3 -24.6h0m21.3 21.8h0m-23.4 -12.9h0m0.3 -4.9h0m14.8 9.8h0m-17.6 -26.6h0m8.5 5.2h0m-14.9 7.9h0m28.1 3.5h0m-26.9 -3.8h0m5.1 4.2h0m25.6 -48.5h0m-13.8 46.6h0m-11.7 -18.5h0m24.9 -6.3h0m3.5 -12.0h0m-9.1 49.5h0m-26.1 -26.8h0m28.2 -31.6h0m-2.9 46.1h0m8.4 -38.5h0m-13.2 11.8h0m-15.5 8.9h0m21.3 -11.6h0m-4.2 29.6h0m-9.2 -9.1h0m19.9 -19.0h0m0.8 1.9h0m-27.5 23.1h0m21.2 -36.8h0m-6.1 39.4h0m-12.9 -8.3h0m21.4 -18.4h0m-26.1 35.7h0m25.1 -51.5h0m-12.6 52.8h0m6.0 -35.8h0m11.1 27.4h0m-8.6 -46.7h0m-1.2 43.7h0m10.7 -8.4h0m-20.9 -10.0h0m3.2 30.7h0m6.5 -33.0h0m4.4 39.4h0m-23.9 -35.6h0m23.7 31.9h0m-18.2 -25.4h0m3.0 -9.0h0m-3.0 17.8h0m15.9 -40.0h0m8.4 -0.9h0m-5.3 40.1h0m-18.7 -8.2h0m11.6 -7.6h0m-14.1 16.8h0m-2.4 -10.9h0m20.9 31.9h0m1.2 -30.9h0m-21.2 -6.5h0m3.0 4.9h0m28.6 -24.5h0m-25.7 36.9h0m24.0 -28.9h0m-28.1 16.4h0m20.4 -0.7h0m-3.7 2.7h0m6.0 -2.3h0m-11.3 16.5h0m-11.0 -7.3h0m23.0 14.2h0m-8.3 1.2h0m11.5 4.9h0m-4.6 -30.3h0m-9.9 -12.5h0m17.9 -23.4h0m-3.8 16.0h0m1.8 8.6h0m-31.8 16.5h0m26.6 26.9h0m-11.5 -45.4h0m8.1 48.2h0m1.7 -53.9h0m-7.1 30.3h0m9.6 -14.9h0m-26.9 18.3h0m17.1 -30.6h0m7.1 33.5h0m-2.2 -33.1h0m-14.3 35.7h0m9.3 -5.8h0m-17.7 2.8h0m-0.7 6.6h0m3.1 -11.8h0m27.9 -14.7h0m-8.4 -8.7h0m0.4 37.4h0m-2.7 -35.8h0m11.4 -10.3h0m5.0 -13.5h0m-9.6 46.9h0m-12.0 -8.3h0m14.5 -26.6h0m-18.0 10.3h0m18.2 43.9h0m-18.2 -7.4h0m5.7 -43.8h0m-10.2 33.1h0m24.5 -17.3h0m-18.6 -8.7h0m-11.4 35.7h0m10.2 -7.5h0m3.0 -25.6h0m21.8 -22.2h0m-25.6 19.8h0m23.2 -16.6h0m-16.3 49.5h0m7.8 -44.8h0m0.2 8.7h0m5.2 36.0h0m-1.6 -11.2h0m-6.4 10.7h0m11.1 10.3h0m-32.7 -12.7h0m7.3 -8.5h0m22.1 22.1h0m-19.1 -31.1h0m16.3 7.4h0m5.1 -39.7h0m-3.9 9.6h0m-10.5 14.7h0m9.0 21.2h0m1.0 -14.1h0m-0.5 32.1h0m-0.3 -49.7h0m-9.3 16.0h0m5.2 -0.6h0m-18.7 -1.2h0m9.5 -13.1h0m-2.8 20.3h0m14.9 -24.6h0m-20.8 45.7h0m1.3 -11.3h0m11.6 14.3h0m2.8 -27.3h0m-23.3 2.1h0m23.8 -9.2h0m-1.4 10.0h0m-4.0 -4.3h0m-6.8 -0.3h0m11.3 20.9h0m5.1 -2.4h0m9.6 -50.6h0m-10.1 57.5h0m4.1 -6.3h0m-17.4 -30.6h0m-14.4 20.9h0m7.8 13.3h0m-4.3 -18.9h0m14.4 -0.8h0m14.6 -29.6h0m-18.8 29.8h0m16.6 -11.0h0m-17.7 31.9h0m7.4 -26.2h0m-2.0 -17.9h0m-9.3 23.3h0m-8.0 10.7h0m11.3 -28.6h0m1.8 36.9h0m5.6 -28.4h0m-20.7 25.0h0m24.4 -39.8h0m-18.9 38.5h0m5.3 -8.1h0m21.0 -33.8h0m-27.2 20.5h0m4.1 -4.8h0m12.7 20.0h0m-9.6 -20.6h0m4.2 34.2h0m2.8 -24.4h0m10.6 23.7h0m-15.6 -24.5h0m4.5 29.1h0m1.0 -38.7h0m1.1 25.1h0m-2.1 -31.7h0m-0.1 11.7h0m-2.4 -3.3h0m2.2 26.3h0m8.1 8.8h0m-10.6 -12.0h0m13.4 -31.0h0m-1.3 22.8h0m-5.3 -24.1h0m5.1 5.4h0m-1.8 1.5h0m6.9 11.6h0m-14.4 -24.4h0m-1.7 3.6h0m6.6 47.7h0m2.2 -5.4h0m-0.4 -35.6h0m7.7 42.5h0m-16.1 -0.9h0m-0.9 -2.5h0m10.6 -1.0h0m-25.4 -6.2h0m27.0 -41.2h0m-8.9 53.9h0m-4.2 -46.0h0m13.8 41.8h0m8.7 -41.8h0m-1.9 -18.4h0m-9.5 11.8h0m-14.4 44.2h0m-0.7 -5.1h0m7.3 -12.7h0m-13.4 -12.1h0m21.9 38.9h0m4.2 -47.4h0m-23.4 33.7h0m1.7 -11.7h0m4.4 -18.9h0m10.9 42.9h0m6.9 -28.2h0m-2.7 -28.5h0m-1.9 60.4h0m-8.2 -9.7h0m0.8 -41.7h0m16.7 -9.8h0m-2.1 45.9h0m-32.4 -11.8h0m18.5 -20.1h0m-14.3 23.5h0m-2.7 -6.3h0m25.7 6.3h0m6.8 -43.8h0m-1.6 28.6h0m-0.8 -2.7h0m1.1 -7.4h0m-14.3 37.6h0m-14.9 -30.9h0m21.1 -7.1h0m3.0 53.3h0m-24.1 -38.0h0m26.6 -28.8h0m-1.3 8.6h0m-23.2 26.0h0m28.0 -17.2h0m-12.1 18.3h0m-15.0 -1.4h0m5.8 8.8h0m4.3 -12.3h0m-5.5 19.9h0m18.3 -10.9h0m-15.6 -13.3h0m-15.5 10.1h0m32.4 21.0h0m-20.2 -35.5h0m-6.5 27.1h0m15.6 4.1h0m-3.7 -13.9h0m13.5 -9.7h0m2.1 -1.8h0m-12.5 -20.4h0m-14.0 37.3h0m-4.4 -12.4h0m26.6 -23.4h0m-17.5 7.1h0m-2.5 34.5h0m14.6 0.0h0m-20.2 -26.4h0m19.5 29.3h0m-0.5 -32.0h0m9.7 -21.5h0m-28.3 43.0h0m20.6 -41.0h0m6.0 47.2h0m0.9 4.5h0m-5.1 -40.1h0m-10.3 17.4h0m15.6 -31.3h0m-24.5 44.3h0m-3.0 -3.6h0m23.8 21.3h0m-7.4 -7.2h0m6.4 -33.3h0m-7.3 16.7h0m-1.9 10.3h0m-15.8 1.5h0m0.8 2.2h0m28.2 -48.6h0m-0.1 46.5h0m-4.5 -21.3h0m-3.6 14.4h0m-20.7 -4.2h0m9.3 12.2h0m0.4 -32.6h0m12.7 34.6h0m4.3 -27.0h0m-13.3 -15.5h0m-6.1 19.4h0m19.3 -0.1h0m-10.0 -2.2h0m12.2 -7.9h0m-2.1 -17.5h0m-26.9 35.4h0m27.3 -27.3h0m-5.2 -8.5h0m6.6 50.2h0m1.2 -21.4h0m6.3 -22.1h0m-4.1 35.3h0m-3.5 20.7h0m-20.5 -21.5h0m19.4 -35.8h0m-22.9 25.3h0m17.3 -22.4h0m-18.2 34.6h0m-4.1 5.6h0m12.2 -33.3h0m-5.5 11.6h0m5.7 24.9h0m25.1 -45.7h0m-35.3 38.0h0m7.2 6.3h0m22.8 -47.6h0m-11.6 7.7h0m10.6 34.2h0m-22.7 -8.7h0m23.1 -14.7h0m-11.1 -6.7h0m11.4 -15.7h0m-18.9 27.8h0m-4.3 10.3h0m24.3 3.8h0m-16.2 -19.0h0m16.3 -25.3h0m-4.0 32.1h0m-11.9 4.9h0m7.9 -16.0h0m-7.8 -4.5h0m10.0 30.0h0m-6.7 -19.2h0m-8.8 -9.7h0m15.9 29.6h0m-5.7 -0.8h0m12.6 -19.8h0m-12.6 5.7h0m16.3 -31.3h0m-40.1 40.4h0m27.8 -13.6h0m8.0 -28.9h0m-23.6 18.3h0m-6.7 22.8h0m10.1 -9.8h0m11.0 -16.9h0m-13.1 40.3h0m18.2 -44.8h0m2.3 7.6h0m-26.6 22.7h0m10.6 0.4h0m14.1 16.8h0m-27.8 -26.8h0m28.7 8.5h0m-9.3 -1.9h0m-14.2 10.5h0m17.1 19.9h0m-8.6 -51.6h0m-19.2 24.0h0m33.2 -10.1h0m-19.2 23.8h0m9.3 -39.1h0m-10.0 43.1h0m11.4 4.0h0m0.6 -47.7h0m-0.5 29.2h0m-3.6 -22.9h0m12.1 46.8h0m-0.5 -65.9h0m-6.3 28.0h0m-4.3 10.9h0m-20.1 9.8h0m4.9 -15.5h0m-1.0 19.7h0m23.9 -32.2h0m1.4 -5.2h0m-12.3 -2.6h0m5.8 14.7h0m4.0 -12.2h0m-15.2 32.1h0m13.0 -16.3h0m8.2 -10.3h0m-5.1 20.9h0m-15.7 -2.5h0" stroke="#cfcfd4" stroke-width="0.75" stroke-linecap="round" fill="none"/>
<path d="M357.0 80.3h0m-1.4 -19.7h0m-4.7 39.3h0m-20.4 -8.3h0m21.1 -34.7h0m-3.3 -19.9h0m-8.3 40.6h0m-25.0 29.9h0m42.3 -24.0h0m-6.2 11.5h0m-7.3 -27.3h0m-9.4 3.1h0m32.8 -12.3h0m-6.4 31.8h0m-28.7 18.3h0m36.3 -18.1h0m-32.5 -32.0h0m11.9 49.9h0m-22.4 -38.5h0m52.8 -12.1h0m-31.6 -14.7h0m-13.2 42.2h0m36.7 -6.3h0m-44.6 22.6h0m3.8 -12.6h0m51.5 -12.0h0m-18.2 -15.2h0m-20.5 -23.8h0m26.8 57.0h0m-36.6 -36.5h0m13.9 26.0h0m-24.1 25.2h0m47.5 -40.6h0m-34.1 40.6h0m25.1 -28.5h0m-26.9 -15.6h0m22.9 -3.7h0m-2.8 -12.7h0m15.1 34.2h0m-14.1 -8.9h0m-14.6 -35.2h0m16.4 51.2h0m-10.2 -4.7h0m8.9 -36.2h0m-2.0 37.0h0m-8.1 24.0h0m-15.8 -12.0h0m22.1 -16.7h0m-0.1 16.1h0m-5.4 -27.5h0m6.4 29.7h0m-20.8 -1.6h0m1.9 -14.0h0m12.7 -48.5h0m-5.7 74.5h0m13.3 -32.1h0m0.4 -30.4h0m-4.5 41.5h0m15.7 -39.9h0m-29.4 21.9h0m2.8 -29.1h0m-7.3 9.1h0m44.5 34.0h0m-38.1 -45.2h0m5.0 45.5h0m21.1 -2.5h0m-19.3 -40.8h0m17.0 21.1h0m0.1 -9.0h0m-1.9 -0.2h0m-19.4 46.1h0m-19.8 5.1h0m56.5 -35.1h0m-16.6 -27.6h0m6.7 12.2h0m-30.6 -10.9h0m29.3 44.6h0m-18.0 12.4h0m-31.4 2.2h0m53.3 -10.1h0m-41.0 14.0h0m5.6 -17.9h0m13.2 -2.9h0m26.8 -33.6h0m-35.0 36.1h0m3.8 18.2h0m8.6 -53.6h0m27.7 11.2h0m-15.1 1.8h0m-5.1 19.3h0m-23.7 19.9h0m19.9 -23.2h0m-16.3 -20.8h0m13.7 -11.6h0m3.4 2.4h0m-22.6 39.3h0m-4.7 13.3h0m46.0 -26.0h0m-40.8 15.3h0m43.5 -35.1h0m-48.5 33.9h0m12.2 -40.5h0m31.2 15.4h0m-41.1 3.0h0m22.4 24.7h0m-20.1 -33.3h0m30.9 3.5h0m-16.2 -19.9h0m-8.3 9.2h0m-1.5 -5.7h0m-0.1 32.2h0m3.6 -39.4h0m-15.5 41.3h0m14.8 -46.1h0m23.3 48.9h0m-22.0 7.8h0m7.3 -6.7h0m2.4 -48.8h0m-1.0 20.1h0m15.3 27.5h0m-36.6 24.8h0m8.1 -32.3h0m6.0 -28.4h0m-6.3 27.1h0m7.4 4.0h0m22.0 4.7h0m-4.4 -17.6h0m-31.0 -10.8h0m1.4 28.5h0m1.2 -13.9h0m4.9 25.1h0m3.2 -33.4h0m-8.2 5.5h0m41.5 6.8h0m-38.8 -6.2h0m15.9 24.3h0m-31.3 17.0h0m40.8 -53.9h0m-16.6 42.9h0m-30.9 8.4h0m53.5 -55.4h0m-28.1 37.8h0m6.0 -32.9h0m8.8 -8.2h0m-28.4 12.1h0m40.8 -3.9h0m-22.6 -8.8h0m6.3 50.5h0m14.9 -39.3h0m3.1 18.6h0m-31.4 25.0h0m28.3 -56.7h0m-0.1 18.7h0m-50.5 40.4h0m49.1 -17.5h0m-35.7 -34.4h0m5.6 36.0h0m-4.0 19.4h0m0.8 -39.8h0m15.4 19.4h0m-3.1 -23.3h0m16.9 -24.2h0m-18.3 8.6h0m-25.8 50.2h0m18.9 8.2h0m32.2 -48.9h0m-24.2 3.9h0m-2.3 0.5h0m12.3 18.3h0m-21.2 9.8h0m24.3 -35.8h0m-21.3 -14.0h0m3.2 10.7h0m21.9 36.4h0m-31.0 11.1h0m5.6 3.7h0m-7.2 -26.3h0m26.9 2.4h0m-6.8 -2.0h0m11.9 -15.9h0m-13.0 -0.8h0m3.2 40.7h0m8.9 -57.9h0m-9.6 39.5h0m15.2 4.7h0m-27.8 -0.3h0m33.9 -13.9h0m-6.4 -26.2h0m12.2 20.5h0m-30.3 -11.4h0m-19.0 25.9h0m3.4 14.2h0m19.5 -11.5h0m11.4 10.1h0m-19.8 -46.9h0m29.9 25.0h0m-24.8 -26.5h0m12.7 -7.5h0m-25.9 13.4h0m10.8 -16.0h0m-0.9 47.5h0m-19.1 26.3h0m-4.8 -2.5h0m22.9 -16.0h0m7.2 13.6h0m16.0 -52.7h0m-24.7 -18.8h0m9.1 23.6h0m3.0 -20.5h0m-24.3 58.8h0m-12.9 3.5h0m14.6 0.8h0m10.9 -39.7h0m-9.1 -3.1h0m29.0 25.5h0m-28.6 -4.3h0m26.6 19.9h0m-7.6 -54.9h0m-18.9 2.8h0m24.2 0.6h0m-2.0 54.9h0m-0.4 -66.5h0m1.0 10.4h0m9.9 23.5h0m-0.8 6.1h0m1.5 -9.8h0m-6.9 0.6h0m-6.3 14.9h0m7.4 19.1h0m-11.6 -14.5h0m-9.6 -11.5h0m38.9 -5.3h0m-21.4 -24.3h0m1.8 11.1h0m12.2 7.8h0m-44.4 31.5h0m18.6 7.5h0m27.2 -16.1h0m-17.3 18.9h0m20.1 -36.9h0m-23.4 -10.4h0m-29.5 44.3h0m7.0 -13.3h0m25.4 -21.5h0m3.8 20.2h0m-14.7 -12.5h0m1.9 -24.4h0m9.7 55.3h0m-32.3 -3.0h0m47.7 -17.4h0m-34.2 -19.0h0m-1.7 18.8h0m22.9 -24.6h0m-15.8 11.9h0m-0.1 -11.4h0m9.8 -11.4h0m-19.9 6.5h0m38.7 -8.4h0m-44.3 33.7h0m51.8 -22.6h0m-29.0 23.5h0m31.1 -12.1h0m-41.5 11.8h0m-4.3 -13.6h0m19.0 -36.8h0m-28.7 72.8h0m26.9 -8.0h0m19.6 -6.8h0m-24.4 -38.1h0m-0.7 28.2h0m27.6 -19.2h0m-56.0 43.6h0m23.2 -15.2h0m31.7 -38.7h0m5.3 10.9h0m-20.1 14.3h0m-8.1 -28.9h0m-8.1 39.2h0m12.2 -7.8h0m18.1 -23.6h0m6.6 10.4h0m-27.2 20.4h0m0.8 -45.7h0m-14.9 43.5h0m19.7 4.9h0m-19.8 -25.2h0m13.5 -30.1h0m-7.1 69.5h0m38.3 -33.9h0m-27.1 33.0h0m-6.7 5.2h0m-19.1 -0.6h0m23.8 -56.7h0m4.1 -6.2h0m14.9 10.9h0m-9.4 36.1h0m-18.0 -8.9h0m-7.5 11.3h0m-5.4 -10.8h0m12.2 23.9h0m9.5 -0.8h0m2.7 -54.5h0m-9.2 31.1h0m1.0 -37.2h0m7.4 11.5h0m-21.2 4.1h0m6.8 43.9h0m24.7 -20.7h0m9.7 -5.2h0m-42.7 14.0h0m-10.1 12.7h0m34.4 -10.2h0m-3.2 -29.2h0m-17.9 25.5h0m12.0 -25.4h0m11.8 -26.6h0m-18.9 43.2h0m28.4 -1.6h0m4.2 -13.0h0m-53.7 33.3h0m28.1 -39.0h0m3.8 32.9h0m21.1 -44.1h0m-26.1 52.4h0m-14.3 -13.2h0m36.8 -16.3h0m-33.4 24.4h0m-0.7 -23.6h0m12.7 -21.8h0m0.4 7.2h0m20.5 2.3h0m-27.4 22.7h0m30.6 -30.0h0m-9.0 6.6h0m-12.3 6.2h0m-11.3 37.3h0m40.4 -43.9h0m-18.2 33.2h0m6.6 -31.6h0m-0.8 32.5h0m-25.4 13.5h0m-1.2 -35.9h0m9.1 -21.8h0m-15.3 3.0h0m-3.1 24.6h0m23.1 23.9h0m3.2 -21.9h0m-17.5 -27.1h0m-5.2 21.3h0m3.6 -30.1h0m44.1 20.6h0m-10.9 20.5h0m-33.9 -13.7h0m0.1 5.0h0m-19.7 26.8h0m13.8 -7.0h0m18.6 -54.5h0m21.7 42.3h0m-14.4 -23.8h0m3.9 27.7h0m6.5 -31.1h0m-13.1 9.0h0m-14.9 41.2h0m18.1 -34.4h0m19.9 6.4h0m1.2 -5.7h0m-23.7 30.5h0m-16.5 -15.7h0m-4.7 -4.8h0m-5.6 -9.1h0m44.2 -21.9h0m-47.3 18.6h0m33.5 -2.3h0m-7.3 37.5h0m7.0 -54.9h0m-27.3 32.5h0m50.4 -13.7h0m-54.3 30.4h0m4.8 -14.8h0m5.4 8.4h0m-3.9 -32.9h0m36.1 -1.6h0m-20.6 -2.0h0m-13.6 5.6h0m-4.5 17.2h0m20.7 -46.2h0m-13.1 4.9h0m7.1 50.1h0m-0.9 -35.3h0m-17.2 48.6h0m34.5 -5.9h0m-29.0 -12.5h0m17.2 3.9h0m0.9 -26.3h0m-4.5 5.9h0m-18.0 5.1h0m28.8 2.0h0m-18.8 18.7h0m-3.0 -13.5h0m-9.6 20.7h0m19.1 -19.5h0m27.7 6.8h0m-12.3 -2.4h0m-24.3 8.2h0m12.6 -61.1h0m-3.6 21.7h0m36.0 19.4h0m-28.9 31.6h0m9.9 -39.9h0m-43.2 37.1h0m32.6 -17.2h0m-8.9 -43.0h0m-11.3 31.7h0m25.7 -23.6h0m-15.0 53.7h0m23.7 -44.6h0m3.1 22.9h0m-31.0 -1.2h0m6.8 -34.7h0m13.0 33.2h0m-17.3 -31.2h0m29.3 17.3h0m-9.7 15.3h0m-34.6 -5.2h0m-2.4 22.3h0m19.7 -27.0h0m-1.9 -15.9h0m18.4 28.9h0m-18.1 -25.8h0m3.4 -23.3h0m26.4 29.1h0m-9.4 15.1h0m15.4 -18.3h0m-40.9 7.1h0m9.3 -22.0h0m30.2 24.3h0m-8.5 -0.1h0m8.8 -0.6h0m2.8 9.9h0m-49.5 25.6h0m20.3 -24.5h0m-24.6 27.1h0m24.6 -35.2h0m-4.8 -8.8h0m18.2 7.3h0m-17.8 -2.4h0m23.5 12.7h0m-24.2 4.4h0m12.2 -8.2h0m17.3 -4.4h0m-40.8 27.5h0m10.7 -16.0h0m-22.9 24.9h0m6.1 -43.5h0m48.1 17.1h0m-39.4 9.5h0m13.5 -7.1h0m17.7 -19.7h0m-28.7 23.4h0m31.2 -25.7h0m-41.7 45.9h0m41.1 -17.2h0m-27.7 -1.5h0m19.0 -27.0h0m12.7 -9.7h0m-0.5 12.9h0m-17.7 -20.0h0m-6.1 22.9h0m-8.4 -13.0h0m27.3 5.2h0m-19.9 -10.5h0m-23.3 42.2h0m21.9 -43.4h0m14.9 33.6h0m-23.2 -38.1h0m-6.5 30.0h0m48.6 3.3h0m-48.3 27.7h0m11.1 -20.7h0m19.3 -17.4h0m-14.3 13.6h0m11.3 -8.1h0m18.0 7.9h0m-41.4 -14.2h0m-7.5 18.5h0m30.9 -16.8h0m-5.0 -12.2h0m2.9 26.0h0m-0.9 -44.6h0m-19.8 29.3h0m-3.7 35.9h0m-0.2 -57.8h0m1.5 62.8h0m8.9 -43.1h0m1.4 -12.9h0m9.0 46.7h0m-18.0 -56.6h0m14.0 23.8h0m4.9 9.1h0m-6.4 -22.0h0m2.2 -16.3h0m24.0 33.2h0m-30.0 0.9h0m10.1 -19.0h0m-6.4 38.8h0m-6.7 12.5h0m-2.9 -54.5h0m33.9 28.2h0m-0.7 -7.9h0m-27.7 -35.9h0m3.7 29.5h0m22.2 -2.5h0m-33.2 23.9h0m43.7 -13.0h0m-45.9 23.0h0m22.0 -35.4h0m-33.2 39.8h0m6.8 -36.2h0m5.9 9.6h0m25.1 27.2h0m-32.7 -20.6h0m33.8 -0.3h0m-18.9 -21.8h0m14.3 8.2h0m-2.7 40.5h0m-14.0 -57.3h0m26.6 24.6h0m-36.4 14.9h0m34.6 -10.2h0m-17.9 -30.7h0m-6.7 3.8h0m-10.3 37.5h0m23.5 -48.3h0m17.9 34.2h0m-25.8 -17.0h0m18.0 5.0h0m-17.3 25.3h0m19.1 -43.8h0m-26.8 62.8h0m-13.4 -14.1h0m22.5 -40.1h0m-12.2 9.9h0m44.8 16.4h0m-28.8 19.4h0m-18.6 -11.7h0m22.8 -16.2h0m9.0 -19.9h0m-27.9 57.8h0m17.5 -60.8h0m20.1 3.6h0m-12.6 37.9h0m-28.9 -3.2h0m14.5 2.7h0m16.6 -11.4h0m-32.0 -21.0h0m28.0 7.7h0m7.0 5.3h0m-30.2 12.9h0m8.4 -0.5h0m18.3 -9.6h0m-9.4 20.2h0m-18.4 -18.3h0m4.7 8.6h0m-2.9 -29.2h0m-1.7 -4.9h0m5.3 27.3h0m21.5 -6.6h0m2.9 -24.5h0m-14.8 56.3h0m27.4 -23.3h0m-22.0 3.1h0m10.8 4.4h0m-12.6 5.7h0m15.8 -18.4h0m2.5 -2.2h0m-21.2 -32.4h0m12.2 7.5h0m-32.8 48.7h0m27.3 2.6h0m-22.9 -14.9h0m36.0 -4.7h0m-54.4 23.6h0m41.8 -8.5h0m8.5 -34.2h0m-1.7 24.0h0m-12.3 13.1h0m-17.4 -32.8h0m27.2 10.1h0m-2.9 -23.6h0m-18.7 26.7h0m11.5 12.8h0m-7.4 2.4h0m-26.8 11.6h0m20.9 3.1h0m13.3 -4.0h0m14.2 -5.7h0m-11.3 0.3h0m1.4 3.3h0m-20.4 -8.4h0m21.1 6.6h0m2.6 -1.6h0m11.6 -11.6h0m-21.7 -30.6h0m13.3 38.6h0m-25.5 -49.0h0m12.1 -7.9h0m-14.4 55.9h0m3.4 10.9h0m4.7 -69.0h0m26.3 46.5h0m-22.5 27.2h0m24.9 -50.6h0m-5.2 -6.1h0m-8.7 13.5h0m7.7 9.1h0m-40.9 -2.5h0m1.4 -6.2h0m5.4 27.8h0m29.1 -49.0h0m-36.7 59.6h0m9.2 -54.4h0m18.9 33.4h0m4.5 -29.3h0m-32.0 52.6h0m48.8 -40.8h0m-12.9 -16.7h0m-25.1 47.2h0m13.8 12.8h0m13.8 -35.3h0m12.6 -3.3h0m-17.5 -9.3h0m-21.3 42.0h0m38.3 -15.8h0m-47.5 13.3h0m41.0 -23.2h0m8.3 -4.2h0m-54.7 32.4h0m13.4 -2.4h0m40.2 -39.0h0m-33.6 -3.8h0m-26.0 39.7h0m20.4 -41.8h0m35.4 7.0h0m-45.0 9.0h0m29.8 -27.3h0m10.5 11.4h0m-13.5 27.6h0m-13.6 3.7h0m27.4 -25.2h0m-5.6 34.8h0m-3.8 -34.3h0m11.0 -7.2h0m7.0 16.9h0m-8.7 -4.8h0m-29.2 35.1h0m25.5 -17.7h0m7.4 -3.6h0m-39.8 -13.8h0m-0.5 40.8h0m33.5 -28.1h0m2.3 -29.0h0m-16.0 -14.1h0m7.9 19.7h0m-1.9 38.0h0m3.3 -44.7h0m-38.5 45.5h0m15.3 -23.1h0m9.2 19.8h0m10.7 -13.1h0m-17.9 -39.6h0m15.3 50.4h0m-18.0 -52.9h0m3.8 50.6h0m16.2 2.2h0m-3.7 -0.6h0m-2.6 -0.1h0m-10.0 2.9h0m-25.6 10.5h0m34.2 -55.3h0m20.8 39.9h0m-13.5 -17.9h0m12.1 -14.6h0m-14.5 9.3h0m10.7 -12.7h0m-30.7 2.8h0m7.4 45.2h0m9.1 -14.4h0m-19.9 -12.7h0m48.4 -10.7h0m-22.2 20.4h0m-23.5 23.8h0m26.0 -6.6h0m-5.1 -34.2h0m5.1 15.9h0m-16.0 9.5h0m5.7 -3.2h0m21.9 4.2h0m-23.9 -23.4h0m16.2 -3.0h0m-23.3 9.7h0m6.0 34.1h0m21.5 -47.0h0m-18.2 31.8h0m-8.0 -6.0h0m-4.2 -10.5h0m18.1 -40.5h0m-10.8 11.8h0m7.6 -7.4h0m-15.8 34.1h0m5.2 -25.3h0m16.4 8.6h0m-9.1 0.0h0m-7.6 14.8h0m30.4 16.6h0m-19.7 -16.8h0m9.6 12.5h0m-14.3 -44.2h0m-3.8 62.0h0m-5.7 -65.7h0m10.4 16.6h0m-4.9 -13.8h0m-15.5 38.5h0m1.0 -4.0h0m-10.8 30.0h0m26.9 -53.4h0m20.1 36.6h0m-12.9 -51.7h0m16.4 29.3h0m-27.3 12.0h0m19.4 -28.6h0m-33.7 25.0h0m23.1 -43.1h0m-4.3 -1.1h0m-11.1 74.4h0m25.5 -9.2h0m-0.2 -53.4h0m-10.9 0.0h0m-15.2 11.7h0m-2.6 -5.9h0m-5.1 50.4h0m42.9 -36.6h0m-28.3 2.2h0m-5.0 37.1h0m17.1 -39.8h0m0.5 -12.2h0m-29.2 50.0h0m45.7 -38.6h0m1.5 10.4h0m-14.0 4.9h0m0.7 7.0h0m-0.2 -29.0h0m-21.4 -14.5h0m23.0 22.0h0m1.5 14.8h0m11.4 -27.8h0m-9.0 47.1h0m-3.6 -18.3h0m-10.2 21.3h0m-3.8 -41.8h0m-7.7 -9.1h0m22.4 15.9h0m-27.9 26.3h0m45.5 -6.8h0m-33.0 -28.6h0m-10.9 -11.4h0m7.1 -7.0h0m26.2 24.9h0m-32.3 34.7h0m36.1 -7.2h0m10.0 -27.0h0m-18.1 4.4h0m-10.7 -13.6h0m-0.4 44.5h0m6.5 -21.5h0m-34.4 28.5h0m16.2 -63.9h0m28.2 34.0h0m-34.2 12.5h0m10.4 -46.2h0m-13.3 46.5h0m18.6 22.2h0m28.6 -35.8h0m-34.4 30.4h0m0.8 -62.2h0m27.9 29.4h0m-40.2 -13.9h0m-2.8 -7.6h0m46.5 4.3h0m-23.8 23.4h0m28.4 -5.5h0m-43.3 26.0h0m-6.6 -12.7h0m2.5 14.2h0m12.0 -41.6h0m-14.9 -10.6h0m8.4 61.4h0m41.2 -29.0h0m-28.8 -2.0h0m-19.1 2.1h0m-3.1 27.8h0m9.2 -20.2h0m4.2 -18.2h0m3.1 -4.5h0m-0.7 6.6h0m-26.4 35.8h0m9.6 -52.5h0m0.3 -2.4h0m40.1 19.3h0m-9.6 22.9h0m13.5 -39.0h0m-30.1 16.3h0m-17.1 34.5h0m15.1 -8.0h0m-8.8 -8.7h0m-4.6 -12.7h0m5.1 4.6h0m36.6 -31.8h0m-15.1 31.6h0m1.9 8.4h0m-21.8 18.0h0m2.8 -30.0h0m-18.2 22.4h0m27.2 -47.9h0m-22.0 56.9h0m21.1 -61.5h0m-10.1 25.3h0m-13.5 34.0h0m-4.4 -6.4h0m0.9 6.6h0m39.1 -50.4h0m-19.9 53.1h0m-4.4 -18.3h0m-3.7 6.2h0m-7.3 1.6h0m26.4 -59.6h0m-2.1 -0.7h0m10.9 30.1h0m-9.7 36.9h0m12.4 -37.6h0m-10.0 -7.3h0m11.8 10.7h0m-14.4 -29.9h0m29.2 24.0h0m-15.8 13.9h0m-37.0 23.2h0m25.4 -67.4h0m-3.7 -2.7h0m-22.7 65.8h0m28.9 -21.7h0m15.5 -32.1h0m-6.2 48.9h0m-26.7 11.8h0m32.5 -29.5h0m7.4 -15.6h0m5.2 3.1h0m-51.2 40.1h0m11.0 -48.1h0m2.8 -4.4h0m-7.7 -7.7h0m23.2 10.0h0m5.8 23.6h0m0.7 -16.5h0m-8.7 47.8h0m5.5 -46.3h0m-27.8 -6.7h0m-0.1 46.1h0m19.2 -11.2h0m7.3 -2.9h0m0.7 12.3h0m-12.7 -40.0h0m-14.0 3.3h0m-10.2 42.1h0m5.3 -2.4h0m3.3 -22.1h0m0.4 23.3h0m7.2 5.6h0m26.7 -38.8h0m-33.3 9.4h0m7.1 -32.5h0m-9.9 26.0h0m48.1 -14.0h0m-21.3 10.8h0m-18.1 22.6h0m9.1 -57.8h0m-16.2 70.8h0m37.6 -12.3h0m-21.4 -22.1h0m-3.5 7.0h0m15.3 11.5h0m-30.0 -3.2h0m24.0 -27.3h0m-25.1 40.8h0m4.9 -7.3h0m41.9 -10.6h0m-4.9 5.4h0m-23.1 -3.3h0m10.1 -31.3h0m-15.6 6.7h0m-18.8 51.9h0m10.6 -59.5h0m18.3 -13.0h0m12.6 45.5h0m-33.8 17.6h0m15.3 -47.1h0m-12.6 20.6h0m27.9 17.2h0m-35.1 17.0h0m30.4 -24.7h0m7.6 -1.0h0m-19.5 -8.3h0m18.1 2.1h0m-25.2 13.4h0m4.9 6.0h0m-4.2 -52.3h0m-3.0 43.1h0m-0.8 -22.6h0m5.9 -10.5h0m-3.1 49.3h0m35.9 -20.0h0m-45.3 -23.1h0m40.9 16.9h0m-10.5 -8.0h0m-2.4 -30.2h0m-0.2 50.2h0m-0.9 -43.9h0m-9.9 24.2h0m12.2 8.0h0m5.7 -9.5h0m-10.4 -8.7h0m7.4 40.1h0m-27.2 2.0h0m7.0 -11.4h0m-12.5 -26.4h0m14.2 -6.0h0m27.4 23.2h0m-29.1 -4.9h0m14.4 -4.1h0m4.6 13.1h0m-26.3 -14.8h0m22.3 17.3h0m19.2 -13.0h0m-28.5 12.0h0m-24.1 15.5h0m8.3 -17.9h0m15.5 -23.4h0m-5.8 8.1h0m12.0 -7.7h0m15.7 -14.0h0m-33.3 23.3h0m-9.7 26.5h0m37.6 -23.4h0m-25.8 -27.1h0m29.6 50.5h0m-12.9 -29.0h0m-22.2 3.6h0m19.4 12.1h0m-16.6 17.2h0m-14.1 -2.3h0m19.8 -53.6h0m3.8 64.3h0m2.5 -77.1h0m29.1 48.1h0m-50.8 19.0h0m34.0 -18.2h0m23.9 -3.1h0m-34.0 -20.6h0m20.2 21.9h0m-38.0 19.6h0m16.8 -22.4h0m7.4 21.8h0m11.2 -35.4h0m-32.1 28.1h0m17.6 2.0h0m5.2 -43.0h0m24.1 30.0h0m-41.3 -1.3h0m6.9 19.3h0m-4.6 10.4h0m-4.5 -13.5h0m11.5 13.1h0m35.0 -44.2h0m-44.3 0.1h0m-10.3 6.8h0m38.8 5.1h0m-41.6 22.7h0m25.7 -65.4h0m12.2 11.6h0m-4.6 53.6h0m13.5 -18.4h0m-17.0 10.7h0m-25.6 -22.5h0m2.3 0.8h0m6.0 10.0h0m25.7 0.6h0m2.9 -15.5h0m-37.7 18.9h0m39.4 -32.1h0m7.6 3.1h0m-30.7 38.5h0m1.9 -8.3h0m34.8 -10.3h0m-5.6 -20.7h0m-17.2 24.3h0m2.1 -35.7h0m17.7 23.4h0m-28.6 19.9h0m-6.7 -40.6h0m-0.2 56.8h0m21.7 -5.2h0m-39.8 13.8h0m22.5 -35.2h0m-3.6 25.0h0m29.1 -28.2h0m-32.3 15.9h0m10.6 20.0h0m13.3 -31.7h0m-17.4 23.7h0m28.8 -30.7h0m-35.1 31.5h0m15.2 -51.1h0m-3.4 14.5h0m15.0 -10.0h0m-24.9 -16.6h0m13.2 65.1h0m14.0 -52.6h0m-18.9 19.3h0m-30.7 37.8h0m44.0 -16.2h0m-6.1 8.3h0m-29.7 -29.7h0m0.6 -2.9h0m31.6 0.1h0m-27.7 -4.9h0m13.9 26.6h0m11.2 -29.1h0m-16.6 47.1h0m14.1 -61.9h0m20.1 16.0h0m-42.7 44.8h0m14.2 -2.6h0m2.6 -51.2h0m17.2 -4.7h0m-30.1 3.6h0m8.5 -0.9h0m23.4 4.2h0m-46.9 47.7h0m40.8 -18.9h0m-23.2 -37.9h0m0.4 6.3h0m20.1 12.9h0m-14.5 27.1h0m5.7 -6.6h0m1.8 -31.4h0m-20.9 33.3h0m-3.0 -10.7h0m25.0 -23.1h0m-5.1 5.6h0m-10.1 48.5h0m-2.4 -42.2h0m22.8 -10.8h0m-21.6 34.4h0m-10.5 -7.3h0m34.8 10.1h0m-27.9 4.9h0m9.3 -22.0h0m11.7 -27.2h0m-23.5 42.6h0m-4.9 -20.1h0m20.1 18.8h0m13.2 -16.3h0m-19.2 0.8h0m-12.8 -9.8h0m19.9 -21.1h0m10.3 37.2h0m-29.7 -15.8h0m21.6 3.4h0m4.9 19.6h0m3.1 -26.8h0m-16.7 3.8h0m18.0 -7.2h0m-1.1 -14.0h0m-38.3 68.1h0m48.7 -24.2h0m-0.7 -24.6h0m-4.0 17.6h0m-11.4 -36.5h0m-14.4 8.1h0m-5.6 23.2h0m20.4 6.4h0m-20.7 -14.4h0m27.6 4.6h0m-21.2 -2.0h0m-21.2 40.6h0m14.7 -6.8h0m25.6 -16.7h0m19.8 -1.2h0m-22.4 16.4h0m4.3 -28.0h0m6.4 -2.5h0m-8.8 -20.8h0m6.7 10.3h0m-3.2 31.5h0m-0.2 -46.5h0m-27.3 37.6h0m13.4 -36.9h0m-13.2 56.0h0m-0.6 -29.3h0m9.3 11.9h0m7.3 -37.9h0m-10.5 56.6h0m21.0 -44.9h0m-9.3 -10.2h0m-1.1 13.5h0m21.6 15.1h0m-15.8 -7.9h0m-11.6 16.2h0m-9.0 -24.8h0m7.0 -14.2h0m-5.4 57.1h0m-5.6 -28.1h0m41.4 -9.2h0m-38.4 39.7h0m-13.3 -6.8h0m14.7 -19.0h0m39.8 -5.2h0m-10.3 0.9h0m8.5 5.6h0m-10.8 -1.2h0m-15.1 -31.3h0m7.8 -11.6h0m-10.7 38.8h0m22.1 18.1h0m2.2 -12.3h0m-30.4 19.6h0m3.1 6.4h0m33.3 -43.1h0m-36.8 -4.1h0m30.3 -11.6h0m4.7 6.4h0m-43.3 22.7h0m39.0 -5.0h0m-13.8 33.9h0m6.3 -49.9h0m-7.6 47.9h0m16.7 -33.0h0m-32.5 -17.0h0m23.9 38.3h0m-12.8 -19.8h0m24.9 2.9h0m-27.4 31.3h0m-9.4 -11.6h0m15.1 3.2h0m-15.2 -31.2h0m35.4 -19.2h0m-42.3 22.5h0m5.2 -8.2h0m41.8 13.6h0m-24.4 -27.4h0m-29.6 59.5h0m43.3 -55.3h0m-9.1 -15.7h0m-26.0 49.8h0m18.0 -3.5h0m24.3 2.2h0m-24.4 19.0h0m0.5 4.5h0m-12.2 -29.6h0m3.7 -32.4h0m-11.7 23.9h0m24.7 -27.0h0m-23.6 44.6h0m35.7 -42.3h0m-36.6 21.7h0m7.6 17.9h0m10.2 -11.0h0m8.4 33.2h0m-25.6 -32.5h0m31.6 16.7h0m-14.4 -30.2h0m7.1 1.7h0m4.2 31.5h0m11.5 -36.0h0m0.6 -3.5h0m-36.2 30.6h0m-13.5 14.7h0m15.9 -8.3h0m38.6 -27.4h0m-50.1 39.5h0m44.6 -57.3h0m-13.6 9.9h0m-3.5 -21.3h0m-18.9 17.9h0m21.7 49.0h0m7.6 -41.6h0m-32.7 29.5h0m18.0 -38.0h0m33.7 18.5h0m-48.2 -7.7h0m-8.9 31.8h0m38.7 -39.9h0m-34.5 1.9h0m1.2 10.7h0m47.7 -7.7h0m-34.9 38.7h0m19.7 -35.5h0m-3.5 24.3h0m1.3 3.0h0m-22.4 -11.5h0m18.2 -4.4h0m-13.5 7.8h0m-2.0 -26.4h0m-5.1 49.8h0m-3.4 -39.9h0m6.5 -16.8h0m15.3 52.0h0m12.8 -29.6h0m-37.7 3.0h0m13.1 -5.0h0m9.5 34.1h0m-23.6 -18.5h0m31.1 -36.4h0m-16.2 41.7h0m-16.2 9.7h0m15.5 -19.8h0m14.8 10.5h0m-19.1 9.5h0m19.6 -28.8h0m9.5 -7.4h0m-31.0 2.6h0m46.2 4.1h0m-37.3 -36.8h0m3.4 19.7h0m-22.8 53.0h0m49.3 -26.2h0m-46.2 -2.1h0m28.1 -38.1h0m-27.3 41.1h0m46.2 -12.4h0m-20.3 -26.0h0m8.4 12.6h0m6.3 -8.4h0m-17.1 60.6h0m8.0 -33.8h0m-10.4 30.2h0m-18.1 -29.0h0m19.0 19.3h0m11.4 -48.0h0m-25.0 28.5h0m2.0 -7.0h0m-8.9 29.3h0m32.0 -12.3h0m-23.4 21.0h0m42.9 -37.2h0m-51.0 -2.4h0m1.0 40.0h0m35.9 -48.0h0m-51.5 49.0h0m40.3 -26.4h0m-14.8 -14.4h0m37.9 -2.4h0m-10.9 -13.7h0m-8.7 35.2h0m2.7 -3.4h0m-32.0 0.1h0m26.4 16.1h0m17.9 -34.7h0m-19.9 9.1h0m-8.4 -39.2h0m1.6 25.6h0m-21.5 2.2h0m26.7 17.7h0m-8.7 9.3h0m19.8 7.8h0m-4.6 -10.0h0m9.7 -10.0h0m5.0 -10.0h0m-24.3 -9.5h0m-14.8 11.3h0m44.5 -5.5h0m-19.6 11.3h0m14.3 10.3h0m-39.6 14.1h0m15.4 -16.8h0m-4.8 25.6h0m6.8 -0.3h0m-20.8 -31.7h0m33.9 19.5h0m-22.0 -19.4h0m13.0 -33.9h0m-36.4 68.4h0m47.8 -23.9h0m11.2 -21.1h0m-56.1 37.1h0m15.1 -34.9h0m43.4 0.0h0m-43.8 23.1h0m8.1 19.9h0m-0.4 -63.1h0m26.8 42.8h0m-4.7 -38.9h0m-44.5 46.4h0m11.9 -22.8h0m10.9 -10.9h0m-10.0 11.1h0m-21.0 25.8h0m34.0 -63.1h0m7.7 53.0h0m5.3 -22.4h0m0.5 5.2h0m-33.1 7.9h0m13.0 -16.1h0m7.5 -7.0h0m10.9 30.6h0m-12.5 -23.7h0m18.0 -15.6h0m-29.8 50.3h0m4.7 -55.6h0m-13.4 61.8h0m2.2 -32.3h0m11.8 6.4h0m1.3 -12.0h0m-9.9 23.1h0m22.1 -34.2h0m-34.2 48.3h0m6.8 -38.2h0m24.9 -18.4h0m-6.4 -12.3h0m7.2 46.7h0m-8.1 -33.6h0m-4.6 52.0h0m4.4 -50.1h0m14.2 -3.7h0m-12.6 4.5h0m-23.3 49.7h0m-8.1 3.5h0m48.6 -29.6h0m-44.4 30.3h0m48.8 -46.5h0m-39.4 3.4h0m15.4 -21.8h0m-1.4 46.9h0m32.3 -24.7h0m-29.2 18.4h0m-4.9 26.1h0m-2.7 -36.4h0m2.4 -13.1h0m0.9 20.7h0m38.2 -7.7h0m-48.9 12.7h0m16.4 20.2h0m-12.4 1.1h0m-15.4 -7.9h0m41.8 -55.3h0m-17.9 57.5h0m19.5 -12.4h0m-10.5 -17.9h0m-32.6 33.8h0m22.9 -57.2h0m30.2 33.1h0m-26.6 -44.8h0m-2.8 25.3h0m-3.0 -3.6h0m-5.3 -10.0h0m-3.8 15.9h0m36.3 30.6h0m-19.6 13.8h0m-10.2 2.8h0m20.6 -14.8h0m2.0 -44.9h0m-8.0 35.6h0m15.9 -24.6h0m-15.9 18.8h0m11.0 -15.7h0m-3.2 -16.1h0m3.2 46.5h0m-41.1 5.2h0m38.9 -28.9h0m-24.6 -19.1h0m3.3 7.2h0m-14.0 42.7h0m42.5 -53.0h0m10.0 28.3h0m-19.4 21.0h0m4.0 -2.9h0m6.1 -30.6h0m5.8 12.9h0m-26.5 15.2h0m9.4 -45.9h0m-27.9 19.3h0m25.5 5.7h0m-18.5 0.1h0m27.2 5.7h0m-29.1 19.1h0m28.1 1.3h0m12.6 -35.5h0m-28.9 45.1h0m-8.3 -38.1h0m7.7 24.7h0m-15.2 -41.9h0m9.5 5.4h0m40.2 15.6h0m-54.0 -13.3h0m27.4 -14.9h0m-3.2 19.2h0m-13.4 5.7h0m29.2 13.6h0m-24.1 -1.8h0m-1.0 -26.3h0m9.5 14.2h0m-0.8 20.8h0m8.7 -19.3h0m0.6 14.8h0m15.2 -32.0h0m-44.5 12.5h0m44.8 -6.5h0m-54.1 37.9h0m-1.2 9.9h0m59.1 -25.5h0m-38.8 -12.0h0m-5.0 -1.4h0m12.1 -30.8h0m16.9 25.0h0m-0.9 26.1h0m-2.9 -15.6h0m-6.9 -23.4h0m-25.9 20.2h0m-3.2 41.4h0m30.2 -52.8h0m-11.3 25.4h0m-9.4 -32.9h0m26.7 39.0h0m-18.0 -3.4h0m7.7 -9.7h0m5.3 -10.8h0m0.5 37.6h0m-0.0 -60.9h0m9.2 3.5h0m-24.4 34.9h0m24.2 9.7h0m-25.7 -18.4h0m14.1 14.9h0m-15.4 17.1h0m-13.7 6.7h0m20.3 -27.0h0m12.7 5.3h0m-3.5 5.5h0m-13.0 -43.2h0m33.3 11.5h0m-26.7 45.2h0m18.9 -50.4h0m-20.1 21.0h0m15.1 -15.6h0m-15.3 7.3h0m14.1 -2.3h0m0.1 -3.5h0m-7.8 29.0h0m12.5 -37.4h0m-21.5 36.3h0m-6.2 17.0h0m26.7 -30.2h0m-12.5 20.5h0m-25.5 -32.7h0m9.0 25.8h0m16.8 -41.7h0m-4.2 8.9h0m-4.7 10.6h0m-24.6 30.3h0m25.6 -40.5h0m-10.8 12.6h0m45.8 -0.5h0m-35.1 -32.8h0m-7.9 69.7h0m-10.9 -11.3h0m55.9 -22.5h0m-28.8 12.4h0m-31.6 13.6h0m43.3 -8.9h0m-6.6 -42.5h0m-20.9 -1.1h0m41.2 21.8h0m-50.9 -7.3h0m-9.6 35.2h0m22.7 -21.4h0m-7.9 3.3h0m6.9 -32.3h0m12.6 45.6h0m6.3 -1.7h0m-27.3 -13.3h0m28.0 7.9h0m-30.8 -28.6h0m13.9 37.0h0m3.7 -46.9h0m-11.1 24.4h0m13.9 3.1h0m6.3 19.9h0m-8.3 -59.1h0m-5.2 29.0h0m1.0 37.8h0m36.4 -39.8h0m-5.9 11.6h0m-19.8 16.5h0m19.8 -2.3h0m-12.2 -30.4h0m-28.3 -13.6h0m27.5 0.4h0m-7.2 42.6h0m4.8 -26.5h0m-12.8 -15.3h0m28.6 17.7h0m-40.9 32.5h0m47.1 -16.4h0m-50.7 -26.6h0m15.3 -22.1h0m-0.4 57.9h0m-22.0 10.1h0m49.5 -46.9h0m-17.7 -12.3h0m-23.4 40.3h0m1.1 -30.9h0m2.7 11.4h0m29.4 35.3h0m-31.2 13.2h0m-4.1 -24.2h0m3.9 -20.8h0m22.2 20.3h0m14.8 -18.5h0m-40.2 -1.1h0m-1.4 19.9h0m50.2 -22.9h0m-20.3 34.8h0m7.5 -18.5h0m-38.3 23.8h0m22.7 -30.4h0m-23.8 27.1h0m26.2 -52.7h0m-1.0 -14.9h0m-18.6 64.4h0m21.0 -11.6h0m16.3 -24.1h0m-23.6 -19.7h0m10.2 4.5h0m20.7 37.2h0m-0.7 1.9h0m-21.7 14.5h0m-19.4 -3.1h0m-2.2 -38.9h0m37.8 27.7h0m-53.8 15.2h0m45.0 -8.9h0m-30.0 -24.7h0m31.1 24.0h0m-2.4 -47.8h0m3.4 43.6h0m-15.7 5.8h0m13.3 -41.1h0m-8.9 -2.3h0m1.6 -6.6h0m-14.1 17.9h0m28.4 32.7h0m-46.4 12.2h0m11.1 -38.5h0m36.8 9.2h0m-27.9 33.1h0m-9.5 -32.2h0m4.5 -13.8h0m10.6 31.1h0m18.9 -34.0h0m-26.8 -23.5h0m5.1 61.1h0m-11.8 -36.3h0m0.8 -17.5h0m42.8 18.1h0m-20.7 26.4h0m-8.9 17.1h0m9.3 -32.3h0m-4.6 -13.0h0m-22.2 3.8h0m48.1 1.1h0m-34.4 27.3h0m30.9 -23.1h0m-5.3 -22.8h0m7.8 40.6h0m-19.3 -2.5h0m-30.5 -3.4h0m25.3 -37.0h0m-13.0 14.7h0m-9.2 47.6h0m47.3 -23.6h0m-37.8 -2.3h0m12.4 0.2h0m-20.7 -16.7h0m-1.0 37.4h0m28.1 -60.1h0m-29.0 40.0h0m6.3 -34.0h0m-9.1 22.2h0m17.9 26.7h0m11.7 -14.2h0m2.7 -43.1h0m-6.2 18.4h0m0.2 32.7h0m10.4 7.9h0m-10.6 8.1h0m1.6 -68.4h0m21.7 23.3h0m4.4 5.8h0m-29.8 33.2h0m1.8 -30.4h0m7.3 -9.3h0m-6.3 3.0h0m23.9 9.7h0m-39.2 -23.4h0m1.1 -3.3h0m40.6 16.5h0m-33.0 23.4h0m7.7 -27.7h0m-27.5 25.8h0m28.5 -48.2h0m-10.2 64.8h0m-15.0 -32.7h0m6.7 12.8h0m5.5 18.9h0m6.9 -12.1h0m4.8 -15.8h0m-17.5 20.7h0m38.7 -31.4h0m-21.9 41.2h0m-12.3 8.3h0m-10.6 -11.6h0m3.7 10.3h0m-3.0 -12.7h0m16.5 -58.6h0m12.6 30.9h0m-11.3 -28.3h0m19.3 13.8h0m-26.2 20.4h0m-5.9 31.6h0m4.2 -62.9h0m4.6 49.1h0m11.8 -51.0h0m-24.2 51.7h0m12.4 -14.3h0m30.5 -11.3h0m-26.5 13.3h0m18.1 -16.5h0m-35.7 22.2h0m-3.3 15.7h0m18.5 -40.6h0m-8.8 -4.4h0m21.6 1.3h0m-1.7 -1.1h0m-3.8 -2.2h0m19.6 3.8h0m-34.0 31.5h0m12.7 8.9h0m-7.3 -62.2h0m-2.7 70.4h0m-1.6 2.7h0m20.5 -25.3h0m-11.0 -0.0h0m6.3 0.1h0m2.2 -31.8h0m-3.9 34.0h0m14.2 -28.2h0m-16.5 9.0h0m18.5 -6.9h0m-44.4 32.9h0m18.3 -16.5h0m21.3 -2.2h0m-22.5 33.5h0m14.9 -51.6h0m-6.4 17.1h0m-11.3 -22.8h0m14.6 3.0h0m-5.3 7.2h0m12.0 -15.5h0m-31.3 30.2h0m5.7 -19.9h0m-1.2 -12.8h0m34.6 10.6h0m1.4 -2.2h0m5.2 18.2h0m-32.4 -21.2h0m17.0 19.6h0m-19.1 39.6h0m28.6 -32.5h0m-21.8 -43.2h0m16.9 22.9h0m-28.9 1.6h0m37.6 27.9h0m-2.6 -0.9h0m-44.7 12.9h0m18.6 -5.2h0m-16.1 -38.5h0m35.7 -8.5h0m-43.5 65.1h0m22.4 -44.4h0m-16.2 24.4h0m45.3 -17.7h0m-31.8 23.2h0m2.1 6.4h0m-13.6 -8.5h0m20.5 -62.1h0m-8.6 30.8h0m-20.9 49.2h0m22.1 -55.6h0m-3.4 38.1h0m9.3 -26.1h0m18.7 18.3h0m8.3 -28.3h0m-14.6 -7.0h0m-7.6 46.1h0m14.8 -51.4h0m-9.6 37.1h0m8.6 -7.9h0m-11.1 -25.9h0m-19.8 37.9h0m28.5 -36.9h0m-23.9 -8.2h0m-6.6 36.8h0m12.3 -42.0h0m32.7 33.7h0m-26.4 27.6h0m11.2 0.9h0m-45.5 0.4h0m27.9 -38.1h0m22.7 15.1h0m-3.8 21.0h0m1.9 -16.7h0m-14.3 -44.0h0m14.3 42.5h0m-12.6 -0.0h0m-16.9 7.5h0m41.8 -17.9h0m-34.6 6.0h0m11.6 -0.2h0m-25.9 31.4h0m-6.4 -5.9h0m22.5 -41.0h0m19.6 33.0h0m-30.8 -16.8h0m-12.2 26.3h0m27.7 -30.0h0m-7.3 -30.3h0m-4.4 29.5h0m3.3 -8.5h0m18.1 23.3h0m1.4 12.8h0m-25.3 -36.9h0m38.1 23.3h0m-1.2 -27.2h0m-2.6 33.8h0m3.1 -3.7h0m-34.0 -1.5h0m7.4 12.8h0m5.8 -41.5h0m-18.8 0.1h0m1.1 -6.0h0m7.2 -2.9h0m25.9 5.6h0m5.5 17.8h0m-3.5 3.9h0m1.9 14.3h0m-13.3 -18.4h0m-31.8 22.6h0m2.3 -29.9h0m28.8 -20.0h0m-16.7 40.1h0m-13.9 -0.3h0m18.1 -40.0h0m-1.0 37.6h0m11.5 -32.3h0m-6.5 -9.9h0m-20.9 66.9h0m19.5 -61.1h0m0.9 26.5h0m11.1 -21.5h0m5.0 -2.2h0m-25.9 54.8h0m20.4 -47.2h0m-5.4 -14.4h0" stroke="#cfcfd4" stroke-width="0.75" stroke-linecap="round" fill="none"/>
<path d="M334.8 36.6h0m0.3 1.9h0m1.0 -0.7h0m-6.8 2.2h0m-4.6 20.0h0m1.2 -0.3h0m6.5 -17.2h0m-0.2 -4.0h0m1.5 -7.4h0m-3.0 16.7h0m3.9 -16.1h0m-1.2 1.1h0m-6.4 21.3h0m5.9 -24.1h0m-5.6 24.0h0m-1.1 -6.6h0m6.7 -8.4h0m-7.6 22.0h0m3.5 -21.2h0m-4.8 41.2h0m9.6 -39.0h0m-3.8 -2.3h0m-4.8 21.0h0m4.5 -22.3h0m0.4 7.6h0m2.1 -4.3h0m-4.9 3.0h0m-1.5 21.2h0m5.7 -36.1h0m0.1 7.7h0m-2.5 0.5h0m0.2 -1.1h0m2.3 -8.5h0m-0.2 -0.1h0m-3.7 19.2h0m-0.1 5.8h0m3.6 -24.5h0m-3.1 10.8h0m3.7 -4.5h0m0.4 10.9h0m0.5 -4.8h0m-2.4 -3.1h0m-5.8 36.5h0m9.7 -40.8h0m-4.3 10.6h0m-4.9 13.2h0m8.7 -23.3h0m-2.4 13.2h0m-5.2 8.6h0m8.3 -23.5h0m-4.7 15.7h0m-1.7 -6.3h0m6.0 -9.9h0" stroke="#cfcfd4" stroke-width="0.75" stroke-linecap="round" fill="none"/>
<path d="M301.1 89.6h0m-8.2 -0.3h0m10.6 12.2h0m8.2 2.1h0m-3.5 -4.5h0m-2.8 -4.8h0m-5.1 -3.0h0m1.0 -0.0h0m-3.6 2.7h0m-4.3 -3.7h0m11.4 5.8h0m-3.2 3.1h0m-3.0 -9.9h0m9.3 14.5h0m1.5 0.2h0m-2.9 -6.6h0m-15.7 -8.2h0m9.7 5.9h0m10.0 3.6h0m-17.5 -11.3h0m2.7 2.5h0m7.7 3.8h0m7.2 10.9h0m-3.8 -11.9h0m-6.9 -2.3h0m-8.6 -1.4h0m4.0 3.6h0m12.4 8.6h0m-7.2 -3.7h0m6.0 5.8h0m5.5 -0.8h0m-3.2 -7.3h0m-17.6 -6.5h0m6.0 2.5h0m3.0 -1.3h0m6.8 13.2h0m0.4 -0.2h0m-8.1 -5.4h0m2.6 1.5h0m9.7 2.2h0m-7.4 -8.1h0m1.2 1.0h0m-5.1 3.2h0m-0.0 -2.1h0m6.1 6.8h0m-14.2 -14.3h0m4.4 0.9h0m5.1 4.5h0m8.1 3.8h0m-14.1 -8.0h0m-0.4 -1.5h0m2.2 4.7h0m12.7 5.5h0m-12.4 -3.6h0m16.8 9.2h0m-10.2 -5.3h0m3.3 0.6h0m-3.8 -3.6h0m1.7 -0.1h0m6.7 10.3h0m-8.7 -4.5h0" stroke="#cfcfd4" stroke-width="0.75" stroke-linecap="round" fill="none"/>
<path d="M322.5 60.3h0m4.0 -23.3h0m-10.6 13.8h0m5.3 1.7h0m-6.2 22.9h0m2.4 -26.1h0m5.7 -17.9h0m-7.2 29.7h0m-0.4 0.1h0m4.3 0.8h0m-1.6 -28.3h0m2.4 27.2h0m5.9 -19.4h0m-10.6 27.9h0m3.8 -41.8h0m2.7 2.5h0m2.4 4.7h0m-7.1 3.8h0m-1.4 -3.1h0m3.3 -8.8h0m9.3 11.2h0m-9.5 18.8h0m-2.7 -27.7h0m2.0 32.8h0m-1.1 -2.4h0m11.4 -24.7h0m-3.9 9.6h0m-0.3 -17.8h0m-1.3 30.2h0m-5.5 -9.4h0m2.6 15.0h0m7.8 -32.2h0m-5.1 28.4h0m-3.0 -22.3h0m-3.5 40.9h0m2.5 -46.0h0m-2.6 6.6h0m4.4 -7.9h0m-4.0 25.0h0m-0.0 13.7h0m-0.8 -35.5h0m4.0 29.1h0m3.9 -27.8h0m-6.8 4.2h0m10.1 3.0h0m-6.3 10.1h0m-0.4 -20.0h0m1.2 16.9h0m-4.8 23.2h0m7.1 -36.5h0m-7.1 9.5h0m-0.9 6.0h0m5.7 5.3h0m-6.2 14.3h0m4.5 -31.4h0m-1.2 -1.6h0m-0.3 26.1h0m3.2 -11.2h0m-4.5 -22.4h0m-3.1 42.0h0m9.7 -37.0h0m4.9 0.1h0m-8.7 -1.7h0m-0.7 9.3h0m-2.3 15.3h0m2.2 11.5h0m-0.0 -29.2h0m-6.2 31.2h0m7.0 -23.1h0m-2.4 -8.2h0m4.9 6.8h0m0.6 -15.5h0m-3.8 14.2h0m-2.2 28.8h0m0.2 -4.9h0m1.8 -39.0h0m6.3 13.0h0m-11.1 25.0h0m1.2 3.6h0m11.8 -33.0h0m-6.8 15.5h0m-6.9 11.4h0m6.7 -16.2h0m8.4 -21.8h0m-11.6 9.7h0m3.3 4.7h0m1.0 -15.5h0m2.6 1.6h0m-3.7 11.1h0m-2.4 11.0h0m5.9 -25.6h0m-2.0 2.6h0m-5.8 50.1h0m0.4 -44.4h0m2.1 -4.0h0m3.2 9.8h0m0.3 21.8h0m0.7 -8.9h0m-6.7 6.2h0m-1.6 15.6h0m4.1 -35.6h0m3.3 -11.6h0m-5.3 34.1h0m4.1 -1.1h0m6.1 -25.5h0m-4.8 26.3h0m5.4 -29.1h0m-7.7 38.8h0m-1.8 -35.8h0m4.6 6.3h0m-4.6 14.3h0m2.5 -19.6h0m0.4 28.5h0" stroke="#90c0ec" stroke-width="0.9" stroke-linecap="round" fill="none"/>
<path d="M309.4 83.5h0m4.6 12.8h0m5.5 -0.7h0m0.8 -10.5h0m-7.9 -0.1h0m-4.2 6.2h0m13.4 0.1h0m-6.5 -0.9h0m-7.1 -0.5h0m3.0 1.6h0m9.4 -10.2h0m6.6 10.8h0m-2.4 -6.5h0m-9.2 1.4h0m0.1 2.6h0m7.0 -0.6h0m1.0 -5.7h0m-6.9 0.8h0m-8.7 6.0h0m9.4 -2.6h0m0.7 2.6h0m-2.3 -7.9h0m-7.7 7.6h0m-0.3 1.4h0m7.0 6.2h0m1.2 -2.2h0m-7.0 -6.0h0m1.3 -1.8h0m6.3 -5.0h0m-7.0 6.1h0m5.9 -4.1h0m5.2 9.6h0m-14.1 -6.2h0m12.4 3.6h0m-4.6 -9.0h0m0.8 0.1h0m-7.3 6.4h0m8.5 -6.4h0m-2.1 6.7h0m-3.6 -3.1h0m11.1 -2.4h0m-2.7 9.8h0m1.6 -10.6h0m-7.0 9.9h0m2.1 -6.2h0m6.0 1.7h0m-7.8 -1.6h0m12.1 7.0h0m-3.9 -0.8h0m2.6 -1.5h0m-12.5 -10.5h0m-4.2 11.8h0m2.1 -4.7h0m13.5 2.3h0m-3.5 -3.9h0m4.9 5.2h0m-17.1 -2.4h0m12.7 1.6h0m2.9 -0.1h0m-5.3 -0.0h0m-9.7 -7.0h0m-1.0 2.4h0m5.1 4.6h0m6.6 1.0h0m-1.2 -9.9h0m-4.8 6.7h0m7.2 1.5h0m1.4 -5.4h0m-9.2 4.5h0m5.8 -8.0h0m-5.7 5.1h0m8.4 3.1h0m-5.1 -0.6h0m-4.0 5.7h0m15.0 -2.5h0m-16.9 -8.5h0m1.6 10.8h0m1.5 -8.7h0m2.1 10.2h0m5.9 -8.0h0m-4.0 9.2h0m-5.9 -10.2h0m5.8 -3.2h0m-6.3 7.6h0m5.3 -9.2h0m-4.9 6.4h0m1.7 2.2h0m-3.1 -7.7h0m3.1 4.4h0m6.8 7.1h0m6.2 -2.5h0m-2.0 -8.0h0m-8.8 9.9h0m1.8 3.7h0m-9.0 -14.4h0m14.7 6.0h0m-13.9 2.3h0m12.8 4.6h0m4.1 -8.7h0m-8.4 10.6h0m-8.8 -12.6h0m6.6 9.0h0m2.0 0.2h0m4.9 -4.0h0m-0.4 -7.6h0m-12.6 11.2h0m3.7 -7.9h0m-1.9 -3.9h0m5.3 12.2h0m-7.5 -9.3h0m16.6 -0.2h0m-7.4 -0.8h0m7.8 1.9h0m-3.1 5.5h0m-14.8 -7.3h0m13.5 10.6h0m-8.3 -14.0h0m-3.9 1.0h0m11.1 9.9h0m-12.3 -4.2h0m10.9 5.6h0m-9.5 -1.5h0m12.5 -9.9h0m-10.3 14.2h0m10.2 -10.9h0m-6.0 11.0h0m3.7 -3.1h0m1.7 -2.2h0m4.9 -1.9h0m-12.6 -2.2h0m-2.1 -3.1h0m5.1 14.9h0m-0.4 -15.0h0m9.5 4.7h0m1.2 4.6h0m-20.2 -4.8h0m5.0 1.0h0m1.6 0.2h0m9.0 2.0h0m-10.2 -2.2h0m9.3 5.5h0m-3.2 -2.0h0m3.1 1.5h0m-1.2 -11.8h0m2.2 10.0h0m-4.9 -6.0h0m2.2 6.6h0m-11.4 -5.7h0m-0.6 2.8h0m1.7 -0.6h0m8.6 8.6h0m1.3 -8.1h0m9.3 1.9h0m-11.7 -10.0h0m9.3 4.1h0m-11.8 -2.8h0m10.7 8.0h0m-15.0 -3.4h0m15.5 -3.1h0m-18.5 4.1h0m8.5 4.2h0m-6.3 -6.7h0m2.4 6.2h0m9.0 -7.3h0m-8.7 -3.2h0m7.3 -0.9h0m3.8 9.0h0m-6.6 -2.6h0m7.9 -2.9h0m-11.1 -3.8h0m0.5 4.1h0m8.8 6.4h0m0.3 -2.6h0m0.1 5.8h0m-7.9 -9.0h0m6.4 7.9h0m-6.3 3.7h0m8.0 -6.0h0m-12.3 -10.3h0m3.3 7.0h0m6.0 7.1h0m-3.2 -12.4h0m4.9 6.6h0m-12.2 -1.1h0m11.4 6.3h0m4.6 -5.9h0m-8.3 -4.5h0m-8.2 4.6h0m-1.9 -1.6h0m3.9 -2.3h0m2.8 2.4h0m1.9 3.1h0m-0.1 -0.5h0m6.8 4.4h0m0.9 2.0h0m-10.4 -6.8h0m14.8 2.6h0m-20.7 -2.3h0m9.0 5.5h0m0.1 -12.3h0m3.8 9.4h0m-12.5 -3.8h0m8.9 6.3h0m7.3 -10.3h0m-7.6 13.3h0m4.6 -12.8h0m-6.4 7.6h0m-0.5 -1.0h0m-2.1 -4.1h0m7.6 -2.8h0m-2.4 9.1h0m-8.2 -2.3h0m15.6 1.0h0m-9.5 -10.8h0m0.4 4.9h0m-5.0 6.1h0m14.0 3.1h0m-13.1 -8.3h0m6.8 8.1h0m7.4 -7.0h0m0.8 -0.9h0m2.1 5.5h0m-15.5 -6.3h0m2.9 3.7h0m6.4 3.5h0m-7.5 -3.2h0m1.3 -10.0h0m-6.9 9.2h0m11.1 3.3h0m-2.6 -7.6h0m-7.8 -2.9h0m1.9 11.0h0m-2.4 -8.6h0m1.8 10.1h0m2.9 -11.7h0m2.2 1.6h0m4.8 4.2h0m-1.2 5.8h0m-2.5 -11.5h0m-6.6 11.1h0m-1.1 -12.4h0m7.1 11.0h0m9.0 -7.9h0m-3.5 0.7h0m-7.1 7.3h0m7.6 -2.3h0m-5.5 -7.6h0m-0.4 14.8h0m-3.1 -15.5h0m3.7 8.6h0m-9.3 -3.4h0m10.4 -2.3h0m-4.5 11.3h0m-3.6 -13.2h0m7.8 7.9h0m-9.1 -3.7h0m-1.7 -1.0h0m16.5 3.9h0m-7.2 0.5h0m4.8 -5.9h0m-0.7 -3.2h0m2.0 10.0h0m-6.1 -5.1h0m-0.6 -4.9h0m0.8 5.8h0m-8.6 -1.0h0m16.5 -1.5h0m-6.9 5.7h0m8.0 -6.3h0m-11.7 1.9h0m-6.9 0.0h0m5.5 4.1h0m6.4 2.9h0m-7.6 -9.5h0m0.6 -1.2h0m3.6 -0.5h0m-6.7 0.7h0m4.6 10.9h0m8.6 -9.6h0m2.6 6.4h0m-16.2 -1.5h0m15.4 6.0h0m-3.8 -1.3h0m3.2 0.8h0m-6.2 -2.8h0m4.0 -9.1h0m-8.8 9.1h0m-3.4 -2.7h0m5.6 1.0h0m-2.2 -5.2h0m15.4 6.9h0m-18.7 -7.0h0m9.7 1.9h0m-3.3 -4.0h0m-4.6 11.2h0m-2.0 -2.9h0m7.3 2.0h0m6.5 0.5h0m-7.8 2.6h0m11.0 -4.8h0m-10.1 -2.7h0m-0.3 2.0h0m-8.0 -3.8h0m11.6 -1.8h0m2.0 -1.5h0m4.2 5.5h0m-2.2 -4.4h0m-5.3 9.4h0" stroke="#80b6ea" stroke-width="1.05" stroke-linecap="round" fill="none"/>
<path d="M341.4 35.7h0m-13.7 42.1h0m11.2 -7.1h0m5.7 -14.3h0m-14.9 5.1h0m6.7 -18.6h0m3.0 13.6h0m12.5 -17.5h0m3.1 2.0h0m-25.3 17.1h0m18.2 -10.0h0m-16.3 9.5h0m18.7 -7.0h0m-6.6 -14.5h0m0.9 17.4h0m-10.9 11.8h0m14.1 -29.3h0m-13.5 37.6h0m23.9 -35.1h0m-1.7 12.5h0m-25.3 2.3h0m4.7 17.9h0m-4.4 2.2h0m15.0 -6.0h0m4.7 -35.0h0m-7.1 8.4h0m-7.3 7.8h0m-7.4 31.4h0m-2.2 -23.5h0m1.0 -2.2h0m2.7 5.4h0m-1.9 20.7h0m15.7 -28.2h0m9.2 -0.5h0m-3.1 -1.8h0m-23.1 7.6h0m21.1 -8.7h0m-23.5 30.9h0m26.7 -25.7h0m-8.7 6.7h0m-1.7 10.7h0m2.4 -29.8h0m7.7 9.4h0m-0.4 -9.3h0m-8.8 2.8h0m5.2 -6.8h0m-1.0 16.9h0m-20.8 11.6h0m24.0 -5.6h0m-0.2 -8.5h0m-21.9 29.7h0m11.2 -8.3h0m-6.3 -15.0h0m14.7 -8.2h0m6.0 -18.6h0m-15.5 39.4h0m-5.6 -2.5h0m12.7 -19.2h0m-20.8 28.3h0m30.1 -44.0h0m0.9 11.6h0m-26.2 9.1h0m15.4 -14.7h0m-9.4 25.6h0m12.7 -6.6h0m11.9 -4.8h0m-27.7 1.0h0m-6.7 9.4h0m5.1 4.1h0m11.8 -24.9h0m-8.8 3.3h0m4.3 2.9h0m11.6 -11.6h0m1.3 20.8h0m-18.1 -8.8h0m16.5 -4.6h0m1.7 13.2h0m-10.9 -20.4h0m3.6 16.5h0m13.1 -4.3h0m-29.3 27.5h0m22.1 -19.6h0m-2.1 -1.7h0m4.9 -14.4h0m6.7 8.8h0m-17.7 10.6h0m-5.0 2.8h0m9.3 -12.7h0m-10.0 20.3h0m0.0 -4.7h0m14.1 -23.6h0m-14.2 22.2h0m2.2 -3.6h0m21.0 -20.5h0m-3.0 3.1h0m-5.1 -3.0h0m-16.5 12.1h0m13.3 12.4h0m4.6 -14.5h0m-11.2 -0.9h0m5.4 10.7h0m12.3 -15.6h0m-26.3 14.0h0m-0.9 7.3h0m21.2 -17.6h0m-13.7 -1.0h0m-5.6 18.0h0m24.5 -17.8h0m-3.6 -14.6h0m-13.3 38.9h0m10.9 -33.1h0m-16.8 24.4h0m15.3 -19.3h0m-12.4 22.0h0m-10.8 4.0h0m22.9 -19.1h0m-1.7 -19.3h0m-4.8 20.3h0m8.2 -5.1h0m8.8 -4.1h0m-32.1 15.2h0m2.5 -2.5h0m19.5 -10.9h0m6.8 8.5h0m-27.7 23.1h0m2.7 -24.2h0m15.5 -17.2h0m-8.1 34.0h0m15.7 -36.5h0m-5.2 23.6h0m-4.9 -8.9h0m12.1 7.9h0m-23.6 9.4h0m10.8 -5.5h0m-14.7 -8.1h0m9.9 -5.9h0m4.3 9.3h0m15.4 -4.8h0m-10.0 -14.1h0m-2.0 20.3h0m-8.4 12.4h0m17.4 -18.1h0m-17.7 8.4h0m10.2 -15.3h0m-0.6 -7.4h0m-13.7 41.3h0m18.1 -46.2h0m2.8 4.1h0m-12.2 14.7h0m14.6 3.5h0m-15.6 -3.6h0m2.7 0.6h0m-2.6 -14.0h0m11.1 22.8h0m-21.5 17.0h0m13.2 -23.1h0m-12.7 -0.9h0m26.0 -2.4h0m-18.4 -4.9h0m-7.3 6.3h0m9.7 -7.7h0m2.6 7.3h0m-11.4 1.4h0m6.4 -6.7h0m8.0 0.3h0m3.0 -10.6h0m4.0 13.9h0m-22.3 11.0h0m17.5 -1.9h0m-23.4 4.5h0m20.7 -16.1h0m5.9 -15.5h0m-14.1 42.7h0m8.9 -18.1h0m4.4 -8.8h0m-8.8 22.0h0m-8.8 -17.8h0m-7.8 24.2h0m5.6 -7.0h0m8.0 -32.5h0m2.1 -1.5h0m-5.0 37.2h0m-3.2 -23.4h0m-5.5 26.4h0m1.5 -25.0h0m15.7 6.3h0m6.4 -5.5h0m-1.4 -15.2h0m9.9 11.2h0m-33.5 26.1h0m11.9 1.1h0m-3.5 -26.5h0m10.1 11.6h0m-5.4 9.5h0m7.7 -11.5h0m5.5 -17.7h0m-11.7 2.3h0m-5.8 0.9h0m-4.1 10.0h0m-5.9 13.8h0m27.0 -14.9h0m-13.9 4.1h0m-7.3 5.3h0m16.4 -2.5h0m-15.1 -11.2h0m11.8 1.3h0m5.3 -6.6h0m-8.2 19.2h0m-0.4 -18.9h0m-12.3 37.9h0m22.4 -28.9h0m-21.4 -2.2h0m25.2 -7.5h0m-8.7 18.6h0m9.7 -11.8h0m-23.9 4.1h0m6.9 2.3h0m6.1 0.9h0m12.5 -1.1h0m-6.1 -17.0h0m-27.5 29.2h0m5.8 -14.1h0m-1.6 14.5h0m20.9 -5.7h0m-13.3 -4.1h0m9.7 -8.6h0m-12.0 22.5h0m-3.0 -7.0h0m22.8 -12.2h0m-20.7 7.1h0m-5.4 7.2h0m23.5 -30.1h0m-13.2 2.7h0m-12.9 37.5h0m19.2 -8.6h0m-17.3 -10.0h0m5.1 -1.9h0m-1.2 11.0h0m-1.9 -10.0h0m9.6 17.7h0m10.4 -17.3h0m-14.0 2.2h0m0.3 -4.5h0m6.7 -20.0h0m-11.6 16.6h0m-4.6 14.5h0m14.4 -5.2h0m1.7 -17.0h0m3.3 -6.0h0m-5.2 18.5h0m-2.6 -6.7h0m6.3 6.0h0m-4.7 -13.0h0m9.2 -7.7h0m-13.3 17.0h0m19.9 -12.7h0m-10.8 9.2h0m-5.6 -6.2h0m4.8 26.4h0m-9.1 -18.9h0m10.2 -10.2h0m4.1 -8.6h0m-7.6 39.3h0m8.4 -32.7h0m-6.2 27.1h0m-1.2 2.4h0m-4.3 -10.2h0m-5.1 -0.3h0m11.2 -23.5h0m-0.5 2.8h0m-12.0 14.3h0m3.9 2.9h0m9.4 -3.4h0m3.1 7.5h0m-9.3 -14.3h0m3.7 9.8h0m-4.8 4.8h0m2.9 -18.8h0m3.1 31.1h0m11.1 -26.2h0m-18.9 4.1h0m2.6 -3.5h0m5.0 21.7h0m-3.8 -23.8h0m-9.1 18.6h0m2.3 10.7h0m11.8 -29.7h0m6.4 8.1h0m-12.2 -11.8h0m6.0 20.6h0m13.4 -12.9h0m-25.9 34.0h0m17.5 -22.2h0m-19.2 10.3h0m6.1 9.1h0m19.0 -29.5h0m-5.8 -15.8h0m-10.5 17.1h0m-5.9 11.4h0m0.3 -12.8h0m-2.9 2.7h0m-2.0 7.5h0m21.1 1.5h0m-6.9 5.8h0m-16.6 2.5h0m12.7 2.4h0m5.0 -17.8h0m1.7 4.2h0m-1.5 10.0h0m7.4 -25.3h0m-4.9 4.3h0m8.8 -7.5h0m-30.1 33.2h0m-0.8 -4.5h0m3.9 -1.4h0m10.5 6.0h0m12.1 -38.9h0m0.4 20.4h0m-11.9 -7.9h0m11.8 6.0h0m-12.3 23.8h0m-12.0 -2.5h0m6.0 8.0h0m8.2 -15.7h0m9.5 -28.4h0m-10.7 0.2h0m9.9 23.4h0m-12.7 -1.9h0m-8.4 21.0h0m0.0 -0.8h0m2.4 -15.0h0m17.8 -14.5h0m-18.1 32.9h0m23.6 -27.9h0m-26.8 28.7h0m2.1 -4.5h0m2.5 -7.3h0m9.5 -4.6h0m7.7 -11.8h0m6.2 -14.2h0m-19.8 10.4h0m11.9 7.1h0m-6.2 -4.2h0m-0.9 -13.5h0m7.8 22.4h0m-23.0 1.9h0m21.5 -29.8h0m4.4 27.6h0m-10.5 -15.1h0m2.2 -11.0h0m-16.3 21.8h0m15.2 5.1h0m3.2 5.0h0m1.9 -9.0h0m6.7 -8.1h0m-26.4 32.6h0m14.6 -46.4h0m-2.9 7.7h0m-10.3 33.5h0m19.1 -21.4h0m-8.7 -7.1h0m8.6 8.1h0m-6.1 3.9h0m-9.6 -6.7h0m-3.4 -1.8h0m7.1 1.0h0m5.6 -15.2h0m6.7 -5.4h0m-22.0 37.0h0m20.3 -4.4h0m3.6 -34.9h0m-18.3 41.8h0m11.1 -28.7h0m-6.5 24.5h0m14.4 -6.4h0m-18.0 -6.8h0m10.1 5.1h0m5.2 -12.3h0m-13.6 12.6h0m6.8 -5.3h0m9.2 -12.2h0m9.6 6.5h0m-6.2 3.1h0m-9.4 -0.5h0m-7.2 -6.6h0m9.7 13.1h0m-11.0 -16.4h0m0.3 9.2h0m-10.2 26.8h0m33.0 -32.2h0m-16.0 6.9h0m-16.3 28.4h0m28.7 -46.0h0m-28.5 25.0h0m27.2 -1.9h0m-21.6 -4.4h0m12.3 -1.9h0m-6.0 4.5h0m5.2 -21.5h0m-2.4 29.0h0m-11.7 17.6h0m19.4 -27.4h0m-10.3 19.2h0m-6.2 5.5h0m3.1 -18.8h0m16.8 -0.3h0m-25.7 3.8h0m14.8 -22.1h0m-8.2 37.0h0m12.2 -46.6h0m4.9 10.3h0m-2.0 6.3h0m3.3 -11.6h0m-12.5 34.7h0m4.8 -12.0h0m-17.2 12.6h0m14.0 -32.8h0m-5.5 3.2h0m2.7 26.9h0m-10.1 -11.5h0m2.4 1.8h0m27.9 -8.2h0m-14.8 2.9h0m-13.6 13.3h0m6.4 -16.9h0m-10.0 21.0h0m9.9 -30.9h0m19.9 9.2h0m-10.4 -0.8h0m-12.7 -2.0h0m9.9 -4.6h0m-13.1 14.7h0m-4.3 4.1h0m24.3 -18.2h0m-20.2 9.4h0m14.5 3.0h0m-11.7 7.0h0m22.5 -25.1h0m-24.9 22.4h0m-0.4 9.7h0m-3.2 -6.8h0m27.7 -29.2h0m2.5 23.0h0m-30.1 22.9h0m11.2 -30.2h0m-12.7 14.9h0m31.6 -8.2h0m-14.5 -17.0h0m12.9 10.0h0m-12.3 17.4h0m-13.1 -5.2h0m4.0 11.0h0m5.9 -33.9h0m12.5 7.7h0m-2.7 -5.1h0m-2.4 4.0h0m-2.4 16.4h0m4.3 -4.7h0m2.1 -7.4h0m1.3 -13.6h0m0.3 3.9h0m-6.4 10.9h0m-17.6 17.3h0m0.6 7.0h0m25.1 -36.9h0m-22.1 38.1h0m12.2 -7.1h0m9.7 -35.0h0m-20.2 38.4h0m15.7 -13.4h0m-4.3 -2.9h0m-2.9 13.1h0m-7.1 -5.2h0m-4.0 6.8h0m-2.6 6.4h0m2.9 1.9h0m17.5 -41.3h0m1.1 25.3h0m-18.0 0.5h0m-8.1 9.4h0m17.0 -8.1h0m-1.8 -9.9h0m15.2 -23.1h0m-13.0 23.6h0m0.1 -5.1h0m-13.2 2.3h0m23.4 -11.5h0m8.7 4.0h0m-5.5 -6.0h0m-0.7 0.4h0m-17.0 2.0h0m0.4 3.2h0m0.2 5.8h0m4.2 -0.3h0m-17.5 25.1h0m30.4 -35.6h0m-4.8 11.2h0m-2.3 2.1h0m-15.9 26.0h0m19.4 -32.6h0m-13.6 15.3h0m0.2 6.2h0m6.6 -13.9h0m-15.4 27.5h0m14.2 -39.2h0m-11.9 19.0h0m20.7 -24.6h0m-27.7 39.6h0m9.8 -29.3h0m0.4 14.7h0m-4.9 1.0h0m-2.3 14.2h0m29.3 -26.1h0m-8.3 -9.2h0m4.1 18.5h0m-12.4 10.2h0m-8.7 -3.7h0m13.4 -1.2h0m-6.9 -25.6h0m-6.5 10.4h0m7.4 4.8h0m-3.1 8.3h0m21.8 -8.7h0m-24.2 5.2h0m5.1 9.6h0m9.3 -18.9h0m-9.7 -12.4h0m-5.8 34.1h0m19.2 -24.9h0m-23.8 13.8h0m26.0 -10.0h0m-14.0 8.3h0m-3.2 12.0h0m17.0 -20.3h0m-3.2 7.2h0m-7.9 -15.9h0m-12.5 17.6h0m6.1 1.5h0m1.1 14.9h0m20.3 -32.3h0m-14.0 -10.3h0m1.3 21.4h0m-12.7 20.3h0m16.0 -35.9h0m-4.2 9.6h0m5.6 -8.8h0m-11.4 25.1h0m2.4 -2.0h0m-16.0 13.5h0m27.5 -34.9h0m-13.2 6.3h0m0.8 -8.6h0m9.6 -4.3h0m1.9 17.2h0m-19.8 -2.6h0m6.6 20.3h0m-0.5 1.6h0m11.3 -17.2h0m-6.0 11.5h0m8.0 -14.5h0m-24.9 9.2h0m15.5 -23.7h0m15.5 17.8h0m-17.5 10.5h0m-11.3 -8.5h0m20.8 -12.0h0m-21.5 30.3h0m27.5 -22.6h0m-26.3 27.4h0m8.8 -37.1h0m-5.9 35.7h0m-0.7 1.8h0m24.1 -40.0h0m-23.8 21.2h0m1.1 -11.2h0m21.0 -17.0h0m4.5 21.1h0m-29.2 11.2h0m25.2 -21.9h0m-9.9 -0.6h0m4.2 17.0h0m-6.7 8.9h0m-9.0 -18.0h0m24.3 -12.3h0m-14.7 1.7h0m-7.2 32.5h0m-8.6 4.9h0m13.6 -5.3h0m15.4 -33.4h0m-13.8 18.0h0m15.1 -0.7h0m-3.9 -8.2h0m-17.9 26.3h0m20.8 -28.8h0m-11.3 21.0h0m6.1 -13.4h0m-7.2 -18.0h0m10.6 13.8h0m-21.3 17.4h0m12.2 -15.5h0m1.4 10.1h0m3.6 0.5h0m3.1 -22.9h0m-12.1 -0.0h0m-4.6 27.3h0m14.4 -10.3h0m-10.5 16.3h0m-12.2 4.5h0m8.4 -9.7h0m10.2 -10.6h0m1.4 -23.5h0m-7.4 22.2h0m2.2 -20.0h0m-13.6 20.2h0m16.7 -6.1h0m5.1 -1.1h0m0.5 -0.1h0m-11.3 15.6h0m9.5 -28.0h0m-17.5 35.1h0m8.1 -24.1h0m-7.2 21.3h0m-1.7 -7.3h0m18.1 -17.4h0m-2.5 14.3h0m-13.3 3.3h0m0.6 -14.5h0m26.2 -0.8h0m-31.6 11.3h0m15.2 2.3h0m-18.1 9.2h0m21.3 -19.4h0m-12.5 -5.1h0m5.2 27.4h0m-4.4 -3.3h0m3.7 -21.9h0m-1.7 22.8h0m2.8 3.0h0m-3.4 -3.1h0m-1.1 8.6h0m9.9 -18.2h0m-10.5 -13.6h0m24.3 7.9h0m-17.3 4.2h0m6.5 -8.5h0m-1.4 -4.0h0m0.2 -12.1h0m1.2 14.6h0m1.3 12.4h0m-5.0 2.0h0m-0.1 3.0h0m7.7 -18.3h0m-12.0 -7.5h0m-9.8 18.1h0m18.6 -13.4h0m-14.0 7.7h0m-8.0 20.1h0m12.4 -32.0h0m-7.3 18.9h0m3.1 -7.4h0m-4.0 21.4h0m3.0 -22.2h0m-5.1 25.2h0m15.9 -16.3h0m-10.0 -9.6h0m10.2 17.2h0m-5.2 -9.0h0m-14.6 8.6h0m34.4 -23.7h0m-11.9 5.9h0m-4.3 20.6h0m-5.2 -6.7h0m-11.1 0.9h0m3.1 3.5h0m6.5 -25.9h0m2.4 10.4h0m-3.8 11.2h0m14.7 -18.6h0m-8.1 23.4h0m-3.1 -7.6h0m14.2 -12.1h0m-27.0 33.6h0m22.6 -33.3h0m12.2 1.9h0m-21.1 13.0h0m-0.2 6.2h0m5.1 -8.2h0m3.2 -3.0h0m-19.7 -2.0h0m13.8 14.4h0m-10.8 -16.6h0m20.1 -1.5h0m-2.8 -10.0h0m-4.8 26.0h0m0.7 -34.9h0m2.2 20.2h0m-16.4 6.7h0m14.0 5.2h0m-12.7 13.9h0m-4.6 -3.4h0m21.5 -39.6h0m-3.8 17.5h0m-0.7 6.9h0m-17.9 21.1h0m22.4 -35.0h0m-3.2 -7.6h0m-7.2 5.0h0m14.5 -7.1h0m-17.9 37.3h0m-7.9 -12.5h0m5.7 -0.4h0m-4.3 -5.6h0m9.1 -13.4h0m6.7 23.5h0m-0.6 -28.0h0m-4.9 3.2h0m-2.3 1.4h0m3.7 4.5h0m4.2 -7.2h0m-12.3 39.6h0m-0.5 -6.3h0m5.3 -2.7h0m-10.1 -8.9h0m3.7 14.1h0m-4.8 4.6h0m11.9 -4.5h0m-6.4 -19.4h0m3.3 17.4h0m13.7 -19.9h0m-8.3 -8.2h0m2.6 -2.3h0m2.0 16.0h0m-13.5 -6.5h0m25.0 -18.3h0m-29.3 25.9h0m5.1 -7.0h0m21.7 -17.7h0m-1.3 21.8h0m-10.0 -0.2h0m15.8 -4.0h0m-15.6 17.1h0m-11.8 -2.8h0m7.4 -7.0h0m3.8 -16.8h0m-15.1 22.8h0m18.9 -29.2h0m-1.5 28.6h0m-0.0 -1.1h0m7.7 -6.4h0m-23.7 17.2h0m14.3 -21.2h0m14.3 0.9h0m-31.5 13.5h0m0.1 0.4h0m33.3 -22.9h0m-20.6 16.9h0m9.3 -30.3h0m-7.3 29.1h0m21.0 -14.3h0m-33.7 28.4h0m32.1 -34.2h0m-12.2 -10.0h0m-2.5 23.0h0m-18.2 15.4h0m8.1 -20.1h0m-3.7 7.9h0m10.8 -8.2h0m8.1 8.3h0m-15.9 6.3h0m9.3 -14.6h0m3.0 -9.1h0m10.0 7.0h0m-12.3 12.2h0m13.4 -20.1h0m-32.6 39.5h0m19.1 -32.1h0m-0.3 -5.6h0m15.8 8.8h0m-8.5 10.7h0m7.3 -22.2h0m-32.6 38.3h0m11.4 -15.3h0m1.5 9.2h0m14.5 -16.5h0m-23.9 3.1h0m4.8 13.1h0m23.4 -30.8h0m-9.8 -8.9h0m-12.0 38.5h0m-0.5 -10.3h0m15.7 -0.0h0m5.6 -5.5h0m-13.2 16.3h0m-3.7 0.6h0m-4.0 -7.4h0m-6.1 -0.5h0m10.5 -8.9h0m7.0 -19.5h0m-2.7 -0.1h0m3.9 -1.9h0m-6.6 9.1h0m11.2 4.7h0m1.6 1.7h0m-23.2 25.1h0m19.8 -20.0h0m-23.2 4.0h0m22.0 -7.1h0m-19.3 24.2h0m22.4 -27.5h0m-25.5 24.2h0m12.8 -3.3h0m-4.1 -15.3h0m1.4 6.4h0m8.2 -4.7h0m-11.7 17.7h0m18.4 -18.4h0m-8.3 6.2h0m3.4 -25.5h0m-16.9 39.0h0m17.6 -26.6h0m-7.8 16.3h0m-0.3 -12.2h0m-2.2 20.4h0m1.8 -29.7h0m-3.2 28.9h0m19.4 -21.5h0m-12.3 -1.5h0m-16.9 16.6h0m20.4 -8.6h0m-16.7 25.2h0m-1.8 -13.2h0m22.5 -24.4h0m-23.2 34.8h0m21.5 -30.3h0m0.7 9.2h0m-17.5 5.0h0m11.4 -12.5h0m-15.0 26.7h0m13.3 -16.5h0m-13.1 20.0h0m15.2 -26.2h0m-15.6 26.9h0m12.3 -43.1h0m1.1 24.6h0m-3.5 -16.6h0m10.6 19.3h0m-18.8 -5.0h0m18.3 -0.3h0m10.1 -16.7h0m-25.9 37.8h0m12.5 -37.7h0m-14.3 9.0h0m1.5 0.0h0m13.5 15.5h0m3.7 -36.3h0m-22.0 44.0h0m27.8 -40.9h0m-26.1 42.8h0m20.9 -14.6h0m-17.5 -9.2h0m10.4 -14.0h0m-11.5 14.1h0m7.8 -11.2h0m-13.4 29.2h0m28.2 -28.9h0m-5.6 -1.4h0m4.2 -5.4h0m-24.7 21.8h0m8.4 -16.4h0m-7.2 14.8h0m19.1 -18.5h0m-3.3 30.7h0m-3.2 -18.5h0m11.6 -13.1h0m-8.1 19.7h0m-11.9 16.6h0m9.8 -33.0h0m-15.5 37.5h0m7.6 -29.3h0m3.2 -2.8h0m10.9 -1.6h0m-17.7 37.9h0m27.3 -27.1h0m-11.7 -22.6h0m8.0 11.8h0m-1.7 -1.9h0m-20.3 32.4h0m-1.2 -2.6h0m23.8 -21.4h0m-9.3 -2.0h0m2.0 9.4h0m1.8 -16.5h0m8.4 11.4h0m-14.3 -13.2h0m-8.7 26.0h0m-10.1 -0.9h0m21.3 -28.1h0m-9.6 27.1h0m12.7 -0.2h0m-8.7 -18.5h0m-4.4 18.0h0m13.4 -19.5h0m-23.5 14.5h0m22.0 -20.6h0m3.3 18.5h0m-6.7 -2.9h0m-15.4 20.4h0m21.3 -23.5h0m-21.9 27.4h0m3.3 -24.9h0m9.6 -2.9h0m-6.3 -3.5h0m1.9 4.0h0m-6.8 6.8h0m0.6 0.3h0m5.0 -7.3h0m3.2 15.3h0m2.6 -11.9h0m-7.9 22.0h0m23.3 -31.3h0m-17.7 15.8h0m8.7 -26.0h0m5.9 -0.9h0m-12.2 21.5h0m16.8 -3.2h0m-15.2 14.8h0m-3.3 -20.8h0m-10.2 21.7h0m10.2 -11.6h0m3.3 3.4h0m-3.4 5.8h0m10.8 -14.3h0m-1.3 0.1h0m-14.1 14.3h0m9.7 -4.4h0m-15.9 -0.7h0m18.8 -13.7h0m-8.4 2.9h0m14.3 -14.5h0m-12.2 10.9h0m-12.4 13.9h0m2.3 -7.4h0m12.0 14.7h0m0.6 -28.5h0m-0.5 -2.0h0m-18.3 30.0h0m20.7 -11.2h0m7.1 4.4h0m-9.2 -1.8h0m0.4 -21.2h0m-0.7 18.9h0m-6.0 13.1h0m9.1 -34.1h0m2.5 15.3h0m-22.7 29.1h0m15.6 -32.5h0m-14.6 30.5h0m9.6 -4.1h0m-6.7 -19.8h0m16.9 -16.7h0m-12.3 11.0h0m12.4 0.0h0m-22.9 24.2h0m27.5 -34.8h0m-16.2 25.8h0m7.2 -7.0h0m-5.1 -7.0h0m-0.4 -5.9h0m3.2 -3.6h0m15.1 10.9h0m-5.2 0.6h0m-12.8 -2.4h0m15.2 8.4h0m-11.6 -17.6h0m-7.0 28.4h0m-6.1 5.4h0m19.0 -26.6h0m-16.3 14.3h0m3.4 -8.4h0m3.3 21.1h0m2.4 -12.1h0m14.2 -27.2h0m-14.7 26.1h0m-11.9 -2.5h0m6.2 -9.1h0m-4.2 4.7h0m-4.4 25.1h0m10.5 -30.0h0m-4.0 26.8h0m2.3 -29.4h0m1.1 16.8h0m-10.4 10.2h0m22.1 -35.8h0m-22.2 45.8h0m19.9 -31.9h0m9.1 1.2h0m-19.2 11.2h0m-6.5 -8.2h0m23.0 -15.8h0m-25.2 40.1h0m20.0 -11.2h0m-4.9 -3.2h0m-11.0 12.0h0m16.9 -17.8h0m-21.4 11.5h0m5.3 -12.8h0m21.2 -2.1h0m-12.1 13.3h0m2.6 -19.4h0m6.8 -16.8h0m0.5 17.0h0m-24.5 26.2h0m13.6 -5.6h0m19.5 -19.9h0m-12.2 -8.7h0m-7.8 1.9h0m20.1 -0.8h0m-9.7 3.4h0m1.3 6.1h0m-0.3 -3.6h0m-24.3 22.0h0m24.4 -17.7h0m1.9 -5.2h0m-21.7 25.3h0m19.0 -31.4h0m-13.0 21.9h0m12.8 -17.7h0m-19.0 7.2h0m20.4 5.9h0m-15.3 7.8h0m-3.2 7.7h0m15.8 -24.7h0m-13.8 23.8h0m9.7 -36.1h0m5.8 26.9h0m-14.1 -19.7h0m15.0 -11.8h0m3.4 3.4h0m-14.1 14.8h0m9.7 9.2h0m-8.1 -7.2h0m-11.2 4.6h0m-1.3 16.5h0m-1.1 8.4h0m8.8 -36.2h0m-1.1 28.8h0m14.9 -25.1h0m-5.8 7.9h0m-18.1 12.7h0m3.3 -8.9h0m22.4 -1.6h0m-10.3 -15.4h0m-5.2 13.2h0m-7.1 -5.4h0m18.4 -13.8h0m-19.8 18.8h0m10.1 10.5h0m-2.2 -17.1h0m23.0 -3.6h0m-8.3 12.1h0m-26.8 10.0h0m2.3 1.1h0m16.7 -26.7h0m14.6 13.1h0m-9.1 -3.7h0m-0.3 -14.9h0m-17.2 16.9h0m7.6 9.6h0m5.7 -0.8h0m-2.2 4.9h0m8.0 -35.2h0m-15.5 29.7h0m0.7 5.3h0m8.6 -34.8h0m-3.9 36.0h0m0.9 -10.6h0m7.7 -7.4h0m3.7 0.0h0m0.4 -0.1h0m-1.8 -9.2h0m-8.1 -1.9h0m13.4 17.4h0m-2.8 1.1h0m-10.3 -22.1h0m-0.3 7.2h0m10.2 17.0h0m2.6 -15.7h0m-29.9 23.1h0m-2.1 4.6h0m25.0 -12.7h0m4.3 -5.3h0m-23.0 15.0h0m-2.5 3.1h0m-3.7 6.3h0m31.8 -42.5h0m-21.7 31.1h0m15.9 -8.7h0m-22.7 7.5h0m22.4 -7.5h0m0.5 -5.4h0m-21.1 -0.2h0m4.3 13.8h0m0.4 6.6h0m1.0 -13.0h0m22.4 -19.8h0m-0.1 1.4h0m-17.8 20.2h0m14.0 -16.5h0m-25.8 13.9h0m0.6 0.5h0m-0.9 18.9h0m14.7 -34.6h0m-11.3 36.4h0m20.6 -18.1h0m6.3 -19.7h0m-6.7 7.3h0m-6.7 -14.3h0m-11.9 16.6h0m0.9 -1.5h0m-0.9 9.1h0m11.2 7.3h0m-0.5 2.4h0m-7.0 -27.0h0m-0.1 11.3h0m-5.1 -0.7h0m19.5 9.8h0m-6.0 -12.8h0m3.9 4.0h0m-1.3 -19.5h0m5.4 21.4h0m-6.1 -7.8h0m-20.2 20.8h0m10.4 -11.5h0m-7.6 22.8h0m20.4 -20.9h0m-17.4 6.2h0m11.5 -28.2h0m16.1 8.3h0m-31.2 10.9h0m11.3 7.6h0m-3.4 -3.1h0m22.0 -6.2h0m-0.3 -14.6h0m-18.6 -1.0h0m10.8 22.4h0m-19.4 5.3h0m-3.9 3.5h0m20.9 -34.9h0m-18.9 45.1h0m4.2 -31.5h0m1.5 4.0h0m10.1 10.7h0m4.8 -28.5h0m4.2 7.0h0m-11.3 -5.8h0m1.1 10.1h0m-8.0 20.6h0m21.8 -17.7h0m-2.0 -6.3h0m-28.2 18.2h0m24.1 -14.2h0m10.3 1.8h0m-15.3 5.4h0m8.0 -1.5h0m-4.1 -11.3h0m-19.4 40.3h0m-0.9 -8.6h0m16.1 -23.1h0m-2.2 19.6h0m5.8 -25.5h0m-24.4 33.1h0m16.9 -20.5h0m1.9 -16.4h0m-4.1 3.2h0m12.4 -1.6h0m0.2 -5.9h0m-1.9 23.9h0m-3.6 -19.4h0m6.2 9.5h0m-28.0 14.9h0m22.7 -32.4h0m-3.1 9.0h0m-6.0 26.4h0m-6.5 -9.4h0m-0.6 -7.0h0m26.4 -4.2h0m-26.2 24.3h0m-0.4 -18.3h0m28.4 -8.0h0m-15.4 -2.0h0m-10.4 5.2h0m8.5 -8.4h0m-2.6 -3.8h0m3.3 23.4h0m8.7 -23.2h0m-19.7 16.1h0m3.5 2.7h0m-3.0 6.6h0m18.1 -15.3h0m-7.8 21.0h0m-19.0 8.6h0m2.8 -4.4h0m18.0 -35.7h0m-1.5 7.6h0m-8.4 16.1h0m3.9 -20.3h0m9.3 23.3h0m-0.1 -16.5h0m-4.9 21.2h0m-8.4 -3.8h0m12.0 -23.5h0m-16.4 35.5h0m6.9 -35.7h0m19.4 12.3h0m-14.1 16.0h0m-5.0 -16.7h0m13.1 10.5h0m-6.2 4.3h0m-7.5 -22.4h0m7.8 10.0h0m-3.5 4.9h0m-9.6 -2.8h0m-0.1 6.6h0m18.9 -20.3h0m1.1 18.6h0m-8.3 7.6h0m0.3 -18.5h0m-14.3 1.7h0m-1.5 7.8h0m13.2 3.7h0m-4.6 2.9h0m13.3 -15.4h0m5.6 -11.4h0m-23.7 14.2h0m-6.8 25.9h0m18.8 -12.8h0m-16.2 -4.4h0m19.0 -27.6h0m-16.7 41.7h0m-1.2 5.3h0m8.4 -7.8h0m-0.8 -15.7h0m5.2 8.8h0m16.4 -27.0h0m-29.2 19.8h0m13.0 -1.4h0m-16.2 10.2h0m3.6 -11.5h0m15.9 -17.0h0m-18.8 29.6h0m-0.3 2.0h0m-0.1 -6.7h0m28.9 -19.7h0m6.3 2.0h0m-27.6 31.8h0m21.5 -20.7h0m-8.4 -1.2h0m-7.1 4.1h0m19.6 -17.2h0m-19.3 -5.2h0m3.7 21.3h0m15.3 -12.0h0m-17.7 -1.0h0m17.8 -4.1h0m-15.9 -4.2h0m5.9 14.4h0m-6.2 -14.2h0m3.4 10.2h0m-17.8 17.7h0m5.2 -15.5h0m6.6 9.9h0m11.9 -8.9h0m7.0 -13.3h0m-7.6 14.2h0m-1.0 4.8h0m-7.1 -1.7h0m-15.6 18.1h0m12.8 -32.5h0m9.1 16.8h0m-11.8 -17.2h0m-6.8 15.3h0m-0.5 18.7h0m-2.7 -18.4h0m9.6 15.0h0m5.1 -34.1h0m-4.3 13.0h0m-9.5 2.0h0m3.5 4.3h0m14.4 -7.8h0m-5.0 13.9h0m12.6 -21.5h0m-25.4 13.0h0m15.7 -15.3h0m9.2 -8.6h0m-1.7 30.7h0m-3.0 -18.0h0m-21.2 32.1h0m21.0 -26.6h0m-15.8 13.6h0m20.0 -3.0h0m-28.2 8.7h0m0.9 12.1h0m5.8 -9.2h0m21.2 -30.1h0" stroke="#f28080" stroke-width="1.05" stroke-linecap="round" fill="none"/>
<path d="M344.0 90.0h0m4.0 3.0h0m4.0 3.0h0m-6.0 3.0h0m-6.0 5.0h0m3.0 4.0h0m-6.0 -6.0h0m13.0 -2.0h0m-17.0 -8.0h0m-3.0 8.0h0" stroke="#f08888" stroke-width="1.0" stroke-linecap="round" fill="none"/>
<path d="M333.8 110.5h0m-0.5 3.8h0m1.2 0.4h0m-0.3 0.1h0m0.8 -0.8h0m-1.2 0.7h0m1.5 -2.0h0m-0.5 0.3h0m-2.0 0.0h0m1.5 -0.3h0m1.3 1.6h0m-1.6 0.0h0m-1.1 -1.8h0m2.3 2.9h0m-1.8 -2.1h0m1.1 2.3h0m-2.9 -0.8h0m2.0 -1.5h0m-1.6 0.6h0m0.8 -0.2h0m0.9 -3.1h0m-1.2 5.1h0" stroke="#78b0e4" stroke-width="1.05" stroke-linecap="round" fill="none"/>
<path d="M450.6 56.8h0m6.1 -13.6h0m-2.8 -1.0h0m1.6 -11.8h0m0.4 16.6h0m0.3 0.0h0m2.6 -6.0h0m-3.2 2.3h0m-2.3 4.1h0m2.1 -6.3h0m-2.9 4.5h0m2.1 -6.9h0m-2.7 51.0h0m-2.8 -21.3h0m10.2 -26.6h0m-8.1 13.3h0m0.3 4.8h0m2.5 -22.9h0m4.9 -6.6h0m2.8 6.8h0m-3.0 3.1h0" stroke="#c8dcc0" stroke-width="0.9" stroke-linecap="round" fill="none"/>
<path d="M490.0 44.6h0m-0.1 4.1h0m-50.5 19.3h0m17.0 -2.8h0m-36.7 0.6h0m84.1 16.9h0m-11.7 -13.8h0m10.5 16.0h0m-9.7 11.4h0m-44.5 -7.1h0m45.4 -13.2h0m-2.2 -26.5h0m-74.4 24.0h0m22.8 34.3h0m55.5 -26.0h0m0.3 -11.2h0m-28.1 -20.5h0m-21.2 12.5h0m52.5 3.7h0m-5.2 -2.7h0m6.5 12.6h0m-20.6 -40.3h0m-17.3 21.1h0m2.7 14.8h0m-21.4 24.6h0m38.8 -13.6h0m-26.4 -22.4h0m35.9 27.0h0m-40.0 -48.1h0m42.2 44.1h0m-16.9 -14.1h0m-20.0 -18.0h0m-23.4 35.4h0m5.6 -55.9h0m55.1 56.9h0m-24.8 -37.5h0m-27.6 -12.8h0m-1.9 25.7h0m18.7 12.2h0m24.8 17.7h0m-11.1 -34.8h0m-47.4 -10.3h0m63.7 40.6h0m2.4 -34.8h0m-16.4 9.8h0m12.8 22.7h0m5.3 -35.0h0m-21.1 -6.9h0m4.1 7.7h0m-5.2 -11.2h0m-35.2 65.1h0m12.3 -67.8h0m43.3 34.0h0m-19.7 -16.0h0m-35.7 27.9h0m9.5 8.5h0m26.5 -40.9h0m2.9 -16.8h0m19.5 13.6h0m-42.9 32.2h0m-10.5 -11.2h0m54.6 -19.4h0m-5.7 -4.8h0m-42.1 38.9h0m35.5 17.4h0m12.7 -42.1h0m-30.0 -16.8h0m30.0 30.5h0m-14.7 -23.0h0m20.3 26.4h0m-10.8 4.3h0m-4.0 -18.0h0m-61.6 13.1h0m33.7 -18.6h0m28.8 10.0h0m-10.0 14.3h0m-30.5 -42.8h0m25.2 13.3h0m-14.3 25.5h0m-14.0 -42.6h0m36.9 17.7h0m-7.4 31.0h0m0.3 -8.3h0m8.8 -11.3h0m4.4 0.9h0m-6.2 19.5h0m-17.0 -5.5h0m3.7 -8.2h0m-16.1 -30.4h0m0.9 50.4h0m44.3 -11.4h0m-8.6 -5.7h0m-5.3 -31.9h0m-4.5 31.9h0m-42.8 -29.2h0m39.1 16.0h0m-2.5 2.0h0m-36.5 24.2h0m16.5 -26.4h0m38.3 1.1h0m-34.8 2.2h0m40.5 -10.3h0m-54.0 33.9h0m63.8 -17.6h0m-8.5 15.3h0m-17.6 -23.5h0m-24.9 12.8h0m24.6 4.0h0m-4.2 -43.3h0m26.9 23.1h0m-49.5 -0.4h0m37.8 26.9h0m-9.7 -15.2h0m-32.2 -1.5h0m9.8 7.2h0m-25.4 -11.0h0m46.4 -6.1h0m-17.0 17.2h0m-1.3 -15.6h0m25.1 -16.6h0m-44.2 43.7h0m50.5 -0.5h0m1.3 -7.6h0m-11.7 -23.6h0m13.7 25.0h0m-1.9 -20.6h0m-13.5 -22.6h0m2.8 50.9h0m-9.2 -7.0h0m-6.5 -4.4h0m-16.2 9.4h0m19.1 -36.2h0m17.0 7.5h0m-26.1 -7.7h0m12.8 13.4h0m-7.1 -2.0h0m30.4 2.6h0m-33.3 -22.6h0m-51.5 22.1h0m86.2 -8.4h0m-65.6 12.8h0m36.5 -26.9h0m4.0 14.5h0m-0.2 -12.7h0m-20.3 -9.4h0m-22.8 64.8h0m42.7 -29.7h0m1.9 13.7h0m4.4 -38.4h0m-21.9 -13.5h0m32.4 16.4h0m-77.7 26.5h0m10.8 -4.4h0m68.5 16.3h0m-47.1 3.0h0m27.7 -49.0h0m7.8 6.4h0m-10.2 32.5h0m22.9 -19.4h0m-23.2 -9.0h0m-12.9 17.9h0m10.1 -12.8h0m4.1 -14.4h0m0.6 46.5h0m27.6 -26.8h0m-9.2 -9.1h0m9.1 34.6h0m-47.4 -48.3h0m44.6 22.8h0m-39.7 4.8h0m25.6 5.9h0m-14.4 12.6h0m-36.7 -38.5h0m55.8 13.6h0m-20.2 -22.4h0m31.9 48.2h0m1.5 -19.0h0m-43.4 -5.4h0m35.8 0.2h0m4.8 -1.9h0m5.7 27.1h0m-32.9 2.0h0m-0.9 -39.4h0m27.5 28.3h0m-22.6 10.5h0m-15.9 -20.4h0m9.8 1.1h0m29.9 -0.7h0m-17.6 0.7h0m11.6 -0.3h0m-29.5 0.5h0m-30.1 19.9h0m40.3 -19.8h0m11.1 -7.2h0m-33.2 -17.2h0m4.1 21.1h0m29.6 -8.2h0m1.1 27.2h0m-32.9 -52.9h0m23.8 39.4h0m10.2 0.4h0m-24.1 13.1h0m-10.0 -15.6h0m34.7 26.0h0m-47.0 -35.7h0m49.3 -0.1h0m-3.5 30.4h0m-21.2 -49.6h0m5.0 14.6h0m7.0 17.1h0m-16.8 12.6h0m12.9 -32.8h0m4.6 31.9h0m-31.8 -51.3h0m2.8 35.7h0m4.8 1.8h0m38.5 20.9h0m-17.4 -6.5h0m12.2 -6.7h0m6.1 1.6h0m-23.2 0.2h0m27.5 -26.1h0m-26.6 38.5h0m26.1 -8.0h0m-52.0 -11.9h0m33.0 -22.1h0m-28.7 44.4h0m12.6 -33.7h0m-4.9 35.2h0m-1.3 -14.9h0m21.7 2.8h0m23.1 6.8h0m-5.0 3.5h0m-48.8 3.2h0m8.8 -28.1h0m49.8 14.2h0m-49.0 -20.3h0m26.5 10.1h0m17.5 9.7h0m-26.7 -16.3h0m-22.6 10.9h0m16.0 9.0h0m-14.7 -40.7h0m35.1 5.3h0m-5.3 -10.1h0m-9.5 49.4h0m-0.5 -9.9h0m12.7 12.2h0m-68.3 -16.3h0m53.1 -34.9h0m-50.9 19.6h0m37.8 2.3h0m12.6 -14.7h0m11.1 15.6h0m-5.2 -29.0h0m-20.5 49.2h0m23.4 -6.3h0m-24.7 -15.0h0m41.0 -0.4h0m-23.8 -14.5h0m-10.7 57.9h0m-3.8 -21.4h0m38.1 -6.6h0m-56.3 -20.3h0m44.1 -9.4h0m-15.6 1.6h0m-41.7 -0.2h0m77.3 16.5h0m3.3 14.3h0m-0.9 -19.1h0m-52.5 -14.6h0m37.7 6.4h0m-36.2 7.4h0m19.8 13.8h0m5.9 2.2h0m1.1 -10.4h0m-41.8 22.5h0m25.5 -17.3h0m14.2 2.8h0m12.4 -25.9h0m-27.1 9.9h0m22.4 -9.2h0m-9.2 0.6h0m-32.3 36.1h0m49.7 -33.6h0m-16.5 19.7h0m16.2 -18.9h0m-24.8 11.9h0m6.1 11.4h0m-1.0 -31.9h0m-38.5 15.4h0m36.7 -7.0h0m16.8 6.4h0m10.4 19.0h0m-33.8 -14.7h0m-4.7 -13.5h0m0.1 28.2h0m-4.9 11.3h0m29.8 -39.2h0m-41.7 13.1h0m29.1 16.6h0m-9.4 25.4h0m-17.2 -17.7h0m54.2 -29.1h0m-14.5 23.7h0m-25.9 2.0h0m-18.7 -39.2h0m47.0 42.7h0m-3.5 -14.9h0m-8.8 -4.7h0m15.4 3.6h0m2.4 17.3h0m-8.4 -10.6h0m5.9 -4.6h0m-46.0 15.9h0m1.0 -46.3h0m27.5 19.4h0m5.1 -1.2h0m-5.7 24.5h0m2.1 -50.4h0m-36.8 31.7h0m57.3 -8.6h0m-46.4 -20.5h0m27.5 26.1h0m-19.8 37.3h0m14.7 -37.8h0m-31.4 2.1h0m21.3 -16.1h0m-4.5 0.3h0m8.0 9.0h0m31.5 11.8h0m-0.6 17.1h0m-61.1 -4.4h0m36.4 -25.3h0m-10.8 -10.7h0m42.2 40.1h0m-57.0 2.8h0m20.4 -17.7h0m-10.2 -39.9h0m37.6 55.8h0m-54.6 9.8h0m25.9 -9.3h0m19.8 -11.8h0m-4.3 -20.1h0m-23.2 30.5h0m0.5 -9.4h0m48.6 -0.6h0m-13.2 19.7h0m-13.4 -45.1h0m26.9 25.0h0m-77.3 -0.2h0m53.5 -22.5h0m6.1 23.4h0m-9.0 6.3h0m22.9 -16.8h0m-6.0 14.3h0m1.0 -20.1h0m-64.9 23.1h0m39.3 -13.1h0m-12.9 -16.1h0m-20.8 -19.3h0m43.8 41.7h0m-31.4 -37.5h0m52.6 41.2h0m-17.4 2.5h0m10.1 -15.3h0m-53.4 -8.3h0m34.8 6.3h0m-24.7 -23.9h0m53.0 38.8h0m-26.4 -3.8h0m8.0 5.1h0m-10.5 -28.4h0m-10.2 -4.8h0m4.4 20.8h0m5.2 -20.4h0m-5.2 4.6h0m-21.9 45.3h0m13.2 -35.5h0m14.6 -9.8h0m-3.7 21.7h0m-5.8 -11.7h0m33.3 21.1h0m-67.6 -16.9h0m20.8 15.5h0m25.2 -40.9h0m-20.3 5.6h0m16.4 22.6h0m-1.0 10.3h0m-6.1 -15.1h0m-33.1 22.6h0m17.3 -16.7h0m-16.6 -16.3h0m2.3 30.3h0m52.2 -14.8h0m-36.3 29.4h0m4.4 -22.7h0m-21.0 -17.9h0m26.7 -12.8h0m-11.5 36.9h0m11.6 -30.5h0m5.1 -2.8h0m-7.8 19.2h0m-20.2 1.9h0m6.1 -3.8h0m-2.6 21.3h0m40.8 -25.6h0m17.2 2.5h0m-51.8 -31.8h0m39.4 29.8h0m-53.2 2.9h0m34.3 -21.7h0m-10.0 -0.9h0m-9.4 -5.1h0m-15.4 24.9h0m45.6 -14.6h0m-33.7 18.3h0m46.9 -3.9h0m6.8 -6.2h0m-44.6 52.2h0m26.7 -41.1h0m-18.1 5.1h0m29.6 -11.2h0m-36.2 8.9h0m0.2 8.3h0m-13.5 -16.3h0m-29.8 12.7h0m35.0 -37.5h0m11.3 32.8h0m24.1 8.7h0m-21.4 -30.7h0m-3.2 -1.2h0m-12.5 12.5h0m12.7 20.6h0m42.2 -1.0h0m-56.0 -13.2h0m4.6 -5.5h0m-9.5 -18.0h0m24.9 39.9h0m4.6 0.3h0m-0.8 -28.1h0m22.3 2.2h0m-5.1 -6.6h0m-17.9 39.8h0m8.4 -11.5h0m0.0 -34.8h0m-4.5 29.1h0m-4.4 -21.2h0m1.4 -9.9h0m27.0 44.7h0m-44.1 -53.7h0m14.0 19.4h0m-15.8 -21.2h0m0.9 -3.7h0m36.3 30.3h0m-33.3 7.7h0m41.5 -12.2h0m0.6 22.5h0m-26.8 -41.1h0m-19.4 21.6h0m3.1 5.8h0m-0.0 18.0h0m23.2 -40.6h0m19.2 41.7h0m-25.5 -29.0h0m-37.3 33.9h0m26.9 -3.1h0m23.5 -11.1h0m-8.9 -14.6h0m2.6 -13.9h0m15.1 20.4h0m-12.8 -22.3h0m-17.4 30.0h0m1.3 -22.6h0m-31.0 -9.3h0m22.3 8.1h0m34.3 17.5h0m3.0 -17.3h0m-8.6 6.4h0m-38.2 12.9h0m-0.5 -22.7h0m-0.7 44.6h0m38.9 -41.9h0m-25.9 35.5h0m28.6 -9.2h0m12.4 -1.2h0m-30.4 -30.9h0m-14.6 -8.6h0m27.1 18.6h0m-6.4 19.2h0m-15.0 10.0h0m6.0 -4.3h0m26.9 -1.3h0m-12.2 -31.3h0m-37.6 14.8h0m38.4 11.7h0m-34.0 -10.0h0m1.7 26.6h0m11.7 -46.5h0m6.9 46.0h0m-12.0 -13.0h0m29.3 11.2h0m9.8 -34.1h0m-41.9 46.5h0m-0.2 -35.7h0m17.0 3.4h0m-20.2 -23.8h0m13.8 41.8h0m14.0 -39.5h0m-5.8 12.7h0m5.9 -2.5h0m-22.5 8.6h0m25.2 -7.8h0m-26.8 12.8h0m13.2 3.0h0m7.2 -2.8h0m3.8 -27.8h0m6.7 3.3h0m-21.1 6.5h0m15.7 17.9h0m8.2 8.9h0m5.9 -13.9h0m-26.1 2.6h0m-16.0 -26.2h0m29.6 5.0h0m-41.1 18.9h0m20.0 -7.0h0m-9.2 11.9h0m23.2 -28.0h0m15.6 33.0h0m1.6 2.9h0m-24.3 -33.4h0m23.0 9.4h0m-17.0 20.3h0m-28.8 -37.2h0m17.2 41.3h0m27.9 -13.1h0m8.3 -6.6h0m-9.2 16.9h0m-15.2 -28.0h0m0.5 29.5h0m18.4 -4.7h0m-34.8 -3.6h0m10.0 8.2h0m21.8 -26.1h0m-30.8 63.5h0m40.1 -52.4h0m-3.0 29.0h0m-16.8 -7.2h0m-23.6 -12.5h0m36.0 -15.0h0m-43.3 -14.5h0m-3.0 56.6h0m17.7 -9.1h0m23.9 -7.4h0m-53.9 15.9h0m47.5 -24.6h0m-15.5 -8.5h0m-17.1 7.3h0m39.5 -12.3h0m-33.2 7.7h0m49.1 -6.3h0m-13.7 18.2h0m-23.7 -35.8h0m1.8 42.7h0m-25.3 -15.6h0m14.3 -17.6h0m-29.4 -1.8h0m28.4 15.4h0m-0.9 9.5h0m16.9 -9.8h0m9.2 -24.5h0m8.1 24.0h0m4.9 -4.4h0m4.4 28.1h0m-33.5 -43.5h0m30.1 42.3h0m-21.3 -19.1h0m-17.4 -2.8h0m17.0 -0.9h0m27.9 0.3h0m-44.9 3.2h0m6.0 21.5h0m-29.4 -0.3h0m6.4 10.2h0m26.7 -13.0h0m-18.8 -48.3h0m49.1 39.8h0m-66.1 -28.7h0m28.6 24.6h0m45.8 6.5h0m-26.9 -15.8h0m-1.2 18.9h0m19.4 4.6h0m-2.0 -27.8h0m-57.7 -0.3h0m26.9 19.9h0m32.6 -15.4h0m-32.6 -1.6h0m39.5 15.3h0m-47.9 -16.6h0m14.4 14.1h0m21.0 -26.0h0m-19.6 5.5h0m14.8 24.6h0m-32.5 -17.7h0m34.1 5.0h0m-22.5 -29.0h0m-1.5 17.0h0m-19.9 15.9h0m41.9 -7.6h0m-40.3 7.2h0m46.7 -6.0h0m4.9 19.0h0m-24.7 -20.6h0m-44.7 40.4h0m30.6 -18.8h0m-25.6 -43.1h0m52.9 29.0h0m13.4 20.1h0m-54.6 -20.8h0m3.6 21.7h0m-1.7 -22.7h0m37.1 -14.3h0m-14.4 -3.2h0m6.7 23.1h0m-14.7 11.7h0m-16.0 8.3h0m56.4 -9.9h0m-10.5 -15.8h0m-26.3 -26.9h0m-8.4 -11.5h0m29.4 52.6h0m15.9 -10.8h0m-21.5 11.9h0m-41.2 4.1h0m58.9 5.6h0m-19.5 -23.7h0m-7.1 6.0h0m8.7 -22.3h0m22.9 22.9h0m-44.3 -3.0h0m28.4 -9.4h0m-5.6 -21.4h0m-24.9 22.9h0m3.8 -14.6h0m-22.5 16.7h0m59.5 -9.1h0m-73.8 2.0h0m40.4 -20.1h0m23.8 47.3h0m-27.5 -18.4h0m32.6 -5.1h0m-47.6 27.6h0m30.4 -2.7h0m15.2 -12.8h0m-41.8 -8.9h0m27.1 -2.8h0m24.3 -1.2h0m-37.5 -8.4h0m17.4 1.6h0m10.7 29.4h0m-11.5 -23.6h0m-48.0 36.5h0m50.0 -40.0h0m-4.5 -12.1h0m-8.7 11.6h0m36.4 8.2h0m-16.7 -18.7h0m-28.3 10.1h0m33.6 6.0h0m-15.7 2.4h0m-4.3 -26.1h0m25.6 40.0h0m-7.6 16.8h0m13.0 -19.5h0m-24.0 6.0h0m8.6 5.2h0m-10.6 -22.1h0m11.0 21.7h0m5.4 3.2h0m-38.2 -15.1h0m24.0 -29.6h0m1.5 22.0h0m1.5 14.2h0m-5.7 -11.2h0m-3.5 16.1h0m13.6 -4.8h0m3.8 -10.8h0m10.5 -9.9h0m-18.7 -5.4h0m0.2 -3.3h0m10.6 7.2h0m-28.8 21.5h0m37.3 -23.1h0m-4.0 22.3h0m-29.0 -28.8h0m15.6 -6.3h0m14.3 6.7h0m-23.5 23.5h0m23.4 -18.0h0m5.6 20.4h0m-13.1 -7.3h0m-45.6 -1.7h0m41.2 -1.3h0m-37.0 -28.9h0m50.1 47.4h0m-56.2 -28.4h0m31.7 15.2h0m-25.7 -12.3h0m53.2 15.3h0m-59.8 11.4h0m34.1 -41.5h0m-31.8 41.5h0m27.8 -5.9h0m-36.0 -14.6h0m34.8 -6.2h0m0.5 19.6h0m-1.4 -30.1h0m0.7 -7.1h0m16.1 46.0h0m-14.0 -50.0h0m-9.2 6.5h0m-10.0 41.9h0m49.2 -12.2h0m-34.8 -26.8h0m9.9 12.2h0m-8.1 4.8h0m-11.6 13.2h0m-40.6 -9.5h0m78.3 11.4h0m-9.7 -24.5h0m4.9 2.5h0m-35.3 -32.3h0m10.5 39.0h0m12.5 -0.1h0m3.7 4.3h0m-41.8 -4.4h0m11.2 4.6h0m21.6 -4.6h0m-19.3 -31.1h0m23.1 28.9h0m13.2 11.9h0m-36.2 -8.5h0m-4.0 -32.9h0m19.7 40.6h0m4.9 2.2h0m24.5 -12.9h0m-59.2 29.9h0m-3.5 -58.4h0m31.6 34.3h0m-22.7 -26.5h0m16.7 30.0h0m-14.8 -26.8h0m4.1 -6.2h0m-19.2 43.4h0m1.6 12.9h0m28.1 -15.1h0m-23.7 23.1h0m29.4 -38.8h0m-18.5 28.7h0m53.6 -31.0h0m-70.7 29.1h0m22.5 -17.6h0m5.1 1.8h0m6.6 10.8h0m-21.4 -29.5h0m31.0 -9.8h0m-5.9 34.7h0m-7.2 -30.6h0m16.5 -12.3h0m-36.8 17.8h0m35.6 -11.4h0m-1.4 32.7h0m24.9 -18.6h0m-33.3 22.5h0m-8.7 -38.8h0m-13.5 -1.1h0m49.5 35.8h0m-42.9 -54.3h0m47.2 41.1h0m-31.9 -6.1h0m2.3 14.6h0m31.6 5.8h0m-61.1 -15.1h0m58.1 8.5h0m-5.9 -16.3h0m-10.0 2.1h0m-48.9 -4.7h0m12.3 -7.8h0m24.5 4.1h0m4.1 13.7h0m2.1 12.1h0m-1.5 -6.1h0m2.5 -15.5h0m-33.0 37.8h0m1.9 -27.0h0m2.6 -23.8h0m24.9 -1.3h0m-13.3 29.8h0m23.7 9.7h0m-52.4 -21.1h0m59.3 38.1h0m-14.6 -58.4h0m-17.3 31.9h0m-8.3 2.6h0m38.3 2.4h0m-23.6 -21.1h0m-28.0 -8.4h0m31.2 14.5h0m-36.8 -1.1h0m21.2 -0.8h0m21.1 -19.0h0m11.2 29.7h0m-38.2 -27.2h0m42.1 16.2h0m-20.5 -13.6h0m26.2 45.3h0m-3.5 -20.2h0m10.4 1.4h0m-63.3 -26.5h0m24.4 6.3h0m2.8 -13.2h0m26.1 37.4h0m-48.7 -19.3h0m10.8 12.5h0m-0.3 -1.4h0m-16.6 -2.9h0m66.7 7.1h0m-48.2 -10.6h0m19.1 -15.9h0m-11.6 8.2h0m20.7 17.0h0m-18.5 -26.9h0m-30.8 45.2h0m37.6 -29.4h0m-19.0 -6.7h0m33.3 16.4h0m17.3 8.2h0m-41.5 -38.2h0m-34.9 60.1h0m5.5 -6.9h0m47.1 -9.7h0m-21.1 -23.2h0m-15.6 -19.1h0m32.5 44.0h0m-38.4 9.4h0m2.3 1.5h0m46.0 -44.1h0m-21.9 18.3h0m19.7 -0.3h0m18.8 -8.2h0m-2.0 -2.7h0m-25.9 18.6h0m-10.3 -35.2h0m19.4 47.7h0m-41.5 3.9h0m55.5 -29.7h0m-51.1 10.7h0m45.7 -10.4h0m-53.9 5.6h0m-19.6 -9.7h0m73.2 5.1h0m-7.4 18.8h0m-34.2 -13.3h0m22.5 5.1h0m-2.2 21.8h0m-3.7 -48.6h0m14.0 30.6h0m-10.7 -36.4h0m14.7 32.8h0m14.1 9.4h0m-17.6 -41.8h0m-15.9 15.6h0m-1.2 29.8h0m-22.4 4.6h0m28.8 -42.3h0m-29.7 15.4h0m-2.9 -34.2h0m54.2 46.8h0m-9.2 -35.3h0m-6.1 -6.1h0m-5.5 2.9h0m21.8 21.3h0m-19.0 15.7h0m-7.8 4.7h0m28.3 0.8h0m-26.4 -5.6h0m0.9 -26.6h0m-7.7 0.8h0m33.6 34.4h0m-14.4 -16.0h0m-28.2 5.3h0m7.9 -17.4h0m-1.4 5.8h0m12.1 -18.7h0m25.1 35.2h0m-14.4 -4.4h0m4.3 -6.2h0m-0.8 21.0h0m-57.9 -12.2h0m28.1 -15.9h0m29.6 12.9h0m-16.5 -2.3h0m-16.3 -8.1h0m5.8 -13.8h0m23.7 19.3h0m-48.9 0.0h0m28.6 -17.0h0m-29.9 47.4h0m29.7 -44.7h0m16.3 27.2h0m24.7 -5.4h0m-32.8 -24.5h0m-2.1 -9.4h0m-25.6 47.2h0m-2.2 -27.9h0m17.7 53.8h0m14.4 -53.1h0m22.5 12.1h0m-25.2 -15.2h0m-37.8 -24.5h0m54.8 44.1h0m-12.6 -21.1h0m16.9 11.0h0m-3.6 -12.4h0m-5.0 4.4h0m-4.1 -25.7h0m-14.3 15.0h0m-22.2 42.4h0m52.1 -30.0h0m7.0 16.0h0m-0.1 -7.9h0m-19.8 3.8h0m-0.7 -3.0h0m5.8 -6.0h0m-9.3 -9.5h0m21.7 9.3h0m-4.1 15.8h0m10.5 -11.0h0m-16.9 6.0h0m-4.0 -16.3h0m8.2 10.2h0m-27.5 9.1h0m13.3 -31.2h0m-7.1 5.1h0m-12.8 25.3h0m21.3 -32.5h0m14.4 39.1h0m-20.0 -21.5h0m-9.6 -14.9h0m11.3 -4.8h0m-22.7 11.3h0m29.9 -13.8h0m4.8 2.2h0m-53.7 -9.8h0m40.7 48.7h0m-22.5 -12.9h0m17.6 15.4h0m29.0 -20.5h0m-10.9 -13.0h0m-47.2 18.8h0m15.4 -9.6h0m-19.4 34.2h0m44.5 10.8h0m-0.6 -24.9h0m4.3 -33.4h0m18.9 14.6h0m-61.5 -25.6h0m32.9 34.0h0m6.8 23.1h0m-31.4 -1.1h0m-5.9 -25.9h0m13.9 -2.3h0m-42.5 9.9h0m25.5 -15.1h0m63.9 19.2h0m-57.5 12.7h0m37.6 -7.1h0m1.4 -33.0h0m12.9 5.8h0m-14.8 -9.9h0m-6.3 9.5h0m-2.3 -22.1h0m-10.2 35.7h0m22.2 -12.5h0m-11.2 -10.8h0m7.3 23.7h0m17.0 -5.7h0m-54.1 21.1h0m26.2 -11.7h0m13.8 -27.2h0m-37.5 22.7h0m18.7 -21.0h0m15.9 13.3h0m5.0 23.1h0m-30.8 -25.2h0m0.9 16.7h0m26.7 12.0h0m4.2 -29.4h0m-21.3 -9.1h0m32.6 14.0h0m-43.2 -2.9h0m2.6 -9.5h0m-8.3 -23.4h0m-23.9 16.4h0m50.4 20.4h0m-3.6 -20.8h0m21.4 48.3h0m-19.7 -29.2h0m18.2 -4.0h0m-47.4 -17.4h0m48.1 38.6h0m-24.8 -17.3h0m-15.0 6.3h0m43.1 -2.2h0m-17.6 2.9h0m-14.0 16.4h0m-28.6 -33.9h0m46.7 1.6h0m-14.0 18.5h0m20.8 4.8h0m-16.8 -0.3h0m27.6 -6.8h0m-15.7 2.3h0m-41.4 -7.8h0m56.7 12.9h0m-35.9 31.7h0m31.5 -23.4h0m-34.1 -24.2h0m4.5 -18.5h0m-50.3 24.1h0m70.0 -5.8h0m-39.4 -24.0h0m8.6 41.3h0m10.9 -4.2h0m-35.5 18.7h0m29.6 -49.1h0m-9.3 24.3h0m-11.2 1.4h0m31.6 -34.7h0m-34.2 59.2h0m41.1 -12.5h0m-11.3 -28.5h0m7.3 22.2h0m-17.0 -28.5h0m23.3 -3.4h0m-65.5 25.8h0m45.2 -21.2h0m-40.1 18.4h0m21.5 23.9h0m60.9 -17.9h0m-39.4 3.9h0m19.4 -10.6h0m-24.4 -15.2h0m25.7 26.0h0m-25.7 -0.5h0m10.4 -22.7h0m-8.7 -14.6h0m-27.8 52.0h0m36.1 -38.4h0m3.0 8.1h0m-25.2 -20.6h0m24.0 4.2h0m11.5 31.7h0m-2.4 -32.2h0m-47.9 25.0h0m44.3 -26.6h0m12.6 51.4h0m9.2 -37.0h0m-5.2 0.8h0m-3.0 27.1h0m-19.0 -0.4h0m-14.9 5.7h0m-32.0 5.9h0m20.8 -6.6h0m-11.8 -32.8h0m45.0 -3.1h0m-41.7 8.6h0m41.3 -16.4h0m12.1 17.0h0m-49.5 3.6h0m22.1 -23.7h0m-22.2 52.3h0m41.7 -50.2h0m9.2 16.1h0m-0.1 23.0h0m-32.9 -31.9h0m7.7 4.9h0m-15.8 2.9h0m35.8 26.4h0m-23.8 -3.4h0m15.6 -3.7h0m20.2 -6.0h0m-60.6 -12.5h0m58.6 7.9h0m-6.8 8.5h0m-8.7 -26.5h0m9.9 12.4h0m-40.2 -2.5h0m19.2 19.8h0m33.4 -7.5h0m-32.6 -16.1h0m-3.4 -4.2h0m1.0 59.5h0m3.1 -57.5h0m15.8 17.2h0m-36.2 10.5h0m6.7 -1.7h0m-12.1 -10.7h0m47.4 6.7h0m-46.3 -9.2h0m33.3 -22.7h0m-34.0 23.0h0m30.7 -3.5h0m-34.9 0.7h0m20.7 -3.8h0m5.8 0.3h0m29.0 29.0h0m-17.1 -27.8h0m-45.7 -2.2h0m19.5 0.2h0m12.2 17.2h0m-12.8 -24.5h0m26.3 -0.9h0m-1.4 2.4h0m10.2 -8.8h0m-29.3 57.1h0m-19.2 -10.6h0m36.3 9.4h0m-0.9 -46.8h0m28.3 12.8h0m-72.5 23.9h0m14.3 -52.8h0m26.4 1.6h0m-22.4 31.5h0m-4.3 16.4h0m36.3 -5.6h0m21.6 -10.9h0m-39.9 -29.2h0m-3.1 17.2h0m20.8 29.5h0m-5.1 -28.8h0m-36.2 2.3h0m36.6 -4.5h0m-8.2 5.8h0m27.0 21.2h0m-12.5 1.6h0m-37.7 -39.7h0m27.1 34.7h0m4.6 -41.8h0m-1.4 38.9h0m0.5 -11.7h0m-3.5 -20.5h0m-20.8 12.8h0m48.4 24.1h0m-39.2 -42.2h0m-3.4 17.0h0m-12.9 12.9h0m40.8 0.7h0m-21.4 -13.1h0m-19.6 32.7h0m37.9 -12.6h0m2.9 -35.3h0m-32.7 -13.5h0m11.8 42.2h0m26.0 -9.8h0m-1.8 -0.4h0m-40.0 -18.8h0m33.7 4.9h0m-22.5 10.8h0m23.0 15.2h0m-64.3 -13.9h0m70.7 -1.4h0m-40.2 -14.8h0m45.0 40.7h0m-9.6 2.7h0m-7.1 -16.3h0m0.5 -20.3h0m-17.4 17.8h0m28.9 -9.2h0m-7.0 13.2h0m-3.0 -15.6h0m-4.1 -21.7h0m-24.1 31.0h0m17.5 20.4h0m23.4 1.4h0m-43.7 -50.3h0m-11.8 25.7h0m40.0 -15.5h0m-16.1 33.4h0m-42.9 -3.8h0m67.9 7.7h0m13.2 -22.6h0m-25.8 17.8h0m-9.0 -30.1h0m17.2 19.1h0m-30.0 -8.0h0m23.9 18.9h0m-3.2 -17.5h0m-19.8 -9.1h0m29.8 32.3h0m18.6 -30.2h0m-23.4 -0.2h0m-5.9 -20.4h0m-34.9 57.5h0m39.0 -29.8h0m-1.6 8.4h0m-42.6 24.3h0m73.8 -24.2h0m-6.8 6.8h0m-43.8 -17.2h0m17.3 -18.2h0m-13.9 29.2h0m26.3 13.1h0m-36.9 0.8h0m-5.0 1.9h0m54.7 -11.1h0m-46.0 -44.9h0m41.2 54.6h0m-37.6 -10.8h0m-4.8 -42.6h0m36.3 12.8h0m-9.6 33.2h0m-35.1 -10.7h0m18.3 1.8h0m-8.4 24.0h0m31.4 -41.1h0m-21.3 23.2h0m15.8 -14.8h0m-2.2 -0.9h0m-2.1 30.6h0m-21.4 -2.2h0m22.8 -26.6h0m-5.4 7.3h0m14.2 13.8h0m14.8 -10.5h0m-47.4 16.8h0m35.6 -32.1h0m4.2 -8.0h0m6.1 23.2h0m-30.4 1.6h0m-0.3 -20.4h0m4.2 8.9h0m11.2 26.7h0m0.0 -14.9h0m3.9 -28.3h0m-45.8 61.7h0m29.6 -56.5h0m-3.0 32.3h0m40.0 -12.5h0m-18.3 -24.1h0m-27.9 33.1h0m34.0 -16.5h0m-33.2 12.4h0m-3.2 -9.9h0m40.7 -7.5h0m-17.8 0.8h0m-11.1 -16.6h0m5.5 11.0h0m-13.8 15.5h0m11.1 -3.7h0m-4.6 17.2h0m1.4 -20.7h0m-12.9 4.9h0m27.3 -6.1h0m-19.3 -16.1h0m-24.8 41.2h0m53.0 -37.1h0m-41.1 17.4h0m34.4 -11.7h0m-9.2 1.4h0m9.0 0.0h0m1.3 37.1h0m-42.0 -37.2h0m-2.6 -13.1h0m28.6 18.5h0m27.1 17.4h0m-4.5 -5.2h0m-18.9 3.1h0m2.6 -38.4h0m-36.0 48.3h0m51.8 -27.6h0m-3.6 -11.1h0m-22.6 5.5h0m-10.3 -6.6h0m-4.1 -22.6h0m3.5 43.8h0m-17.0 19.8h0m53.1 -18.6h0m0.9 -13.0h0m-8.4 3.0h0m-13.0 -4.8h0m25.2 6.3h0m-62.6 -3.1h0m21.0 43.9h0m-1.9 -36.6h0m17.1 -16.6h0m-10.0 21.4h0m12.9 -24.8h0m31.5 29.6h0m-57.0 10.5h0m17.6 -49.0h0m-9.7 40.5h0m16.5 -34.9h0m32.5 37.3h0m-62.3 -5.3h0m48.7 -10.5h0m3.2 6.0h0m-45.2 7.8h0m-10.6 10.3h0m26.7 -31.4h0m36.1 18.5h0m-17.9 -29.4h0m-16.7 29.7h0m12.9 11.1h0m-36.5 -22.5h0m-25.3 12.9h0m64.9 -13.0h0m-1.5 0.6h0m1.1 17.1h0m-11.2 -21.9h0m24.9 23.2h0m-26.1 -26.7h0m17.5 -1.4h0m-10.1 25.9h0m-10.9 -31.9h0m18.3 -6.9h0m-15.3 34.6h0m-12.2 9.4h0m15.7 -8.9h0m18.6 -17.9h0m-7.1 20.6h0m-18.0 -30.9h0m22.5 15.0h0m-0.8 10.6h0m-2.0 -30.9h0m15.8 14.6h0m-34.2 21.9h0m-7.0 -21.1h0m-15.7 25.6h0m27.4 -29.1h0m-4.1 -6.8h0m16.7 13.2h0m-38.9 2.9h0m48.2 -1.5h0m-37.0 19.6h0m12.3 -24.4h0m1.0 -16.8h0m22.1 23.7h0m-30.0 -27.1h0m8.8 -4.0h0m-23.2 33.3h0m-6.7 -8.8h0m7.7 38.0h0m9.9 -48.1h0m3.1 8.2h0m8.2 -18.7h0m-13.0 26.3h0m-10.7 -3.3h0m27.3 -17.1h0m0.6 27.3h0m11.2 5.2h0m-34.0 -35.7h0m21.7 17.2h0m16.4 19.5h0m-39.2 19.3h0m-33.4 -23.2h0m36.2 -17.2h0m-17.6 11.3h0m40.5 14.6h0m22.3 5.4h0m-8.2 -9.1h0m-14.5 -3.2h0m-34.9 -7.1h0m22.2 -13.5h0m24.8 29.1h0m-9.0 -23.5h0m-17.8 -8.9h0m2.1 31.5h0m-20.2 -14.1h0m9.9 14.9h0m29.0 -4.4h0m-12.8 -32.5h0m-36.4 40.8h0m17.1 -51.8h0m44.9 51.8h0m-12.7 -24.2h0m15.2 28.4h0m-43.0 -9.2h0m17.0 -41.1h0m-36.0 42.6h0m63.0 -22.6h0m-28.9 10.7h0m15.2 -26.0h0m-11.4 8.0h0m-37.2 3.8h0m61.6 -1.5h0m-4.6 3.6h0m-41.3 6.7h0m-2.2 25.5h0m25.3 -52.9h0m2.6 42.4h0m0.0 -44.6h0m-31.2 48.9h0m47.4 -0.2h0m-31.7 -5.1h0m-5.1 2.2h0m10.4 -42.5h0m5.9 42.6h0m18.7 -18.9h0m-38.9 -28.6h0m22.1 3.1h0m-6.4 30.1h0m-8.5 10.3h0m26.3 7.9h0m10.2 -12.9h0m-20.8 -34.3h0m11.6 60.1h0m-17.1 -27.1h0m-6.7 -16.3h0m-2.9 2.5h0m33.8 23.8h0m-9.5 -13.4h0m-4.3 -27.4h0m13.0 49.6h0m-6.3 -23.0h0m-23.0 -18.7h0m3.1 27.6h0m-26.2 -16.3h0m30.6 -9.0h0m3.5 14.9h0m-49.2 -19.2h0m50.2 -3.4h0m-24.0 36.3h0m-26.3 -34.9h0m49.9 10.8h0m-30.9 38.3h0m54.6 -12.4h0m-0.6 1.6h0m-37.5 -27.7h0m24.4 -11.1h0m-9.8 15.8h0m18.6 -11.1h0m-48.3 -12.1h0m51.5 47.1h0m-20.8 7.2h0m17.8 -27.6h0m-19.6 10.5h0m-2.9 7.6h0m6.8 -2.0h0m12.7 -16.6h0m-19.0 9.8h0m16.8 -24.7h0m7.0 25.8h0m-55.2 -13.3h0m-0.4 27.2h0m56.7 -28.0h0m-8.7 -15.0h0m6.0 46.9h0m1.2 -20.7h0m-13.7 -4.4h0m-23.1 5.7h0m-9.0 18.6h0m12.7 -24.9h0m17.6 -14.4h0m5.4 -4.8h0m0.4 38.0h0m10.5 -5.6h0m-43.2 -51.7h0m-40.5 45.8h0m53.7 -27.4h0m-26.5 44.4h0m40.8 -14.2h0m8.9 -18.9h0m-33.0 8.2h0m44.7 14.5h0m-36.2 -11.1h0m21.5 -6.3h0m-21.2 -10.6h0m-12.2 28.6h0m-13.4 12.4h0m32.4 -8.1h0m-2.0 -28.1h0m28.4 9.0h0m-62.6 28.5h0m39.5 -41.3h0m-12.1 -14.8h0m0.2 20.4h0m-22.2 28.7h0m50.9 -10.6h0m-22.0 -6.9h0m16.5 -16.1h0m-24.8 9.3h0m35.3 27.5h0m-29.5 -9.7h0m-14.5 -49.3h0m28.3 12.9h0m-3.3 37.2h0m-18.3 -24.7h0m20.9 -10.3h0m-16.1 1.3h0m6.7 -6.2h0m1.0 17.6h0m6.3 -4.2h0m-14.3 22.8h0m-16.7 -35.9h0m51.7 23.4h0m-89.1 -3.0h0m68.6 -12.1h0m-22.4 15.6h0m14.3 -27.7h0m14.4 41.1h0m-24.8 -34.1h0m38.0 28.0h0m-35.2 -16.1h0m35.9 0.6h0m-25.7 -19.1h0m0.6 22.0h0m2.8 23.9h0m-27.8 -47.1h0m17.0 1.0h0m-17.7 49.0h0m29.8 -45.1h0m-5.4 13.2h0m-7.6 -20.1h0m-11.4 -6.0h0m-2.5 56.7h0m40.1 -28.8h0m-4.5 -3.9h0m-40.2 8.7h0m22.8 17.8h0m-44.1 -4.3h0m51.7 -37.5h0m-22.7 23.3h0m-16.9 33.1h0m28.4 -18.0h0m-14.2 3.3h0m44.8 -7.7h0m-50.0 -31.4h0m-5.1 16.9h0m52.4 12.2h0m-65.9 -25.9h0m43.0 -5.4h0m-51.5 20.2h0m59.4 2.4h0m-22.4 53.5h0m31.4 -35.6h0m-17.9 -37.3h0m14.8 46.0h0m-71.9 -25.1h0m71.2 21.3h0m-41.7 6.6h0m-14.7 -2.0h0m38.6 -11.6h0m-16.9 -50.0h0m17.7 11.2h0m-10.9 -9.0h0m-10.2 30.8h0m5.0 -22.5h0m43.4 41.8h0m-27.1 -33.7h0m-24.8 -10.5h0m38.8 42.2h0m17.3 10.2h0m-20.4 -7.5h0m-28.3 -50.4h0m25.3 19.5h0m-33.6 6.1h0m9.8 13.2h0m49.5 -9.4h0m-24.6 -1.7h0m-7.6 22.6h0m-33.0 -18.5h0m41.7 23.0h0m-2.3 0.5h0m-9.3 0.5h0m29.2 -21.4h0m-81.3 5.5h0m62.5 -16.8h0m-13.5 35.4h0m38.9 -8.9h0m-42.6 -0.8h0m14.6 -7.0h0m-20.7 -37.9h0m6.1 45.5h0m-2.3 0.9h0m45.0 -15.3h0m-39.5 16.9h0m4.3 -48.1h0m-17.4 33.3h0m18.9 -4.3h0m-0.5 -1.6h0m32.6 15.4h0m-13.2 -7.3h0m-30.7 1.5h0m6.0 -12.8h0m7.7 -25.3h0m-0.6 23.1h0m6.3 -13.7h0m-7.1 45.4h0m16.1 -19.5h0m-24.3 10.0h0m26.8 -1.7h0m-11.4 -34.2h0m-37.7 16.4h0m23.3 23.6h0m6.9 -39.6h0m13.2 8.0h0m-43.3 44.0h0m49.2 -9.4h0m1.3 -9.6h0m-24.7 -1.5h0m35.6 10.9h0m-17.1 4.4h0m18.2 -6.6h0m-0.5 2.9h0m-28.5 -37.1h0m12.2 20.1h0m-42.7 1.7h0m42.1 -9.4h0m-25.1 -1.8h0m6.8 12.4h0m-1.2 0.3h0m-4.5 -0.9h0m40.8 4.4h0m-39.0 -27.5h0m2.6 -11.1h0m8.3 9.6h0m19.8 29.0h0m4.5 1.8h0m-12.4 -21.0h0m-16.6 -18.0h0m-12.4 56.8h0m30.3 -29.7h0m-49.8 19.4h0m23.1 29.1h0m-31.7 -48.9h0m6.4 2.7h0m24.2 -11.7h0m14.4 -5.4h0m-21.5 -7.7h0m21.6 4.5h0m-11.4 22.7h0m-4.6 40.4h0m-1.9 -43.6h0m10.2 -5.6h0m30.6 19.3h0m-43.2 4.2h0m-6.5 -43.4h0m55.9 21.4h0m-43.5 15.1h0m20.1 12.4h0m-34.1 -26.1h0m-10.1 -7.0h0m47.5 21.9h0m-13.6 -6.4h0m8.7 6.1h0m-2.1 -4.5h0m-41.3 -30.3h0m42.7 31.1h0m7.7 -32.5h0m-24.3 21.2h0m25.2 -2.9h0m-19.9 -16.4h0m13.5 38.9h0m2.1 -32.0h0m20.9 11.0h0m-55.9 28.6h0m-7.6 -59.1h0m2.7 56.3h0m5.7 -2.2h0m-2.6 -48.7h0m-13.6 59.9h0m29.9 -16.5h0m14.5 14.1h0m-13.7 -24.4h0m9.0 -31.4h0m18.3 11.5h0m-6.0 32.5h0m-70.0 -5.6h0m76.0 -10.0h0m-22.9 2.2h0m-27.2 -6.0h0m12.2 22.8h0m6.2 -36.7h0m-11.3 21.1h0m45.0 -17.3h0m4.3 28.2h0m-22.0 -20.2h0m5.8 6.5h0m-30.3 -25.0h0m45.0 21.6h0m-33.0 17.1h0m32.3 -16.4h0m-2.0 2.2h0m-39.8 20.8h0m-11.0 -27.0h0m63.5 -2.6h0m-30.6 7.9h0m-3.8 3.6h0m-0.5 -22.3h0m-10.1 -2.4h0m45.9 36.3h0m-20.9 -27.0h0m2.0 15.0h0m-27.0 9.3h0m44.4 -4.1h0m-83.7 -6.7h0m41.3 -18.8h0m13.0 27.5h0m20.0 -19.5h0m2.7 25.2h0m-48.3 -10.6h0m56.8 5.6h0m-63.9 18.4h0m20.3 -4.7h0m11.5 -41.5h0m14.3 30.0h0m-31.6 -13.2h0m-2.4 -27.1h0m-15.0 24.1h0m38.7 20.0h0m-8.3 -33.5h0m-11.0 18.1h0m-22.2 -4.9h0m27.6 -21.3h0m19.5 1.0h0m-43.4 17.8h0m34.4 20.7h0m9.8 -12.6h0m-10.8 -28.0h0m-8.2 8.9h0m-22.2 43.1h0m60.8 -31.3h0m-30.7 -19.0h0m21.8 53.7h0m-25.4 -25.9h0m-37.9 -26.9h0m53.3 26.6h0m-40.7 0.4h0m24.1 -31.4h0m18.2 13.3h0m-12.6 -14.2h0m12.1 7.4h0m-17.6 17.8h0m4.1 -10.9h0m26.9 8.9h0m-1.6 11.6h0m-2.9 12.1h0m-25.1 -27.3h0m19.6 -12.8h0m-21.7 38.3h0m-1.6 23.3h0m-20.9 -46.3h0m27.4 25.6h0m10.5 -34.6h0m-29.8 19.3h0m11.1 5.3h0m27.3 -9.0h0m-4.0 1.3h0m-22.0 -25.3h0m-8.9 -18.0h0m12.9 26.3h0m2.2 -10.2h0m-18.2 19.7h0m33.2 6.5h0m-16.2 -16.9h0m-26.2 13.8h0m47.3 3.4h0m-34.4 -15.0h0m8.0 2.5h0m11.7 -8.6h0m12.0 8.5h0m0.5 6.6h0m-22.1 -22.0h0m-52.2 30.2h0m55.5 2.7h0m0.6 -23.4h0m-15.5 33.2h0m36.0 -35.2h0m-49.2 39.1h0m51.7 -30.1h0m-19.6 -18.8h0m20.0 12.7h0m-17.3 34.9h0m23.2 1.2h0m-24.5 -18.0h0m-3.4 -7.9h0m-2.8 -25.2h0m-48.9 30.9h0m58.0 12.4h0m-10.4 34.3h0m22.4 -55.6h0m-35.1 11.4h0m40.4 5.0h0m-42.7 9.2h0m32.3 -27.3h0m-8.3 22.4h0m-35.6 -17.3h0m41.8 19.5h0m-21.9 25.0h0m43.7 -35.7h0m-50.8 6.8h0m17.6 -3.6h0m29.7 -0.3h0m-50.1 -28.7h0m44.7 7.2h0m5.1 5.4h0m-52.9 32.4h0m39.7 -18.7h0m16.4 3.1h0m-21.8 -21.3h0m-12.4 26.1h0m9.0 -1.7h0m18.5 -15.3h0m-60.6 32.6h0m9.2 -6.4h0m9.3 1.5h0m-14.9 0.3h0m55.0 -30.8h0m3.5 32.3h0m-26.6 -15.1h0m13.3 3.4h0m-63.7 -3.1h0m42.8 -19.1h0m0.0 -19.9h0m24.2 45.2h0m-70.0 -5.7h0m23.3 9.4h0m26.0 -15.0h0m13.4 6.5h0m-52.7 26.0h0m15.4 -8.8h0m12.0 -25.8h0m-13.3 23.3h0m40.5 -29.7h0m12.5 -12.0h0m-18.7 -16.1h0m-5.9 38.6h0m1.0 -8.4h0m3.5 -23.1h0m18.2 8.9h0m-20.1 62.6h0m1.2 -55.7h0m14.0 -2.6h0m-32.3 -5.0h0m-17.5 42.9h0m17.7 -25.0h0m-9.0 -32.0h0m37.3 52.7h0m-18.0 -46.0h0m-26.2 47.9h0m39.4 -45.2h0m-30.5 -6.3h0m4.5 32.1h0m2.8 -0.2h0m35.5 -22.4h0m-17.0 -4.4h0m-26.1 43.9h0m7.7 -13.0h0m22.1 -37.6h0m-17.8 27.3h0m11.6 -10.0h0m22.1 23.6h0m-5.7 -9.4h0m-21.9 -11.1h0m-11.5 23.7h0m17.7 -13.3h0m-6.7 -13.9h0m-6.2 -8.7h0m39.4 11.4h0m-37.3 13.0h0m-0.8 -17.3h0m-13.2 -9.9h0m-2.9 48.5h0m20.0 -43.2h0m29.9 33.4h0m-44.6 8.0h0m16.2 -49.3h0m-16.4 -2.0h0m53.6 34.4h0m-71.8 -29.4h0m66.0 40.8h0m-12.9 3.7h0m-45.3 21.0h0m-1.7 -47.2h0m42.3 18.7h0m-9.1 -12.5h0m-28.2 0.9h0m-0.0 0.1h0m22.3 1.0h0m-13.9 -7.3h0m53.0 11.8h0m-31.3 -32.7h0m-9.2 18.7h0m13.2 -20.7h0m13.9 37.4h0m-80.9 -0.2h0m35.6 -19.8h0m14.3 7.6h0m-17.9 7.4h0m52.3 20.1h0m-22.3 -27.0h0m-23.9 -36.5h0m14.0 27.0h0m32.0 0.9h0m-14.6 -6.6h0m3.0 3.5h0m15.6 9.7h0m-5.9 21.2h0m-35.2 -30.5h0m20.9 -6.2h0m14.9 39.3h0m-9.1 -20.5h0m-24.9 5.3h0m0.8 -0.6h0m32.4 -4.3h0m8.0 -5.0h0m-44.9 -30.0h0m33.2 60.4h0m-6.3 -38.1h0m3.0 19.5h0m7.1 -9.5h0m-11.1 -20.6h0m-11.5 38.1h0m21.1 9.1h0m-16.6 -33.3h0m22.4 1.9h0m-10.2 22.3h0m-9.0 -25.7h0m9.7 -7.0h0m-48.3 42.7h0m38.0 -45.8h0m12.8 32.3h0m-61.9 0.1h0m45.9 -18.2h0m-10.8 7.8h0m-10.1 -6.0h0m48.6 21.4h0m-12.4 -16.1h0m-37.7 -37.1h0m9.0 41.8h0m-0.0 8.8h0m-16.3 -9.7h0m56.0 7.1h0m-25.0 -4.1h0m-4.2 -27.9h0m-35.6 47.7h0m9.5 -5.1h0m41.3 -42.0h0m-36.7 31.6h0m4.5 12.0h0m15.5 -11.9h0m4.7 -14.5h0m30.4 16.5h0m-59.6 14.0h0m40.4 -13.3h0m-3.6 -28.7h0m-15.9 30.0h0m37.9 -6.5h0m-10.3 -10.1h0m-10.6 -21.9h0m0.4 7.4h0m-10.4 7.4h0m-2.2 30.9h0m-11.0 -15.0h0m37.2 -20.9h0m-20.4 33.4h0m-3.5 -20.9h0m32.8 7.3h0m-31.1 8.6h0m4.6 -10.9h0m-7.4 -2.3h0m-30.3 19.9h0m27.6 25.0h0m-30.9 -24.4h0m34.1 -48.9h0m26.7 16.8h0m-64.1 53.9h0m53.6 -33.2h0m-37.2 8.5h0m30.7 -10.4h0m16.1 -2.7h0m-53.7 18.8h0m1.3 -35.0h0m32.2 -15.7h0m14.4 49.8h0m-34.1 -10.6h0m-7.8 -41.8h0m1.1 47.4h0m23.6 -21.6h0m-20.0 -3.8h0m24.4 -7.6h0m-29.2 -14.5h0m11.1 33.9h0m6.6 6.3h0m0.9 -29.2h0m-17.6 -9.4h0m47.9 49.9h0m-70.3 -41.5h0m48.2 13.2h0m16.7 1.5h0m-44.3 -26.3h0m29.2 18.5h0m21.5 5.3h0m-3.2 20.8h0m-12.9 -39.2h0m-5.4 23.0h0m-13.2 17.1h0m10.3 -19.6h0m-17.3 -15.5h0m-7.2 21.9h0m26.2 -31.1h0m-23.8 46.2h0m-0.1 -18.1h0m26.8 8.9h0m10.4 -15.8h0m3.0 0.8h0m-39.2 19.9h0m19.2 -22.4h0m-34.8 38.0h0m35.8 -17.3h0m-7.3 -6.0h0m13.3 -0.3h0m14.8 3.2h0m-53.5 -14.4h0m3.6 29.0h0m33.2 -37.5h0m-47.2 24.3h0m55.1 -2.4h0m-12.0 -24.7h0m22.3 15.3h0m-36.5 20.2h0m-26.5 -31.6h0m42.9 9.7h0m-10.5 -16.1h0m-15.8 20.9h0m-11.1 -33.0h0m-15.6 34.3h0m12.3 -4.9h0m44.9 -19.8h0m17.0 34.8h0m-37.9 -3.9h0m-22.4 -6.7h0m31.6 -14.0h0m14.7 -5.3h0m-14.5 -7.6h0m3.9 9.9h0m-17.1 51.7h0m8.5 -33.2h0m13.8 -16.4h0m7.4 36.1h0m-59.0 -42.9h0m40.0 2.2h0m26.1 37.0h0m-5.0 -20.8h0m-10.1 -7.8h0m27.0 12.6h0m-27.1 -4.1h0m-39.8 -2.8h0m39.2 -13.7h0m-12.8 -4.2h0m27.0 33.9h0m-25.9 -35.4h0m35.0 27.1h0m-35.1 17.8h0m3.9 -52.0h0m10.2 33.5h0m-9.2 14.4h0m4.6 -40.7h0m26.4 20.8h0m-61.3 -1.5h0m41.5 -20.1h0m17.9 32.6h0m4.5 -6.0h0m-61.5 -15.0h0m25.3 8.5h0m0.4 -9.9h0m31.8 25.1h0m-33.8 -25.0h0m2.8 31.7h0m-2.3 -42.5h0m11.2 -5.2h0m-30.5 76.1h0m44.2 -29.0h0m-28.8 -40.6h0m23.6 12.4h0m-0.5 22.2h0m2.3 8.3h0m-18.9 -17.9h0m1.6 3.6h0m19.7 6.9h0m-23.6 -31.0h0m-30.9 40.2h0m21.3 -22.9h0m20.0 -27.5h0m6.1 41.6h0m-36.4 -37.9h0m21.3 11.9h0m-25.6 35.4h0m51.9 -13.0h0m-38.2 8.6h0m6.4 -37.5h0m20.8 13.7h0m-6.5 -13.1h0m-34.1 45.7h0m-8.6 -30.2h0m17.7 25.2h0m-11.7 6.0h0m39.8 -51.3h0m15.7 19.1h0m-49.0 29.6h0m19.6 -19.7h0m-10.4 -41.9h0m29.0 37.1h0m-13.0 -13.0h0m-2.1 -19.0h0m-51.0 29.5h0m34.0 6.8h0m18.9 -20.7h0m14.0 -6.3h0m10.9 37.6h0m-26.2 -22.9h0m-15.4 6.4h0m-17.4 -0.6h0m29.8 -0.9h0m-10.2 -7.4h0m17.6 24.9h0m-17.5 9.2h0m25.9 -28.6h0m-19.7 23.4h0m-22.2 -17.5h0m6.4 17.9h0m15.5 -38.4h0m-2.2 28.6h0m2.8 -25.8h0m11.0 19.3h0m-18.4 16.9h0m-1.2 -14.5h0m35.5 -23.0h0m-36.5 42.6h0m30.9 -5.5h0m-36.0 -59.5h0m21.0 59.8h0m-0.4 -22.4h0m18.7 -18.5h0m-0.3 28.5h0m-24.1 9.0h0m21.0 -9.6h0m-8.6 12.3h0m-19.2 -5.3h0m28.6 -25.9h0m-12.5 -14.4h0m6.8 28.4h0m-38.6 21.1h0m-0.3 -2.3h0m27.3 -30.9h0m-4.3 -2.9h0m-7.6 14.9h0m-14.5 -3.9h0m-10.2 24.8h0m61.3 -31.3h0m-18.8 -19.7h0m-8.3 19.4h0m14.9 23.8h0m15.7 2.7h0m-82.0 -6.1h0m58.2 -4.6h0m24.4 -9.7h0m-48.1 -32.3h0m26.9 20.0h0m-13.7 3.9h0m3.4 23.9h0m16.9 1.9h0m-41.4 -19.0h0m8.5 8.0h0m29.0 -14.7h0m-24.2 44.3h0m38.5 -50.4h0m-18.4 29.3h0m13.1 11.8h0m-3.1 -2.6h0m-12.8 -38.7h0m17.1 41.5h0m-10.1 -13.5h0m-38.5 11.3h0m32.6 -27.1h0m-17.9 2.6h0m-6.3 -23.3h0m19.0 31.7h0m-3.8 -16.6h0m-28.5 1.2h0m50.8 11.6h0m-18.2 -4.0h0m-56.4 11.9h0m43.9 -50.8h0m-10.5 8.3h0m-6.9 55.6h0m47.0 0.2h0m-20.9 -29.6h0m35.0 -1.4h0m-2.8 -4.8h0m-5.0 10.0h0m-31.3 14.6h0m27.8 -22.4h0m-11.5 19.5h0m2.9 6.7h0m-6.0 -29.2h0m-0.9 -12.8h0m19.2 15.3h0m3.9 36.2h0m4.2 -4.6h0m-49.1 -46.0h0m33.4 47.7h0m-42.6 -18.5h0m3.0 13.5h0m12.9 -23.0h0m25.4 4.3h0m-35.1 1.8h0m54.8 -4.1h0m-12.5 13.9h0m1.7 7.5h0m-30.3 -27.4h0m-5.4 6.8h0m6.0 -2.8h0m-15.6 -26.3h0m12.8 22.3h0m5.5 14.2h0m-28.1 19.5h0m2.5 -30.9h0m41.9 17.5h0m21.0 4.0h0m-29.3 -48.4h0m-16.1 23.4h0m31.4 16.3h0m-24.7 -22.7h0m26.8 10.7h0m-28.8 2.5h0m24.2 8.0h0m3.6 11.6h0m-20.3 -43.9h0m-8.0 25.0h0m13.8 10.2h0m11.2 -1.4h0m-8.7 -4.0h0m19.4 0.7h0m-25.7 14.5h0m-7.0 -10.3h0m22.3 14.3h0m-8.7 -42.4h0m14.1 9.0h0m-33.6 -8.6h0m34.2 5.6h0m-12.3 31.1h0m-37.0 -14.7h0m27.2 13.3h0m-11.4 -1.9h0m22.9 -1.9h0m-7.1 -29.2h0m12.8 51.7h0m12.2 -37.9h0m-41.8 55.2h0m12.9 -21.7h0m-15.4 -35.2h0m44.0 7.9h0m5.4 1.3h0m-77.1 32.1h0m21.6 -73.6h0m8.9 87.8h0m29.9 -64.0h0m-26.5 -11.6h0m18.7 32.3h0m13.5 15.2h0m-31.0 -44.2h0m-7.3 7.5h0m37.1 11.4h0m-34.4 16.6h0m23.8 8.8h0m-17.5 -31.9h0m18.3 25.4h0m-38.2 -46.4h0m49.1 33.0h0m-20.2 -22.8h0m-2.9 -3.8h0m-8.4 31.1h0m-21.5 19.8h0m31.8 -28.1h0m-12.3 -15.0h0m2.1 26.2h0m37.0 -9.6h0m1.7 -8.5h0m-29.3 -22.0h0m0.3 21.4h0m-31.6 32.5h0m18.3 -26.2h0m-2.3 21.3h0m32.5 -6.5h0m-6.2 -25.0h0m-13.3 36.2h0m3.2 -49.8h0m-3.8 37.9h0m0.1 -34.9h0m22.1 29.2h0m-17.4 3.1h0m9.7 -10.9h0m-11.1 1.2h0m8.3 4.8h0m-20.1 -22.0h0m29.7 24.1h0m-36.5 8.4h0m16.3 -22.5h0m2.9 -18.4h0m-29.4 55.3h0m31.6 -31.2h0m15.5 -4.3h0m-51.6 -25.2h0m37.0 52.5h0m-12.0 -10.4h0m8.6 8.1h0m22.5 -9.5h0m-7.8 9.6h0m-29.3 -23.2h0m5.0 -9.3h0m8.8 -15.1h0m9.5 41.2h0m-9.1 -31.9h0m-13.8 -1.8h0m36.8 29.7h0m-0.7 5.9h0m-19.8 -30.6h0m28.8 26.2h0m-17.8 3.8h0m-23.0 -27.3h0m-13.3 -7.3h0m22.1 -10.4h0m25.0 53.8h0m-14.2 -12.7h0m-0.1 2.4h0m-18.3 -24.3h0m-7.4 -25.8h0m15.7 52.2h0m-47.3 -11.8h0m11.2 -3.6h0m35.8 3.5h0m-16.2 2.9h0m7.2 -30.5h0m4.2 25.1h0m-7.1 -14.0h0m-23.7 34.0h0m20.4 -16.2h0m-23.1 -0.7h0m37.7 -3.1h0m-31.4 23.2h0m24.4 -19.3h0m-20.0 23.8h0m53.5 -19.0h0m-62.5 21.2h0m25.6 -46.4h0m7.4 9.3h0m-24.7 31.5h0m16.8 -4.7h0m21.0 -21.0h0m-45.8 4.6h0m9.6 -4.8h0m30.1 1.6h0m-33.4 2.1h0m25.0 -10.9h0m16.3 -7.6h0m15.5 36.2h0m2.9 -5.2h0m-28.4 -0.9h0m-4.6 -19.6h0m2.3 -25.2h0m10.7 17.6h0m-30.1 -10.6h0m-16.5 14.7h0m48.1 1.1h0m3.6 21.1h0m-17.7 -42.5h0m34.5 46.0h0m-42.6 2.7h0m-5.8 -55.1h0m20.0 27.2h0m-36.3 35.0h0m22.5 -39.2h0m2.8 32.1h0m37.3 -21.3h0m2.9 14.3h0m-65.7 17.3h0m41.9 -31.6h0m-31.9 -17.5h0m13.8 35.1h0m7.7 -36.2h0m-30.4 45.4h0m20.0 -42.1h0m15.4 -13.1h0m-29.6 25.8h0m38.6 -17.9h0m-9.6 23.8h0m-44.8 1.3h0m70.9 9.2h0m-36.6 -31.6h0m-24.3 22.4h0m42.3 8.3h0m-30.9 -8.6h0m27.7 -5.2h0m-12.1 -6.6h0m-3.3 -3.6h0m-21.1 39.5h0m18.1 -10.6h0m36.4 1.2h0m-56.3 12.1h0m20.6 -41.3h0m1.7 -3.7h0m9.7 -11.0h0m17.8 39.8h0m-7.4 -18.2h0m-4.3 25.4h0m-19.8 -12.0h0m12.3 -14.8h0m16.2 30.6h0m-21.3 -10.4h0m8.5 -36.4h0m9.7 12.6h0m-44.0 40.2h0m59.6 -38.1h0m-3.7 20.7h0m3.9 10.6h0m-30.5 -12.8h0m5.0 -3.7h0m-16.9 -12.4h0m-18.4 7.8h0m56.1 19.6h0m-3.5 -23.9h0m-14.1 -9.4h0m17.3 36.7h0m-29.5 -44.1h0m-1.2 9.8h0m-6.1 9.7h0m13.4 17.5h0m-20.4 -20.7h0m38.1 28.4h0m-31.4 -34.1h0m-16.3 37.2h0m0.6 -36.0h0m0.2 4.6h0m57.4 1.8h0m-40.6 -17.8h0m32.2 43.0h0m-4.8 -17.3h0m10.4 11.9h0m-35.9 -4.7h0m10.2 -3.1h0m-10.8 0.7h0m34.2 -25.5h0m-32.8 -3.5h0m11.6 33.9h0m11.0 6.0h0m2.7 -17.8h0m-4.5 -12.3h0m-26.8 8.5h0m14.0 -8.1h0m-19.8 -13.0h0m54.9 34.8h0m-50.7 19.1h0m42.4 -41.2h0m-19.9 21.8h0m-22.6 -54.5h0m31.1 54.7h0m-18.3 -39.6h0m-19.9 27.6h0m9.8 5.7h0m-18.7 -14.5h0m37.2 23.6h0m0.1 -42.8h0m3.9 37.8h0m-31.7 -40.0h0m28.4 44.2h0m-27.2 -38.8h0m39.3 50.3h0m-1.5 -25.0h0m-31.4 9.4h0m48.7 1.9h0m-29.6 -37.3h0m-3.5 12.9h0m-23.3 36.8h0m10.8 -29.8h0m23.0 -17.4h0m16.3 24.3h0m-46.3 -30.7h0m11.6 23.4h0m8.1 -13.9h0m-8.9 27.2h0m28.9 -19.4h0m6.4 2.1h0m-27.5 21.0h0m26.5 10.4h0m-32.4 -17.6h0m-2.5 -6.6h0m8.6 14.0h0m-2.0 -12.7h0m18.8 11.4h0m-54.1 13.7h0m35.6 -48.6h0m-0.1 -0.2h0m-11.8 45.3h0m28.4 -8.4h0m-27.8 -14.7h0m18.0 -18.2h0m-7.5 21.3h0m-17.1 3.3h0m13.0 -31.4h0m17.1 22.2h0m-9.1 22.9h0m-28.3 8.6h0m29.3 -37.4h0m-5.5 22.0h0m31.1 -13.2h0m-18.5 12.7h0m8.0 -8.5h0m-39.4 -9.1h0m40.8 13.2h0m-15.2 -15.1h0m12.7 -2.7h0m-29.0 6.4h0m16.1 -8.1h0m5.9 -15.1h0m-18.2 39.7h0m34.5 12.7h0m-54.8 -0.0h0m-3.7 -26.9h0m60.3 -0.2h0m-21.8 19.8h0m-24.2 -21.3h0m26.9 15.0h0m-15.7 -35.0h0m-5.3 10.0h0m14.9 5.7h0m-28.1 31.3h0m39.9 -25.9h0m-13.7 15.2h0m-27.7 -7.1h0m12.4 -9.9h0m23.7 -18.5h0m-8.4 22.5h0m26.6 10.2h0m-5.3 -11.9h0m-20.9 -0.0h0m0.5 -10.9h0m2.2 20.8h0m11.8 14.3h0m-19.3 -38.1h0m-9.3 32.0h0m28.5 -1.0h0m-41.8 5.4h0m55.6 -7.4h0m-26.4 3.3h0m18.1 -3.9h0m-52.1 9.7h0m49.0 -16.8h0m14.2 15.1h0m-27.2 3.1h0m-6.2 -40.4h0m-16.9 22.7h0m29.4 -17.3h0m-29.1 35.3h0m20.8 -44.9h0m-17.7 12.6h0m2.3 24.9h0m-23.1 4.6h0m67.8 -23.3h0m-48.4 10.2h0m17.8 -23.0h0m-33.6 37.7h0m30.1 -25.1h0m1.6 20.3h0m-4.9 -3.1h0m-14.2 -50.7h0m43.2 64.4h0m-16.4 1.6h0m16.6 -17.0h0m-40.2 -11.6h0m49.6 17.0h0m1.6 -14.8h0m-48.0 -15.3h0m-15.9 37.6h0m32.0 -30.2h0m8.7 -10.1h0m13.1 29.5h0m-36.1 -31.6h0m8.9 8.5h0m6.3 6.4h0m15.2 27.2h0m10.1 -1.7h0m-58.0 -32.3h0m4.8 31.6h0m20.5 -46.4h0m27.5 31.8h0m-80.5 3.1h0m69.8 -27.8h0m8.4 24.4h0m-23.8 -2.6h0m24.8 15.2h0m0.0 -3.2h0m-54.0 -21.4h0m48.1 -3.4h0m0.0 4.9h0m-30.0 18.0h0m-11.1 -13.1h0m14.5 5.0h0m-10.1 18.4h0m22.2 -18.4h0m15.5 1.3h0m1.7 1.0h0m-2.0 -24.2h0m-35.7 -13.5h0m26.9 -1.3h0m-25.6 51.7h0m16.6 2.0h0m-24.8 -49.1h0m23.7 22.0h0m19.0 -14.4h0m-43.9 38.8h0m43.0 -23.0h0m-13.2 -30.9h0m-14.7 10.5h0m26.9 22.9h0m-17.4 11.5h0m-0.0 -43.9h0m-7.4 25.7h0m11.8 -18.2h0m11.9 30.1h0m14.8 -14.0h0m-32.7 -23.7h0m6.9 1.1h0m0.7 10.3h0m-0.4 -13.2h0m2.2 2.8h0m0.6 2.4h0m-4.0 27.6h0m5.1 -27.8h0m-4.5 51.2h0m-21.6 -21.3h0m15.8 -2.3h0m-18.5 21.8h0m3.8 -51.8h0m27.4 40.3h0m-9.6 -16.9h0m-35.8 -14.5h0m-1.3 26.1h0m60.1 -14.5h0m-1.6 33.2h0m-30.7 -37.8h0m39.2 34.4h0m-7.4 3.2h0m-39.3 -19.2h0m27.3 -26.7h0m-26.4 16.8h0m24.9 19.5h0m-43.6 -15.1h0m38.2 0.9h0m18.4 13.1h0m-47.5 -10.9h0m3.2 20.6h0m-11.8 -4.2h0m54.4 12.1h0m-44.1 -32.4h0m-0.6 -21.3h0m34.6 32.3h0m2.2 -26.3h0m-40.2 35.9h0m23.4 -14.2h0m-22.0 16.4h0m23.5 -0.7h0m23.1 -14.2h0m14.1 2.4h0m-63.2 -40.6h0m-15.7 69.5h0m46.8 -19.5h0m30.5 -21.0h0m-19.0 18.6h0m14.7 -18.4h0m1.8 -3.6h0m-5.2 -5.7h0m-23.6 -12.2h0m26.8 20.1h0m-18.6 -15.0h0m3.4 -2.1h0m-29.5 56.6h0m16.1 -64.7h0m-15.2 -5.7h0m14.4 16.8h0m-25.0 13.0h0m45.2 30.6h0m-60.3 -34.3h0m69.8 6.9h0m-9.0 -5.6h0m-4.6 11.5h0m-46.8 36.0h0m-15.8 -36.0h0m13.7 24.5h0m34.3 -8.9h0m-15.4 17.1h0m13.7 -46.8h0m-31.7 34.6h0m9.0 4.2h0m48.8 -35.9h0m-30.9 26.9h0m-5.0 -5.3h0m30.3 -12.4h0m-52.2 28.9h0m29.5 -43.6h0m20.6 18.2h0m8.2 2.3h0m-55.3 -15.4h0m17.9 25.0h0m37.5 4.7h0m-32.6 -19.7h0m21.1 16.7h0m-1.8 0.7h0m-21.6 -11.3h0m3.1 -24.3h0m30.1 42.9h0m-20.4 -40.7h0m-46.1 47.8h0m9.3 -55.7h0m16.0 38.3h0m10.3 -24.7h0m33.1 22.2h0m-49.2 -12.4h0m42.0 0.5h0m-32.3 0.7h0m42.0 8.5h0m-6.2 -17.3h0m-20.2 -23.7h0m-17.7 29.8h0m18.0 -32.2h0m3.9 22.1h0m2.4 -5.6h0m-42.9 13.5h0m62.5 12.3h0m-3.4 6.3h0m-29.4 -8.5h0m-1.0 -3.3h0m-28.0 -27.5h0m19.2 70.1h0m20.9 -38.9h0m-5.3 -34.1h0m7.6 6.1h0m7.2 16.3h0m-52.1 -3.7h0m2.5 35.9h0m34.0 -51.7h0m-26.3 50.2h0m32.7 -36.8h0m6.0 7.7h0m-4.6 14.2h0m5.7 -14.5h0m-3.8 21.7h0m23.8 -3.0h0m-34.5 -17.0h0m-31.6 4.0h0m58.4 10.2h0m-26.9 -43.0h0m6.6 26.8h0m20.8 0.8h0m-49.9 8.9h0m-0.8 -6.0h0m45.3 -14.0h0m-8.9 24.7h0m18.5 9.6h0m-9.6 -0.2h0m-22.7 -39.1h0m-34.2 14.3h0m40.5 8.4h0m8.0 -27.7h0m-33.1 2.2h0m43.0 50.8h0m3.6 -22.4h0m-23.7 -37.8h0m24.7 31.7h0m-61.9 -4.9h0m25.7 21.4h0m5.9 -13.8h0m5.3 -36.0h0m10.9 24.6h0m-33.7 -23.8h0m35.3 53.7h0m-21.2 -3.6h0m0.9 -27.1h0m4.6 27.0h0m-12.8 -3.3h0m-4.7 2.0h0m42.6 5.4h0m-22.3 -38.2h0m10.1 27.2h0m-37.8 10.7h0m24.3 -33.6h0m30.9 26.4h0m4.9 -13.5h0m-8.7 -8.1h0m-34.6 -11.6h0m-15.7 39.5h0m15.2 -17.7h0m-0.6 11.0h0m23.7 -1.6h0m9.0 -16.9h0m-4.2 24.6h0m-0.9 -33.9h0m-35.2 17.0h0m35.8 5.1h0m11.0 -16.5h0m-52.9 28.7h0m55.3 -22.2h0m-50.1 -28.0h0m48.1 39.6h0m-23.4 -21.8h0m-23.1 27.5h0m15.4 -11.0h0m3.7 -17.5h0m-9.4 -14.4h0m33.1 29.8h0m-51.9 -9.9h0m26.4 14.5h0m13.2 -17.5h0m-33.8 6.7h0m48.3 10.1h0m-20.5 -27.9h0m8.6 24.9h0m-25.6 9.3h0m44.2 -4.9h0m-13.2 -20.6h0m-22.7 -12.7h0m18.3 30.7h0m-44.3 20.1h0m5.7 -48.3h0m39.2 2.1h0m-28.2 -4.0h0m8.2 28.9h0m-6.0 2.0h0m19.5 -29.9h0m4.6 27.1h0m-10.7 15.9h0m-11.4 -2.4h0m-1.4 -12.9h0m34.2 -9.4h0m-3.8 4.9h0m-53.0 -11.7h0m30.9 -15.1h0m-19.9 43.5h0m23.8 -1.6h0m-34.6 -16.3h0m-5.7 17.0h0m65.3 -17.0h0m-61.0 3.2h0m-2.0 27.9h0m17.2 -33.2h0m17.6 -20.5h0m-7.5 25.2h0m-16.7 -24.2h0m10.5 64.7h0m17.7 -52.2h0m-14.7 25.1h0m-30.6 12.0h0m42.4 -47.9h0m-26.8 24.4h0m12.0 6.7h0m6.8 -1.3h0m-15.7 3.0h0m47.0 -11.0h0m-7.5 2.3h0m-61.0 -24.9h0m71.9 26.2h0m-28.6 -3.6h0m2.1 -9.7h0m13.4 -1.0h0m-31.6 33.8h0m17.4 -10.4h0m1.9 -46.3h0m10.7 27.5h0m0.8 6.6h0m15.9 6.0h0m-36.7 5.3h0m-44.7 -10.9h0m20.3 19.5h0m53.4 -0.5h0m-51.5 -19.5h0m58.4 10.8h0m-27.2 -13.8h0m-29.0 2.1h0m23.6 9.7h0m-10.9 -4.3h0m-15.5 21.3h0m41.1 -7.7h0m10.7 -24.8h0m4.6 13.6h0m-63.2 13.6h0m35.2 -32.6h0m-10.2 1.4h0m-1.8 8.0h0m16.0 -28.0h0m17.2 14.2h0m-12.3 19.9h0m18.0 -17.8h0m-16.8 -7.5h0m-18.2 23.6h0m-4.5 11.6h0m16.9 -12.0h0m-12.3 -20.6h0m13.3 31.3h0m9.3 -8.4h0m-26.0 5.1h0m4.1 -14.6h0m-18.5 8.6h0m26.1 5.9h0m-6.7 -8.6h0m5.8 6.6h0m-18.2 -11.2h0m27.3 -17.6h0m24.7 28.9h0m-40.2 -22.2h0m-5.1 16.8h0m11.5 15.0h0m22.9 3.5h0m-18.2 -21.1h0m-2.6 -27.8h0m-23.3 49.0h0m35.9 -14.7h0m-0.4 0.1h0m-12.4 -10.0h0m24.7 1.2h0m-56.7 25.3h0m37.7 -31.7h0m-14.2 15.6h0m-7.1 -23.7h0m6.7 -0.7h0m3.8 -12.7h0m21.7 44.5h0m-55.4 6.8h0m63.4 -11.8h0m-64.4 24.0h0m38.9 -45.2h0m17.7 3.5h0m-42.4 2.7h0m30.2 -23.4h0m7.5 48.6h0m-28.5 -3.7h0m49.0 -0.5h0m-30.2 -39.6h0m-45.8 2.8h0m50.0 13.8h0m-28.3 28.9h0m15.3 -41.1h0m18.9 56.9h0m-25.7 -21.3h0m-15.2 -23.9h0m50.0 28.9h0m-58.0 -26.4h0m47.5 5.4h0m-64.6 6.2h0m39.8 7.8h0m39.9 -25.2h0m-38.6 15.2h0m-16.9 18.7h0m-13.1 8.3h0m11.9 -10.2h0m23.4 -4.0h0m10.0 -26.2h0m-15.6 -7.0h0m5.8 7.0h0m-7.5 25.0h0m-8.4 9.2h0m28.7 -12.0h0m3.1 -7.0h0m-7.6 -5.1h0m-26.9 -30.5h0m6.2 54.7h0m38.2 -13.3h0m-2.9 6.4h0m10.8 -21.8h0m2.9 16.1h0m-65.8 -22.2h0m37.0 -15.5h0m-5.6 23.7h0m-16.4 -35.1h0m6.7 41.9h0m8.6 -34.2h0m-0.5 19.0h0m27.3 22.5h0m-2.8 9.2h0m-25.0 -32.4h0m-8.5 20.9h0m9.6 -37.0h0m3.0 40.3h0m33.0 2.7h0m-44.6 -21.9h0m-7.7 53.8h0m23.5 -35.1h0m-15.5 -23.2h0m39.8 28.6h0m-5.5 -24.5h0m0.9 1.3h0m-0.8 -7.8h0m2.5 23.6h0m1.5 2.6h0m-0.2 -3.9h0m-50.0 -12.0h0m27.4 -9.9h0m-6.1 19.7h0m-5.7 -15.1h0m-2.5 58.0h0m27.7 -52.9h0m-43.4 31.9h0m2.5 -58.5h0m22.1 0.3h0m-17.3 33.6h0m20.0 -12.0h0m-31.2 -25.2h0m43.4 46.0h0m18.0 -16.9h0m-0.3 -5.1h0m-33.0 25.8h0m30.4 -9.0h0m-25.4 -0.4h0m-15.5 4.0h0m22.4 -24.1h0m20.1 15.1h0m-46.7 24.2h0m-7.6 -52.5h0m47.0 14.4h0m-62.2 4.7h0m73.5 3.9h0m-32.7 13.5h0m18.2 -2.3h0m-16.2 -36.1h0m14.4 13.1h0m-25.1 1.4h0m3.3 56.6h0m21.2 -40.9h0m-8.6 -27.5h0m24.2 24.4h0m-3.4 15.2h0m-16.7 -4.2h0m-37.7 12.7h0m55.2 -32.5h0m-29.0 -12.7h0m-17.0 11.3h0m-21.9 -14.6h0m63.7 10.5h0m8.8 24.4h0m-20.9 0.3h0m-36.1 20.2h0m15.9 -55.2h0m24.6 14.0h0m-29.1 20.8h0m24.6 6.4h0m-10.1 -19.9h0m19.0 -0.6h0m-68.2 32.5h0m37.6 -4.2h0m19.7 -25.6h0m-29.3 35.6h0m42.7 -43.3h0m-12.1 -13.2h0m-4.5 4.9h0m19.2 27.3h0m-37.0 -27.1h0m-3.2 18.2h0m37.9 7.0h0m-50.1 -3.3h0m-33.2 7.2h0m77.1 -26.6h0m-26.6 22.2h0m-5.5 35.7h0m35.2 -31.7h0m-9.9 -23.1h0m16.0 2.0h0m-20.6 29.9h0m-1.2 -22.6h0m-8.2 -15.9h0m-34.1 37.8h0m16.0 -46.0h0m-17.4 26.3h0m31.4 -17.5h0m11.1 7.1h0m-0.2 22.2h0m28.7 -16.9h0m-42.8 -18.2h0m-3.8 23.0h0m-15.3 28.5h0m29.5 -38.5h0m4.5 0.4h0m-5.3 6.0h0m-11.0 11.1h0m-19.6 15.2h0m27.0 -23.0h0m27.5 -15.9h0m-61.9 22.3h0m18.1 -33.0h0m-12.3 48.2h0m50.5 -34.6h0m-7.4 -1.4h0m-21.1 21.5h0m1.3 -0.5h0m-13.7 -26.4h0m43.5 39.3h0m-27.2 -28.5h0m28.7 0.7h0m-13.9 25.3h0m-12.1 -29.3h0m11.1 20.8h0m-0.1 12.0h0m15.5 0.7h0m-20.2 -43.7h0m4.5 -0.3h0m-45.5 16.4h0m44.8 19.8h0m7.8 -16.5h0m-14.9 -20.9h0m-11.3 73.0h0m8.2 -41.0h0m16.7 -21.5h0m-17.9 20.7h0m-48.7 -1.2h0m53.1 0.9h0m3.9 13.4h0m4.2 2.7h0m-33.2 -14.5h0m-1.5 -35.6h0m36.0 21.7h0m8.1 10.2h0m3.9 9.7h0m-34.6 10.2h0m-10.3 -48.8h0m37.5 7.1h0m7.4 38.1h0m-54.7 -25.0h0m0.9 26.2h0m29.1 -36.3h0m21.5 -2.6h0m0.5 0.5h0m-63.0 26.5h0m49.7 -22.7h0m17.4 -0.7h0m-36.7 30.1h0m12.7 -14.4h0m-5.7 -19.2h0m37.3 9.1h0m-22.2 -3.2h0m11.4 12.0h0m-25.6 -17.7h0m6.6 13.6h0m-51.7 6.6h0m49.1 -33.1h0m-23.0 52.1h0m14.4 -14.2h0m23.8 -5.1h0m-12.8 21.4h0m25.1 -7.4h0m-29.7 -28.4h0m-4.8 17.6h0m16.2 -0.2h0m20.3 3.4h0m7.9 -4.2h0m-40.5 -34.9h0m-13.9 35.7h0m24.3 -28.6h0m-11.2 36.8h0m3.6 -6.6h0m24.0 13.8h0m-52.3 -23.9h0m32.2 0.2h0m-24.4 5.0h0m4.2 2.8h0m33.8 14.3h0m2.9 -35.1h0m-9.4 -5.3h0m6.2 29.5h0m-10.4 -13.9h0m-8.1 -13.8h0m-0.5 26.7h0m-0.8 -28.0h0m-10.1 27.7h0m25.6 -19.8h0m5.0 25.4h0m-13.4 -44.3h0m21.3 52.2h0m-31.3 -40.0h0m-17.7 24.3h0m12.9 -14.5h0m0.5 25.7h0m29.2 3.2h0m-67.8 -8.1h0m37.3 -10.1h0m-23.0 21.8h0m28.8 23.3h0m5.6 -41.1h0m24.6 -14.7h0m-19.9 -1.0h0m-34.8 30.6h0m36.3 -45.9h0m0.1 3.0h0m-11.0 -1.0h0m-1.7 0.2h0m15.7 16.6h0m1.2 1.4h0m12.3 4.9h0m-52.0 8.9h0m43.0 2.5h0m4.6 -9.9h0m-23.9 -9.6h0m10.3 20.7h0m27.7 -1.1h0m-49.7 -36.7h0m-4.6 23.3h0m34.1 -10.6h0m16.5 39.9h0m1.1 -4.2h0m-22.2 -44.2h0m23.0 16.6h0m-33.9 -17.9h0m-23.8 50.6h0m39.5 -32.4h0m3.3 -5.6h0m-17.8 56.6h0m26.6 -26.0h0m-29.6 -36.0h0m21.4 6.6h0m-16.8 17.5h0m1.4 9.0h0m-11.0 -22.6h0m-12.9 30.1h0m23.4 -56.7h0m20.9 26.5h0m-19.3 24.5h0m17.0 1.2h0m-3.4 -10.3h0m-39.3 -12.8h0m39.6 5.9h0m-40.0 26.8h0m17.0 -48.5h0m9.4 65.6h0m33.3 -37.4h0m-59.4 -19.0h0m58.7 8.0h0m-8.5 1.2h0m-22.0 12.8h0m-4.1 -21.7h0m-27.9 -13.3h0m63.0 40.1h0m-27.5 -43.9h0m-45.9 12.4h0m31.9 32.0h0m22.1 -2.4h0m-56.8 17.3h0m2.9 3.4h0m43.6 -37.3h0m8.5 -4.5h0m-7.6 -27.0h0m-33.2 30.0h0m17.5 -6.1h0m20.0 -18.6h0m-21.0 31.6h0m30.6 -5.2h0m11.2 -0.2h0m-57.1 -0.9h0m48.6 -5.5h0m1.5 27.4h0m-6.0 -33.7h0m-73.0 24.1h0m80.5 -25.8h0m-12.2 -1.8h0m-2.4 30.0h0m-27.7 13.9h0m41.4 -41.3h0m-26.9 -3.4h0m26.8 39.0h0m-80.7 -13.2h0m81.0 12.1h0m-17.3 -5.9h0m25.6 6.5h0m-57.2 0.7h0m1.5 7.4h0m16.8 -49.8h0m14.0 33.1h0m-5.4 -6.7h0m20.1 19.7h0m0.8 -40.6h0m-26.2 2.4h0m-8.9 17.3h0m43.9 -5.4h0m-14.5 -12.9h0m9.2 21.9h0m-34.6 -9.3h0m38.1 -4.5h0m4.0 5.3h0m-25.9 -26.7h0m4.4 13.0h0m12.3 33.3h0m-21.3 -33.9h0m-5.1 26.1h0" stroke="#60c440" stroke-width="1.4" stroke-linecap="round" fill="none"/>
<path d="M453.3 88.1h0m0.5 -30.2h0m19.0 31.6h0m-15.1 -1.0h0m-2.7 -25.0h0m8.4 -0.2h0m17.1 -6.7h0m-35.3 34.9h0m25.7 -28.3h0m-10.6 -7.6h0m3.5 32.5h0m25.2 -43.7h0m-49.4 19.3h0m62.3 21.9h0m-40.2 -13.0h0m-24.7 -13.5h0m1.6 28.8h0m32.9 24.2h0m-39.6 -53.9h0m-3.3 0.1h0m12.4 37.6h0m10.4 -17.7h0m1.7 6.0h0m-34.5 -19.4h0m34.7 14.1h0m-38.7 1.4h0m78.0 -17.9h0m-16.2 -13.6h0m-51.8 -1.4h0m47.2 36.4h0m17.7 0.6h0m-22.0 -22.6h0m20.7 30.1h0m-35.7 -16.0h0m13.8 -23.2h0m18.0 48.1h0m-47.4 -46.8h0m-15.7 21.4h0m10.6 1.8h0m2.0 10.1h0m18.3 -1.0h0m29.5 -30.7h0m22.7 26.4h0m-33.5 -44.5h0m-44.3 19.7h0m28.5 26.7h0m-6.6 2.0h0m-15.8 -19.9h0m18.7 4.9h0m42.5 -2.6h0m-56.8 -33.7h0m-4.6 55.9h0m28.9 -13.4h0m12.0 -3.4h0m6.2 21.0h0m-21.2 -10.8h0m41.8 -16.9h0m-15.4 15.0h0m-29.5 14.1h0m-33.1 -22.6h0m-0.5 2.4h0m15.2 -34.0h0m8.0 43.3h0m-17.4 -9.5h0m32.3 10.2h0m-40.9 -16.0h0m50.2 17.7h0m-4.5 -7.9h0m12.5 -32.2h0m-0.7 44.7h0m-30.7 -60.3h0m1.0 63.2h0m-13.7 -11.8h0m2.5 0.7h0m11.0 -17.6h0m17.5 8.7h0m35.8 -12.4h0m-42.4 2.5h0m-4.8 23.5h0m31.9 -9.6h0m-32.6 -53.3h0m24.3 85.1h0m-43.1 -65.5h0m16.5 -16.0h0m-8.5 41.5h0m-16.7 -23.4h0m69.7 27.6h0m-65.0 8.4h0m25.1 7.0h0m23.2 -51.9h0m-7.1 47.5h0m-6.6 -47.0h0m5.1 45.1h0m6.2 -38.6h0m-37.7 -13.9h0m50.0 54.2h0m-14.0 -19.9h0m-35.6 14.8h0m-0.6 -15.9h0m29.2 9.6h0m-16.1 -48.9h0m5.0 49.9h0m28.1 -5.7h0m-20.7 -2.3h0m26.7 18.2h0m-31.1 3.0h0m41.9 -23.9h0m-69.4 -19.0h0m39.6 8.8h0m6.5 31.9h0m-31.2 9.7h0m-9.6 -22.7h0m20.5 -22.1h0m5.6 17.1h0m-20.5 28.0h0m-9.5 -27.3h0m55.4 15.3h0m-28.8 31.1h0m29.0 -34.5h0m-41.4 4.8h0m13.2 27.3h0m11.0 -24.6h0m5.3 -14.9h0m6.1 -12.5h0m-29.6 16.3h0m42.5 14.6h0m-62.9 -5.8h0m15.0 4.4h0m48.1 -16.0h0m-69.6 -18.8h0m74.1 30.9h0m-14.0 -2.6h0m19.5 -21.5h0m-37.8 11.9h0m-16.1 -30.8h0m14.4 3.2h0m9.7 -6.8h0m-31.0 48.1h0m-2.3 -17.3h0m35.4 12.2h0m-32.3 -49.6h0m-23.9 42.3h0m53.7 18.4h0m-49.9 -0.3h0m14.3 -9.5h0m36.5 -0.6h0m-19.5 4.6h0m-21.5 -44.1h0m26.7 15.8h0m-40.9 16.1h0m13.7 -6.4h0m14.0 -23.1h0m0.9 -15.5h0m6.0 60.6h0m-12.8 -53.9h0m11.3 58.4h0m-11.5 -65.7h0m-0.3 29.7h0m0.1 -2.0h0m10.5 -22.9h0m-40.1 40.9h0m58.8 4.7h0m22.3 11.3h0m-71.7 -34.9h0m-1.0 8.0h0m-8.2 2.1h0m60.2 10.3h0m23.5 9.0h0m-39.7 4.1h0m-2.0 -25.0h0m-0.0 24.7h0m-31.3 -1.1h0m50.1 -5.0h0m-40.0 4.0h0m24.6 -11.5h0m-0.9 22.0h0m-2.2 -29.8h0m10.0 17.3h0m-32.9 -27.1h0m-12.3 16.6h0m24.8 6.8h0m27.8 -14.9h0m23.3 26.6h0m-58.2 -0.2h0m16.4 -19.5h0m-6.1 -9.8h0m12.7 29.3h0m36.4 -11.8h0m-59.9 -1.7h0m6.5 -9.2h0m-6.0 -10.5h0m11.6 26.7h0m-11.8 6.6h0m-22.3 -17.7h0m5.7 -6.1h0m31.6 -31.0h0m19.1 27.1h0m13.1 -21.7h0m-52.1 39.7h0m-5.6 12.7h0m-10.1 -24.6h0m-4.1 6.4h0m40.0 13.1h0m-15.3 -23.3h0m48.2 28.3h0m3.5 -40.6h0m-51.7 30.1h0m33.7 -54.1h0m-3.0 15.4h0m1.8 18.1h0m-15.3 25.3h0m12.3 -35.1h0m1.8 -6.8h0m-27.7 20.2h0m-9.7 25.7h0m23.1 -5.3h0m-18.5 -36.5h0m5.2 40.1h0m-22.1 -35.3h0m27.1 25.1h0m-4.6 18.8h0m30.3 -37.0h0m-7.7 -3.6h0m-12.8 -34.3h0m30.6 43.0h0m-48.4 22.2h0m12.0 -1.3h0m13.4 -33.7h0m-44.1 19.8h0m34.1 -49.9h0m-2.8 62.0h0m22.4 -39.6h0m25.1 22.1h0m-46.9 -15.7h0m-15.6 18.9h0m28.8 8.0h0m6.4 -13.5h0m-13.3 -10.0h0m-15.7 -28.6h0m57.2 42.7h0m8.3 -14.2h0m-49.0 -3.3h0m18.9 19.3h0m-16.5 -46.1h0m46.3 47.8h0m-45.2 34.8h0m-28.1 -71.0h0m21.9 -10.0h0m2.3 24.2h0m-14.8 40.6h0m21.8 3.7h0m-3.5 2.7h0m2.9 -27.3h0m-30.6 -25.8h0m23.4 18.3h0m-17.6 24.9h0m18.1 -60.1h0m-8.4 36.7h0m53.6 21.8h0m-41.2 -25.5h0m-43.2 8.0h0m28.3 -42.9h0m28.6 55.2h0m13.9 -30.7h0m-11.3 21.0h0m-27.7 -4.0h0m33.7 -19.1h0m-23.2 31.6h0m1.5 -33.5h0m17.2 29.6h0m2.7 -29.0h0m-34.6 42.2h0m8.3 19.2h0m-25.5 -66.2h0m50.0 61.9h0m-39.0 -41.2h0m35.0 -13.7h0m-44.9 43.4h0m19.0 -8.0h0m-5.8 -31.6h0m12.4 38.3h0m5.6 2.9h0m43.0 -40.4h0m-49.5 -32.8h0m-4.0 64.3h0m24.3 -5.0h0m15.6 -17.5h0m-37.3 -41.0h0m-26.9 21.4h0m71.6 46.2h0m-61.5 -11.1h0m34.0 -34.7h0m5.8 -13.5h0m1.7 54.7h0m-44.7 -3.5h0m1.6 0.6h0m4.7 12.0h0m39.3 -21.4h0m-57.8 -14.5h0m72.3 -13.0h0m-42.1 29.1h0m-17.5 12.7h0m62.3 -27.2h0m-11.8 -5.2h0m-51.3 4.3h0m43.2 -1.4h0m-44.4 43.8h0m4.0 -31.2h0m30.0 10.4h0m-35.0 -20.5h0m22.2 19.7h0m-21.7 -26.5h0m6.8 4.2h0m33.2 -16.0h0m-3.8 26.2h0m-23.2 20.7h0m-18.3 -16.1h0m11.7 11.0h0m1.8 17.4h0m-23.7 -26.2h0m56.5 -17.0h0m-23.2 -29.6h0m25.3 1.5h0m-8.9 33.7h0m-17.1 21.6h0m-0.9 -32.9h0m36.1 48.6h0m-43.3 -1.2h0m3.1 -72.0h0m-4.8 32.9h0m36.4 -13.3h0m-32.5 -5.6h0m12.4 16.8h0m-28.7 1.7h0m80.0 -0.1h0m-10.2 -15.6h0m-68.1 45.4h0m0.2 -17.8h0m47.6 -20.8h0m-5.6 29.9h0m-9.3 25.8h0m-0.7 -23.0h0m13.3 -53.2h0m-34.1 73.2h0m25.8 -24.4h0m-1.1 -10.4h0m17.5 -1.1h0m-26.1 6.5h0m46.5 -13.7h0m-46.9 24.2h0m-0.1 -44.2h0m13.6 10.8h0m-7.8 50.3h0m-23.7 -26.4h0m7.7 -9.1h0m-3.3 -15.8h0m33.9 -8.4h0m-5.4 47.0h0m-31.0 -10.9h0m51.3 17.7h0m-12.4 -38.3h0m-46.5 25.4h0m20.7 -58.1h0m-22.9 18.6h0m61.9 40.0h0m-6.5 2.8h0m-24.1 20.0h0m-5.7 -83.3h0m32.6 42.2h0m-27.9 0.2h0m31.7 -0.6h0m-14.2 17.1h0m-15.1 -11.0h0m-21.3 -30.6h0m33.4 33.4h0m-39.8 -0.8h0m-11.7 -10.0h0m15.6 -32.8h0m20.8 -7.8h0m-13.0 29.9h0m-6.1 -21.9h0m7.1 22.6h0m-14.5 0.0h0m39.2 6.7h0m-27.7 -3.9h0m18.1 51.3h0m-16.2 -21.0h0m10.3 -5.7h0m19.1 3.8h0m-18.6 1.9h0m3.0 -30.1h0m21.6 -10.3h0m-49.0 23.1h0m5.8 -15.3h0m-6.1 3.1h0m23.1 -27.4h0m20.6 23.1h0m21.1 -1.5h0m-14.2 -12.6h0m3.2 32.8h0m-53.2 25.6h0m2.5 -17.9h0m23.0 -49.1h0m5.9 58.5h0m-31.3 -7.8h0m13.0 -48.7h0m-7.8 55.4h0m53.4 -2.0h0m-56.3 -3.9h0m38.2 1.8h0m6.6 -47.2h0m-33.4 -2.6h0m7.6 40.0h0m8.2 27.1h0m6.6 -58.3h0m-10.1 5.3h0m10.0 38.2h0m25.3 -21.6h0m-29.3 5.7h0m27.2 -1.8h0m-35.6 -38.5h0m-15.7 -1.8h0m-0.2 61.4h0m39.7 -23.1h0m-63.7 0.9h0m51.7 17.7h0m8.7 -4.5h0m-23.7 -56.1h0m55.5 46.5h0m-73.2 26.8h0m27.6 -42.2h0m-26.7 29.7h0m33.9 -4.1h0m-28.1 10.0h0m2.1 -2.2h0m-4.5 14.9h0m51.1 -22.1h0m-49.6 -2.3h0m37.7 5.2h0m-21.1 15.9h0m10.5 -51.1h0m5.8 58.7h0m23.0 -27.4h0m-32.9 -14.1h0m-27.1 -0.3h0m11.3 -6.8h0m27.2 7.2h0m-54.3 4.1h0m50.0 2.5h0m-15.2 -19.2h0m4.1 44.6h0m16.7 -23.9h0m-32.7 17.4h0m11.4 -69.3h0m24.7 65.8h0m-46.1 -14.7h0m-17.5 -4.7h0m82.4 10.4h0m-52.0 12.9h0m11.5 -8.1h0m-3.1 -50.8h0m7.1 76.0h0m-8.8 -86.4h0m-4.7 61.5h0m11.7 -35.2h0m-0.3 29.3h0m-4.7 -41.3h0m-13.9 4.3h0m32.5 31.0h0m1.1 33.7h0m-58.9 -32.0h0m31.8 -24.1h0m-7.7 8.7h0m-9.7 -13.7h0m30.1 16.1h0m20.5 25.6h0m2.0 -15.6h0m-11.2 -28.1h0m-37.1 15.6h0m17.0 5.0h0m9.9 10.9h0m35.7 11.4h0m-48.3 -48.4h0m4.8 -2.5h0m-28.0 9.1h0m50.0 62.2h0m-26.7 -58.2h0m-3.9 20.0h0m3.3 22.0h0m-4.2 -8.6h0m0.7 10.0h0m-10.3 -33.4h0m15.3 -33.1h0m9.2 -4.3h0m16.5 26.3h0m15.5 9.6h0m-60.8 33.3h0m30.7 -3.0h0m-19.9 -58.8h0m-2.3 26.2h0m16.1 24.3h0m24.5 4.7h0m-51.2 -21.0h0m-7.4 2.6h0m61.9 39.6h0m-23.9 -56.8h0m-13.5 -16.0h0m8.6 -10.2h0m14.1 86.8h0m-4.2 -54.9h0m-39.2 11.0h0m24.3 25.6h0m6.0 -64.5h0m6.4 77.3h0m44.1 -24.1h0m-50.1 -45.2h0m-13.2 4.6h0m9.1 30.0h0m-9.8 -35.4h0m-7.8 60.0h0m73.7 -20.2h0m-86.4 -15.4h0m44.2 16.4h0m-26.7 -18.9h0m42.2 -14.6h0m-31.2 14.5h0m-14.7 36.9h0m9.8 -53.6h0m-21.4 19.7h0m61.5 -9.8h0m-39.2 31.7h0m0.8 -10.7h0m43.3 17.4h0m-72.4 -12.0h0m67.9 26.8h0m-12.5 -17.7h0m-31.5 -19.5h0m55.1 -18.8h0m-56.8 53.9h0m21.1 -13.3h0m26.1 -17.8h0m-47.6 12.4h0m31.7 0.0h0m13.0 6.1h0m-23.7 1.5h0m-7.2 -5.0h0m-1.7 7.9h0m0.5 -49.5h0m39.5 43.3h0m-56.8 -25.4h0m1.6 -4.2h0m-18.5 20.1h0m12.4 -17.3h0m22.2 40.0h0m12.6 -11.1h0m-19.6 0.9h0m12.5 -26.4h0m23.4 9.3h0m-34.7 -32.5h0m-12.9 56.1h0m23.8 -24.0h0m-26.7 3.9h0m40.3 8.7h0m-5.8 4.1h0m-32.4 -8.3h0m-14.8 -4.6h0m24.0 -43.6h0m51.0 14.8h0m-19.2 0.5h0m14.4 10.7h0m-47.1 0.1h0m56.4 -12.5h0m-58.2 56.2h0m15.4 -67.7h0m0.2 6.8h0m-20.6 31.5h0m19.3 11.7h0m7.4 3.1h0m-14.1 -52.8h0m25.6 22.3h0m-15.3 45.9h0m3.0 -24.0h0m28.7 4.6h0m-4.9 -36.7h0m-42.9 8.3h0m54.3 37.2h0m-37.6 9.1h0m39.1 -8.1h0m-51.8 -26.9h0m34.7 -5.5h0m-37.7 -18.6h0m51.7 5.5h0m-17.8 -10.9h0m6.3 60.1h0m-63.3 -25.2h0m53.2 -17.9h0m-41.7 -10.4h0m21.2 1.0h0m9.6 57.0h0m-13.5 -69.4h0m38.4 54.5h0m-29.7 -27.3h0m-16.2 28.9h0m-0.9 -20.0h0m8.1 -14.6h0m-6.2 -11.3h0m16.1 37.9h0m37.5 -33.8h0m-7.4 2.1h0m-53.8 34.4h0m52.4 -16.5h0m-41.7 1.3h0m8.8 5.8h0m1.4 2.2h0m-9.3 -41.9h0m-11.6 12.2h0m26.5 59.6h0m21.1 -10.0h0m-44.9 -35.3h0m46.9 21.5h0m1.6 3.4h0m-22.6 -28.8h0m10.3 16.8h0m-13.3 -14.0h0m21.1 47.2h0m-45.1 -19.1h0m2.1 2.9h0m2.2 -48.9h0m53.3 45.0h0m-50.0 -29.5h0m20.9 31.2h0m29.8 -32.1h0m-5.6 42.1h0m13.5 -16.9h0m-60.6 -25.5h0m-1.4 13.2h0m38.3 -3.6h0m-19.2 21.0h0m22.6 -17.4h0m-27.6 25.9h0m42.7 -25.9h0m-51.9 0.1h0m20.0 5.8h0m-17.2 -30.5h0m22.6 -3.5h0m24.7 20.9h0m-31.6 15.8h0m-32.0 -33.4h0m19.7 -8.3h0m42.3 33.1h0m-77.6 7.0h0m45.2 30.2h0m20.4 -40.7h0m-7.6 -18.2h0m-17.0 18.5h0m5.2 37.6h0m18.2 -25.2h0m-15.9 -2.6h0m37.8 -12.8h0m-15.3 23.1h0m-35.9 -3.3h0m41.5 3.2h0m-13.3 -9.2h0m-11.7 -32.3h0m4.6 17.4h0m-19.8 -4.8h0m21.3 25.9h0m15.8 7.2h0m-30.5 8.7h0m13.8 -57.8h0m-41.0 59.2h0m19.7 -44.9h0m29.0 -5.5h0m-4.3 37.7h0m-43.1 -0.8h0m52.8 4.9h0m-13.9 -10.6h0m-2.8 4.5h0m17.3 -11.7h0m5.3 -8.2h0m-35.7 5.4h0m29.7 -19.5h0m-37.2 21.1h0m35.8 32.7h0m-60.8 -30.1h0m51.6 -37.1h0m20.1 36.8h0m-39.1 12.0h0m41.9 -19.0h0m-60.7 -14.9h0m60.5 1.6h0m-61.0 -11.1h0m56.8 26.6h0m-59.8 -13.2h0m10.3 11.7h0m57.9 -0.6h0m-45.1 14.9h0m-15.3 -16.9h0m17.1 44.3h0m0.2 -50.9h0m-24.5 -19.0h0m23.0 29.8h0m2.7 -12.2h0m16.5 25.7h0m-22.5 -0.3h0m3.0 3.7h0m-7.8 -51.0h0m9.7 31.3h0m-0.4 -37.2h0m-18.0 13.9h0m42.2 11.5h0m-19.4 37.0h0m-21.5 -7.9h0m51.1 -3.5h0m-27.2 5.3h0m-27.1 0.2h0m1.4 -22.1h0m30.6 25.8h0m-0.2 -55.7h0m-16.2 38.3h0m-16.0 9.9h0m23.4 -3.6h0m43.5 -16.9h0m-40.2 17.2h0m42.0 -16.9h0m-53.0 30.9h0m33.7 -37.5h0m7.8 35.3h0m-14.8 -2.1h0m-30.5 -31.5h0m10.9 40.9h0m-3.6 -71.9h0m-7.2 16.7h0m0.7 28.6h0m54.3 9.7h0m-53.7 -55.0h0m16.9 60.2h0m-14.5 -60.1h0m9.7 58.2h0m-0.6 -2.6h0m14.7 -32.9h0m-0.9 34.5h0m-17.9 -59.9h0m24.6 80.2h0m5.4 -24.0h0m-36.7 12.8h0m-3.3 -5.1h0m5.0 -46.5h0m2.7 17.0h0m-25.3 44.4h0m27.7 -28.6h0m-24.6 -21.4h0m22.8 29.2h0m4.4 -28.1h0m-25.1 42.0h0m1.3 -23.4h0m-1.5 -7.1h0m13.5 6.7h0m-32.7 -11.3h0m18.6 0.7h0m16.1 3.6h0m-14.2 18.6h0m35.7 -21.5h0m-58.1 4.8h0m76.2 18.1h0m-47.0 -34.1h0m7.3 -9.4h0m51.5 20.0h0m-67.3 -5.8h0m18.7 29.6h0m-4.6 5.8h0m-1.7 -60.0h0m-16.6 69.9h0m31.7 9.5h0m44.6 -32.3h0m-42.9 6.4h0m-27.5 1.7h0m19.1 -14.4h0m43.1 -13.6h0m-41.1 -29.7h0m-43.4 30.6h0m22.0 33.2h0m58.1 -31.1h0m-36.4 7.8h0m34.3 3.8h0m-42.8 18.7h0m-8.5 -24.5h0m-7.3 16.5h0m19.6 -11.2h0m-12.0 -8.6h0m2.6 -24.2h0m9.7 1.0h0m37.7 19.3h0m-38.9 30.0h0m22.7 -8.1h0m-30.5 8.4h0m-2.0 -53.8h0m-23.5 32.9h0m14.0 -21.6h0m66.5 40.4h0m-51.4 -58.9h0m-1.0 24.4h0m36.2 15.4h0m1.4 18.9h0m-34.0 -61.0h0m3.5 67.3h0m29.1 -15.5h0m-2.7 -29.2h0m-21.1 35.7h0m-24.8 -24.6h0m29.0 -5.8h0m16.3 -20.5h0m-34.6 -0.4h0m38.5 12.7h0m10.0 11.2h0m-45.0 -2.8h0m46.7 8.5h0m-37.4 26.7h0m38.1 0.7h0m-63.3 -1.4h0m21.6 -31.9h0m19.4 -19.5h0m17.5 51.5h0m-31.6 -14.8h0m13.2 -3.1h0m-17.5 4.2h0m25.3 -7.5h0m-53.2 -23.3h0m42.3 2.5h0m-25.3 -5.3h0m4.8 -7.6h0m46.6 54.8h0m-16.4 -29.0h0m10.8 -9.6h0m-50.3 7.6h0m45.1 0.7h0m-20.5 -20.5h0m-14.6 46.9h0m9.9 -1.4h0m43.6 -13.1h0m-56.6 -40.8h0m15.2 51.0h0m-15.3 -16.4h0m-4.1 24.9h0m12.4 -10.3h0m-13.8 2.0h0m15.1 6.7h0m-2.3 -45.4h0m-10.3 38.9h0m41.4 13.2h0m-62.6 -30.6h0m44.0 0.6h0m31.2 -1.5h0m7.9 -2.5h0m-68.7 3.7h0m69.2 -4.0h0m-43.9 41.2h0m-2.4 -19.9h0m-28.5 -7.3h0m57.7 -30.4h0m-44.2 37.0h0m1.9 9.3h0m-13.3 -50.3h0m-14.9 32.8h0m73.6 -5.9h0m-32.6 42.6h0m9.9 -24.3h0m-12.1 -58.8h0m0.2 57.7h0m-2.0 -27.9h0m-5.0 31.5h0m7.3 -39.1h0m-3.6 40.7h0m42.6 -5.4h0m-69.2 -15.0h0m19.6 -17.0h0m5.6 -21.5h0m-2.4 39.2h0m39.1 27.8h0m-53.1 -34.1h0m-12.8 -7.2h0m49.6 15.4h0m-37.5 8.9h0m29.0 -22.0h0m16.8 22.7h0m-64.6 -1.4h0m51.2 9.2h0m1.1 -2.8h0m16.2 -19.7h0m-52.2 -11.9h0m25.8 -31.6h0m-1.3 57.2h0m-13.1 -13.3h0m18.2 13.9h0m-48.5 -3.9h0m68.2 -8.3h0m-27.6 5.4h0m20.3 -2.8h0m-20.6 12.5h0m-3.8 -12.1h0m49.9 -6.2h0m-34.0 11.6h0m31.8 -16.2h0m-55.4 -1.9h0m26.9 13.5h0m-27.9 21.7h0m53.1 -0.9h0m-30.3 -23.7h0m22.8 8.7h0m-11.1 8.0h0m-42.0 -30.7h0m-4.0 -13.7h0m62.2 55.6h0m-28.5 -37.5h0m-34.5 -12.9h0m32.8 19.6h0m-22.7 -25.8h0m-22.0 33.9h0m15.6 33.4h0m23.9 -23.5h0m-18.7 -6.5h0m47.0 8.9h0m-31.6 8.1h0m29.9 7.1h0m-48.3 -3.5h0m69.6 -25.9h0m-40.9 -35.0h0m0.1 36.8h0m-5.8 -28.2h0m-41.3 35.1h0m20.2 -17.6h0m22.7 17.7h0m3.5 -36.2h0m15.3 5.6h0m20.3 34.9h0m-65.5 -24.1h0m6.9 23.0h0m1.0 -25.9h0m-22.3 8.8h0m17.6 13.1h0m59.4 2.4h0m-52.8 8.3h0m-9.7 4.5h0m40.1 -7.4h0m18.5 -41.3h0m-47.4 23.8h0m42.4 7.8h0m-35.3 -44.7h0m23.9 26.6h0m-19.9 20.3h0m-25.9 -7.4h0m66.5 18.0h0m-58.6 -0.0h0m14.6 19.5h0m29.2 -67.2h0m-3.2 42.4h0m-33.4 -21.0h0m41.2 -4.0h0m-53.1 32.1h0m0.4 -0.3h0m5.2 -51.2h0m6.8 23.0h0m50.4 19.7h0m-59.4 -29.4h0m35.8 3.1h0m-48.9 5.3h0m23.2 -30.7h0m-6.2 61.0h0m18.1 -45.0h0m-11.6 36.7h0m29.4 3.2h0m-31.5 -46.7h0m7.7 -8.7h0m-16.0 49.6h0m60.6 -27.8h0m-19.1 20.5h0m-2.4 -26.6h0m11.5 -2.7h0m-48.5 -15.0h0m46.7 51.0h0m18.1 0.6h0m-18.9 7.0h0m-52.7 -33.1h0m19.7 -4.1h0m56.1 12.7h0m-10.1 25.3h0m-54.5 -21.5h0m-16.9 -2.4h0m46.1 20.0h0m22.7 -31.8h0m-35.6 51.7h0m-15.5 -44.8h0m35.6 -22.5h0m-26.7 -14.9h0m45.5 63.2h0m-13.6 0.2h0m-36.3 0.0h0m-11.7 -24.9h0m23.9 35.5h0m-20.1 -3.2h0m-13.0 -27.3h0m-7.9 -6.2h0m46.3 -17.0h0m-13.4 -2.6h0m-3.1 -1.9h0m17.4 9.9h0m24.8 39.6h0m-5.6 12.5h0m5.6 -22.8h0m-4.6 -18.9h0m-28.9 -10.7h0m-14.3 40.7h0m9.6 -58.0h0m-9.6 7.3h0m1.6 32.7h0m18.5 21.1h0m-20.9 -9.6h0m46.2 -32.5h0m-41.5 30.8h0m3.0 -43.2h0m-4.8 27.8h0m18.5 42.1h0m35.0 -25.6h0m-45.6 10.3h0m-4.6 -0.0h0m25.9 -53.3h0m-29.3 19.3h0m-24.3 -1.4h0m14.4 21.7h0m-7.0 -22.1h0m26.4 -22.3h0m-29.5 58.2h0m48.2 -45.9h0m-15.1 38.1h0m-5.5 7.8h0m47.0 -11.6h0m-86.2 -9.8h0m87.7 -12.7h0m-66.4 24.5h0m59.8 1.1h0m-62.4 -40.8h0m-4.9 0.9h0m47.2 24.3h0m-19.1 18.2h0m11.2 -16.5h0m-11.6 7.7h0m-8.0 2.7h0m5.2 -41.0h0m37.6 12.8h0m-16.5 30.2h0m-22.8 -45.4h0m14.7 46.9h0m-17.1 -13.3h0m12.0 -14.6h0m-18.2 24.5h0m37.9 -11.2h0m-18.7 -22.7h0m-23.3 18.3h0m30.7 -10.9h0m-8.8 7.0h0m-23.7 24.1h0m59.3 -29.8h0m-75.8 0.8h0m-3.0 10.0h0m42.8 17.3h0m-6.0 -11.2h0m-16.1 -43.3h0m21.5 52.9h0m-19.9 -12.1h0m-5.2 26.0h0m47.7 -53.3h0m17.7 28.5h0m-53.8 14.5h0m-5.4 -44.7h0m3.1 -13.0h0m32.1 23.9h0m-43.9 -12.0h0m41.3 32.7h0m-17.7 -41.3h0m-39.9 27.3h0m62.3 48.7h0m-22.6 -11.1h0m-1.3 -73.6h0m43.7 32.6h0m-3.9 33.0h0m-54.7 -29.7h0m58.0 14.6h0m-53.4 -17.1h0m-4.8 23.9h0m57.6 4.1h0m-23.3 -5.4h0m-23.6 -9.4h0m-15.0 -6.6h0m32.7 45.7h0m14.1 -2.7h0m-23.5 -25.3h0m-3.4 11.0h0m-6.6 -39.1h0m43.0 -1.5h0m15.1 27.1h0m-13.1 8.8h0m-32.5 -2.0h0m-6.9 -56.4h0m24.2 45.8h0m-39.4 26.7h0m21.4 -26.3h0m-4.4 2.6h0m12.0 5.7h0m16.0 -9.0h0m15.1 -3.5h0m-29.3 36.0h0m9.5 -59.8h0m-40.8 32.1h0m58.1 14.2h0m-60.7 -12.7h0m13.2 -10.1h0m34.1 -31.0h0m-12.5 29.3h0m-23.2 10.8h0m9.6 -27.2h0m-26.5 -6.4h0m49.1 37.5h0m-26.4 -43.5h0m-5.7 -8.4h0m-8.6 70.6h0m15.1 -67.1h0m-18.5 51.3h0m23.5 -62.4h0m-16.0 6.1h0m60.4 25.0h0m-11.1 -6.4h0m-16.4 45.2h0m-38.7 -28.9h0m37.9 -16.0h0m-7.5 32.1h0m-24.8 0.6h0m12.2 -26.3h0m31.3 31.8h0m-18.9 -0.7h0m19.1 -19.9h0m-27.7 18.2h0m36.2 7.8h0m-47.9 -32.9h0m44.0 31.3h0m-38.7 -60.2h0m8.7 35.6h0m-10.9 -27.1h0m14.2 60.6h0m-16.7 -60.8h0m11.6 28.1h0m21.3 13.8h0m-3.1 -18.1h0m0.8 15.1h0m1.0 -20.1h0m7.3 4.5h0m-32.8 47.5h0m4.1 -84.3h0m20.6 68.8h0m13.8 -31.0h0m-5.5 9.9h0m-39.6 6.4h0m16.1 5.2h0m-2.2 19.7h0m43.2 -27.6h0m-3.1 -19.2h0m-62.2 42.1h0m11.6 -13.6h0m-8.4 -56.3h0m16.8 19.0h0m-21.1 1.7h0m62.0 31.1h0m-24.3 1.5h0m-55.9 -15.8h0m75.8 24.2h0m-38.5 -32.3h0m-3.3 33.9h0m22.3 -3.6h0m-35.4 -47.5h0m17.2 38.4h0m19.2 -7.7h0m-43.8 12.2h0m42.3 1.9h0m-29.0 -52.0h0m23.6 10.4h0m-11.0 4.3h0m28.4 34.9h0m-42.7 4.4h0m15.4 -15.7h0m3.7 -31.8h0m-11.7 12.7h0m37.6 35.9h0m-33.4 -9.6h0m12.7 -44.4h0m-11.2 46.8h0m5.9 -27.5h0m-5.2 38.2h0m3.7 -10.3h0m-18.8 -51.8h0m-10.0 54.3h0m28.4 -24.1h0m-15.8 1.8h0m2.5 -0.5h0m11.6 50.7h0m7.8 -34.1h0m-29.7 2.5h0m1.7 10.8h0m7.5 -5.9h0m31.3 -52.9h0m-13.4 39.0h0m-1.9 -14.7h0m-44.5 14.4h0m85.2 -3.4h0m-49.2 -9.6h0m-34.4 14.4h0m25.9 10.3h0m33.0 -33.3h0m-49.5 43.2h0m51.0 -49.6h0m-41.6 26.9h0m52.3 25.2h0m-29.6 -18.6h0m22.8 -29.3h0m18.4 7.8h0m-4.3 -9.2h0m-60.2 10.6h0m-12.1 7.4h0m56.0 -25.8h0m-46.0 14.1h0m19.4 23.9h0m-32.0 -20.5h0m11.6 35.8h0m15.5 -67.7h0m-1.4 43.3h0m-13.2 -13.8h0m5.0 -2.1h0m-3.2 37.8h0m60.0 -14.7h0m1.9 -1.8h0m-7.9 9.9h0m-48.0 -50.5h0m3.7 59.0h0m38.2 -4.1h0m-42.3 -46.9h0m17.5 12.1h0m21.2 30.0h0m-53.2 3.7h0m58.1 -1.2h0m-8.5 -27.8h0m-14.1 20.4h0m9.9 0.9h0m4.0 -21.1h0m-22.9 30.4h0m2.3 -12.0h0m33.0 -11.0h0m-40.7 -4.4h0m28.6 8.9h0m-28.8 -2.6h0m3.7 -30.2h0m3.2 53.0h0m-24.3 -51.9h0m3.2 -1.8h0m0.8 23.4h0m55.5 2.6h0m-5.3 21.4h0m-24.6 -31.7h0m28.0 -2.0h0m-57.8 12.9h0m57.6 25.4h0m-19.8 -49.3h0m-25.4 27.4h0m-9.9 38.9h0m53.3 -8.8h0m-4.0 -44.2h0m-7.8 39.6h0m-9.3 -31.8h0m9.2 -16.8h0m-16.4 37.4h0m1.6 -25.0h0m6.3 11.6h0m-25.1 -26.7h0m11.1 -11.0h0m18.4 52.4h0m8.2 -16.0h0m-17.7 17.3h0m-27.1 -51.7h0m48.0 25.7h0m-27.2 28.1h0m-42.6 -13.2h0m43.3 31.6h0m27.5 -54.1h0m-25.3 51.1h0m16.3 -17.3h0m-52.5 -20.4h0m16.7 15.9h0m38.0 -49.3h0m-35.0 34.3h0m10.2 -31.3h0m-10.7 27.1h0m31.2 -25.3h0m-45.0 56.4h0m11.8 -61.3h0m31.1 9.8h0m-12.3 40.0h0m-5.3 30.0h0m-7.4 -81.3h0m18.5 25.1h0m-8.0 -31.9h0m23.1 57.6h0m-44.7 -3.7h0m23.9 8.7h0m-4.6 -62.6h0m8.4 22.7h0m-24.1 37.4h0m55.5 -22.8h0m-34.8 48.7h0m10.0 -22.7h0m-48.9 -25.0h0m52.8 -18.0h0m30.2 37.1h0m-58.8 -43.2h0m7.8 4.9h0m-22.6 5.8h0m24.8 29.2h0m35.4 2.3h0m-18.1 -37.6h0m-36.6 38.5h0m16.2 -55.1h0m-10.9 58.0h0m4.2 9.7h0m-6.7 -12.3h0m4.8 -51.5h0m13.5 0.1h0m-0.2 59.2h0m-21.3 -4.9h0m32.7 -10.7h0m14.5 13.6h0m14.1 6.9h0m-14.3 -2.3h0m-47.9 8.9h0m30.7 3.6h0m23.9 -15.5h0m-57.0 -31.8h0m5.2 1.0h0m17.2 32.5h0m32.9 -20.4h0m-8.6 40.4h0m-13.1 -21.0h0m25.8 -41.4h0m-44.6 13.0h0m-8.3 20.0h0m17.5 15.4h0m4.8 13.3h0m22.0 -52.2h0m4.8 25.6h0m-49.2 -24.3h0m-6.7 17.9h0m13.0 -10.0h0m23.8 -10.4h0m-10.7 -29.1h0m-23.3 45.5h0m15.1 19.1h0m-23.2 -44.9h0m60.9 -1.0h0m-34.2 41.9h0m-17.7 -28.5h0m20.4 17.6h0m11.0 3.2h0m19.9 -9.0h0m-48.7 -7.3h0m25.0 45.5h0m-44.1 -30.8h0m48.0 -12.6h0m-51.9 15.5h0m76.3 -17.7h0m10.6 9.6h0m-22.6 6.6h0" stroke="#7ecb3b" stroke-width="1.4" stroke-linecap="round" fill="none"/>
<path d="M428.3 57.1h0m-1.2 -0.0h0m30.4 51.0h0m-31.2 -53.1h0m35.0 28.6h0m-3.4 -0.1h0m-2.5 7.8h0m-25.1 -1.8h0m44.0 5.8h0m8.5 10.2h0m-30.4 -28.7h0m-19.6 -11.2h0m-1.7 9.6h0m23.6 -46.1h0m-26.1 22.7h0m8.3 52.9h0m-6.1 -45.8h0m26.1 -32.6h0m-29.3 58.8h0m31.8 1.2h0m-36.7 -11.7h0m20.3 22.2h0m9.9 -40.8h0m41.3 38.5h0m-58.4 -33.1h0m23.6 24.6h0m23.8 7.4h0m-10.0 13.8h0m-8.1 -19.6h0m-13.7 -11.5h0m22.9 19.7h0m-32.4 -1.0h0m-7.4 -49.4h0m7.9 0.3h0m11.1 62.1h0m-22.3 -26.1h0m-3.1 -25.8h0m4.6 0.2h0m46.6 33.7h0m-20.3 6.8h0m-45.0 -28.1h0m3.7 10.1h0m8.7 -5.7h0m24.0 39.8h0m-14.6 -52.3h0m8.3 -11.7h0m4.0 -17.8h0m-3.1 42.6h0m16.5 36.7h0m-6.0 -80.0h0m-25.3 27.8h0m-6.0 8.2h0m23.9 -34.5h0m-18.4 76.4h0m4.4 -35.5h0m3.1 -3.5h0m10.6 -14.2h0m11.9 32.2h0m-47.3 -6.2h0m24.4 1.5h0m-12.3 -35.7h0m17.0 -10.5h0m33.4 74.0h0m-10.8 -18.3h0m-2.9 -2.9h0m-34.7 -24.2h0m9.2 45.1h0m7.6 -67.8h0m16.9 68.4h0m27.5 -12.3h0m-23.7 3.9h0m15.3 -12.7h0m-21.5 13.6h0m-1.7 -75.1h0m-42.3 54.9h0m47.1 18.7h0m-17.1 -55.5h0m-24.2 29.2h0m34.9 15.8h0m25.3 0.1h0m-28.7 1.0h0m-0.6 0.5h0m-26.5 -7.1h0m23.1 -1.6h0m-11.5 18.7h0m-22.9 -31.0h0m14.2 -0.7h0m30.5 39.3h0m-9.2 -76.9h0m-0.0 -6.1h0m-35.1 44.1h0m80.3 21.0h0m-18.6 17.4h0m-45.8 -62.1h0m53.2 56.3h0m-42.0 -59.0h0m20.3 66.2h0m-33.6 -53.9h0m8.9 -11.7h0m-0.0 23.8h0m-16.2 -8.0h0m30.3 -30.4h0m-12.2 3.8h0m-3.6 40.5h0m-1.5 32.7h0m9.6 -26.6h0m-9.2 -10.0h0m11.4 22.2h0m-1.2 4.9h0m-14.9 -23.3h0m7.4 -6.0h0m-11.2 -9.7h0m30.7 -8.3h0m18.2 42.4h0m-36.2 9.0h0m14.9 -10.2h0m-39.6 -21.6h0m15.0 33.7h0m-4.7 -46.8h0m31.1 -27.0h0m-4.1 25.0h0m33.7 39.4h0m-53.4 -20.5h0m30.1 31.2h0m-18.1 -8.9h0m44.3 4.9h0m-0.2 -12.9h0m-32.4 22.9h0m4.2 -4.0h0m-40.4 -48.1h0m58.8 50.0h0m-23.6 -30.7h0m-11.8 -4.3h0m-8.0 26.5h0m-9.5 -22.5h0m5.4 -4.0h0m-15.9 -9.7h0m-1.4 2.8h0m53.1 34.3h0m-31.2 -60.5h0m-11.0 22.5h0m7.4 -0.9h0m12.7 -16.2h0m-13.1 -6.6h0m20.1 -12.6h0m-2.0 6.2h0m-19.7 68.8h0m14.2 -9.2h0m20.5 5.4h0m11.6 -11.0h0m-37.2 16.4h0m6.4 -54.1h0m-3.4 -4.3h0m13.4 52.4h0m-8.0 -45.3h0m-30.4 29.0h0m19.6 -2.0h0m-1.9 -16.8h0m11.5 -19.4h0m20.5 58.2h0m-44.1 -34.1h0m39.6 24.6h0m-13.4 -44.1h0m12.7 36.1h0m-11.6 -41.6h0m1.6 -14.7h0m-7.0 23.2h0m-12.2 32.9h0m47.9 5.4h0m-20.9 20.8h0m-31.2 -22.9h0m46.7 24.5h0m-38.1 -51.1h0m10.0 33.7h0m23.4 -2.5h0m-44.6 -35.6h0m34.7 38.4h0m27.5 -4.1h0m-55.5 -8.6h0m30.8 21.3h0m-3.6 -4.0h0m-2.6 -72.8h0m-35.8 36.8h0m7.2 8.0h0m44.8 16.0h0m-42.0 -1.9h0m10.9 19.8h0m-21.5 -31.3h0m15.3 33.1h0m20.5 3.9h0m-8.4 -2.8h0m-33.0 -45.8h0m49.9 17.6h0m-48.8 -2.5h0m42.8 9.7h0m4.2 7.3h0m16.0 14.1h0m-44.3 -7.1h0m-0.3 -37.3h0m-0.4 16.8h0m-8.1 -20.4h0m67.4 33.3h0m-4.9 4.6h0m-57.4 -46.5h0m-11.1 16.4h0m67.5 22.0h0m-57.9 11.0h0m24.7 -22.3h0m-31.6 -20.3h0m38.9 55.8h0m-3.9 -65.8h0m34.0 42.6h0m-35.7 -5.3h0m1.4 -59.8h0m-19.6 57.7h0m0.3 -38.5h0m8.9 -13.3h0m4.3 72.1h0m-2.0 -71.6h0m-3.9 20.5h0m3.4 -7.5h0m6.4 -20.8h0m4.0 1.9h0m4.6 62.8h0m1.0 -3.9h0m-6.1 15.3h0m18.2 -7.4h0m-60.8 -32.0h0m21.8 -17.0h0m-8.5 11.7h0m28.3 -26.3h0m-11.2 2.7h0m25.2 56.6h0m-12.4 2.6h0m-26.8 -42.0h0m41.0 46.1h0m-33.1 -57.4h0m-9.8 4.7h0m11.1 2.5h0m-9.4 59.9h0m50.1 2.2h0m-24.5 -13.3h0m-25.7 -34.2h0m-6.1 8.9h0m-2.1 20.5h0m1.6 -14.6h0m-6.8 -19.7h0m13.8 14.8h0m57.8 23.4h0m-57.0 -29.1h0m0.4 27.9h0m-13.0 -17.0h0m18.7 -33.3h0m-20.5 20.6h0m29.9 12.2h0m4.0 15.3h0m36.6 9.4h0m-27.8 0.6h0m3.2 -4.1h0m-32.0 -55.2h0m12.0 -3.5h0m31.3 73.3h0m-35.1 -79.3h0m15.9 70.5h0m3.0 -12.5h0m-25.7 -33.0h0m10.5 -21.5h0m-8.7 19.0h0m-1.7 9.6h0m-2.5 3.1h0m51.8 28.6h0m9.3 -3.1h0m-66.0 -16.0h0m24.2 -47.5h0m-1.7 46.9h0m-30.8 -5.9h0m69.5 27.4h0m-57.6 -37.0h0m9.4 35.1h0m-19.2 -35.5h0m9.3 26.9h0m29.3 -60.2h0m-9.2 18.1h0m-17.1 -4.3h0m1.9 -0.1h0m19.5 69.7h0m28.9 -21.0h0m-42.4 -55.2h0m17.5 75.4h0m-4.5 -31.7h0m-21.4 5.6h0m29.1 27.6h0m-4.8 -11.7h0m-36.5 -23.4h0m39.9 23.1h0m-31.9 -36.5h0m-0.3 -5.8h0m4.5 41.6h0m5.3 -43.8h0m-12.0 5.9h0m-12.0 -0.4h0m43.6 -8.7h0m-30.2 7.5h0m58.2 33.1h0m-54.4 -29.2h0m34.7 30.9h0m-31.3 -53.6h0m-1.4 46.6h0m24.0 12.4h0m-24.2 -21.6h0m19.8 -49.3h0m18.8 61.8h0m-25.2 -16.8h0m42.5 20.2h0m-55.4 -15.0h0m-2.0 -37.6h0m52.3 50.1h0m-29.2 -62.7h0m-15.3 56.2h0m-7.9 -0.3h0m3.9 17.2h0m-6.4 -54.4h0m0.9 56.9h0m1.7 -17.0h0m38.6 25.9h0m-19.1 -80.5h0m-8.9 11.0h0m-19.4 17.0h0m25.4 -15.1h0m-13.2 13.3h0m20.7 45.6h0m11.4 -15.4h0m-9.5 4.7h0m0.4 6.3h0m-34.5 -13.3h0m31.8 11.6h0m17.3 -7.7h0m13.3 13.8h0m-38.4 -73.2h0m1.1 14.5h0m37.4 49.2h0m-50.6 2.4h0m-9.6 -31.5h0m-8.3 4.2h0m39.1 17.5h0m36.2 4.1h0m-35.7 11.3h0m0.5 -1.0h0m-23.2 -4.4h0m-19.7 -16.9h0m44.5 7.2h0m18.6 7.1h0m-45.6 -31.5h0m62.7 31.0h0m-38.5 -65.1h0m-5.7 62.6h0m41.9 1.5h0m-22.0 -1.5h0m10.9 14.3h0m8.2 -4.6h0m-5.0 0.1h0m-52.7 -1.2h0m11.8 -3.0h0m2.2 -53.9h0m3.4 12.9h0m16.1 31.1h0m-42.2 -21.6h0m4.5 28.9h0m32.7 9.3h0m-28.9 -34.6h0m26.6 22.7h0m-22.0 -31.5h0m10.9 -21.3h0m-12.3 31.1h0m1.8 -7.2h0m8.4 -29.3h0m20.5 55.5h0m-48.2 -10.6h0m30.2 -42.6h0m35.7 54.7h0m-2.1 4.1h0m-25.0 12.2h0m-22.5 -64.2h0m-2.1 15.6h0m55.9 34.1h0m-56.1 -44.9h0m6.7 55.1h0m21.7 1.9h0m-25.4 -35.3h0m51.6 22.5h0m-68.1 -14.8h0m36.2 -33.7h0m-22.0 -2.1h0m2.8 25.0h0m19.1 13.1h0m5.6 -53.8h0m-43.5 38.8h0m32.3 -30.7h0m12.6 78.4h0m-10.0 -14.5h0m-19.6 6.3h0m23.7 -27.6h0m5.6 12.3h0m-37.3 -26.7h0m46.5 29.2h0m-27.5 -58.7h0m35.7 76.8h0m-32.2 -75.8h0m-25.5 24.6h0m0.9 5.9h0m69.7 36.0h0m-40.4 -6.7h0m-16.6 7.8h0m47.1 0.4h0m-52.9 -29.6h0m56.9 20.2h0m-8.0 7.5h0m-20.7 -46.8h0m-20.3 -1.9h0m19.9 3.7h0m-6.9 44.6h0m-29.5 -28.1h0m14.5 -1.9h0m-3.2 -23.2h0m20.8 -16.5h0m-3.7 66.6h0m3.3 -40.0h0m8.9 54.6h0m34.6 -19.2h0m-66.8 -42.6h0m3.9 -0.3h0m3.6 34.3h0m-9.1 -23.8h0m6.7 42.8h0m-14.8 -28.2h0m60.0 25.8h0m-44.5 -31.1h0m-6.7 -2.3h0m-11.9 8.0h0m10.9 -0.4h0m0.5 -17.2h0m28.2 -25.8h0m-31.6 28.5h0m0.6 0.2h0m50.2 47.5h0m-13.0 -25.9h0m-13.9 -5.5h0m-3.7 -0.1h0m-9.7 -16.7h0m21.6 -27.1h0m32.0 69.5h0m-38.1 11.3h0m10.9 -6.0h0m-20.9 -12.8h0m48.6 6.8h0m-37.2 12.2h0m-20.5 -49.1h0m37.7 43.0h0m-13.5 -16.1h0m-15.6 -35.0h0m-4.5 42.8h0m2.3 -20.1h0m-5.3 13.1h0m7.9 -5.6h0m-4.9 17.5h0m4.1 -48.6h0m-4.7 -11.5h0m-6.1 51.2h0m47.7 2.5h0m-41.7 -54.5h0m5.4 34.1h0m-6.0 -16.7h0m49.3 46.0h0m-23.7 -15.9h0m-19.6 -7.4h0m0.1 -39.1h0m8.7 35.2h0m-21.8 -6.6h0m14.1 11.8h0m10.8 -52.9h0m-18.3 25.9h0m20.3 44.5h0m-28.4 -38.0h0m30.2 36.8h0m-11.4 -50.2h0m-9.7 -8.3h0m4.1 22.0h0m20.4 40.1h0m-0.4 -5.7h0m38.6 -4.9h0m-54.9 -55.8h0m-23.2 20.2h0m17.6 4.4h0m-3.5 46.3h0m-7.9 -19.4h0m7.1 -43.6h0m35.4 48.0h0m-49.9 -17.8h0m12.5 -26.1h0m0.5 13.8h0m-14.5 4.3h0m11.9 -15.4h0m56.0 51.8h0m-48.7 -25.6h0m-15.2 -8.3h0m12.9 -16.8h0m6.4 18.0h0m-8.0 16.4h0m2.7 -12.6h0m27.6 36.8h0m-5.4 -7.9h0m-24.9 -18.0h0m-1.8 -26.1h0m6.3 49.5h0m26.5 1.0h0m-28.1 -44.5h0m-13.2 -5.3h0m18.1 49.6h0m39.2 0.8h0m15.5 -14.3h0m-74.5 -15.6h0m72.4 13.5h0m-24.3 18.5h0m-38.6 -43.9h0m-3.6 -4.6h0m53.4 31.5h0m-38.3 -60.7h0m-1.6 74.9h0m45.7 -20.3h0m-56.6 -28.9h0m40.9 23.8h0m-37.6 -30.7h0m4.4 15.0h0m59.4 25.8h0m-7.8 9.7h0m-23.8 -1.7h0m-13.7 -50.6h0m15.1 49.3h0m-18.1 2.2h0m36.3 4.7h0m-33.1 -74.5h0m25.5 57.0h0m-48.3 -41.9h0m59.2 43.7h0m-46.8 15.8h0m41.2 -18.3h0m-65.1 -25.1h0m46.1 35.2h0m2.8 -20.5h0m-9.9 -3.7h0m24.7 23.9h0m17.1 -10.4h0m-50.0 -42.8h0m1.9 1.0h0m15.4 64.4h0m-38.8 -50.2h0m6.8 -6.6h0m15.2 -12.6h0m-7.7 39.5h0m18.4 -27.5h0m0.8 52.4h0m-12.6 -33.8h0m18.5 28.3h0m-20.9 -7.1h0m6.0 2.4h0m32.4 13.2h0m4.4 -10.3h0m-0.1 -7.0h0m-39.5 4.2h0m13.5 2.3h0m-6.6 1.3h0m1.8 -21.4h0m14.0 15.9h0m-30.0 -24.2h0m13.6 -43.9h0m0.2 71.2h0m-9.9 7.3h0m-8.1 -56.6h0m-4.8 49.3h0m19.8 -65.4h0m-12.9 9.4h0m9.7 -11.0h0m27.5 60.1h0m-46.6 -5.4h0m21.8 -5.0h0m-11.4 -37.7h0m9.1 -7.9h0m45.0 58.3h0m-75.4 -15.2h0m18.5 -20.2h0m0.7 3.3h0m18.9 35.7h0m-13.7 -56.4h0m32.9 47.8h0m-47.1 8.3h0m9.8 3.4h0m-0.4 -23.6h0m13.0 -26.7h0m-31.4 18.8h0m6.4 7.5h0m43.7 17.0h0m-21.7 -46.3h0m10.9 52.8h0m3.3 -71.8h0m1.4 54.9h0m-9.1 -26.6h0m33.5 42.1h0m-66.9 -21.8h0m10.2 0.0h0m2.6 29.3h0m3.6 -14.1h0m24.4 -1.5h0m12.2 5.8h0m-7.9 10.9h0m28.6 -7.1h0m1.1 -3.9h0m-38.5 -12.8h0m-34.0 -7.3h0m4.5 19.2h0m20.2 -21.0h0m-18.0 1.5h0m62.8 16.8h0m-60.2 -34.7h0m27.5 27.9h0m24.4 4.9h0m-40.9 6.0h0m8.5 -67.2h0m-19.4 76.2h0m3.4 -45.6h0m7.6 -16.9h0m-13.7 13.4h0m-12.7 16.3h0m11.9 22.8h0m15.5 12.2h0m-6.3 -68.8h0m-1.4 5.9h0m-10.3 14.6h0m-6.1 16.0h0m36.4 27.3h0m-8.6 -0.2h0m-9.5 -7.0h0m24.2 -5.0h0m22.3 17.5h0m-24.8 -20.4h0m19.8 9.3h0m-11.5 9.1h0m-31.4 -8.9h0m33.6 15.6h0m6.5 -15.5h0m-35.3 -56.7h0m-1.6 -5.7h0m4.5 17.7h0m12.0 43.3h0m-12.8 -49.3h0m13.9 54.9h0m-24.3 0.8h0m-6.9 -12.9h0m-4.2 -14.4h0m12.5 20.9h0m27.5 -5.0h0m-44.4 -8.9h0m-2.3 -12.5h0m32.7 -24.2h0m17.2 38.9h0m-2.7 22.1h0m-6.8 -28.4h0m22.4 15.6h0m-44.9 -31.4h0m42.6 50.7h0m-60.7 -34.6h0m22.7 22.3h0m8.8 1.1h0m-21.2 -24.1h0m43.8 13.6h0m-31.6 17.3h0m45.4 -10.6h0m-33.6 -23.6h0m-13.4 -33.1h0m48.0 55.1h0m-63.8 -20.3h0m66.4 25.8h0m-54.9 -7.0h0m-2.1 -44.8h0m32.0 39.2h0m-14.1 -5.7h0m14.4 19.3h0m3.4 -6.3h0m-29.3 -60.1h0m12.9 -2.4h0m40.8 68.6h0m-72.6 -24.7h0m44.9 31.4h0m27.7 -10.3h0m-5.3 -7.3h0m-29.1 -61.0h0m-22.1 77.5h0m15.1 3.8h0m-1.3 -68.6h0m1.8 52.9h0m-15.6 -55.9h0m-4.4 9.0h0m64.4 41.1h0m-52.6 -19.5h0m22.9 13.6h0m-24.7 -38.9h0m-6.7 18.2h0m12.3 -21.7h0m-8.9 14.5h0m-3.2 21.2h0m-1.3 6.1h0m22.8 -8.3h0m6.8 26.2h0m-22.8 -39.7h0m13.4 -30.4h0m-3.9 22.1h0m7.9 59.2h0m-27.9 -24.2h0m61.0 5.2h0m7.6 1.9h0m-38.1 5.5h0m-11.7 -15.7h0m-16.0 -18.1h0m20.6 45.8h0m-17.4 -72.5h0m-7.2 23.9h0m9.0 -23.4h0m14.1 -6.8h0m12.0 76.8h0m28.5 -16.1h0m-8.7 -4.6h0m-34.6 -45.9h0m-12.9 22.9h0m20.3 -20.9h0m18.9 45.1h0m6.7 18.6h0m-43.8 -33.3h0m-6.8 -28.5h0" stroke="#9dd336" stroke-width="1.4" stroke-linecap="round" fill="none"/>
<path d="M480.8 94.3h0m-68.3 -34.8h0m48.5 30.6h0m18.0 -0.1h0m-38.6 -58.6h0m-22.1 48.2h0m15.8 2.2h0m-17.4 -24.6h0m14.0 -6.3h0m-14.8 13.8h0m57.9 25.9h0m-38.3 19.0h0m42.2 -10.6h0m-52.9 -31.1h0m67.7 25.5h0m-65.9 -18.5h0m1.8 30.5h0m27.8 -14.8h0m-23.0 -11.2h0m27.3 21.1h0m15.1 -3.5h0m-34.5 -54.9h0m9.6 69.3h0m-11.7 -68.5h0m-5.5 56.6h0m-12.2 -45.7h0m47.9 39.2h0m-42.8 3.6h0m32.7 13.0h0m-18.3 -78.0h0m2.0 68.5h0m2.6 -26.6h0m-21.2 -26.0h0m20.0 53.2h0m19.7 -6.0h0m12.2 3.8h0m-52.9 -35.7h0m7.6 -1.8h0m-2.9 20.0h0m52.9 26.0h0m-32.9 -27.2h0m-24.6 -21.2h0m3.4 12.5h0m15.1 -29.6h0m-20.8 17.0h0m18.2 -13.3h0m40.1 44.5h0m-6.4 19.1h0m-55.9 -48.1h0m54.0 40.5h0m-29.7 -26.9h0m16.7 27.8h0m-29.1 -41.8h0m1.8 8.9h0m62.2 26.2h0m-76.4 -24.7h0m42.5 15.9h0m-8.6 -9.4h0m7.9 20.4h0m4.9 -8.4h0m-35.4 -15.6h0m24.9 -43.3h0m11.9 62.9h0m-49.3 -32.9h0m73.6 31.5h0m-29.9 17.6h0m-44.3 -26.2h0m63.2 18.0h0m-10.1 2.3h0m-34.7 5.3h0m4.3 -27.0h0m42.7 24.0h0m-12.8 -12.6h0m-26.8 -13.2h0m-8.1 -5.5h0m14.3 -45.3h0m-28.0 42.4h0m18.2 -23.9h0m24.2 54.1h0m26.6 -8.5h0m-18.1 2.0h0m-3.7 12.5h0m-4.5 -3.9h0m-35.4 -34.4h0m44.8 19.5h0m-51.8 -12.8h0m46.2 14.2h0m-27.4 -52.1h0m19.8 52.1h0m-32.8 -15.8h0m41.5 33.5h0m-0.5 -1.2h0m-14.5 -26.8h0m17.9 9.8h0m-32.9 11.6h0m-10.7 -42.9h0m10.5 -24.5h0m-2.8 41.8h0m-20.0 5.5h0m33.1 -52.6h0m5.8 75.0h0m-29.2 -48.0h0m20.3 45.1h0m-22.5 -40.8h0m51.6 29.6h0m-33.2 -53.0h0m5.6 9.6h0m-28.1 14.9h0m34.9 46.6h0m21.6 -12.3h0m-41.7 -1.6h0m-17.7 -31.5h0m51.6 42.2h0m-19.6 -55.6h0m12.5 37.8h0m25.5 12.0h0m-62.4 -37.3h0m14.2 15.7h0m19.0 25.2h0m-25.9 -50.1h0m-2.7 13.2h0m4.5 33.1h0m23.6 3.5h0m-31.0 -28.0h0m13.3 35.2h0m-6.8 -35.7h0m3.8 -4.9h0m-7.0 -18.4h0m19.2 -19.1h0m-19.2 22.8h0m45.4 36.3h0m12.5 7.7h0m-40.2 -24.1h0m5.6 36.8h0m-29.5 -33.4h0m56.8 32.0h0m-42.5 -57.8h0m-1.1 27.1h0m-20.6 4.3h0m53.7 11.2h0m-8.5 10.6h0m-43.0 -31.2h0m17.3 -24.7h0m-5.1 24.6h0m-10.5 -0.6h0m43.4 17.3h0m-42.9 -33.9h0m33.1 -25.6h0m-38.4 30.3h0m29.3 -20.4h0m-18.4 44.9h0m70.0 11.8h0m-33.9 13.0h0m-27.8 -55.5h0m34.4 56.5h0m-33.4 -45.0h0m-10.8 -13.5h0m2.4 2.5h0m-1.4 13.9h0m37.2 24.5h0m7.1 -0.6h0m6.5 13.4h0m11.6 -9.4h0m4.2 1.0h0m-45.0 13.5h0m-11.2 -33.0h0m-19.4 -16.9h0m21.6 -9.6h0m44.3 47.0h0m-46.1 -49.3h0m31.8 50.5h0m-15.7 6.8h0m-36.1 -41.7h0m29.4 -12.6h0m43.0 45.8h0m0.8 -5.1h0m-58.7 -8.0h0m38.9 21.1h0m-37.8 -1.3h0m15.0 -59.2h0m-30.1 18.0h0m18.4 -16.7h0m-2.0 26.0h0m-8.8 -7.9h0m1.6 8.5h0m27.6 2.9h0m-23.8 -23.1h0m6.4 -14.5h0m-11.4 29.2h0m3.7 -13.4h0m22.5 25.8h0m-28.6 -16.5h0m-3.4 10.3h0m16.4 -18.4h0m40.2 36.4h0m-39.7 -12.6h0m-8.9 -8.6h0m50.3 19.0h0m6.6 12.8h0m-39.3 6.3h0m17.8 0.2h0m-30.3 -25.9h0m-17.2 -22.7h0m24.6 -22.3h0m29.4 69.5h0m-18.4 -27.5h0m-33.2 -17.1h0m51.8 28.4h0m-37.9 -14.0h0m2.7 -22.0h0m13.0 -9.4h0m6.3 51.3h0m-20.3 -42.9h0m31.4 32.9h0m25.3 8.0h0m-69.4 -26.9h0m46.0 24.7h0m-33.4 11.2h0m10.9 -30.4h0m29.3 15.2h0m-2.8 2.5h0m-8.8 -0.1h0m4.2 0.9h0m-33.9 -40.4h0m49.8 52.6h0m-52.5 -34.3h0m2.4 -10.0h0m45.2 30.8h0m-20.3 20.7h0m1.1 -8.8h0m13.9 -12.3h0m-39.3 -30.1h0m-11.5 -2.1h0m12.6 -2.6h0m-5.0 27.7h0m28.2 21.7h0m12.7 -11.8h0m-26.8 -42.8h0m31.1 39.5h0m-36.4 -42.6h0m52.1 53.5h0m-0.4 -3.4h0m-20.7 3.6h0m-31.9 -56.8h0m20.4 52.0h0m-38.8 -40.8h0m38.4 51.8h0m-31.4 -52.0h0m16.8 16.8h0m-15.9 -17.0h0m60.1 37.1h0m-28.3 9.0h0m-12.1 -48.7h0m31.6 44.2h0m-30.4 10.8h0m13.9 -17.5h0m-6.2 -13.2h0m-15.1 -35.0h0m1.9 -5.6h0m-18.3 25.6h0m27.4 -32.5h0m27.0 79.5h0m-38.2 -67.4h0m30.7 47.2h0m-45.9 -22.6h0m6.2 -3.4h0m34.9 41.5h0m-30.1 -5.2h0m-16.5 -18.6h0m10.1 -33.4h0m16.3 25.8h0m-20.2 10.5h0m37.7 4.6h0m-18.7 -49.9h0m-8.0 39.0h0m42.4 16.1h0m-53.4 -40.9h0m-4.7 24.3h0m26.7 33.8h0m46.7 -12.4h0m-47.3 -0.4h0m-11.7 -16.0h0m21.6 22.9h0m-11.6 -73.0h0m8.1 78.7h0m-15.5 -70.7h0m-0.9 -0.4h0m6.0 5.3h0m-3.2 17.9h0m-9.1 21.8h0m13.3 -10.7h0m-14.5 23.8h0m59.2 5.0h0m-46.9 1.2h0m-1.4 -57.6h0m40.2 45.2h0m-17.9 17.2h0m25.0 -15.3h0m-39.8 16.3h0m-13.4 -35.5h0m19.2 38.0h0m17.4 -23.6h0m12.6 8.3h0m-34.7 -23.3h0m-0.8 -27.6h0m-17.5 46.5h0m12.2 -44.7h0m10.0 -17.7h0m-12.8 16.7h0m-6.1 14.5h0m24.6 -7.8h0m-22.8 0.4h0m-3.0 16.3h0m15.8 31.7h0m35.0 1.2h0m-37.3 -49.0h0m4.4 56.5h0m5.1 0.8h0m-7.7 -1.8h0m17.2 -14.2h0m-30.5 4.3h0m-4.2 -29.6h0m27.9 29.9h0m-23.6 -12.4h0m27.7 13.4h0m-14.3 -54.8h0m6.0 -14.5h0m-16.6 46.4h0m5.7 -41.5h0m32.4 58.8h0m-55.1 -16.8h0m39.0 -28.6h0m16.1 40.5h0m13.0 12.0h0m-16.3 4.9h0m-7.4 -11.3h0m12.7 -4.8h0m-42.6 -8.5h0m24.1 12.0h0m-37.7 -29.7h0m38.5 29.0h0m-22.1 7.5h0m21.3 3.6h0m27.0 -7.0h0m-36.6 2.6h0m-8.2 -20.1h0m-8.9 -21.4h0m54.7 46.2h0m-68.8 -36.9h0m72.1 23.0h0m0.3 10.3h0m-63.3 -36.8h0m15.0 -24.6h0m26.3 48.5h0m-18.8 -43.7h0m-30.9 35.5h0m44.6 11.3h0m14.2 1.3h0m-30.7 -55.4h0m-5.1 36.5h0m44.1 28.3h0m-67.6 -20.7h0m43.0 21.2h0m12.2 -9.3h0m-41.7 -30.3h0m3.1 -14.3h0m-8.4 24.7h0m6.0 -20.8h0m43.9 34.5h0m-8.2 0.7h0m10.0 22.0h0m7.6 -5.2h0m-54.8 -49.4h0m8.2 20.1h0m-14.9 -16.6h0m38.3 47.9h0m-7.6 5.5h0m9.1 -22.7h0m-23.6 -47.2h0m-20.7 25.3h0m5.5 -15.0h0m26.5 45.8h0m-15.0 -52.1h0m5.7 -11.0h0m42.0 60.8h0m-1.3 0.6h0m-54.9 -42.4h0m5.6 -14.7h0m26.8 -15.4h0m-31.6 31.3h0m30.8 43.6h0m-8.0 -22.7h0m34.1 25.4h0m-62.8 -34.7h0m64.1 25.3h0m-60.8 -27.6h0m5.0 -14.7h0m41.7 53.2h0m-42.7 -43.1h0m-9.3 18.1h0m47.2 26.2h0m-20.9 -22.5h0m-21.3 -19.3h0m2.0 11.8h0m32.6 27.7h0m-40.9 -23.5h0m64.0 26.1h0m-29.3 -77.2h0m-37.7 35.4h0m30.1 48.2h0m40.0 -7.2h0m-21.4 -14.6h0m18.1 5.1h0m-48.4 -42.5h0m-3.0 5.9h0m46.9 35.2h0m-28.2 -48.6h0m-1.3 29.8h0m-20.7 3.8h0m34.7 30.5h0m-37.4 -46.1h0m9.3 -22.9h0m13.9 6.3h0m-17.1 45.8h0m-7.2 -32.0h0m66.5 30.6h0m-59.3 -15.3h0m20.7 20.0h0m-0.7 -16.8h0m36.1 19.8h0m-38.0 -46.7h0m-34.0 18.7h0m51.5 15.6h0m-18.4 -35.1h0m-8.9 -11.8h0m-15.1 50.1h0m52.9 20.7h0m-17.9 -1.8h0m5.0 -14.5h0m-21.3 -49.6h0m-24.9 25.1h0m11.9 -10.2h0m3.4 24.6h0m28.6 9.2h0m-47.6 -13.6h0m62.3 8.6h0m-57.6 -23.3h0m35.5 -34.0h0m-35.7 42.7h0m58.2 19.1h0m-0.3 18.8h0m-44.8 -54.7h0m12.3 -11.2h0m-7.7 1.4h0m25.5 42.3h0m31.8 6.7h0m-34.7 7.6h0m-22.3 -39.7h0m-4.5 24.9h0m17.5 -38.5h0m-13.7 58.8h0m-1.0 -60.6h0m-20.0 18.1h0m8.6 -5.5h0m23.1 33.8h0m22.8 13.8h0m-22.7 -58.1h0m-11.8 19.6h0m-4.2 35.4h0m42.5 -13.6h0m-39.9 9.1h0m39.5 -10.0h0m-38.3 -49.7h0m-3.3 43.1h0m24.5 -4.6h0m6.3 25.9h0m-36.2 -42.6h0m26.3 -7.6h0m24.3 36.0h0m-49.8 -4.7h0m11.2 -7.4h0m9.1 -0.5h0m38.8 19.8h0m-46.6 -24.2h0m-2.9 -26.4h0m7.0 5.1h0m31.6 44.9h0m-51.1 -23.4h0m21.8 5.5h0m-2.8 22.4h0m-12.5 -18.8h0m13.7 -30.2h0m34.4 46.0h0m-20.6 -50.0h0m-11.4 46.2h0m3.5 -68.4h0m-17.0 56.4h0m2.3 -30.3h0m-7.4 30.1h0m28.0 -29.1h0m-22.8 19.2h0m-5.4 11.6h0m10.6 -9.4h0m-19.4 -3.1h0m32.7 7.6h0m-29.4 -8.7h0m10.3 8.4h0m26.3 19.8h0m23.3 -8.7h0m-50.1 10.9h0m-8.1 -44.0h0m57.9 41.2h0m4.2 -6.4h0m-27.9 7.0h0m-7.0 -72.1h0m-9.2 11.7h0m38.6 63.0h0m7.3 -7.2h0m-19.2 -0.9h0m-44.0 -34.4h0m8.3 -0.3h0m50.1 42.2h0m7.2 -1.1h0m-46.1 5.3h0m19.4 0.6h0m-44.3 -36.9h0m39.5 28.7h0m-14.1 -57.4h0m-13.4 24.8h0m-2.8 6.9h0m16.3 -27.1h0m41.6 58.0h0m-22.9 0.1h0m-5.4 -4.8h0m-22.9 -10.1h0m-3.6 16.6h0m20.3 -5.9h0m10.5 -10.5h0m-25.8 -41.9h0m47.6 58.4h0m-7.5 5.7h0m7.2 -16.2h0m-4.1 5.9h0m7.7 -4.2h0m-62.2 -38.3h0m17.8 -17.0h0m-1.7 -0.3h0m-4.5 38.6h0m-0.2 4.0h0m-12.1 4.3h0m-1.3 -11.3h0m68.3 15.9h0m-59.7 3.9h0m-14.7 -15.1h0m62.9 9.5h0m-34.4 -40.5h0m-2.5 -19.3h0m19.8 77.4h0m5.0 -14.4h0m-39.8 -24.4h0m46.5 24.9h0m-56.3 -38.2h0m41.4 -29.9h0m-32.8 36.0h0m32.3 42.1h0m-19.1 -23.1h0m25.2 8.0h0m-8.1 -37.9h0m1.9 48.6h0m-36.4 -24.5h0m21.8 6.1h0m16.2 13.1h0m9.5 10.2h0m-5.3 -11.0h0m-36.2 -29.9h0m-4.9 5.1h0m15.4 10.4h0m-14.2 11.1h0m39.0 -2.3h0m-0.8 12.7h0m-38.0 -43.8h0m14.3 15.9h0m7.7 9.7h0m21.5 9.3h0m-54.3 -28.4h0m63.3 34.9h0m-42.6 -52.3h0m18.5 -16.5h0m-35.8 54.3h0m22.3 -40.3h0m11.4 10.5h0m-19.1 6.3h0m-5.4 25.1h0m21.6 -34.0h0m34.0 50.3h0m-56.7 -12.4h0m26.9 -61.7h0m-36.1 54.5h0m33.8 -34.0h0m-28.5 13.6h0m40.3 31.3h0m-43.1 -30.5h0m56.0 28.6h0m-60.9 -26.3h0m4.1 -0.3h0m-3.9 2.9h0m41.6 35.2h0m26.7 -1.5h0m-32.4 -73.0h0m39.2 66.6h0m-58.7 -14.3h0m29.1 9.8h0m-31.0 -32.2h0m14.5 49.4h0m22.0 -24.4h0m-18.0 14.0h0m7.1 -17.8h0m5.1 22.0h0m-20.5 -27.8h0m-13.7 -13.1h0m62.6 40.1h0m-62.6 -45.7h0m57.1 49.0h0m-35.7 -4.0h0m-22.1 -43.8h0m28.4 -26.0h0m-36.2 50.9h0m6.4 -20.0h0m38.0 35.2h0m-27.2 -27.6h0m25.5 38.8h0m-36.8 -49.5h0m58.9 42.0h0m-38.2 2.7h0" stroke="#c4dc32" stroke-width="1.4" stroke-linecap="round" fill="none"/>
<path d="M422.2 75.0h0m23.9 2.5h0m-9.9 1.7h0m36.9 29.8h0m-26.9 -56.5h0m8.3 -0.9h0m24.8 54.1h0m-8.1 -9.4h0m-39.8 -47.0h0m-19.1 15.9h0m11.4 4.1h0m18.8 28.6h0m-21.7 -20.6h0m22.7 -31.1h0m-29.1 19.9h0m8.5 2.6h0m-0.1 -17.0h0m19.6 27.1h0m-14.0 5.6h0m25.3 14.4h0m-26.0 -48.5h0m30.9 47.3h0m29.8 1.5h0m-25.9 -3.1h0m21.4 5.2h0m-48.3 -63.1h0m-16.6 24.6h0m5.1 -14.6h0m15.2 -7.9h0m-21.0 13.5h0m8.5 20.3h0m-12.8 -7.1h0m48.6 30.7h0m-21.2 -14.9h0m18.9 9.6h0m-19.6 -41.2h0m41.4 51.0h0m-53.6 -45.0h0m34.6 46.4h0m-32.7 -29.5h0m14.6 31.0h0m-13.0 -28.0h0m31.4 26.3h0m-41.9 -44.3h0m1.4 26.9h0m39.0 10.5h0m15.7 8.6h0m-43.8 -56.2h0m-10.0 11.5h0m18.1 -20.0h0m29.2 56.6h0m6.5 4.1h0m-53.1 -30.0h0m14.8 33.1h0m6.1 -55.5h0m36.1 51.9h0m-61.0 -31.1h0m55.5 38.2h0m-44.2 -5.2h0m11.2 -27.6h0m-16.4 -17.5h0m21.1 -5.4h0m-20.6 32.1h0m40.8 10.3h0m9.5 -3.1h0m-10.8 7.1h0m15.5 2.3h0m-35.8 8.9h0m18.7 -9.4h0m-35.6 -46.7h0m2.7 54.5h0m27.4 -1.5h0m-1.2 -11.8h0m-9.3 6.8h0m-24.0 -15.8h0m41.1 22.1h0m-36.7 -43.4h0m16.2 -15.7h0m-22.4 8.9h0m36.3 43.1h0m-36.0 -43.7h0m51.5 52.1h0m-49.6 -40.9h0m1.4 14.2h0m0.6 3.3h0m0.7 -22.3h0m41.2 28.5h0m-50.0 -19.0h0m67.0 20.1h0m-39.4 -39.5h0m13.1 50.1h0m4.5 -2.1h0m-30.6 -28.2h0m12.5 -25.9h0m29.9 50.1h0m7.4 1.7h0m-35.8 -44.5h0m12.6 37.1h0m-41.5 -10.3h0m2.4 -4.7h0m39.6 21.2h0m-41.6 -19.9h0m30.0 30.9h0m-33.0 -41.5h0m44.6 29.6h0m21.7 -3.9h0m-35.9 -64.5h0m3.8 80.7h0m26.2 -18.6h0m-65.1 -21.0h0m33.4 38.5h0m-16.1 -39.4h0m14.0 -20.0h0m5.4 63.0h0m1.3 -2.5h0m-17.6 -46.4h0m31.9 38.8h0m17.9 -0.4h0m-1.4 0.6h0m-38.4 -70.7h0m18.7 64.5h0m5.9 -2.2h0m-50.8 -34.9h0m46.2 41.7h0m-32.7 -37.3h0m5.6 -15.5h0m26.5 53.2h0m0.1 5.3h0m-26.5 -65.3h0m-17.2 39.3h0m41.4 12.5h0m-34.7 -36.9h0m24.3 49.4h0m14.3 0.9h0m11.7 3.5h0m-24.0 -2.3h0m-1.4 -5.2h0m-25.3 -50.8h0m63.0 48.1h0m-66.8 -27.8h0m46.6 32.1h0m-41.9 -42.7h0m-11.9 8.1h0m69.3 31.0h0m-44.6 -19.3h0m4.7 0.5h0m-7.1 -1.6h0m-5.1 -24.9h0m-6.4 1.4h0m-0.9 2.7h0m52.2 40.7h0m-44.0 3.1h0m18.3 -47.4h0m-6.0 50.5h0m-8.7 -54.9h0m35.8 52.1h0m-14.7 3.4h0m-15.9 -61.6h0m43.4 54.2h0m-49.4 -49.1h0m10.4 27.3h0m-7.0 -28.2h0m-9.0 30.2h0m-5.7 -28.7h0m21.7 -1.3h0m-8.0 1.0h0m7.0 56.3h0m-2.9 -3.1h0m23.6 -0.1h0m14.7 2.7h0m-31.7 -1.1h0m4.3 4.8h0m3.0 -7.8h0m-41.3 -20.8h0m8.2 3.4h0m39.1 7.3h0m-23.6 -45.7h0m38.2 56.2h0m-60.2 -36.5h0m21.2 -26.9h0m-4.1 9.7h0m27.3 48.7h0m-40.6 -12.1h0m66.2 17.2h0m-61.2 -27.2h0m-6.7 -21.1h0m22.6 -4.2h0m-8.3 23.4h0m28.9 19.6h0m-40.9 -13.7h0m63.1 23.5h0m-54.1 -8.6h0m-0.9 -18.1h0m12.1 -1.8h0m-13.9 4.0h0m-10.8 -11.2h0m63.9 31.2h0m-33.2 4.7h0m18.9 -12.1h0m6.0 16.7h0m-3.1 -1.7h0m15.4 -14.8h0m-29.2 18.6h0m-26.5 -22.6h0m-7.9 -1.8h0m8.8 -11.7h0m14.1 2.7h0m-2.2 -36.8h0m-12.3 19.1h0m38.4 43.6h0m-49.5 -30.6h0m-3.5 -6.8h0m28.0 43.8h0m-8.5 -58.3h0m5.5 31.1h0m6.2 -5.1h0m-17.0 -25.5h0m24.0 51.0h0m-39.0 -31.5h0m8.5 6.9h0m43.0 21.7h0m19.7 3.4h0m-42.5 -3.3h0m38.8 1.7h0m-57.2 -44.0h0m22.1 48.7h0m-4.3 0.6h0m11.0 -0.6h0m-2.5 -5.1h0m-2.7 -26.3h0m1.8 38.7h0m-22.5 -35.6h0m-7.2 -23.6h0m1.9 22.5h0m57.5 15.7h0m-38.0 14.8h0m42.5 -3.5h0m-8.1 -13.0h0m-12.6 8.5h0m-36.3 -42.2h0m52.1 41.1h0m-12.9 8.5h0m6.2 -11.1h0m-26.1 14.5h0m34.9 -11.5h0m-15.1 8.8h0m-36.6 -44.0h0m33.2 32.3h0m15.5 -3.9h0m-40.7 -52.3h0m-21.8 25.5h0m62.0 45.0h0m-52.4 -61.0h0m31.9 58.4h0m26.5 -4.6h0m-56.7 -39.5h0m24.7 45.0h0m-2.8 -61.1h0m-21.0 7.1h0m50.8 45.9h0m8.2 0.7h0m-27.0 -3.8h0m-33.0 -47.6h0m19.4 33.9h0m15.0 13.3h0m-32.2 -40.8h0m-5.1 3.9h0m63.8 34.9h0m-23.9 11.9h0m-28.9 -54.1h0m19.4 60.8h0m-26.0 -52.9h0m19.6 -11.6h0m-16.6 -8.0h0m13.2 70.8h0m-13.2 -48.3h0m44.1 30.8h0m-61.6 -31.8h0m16.4 30.4h0m-1.6 -13.3h0m52.5 22.0h0m-33.5 7.4h0m-25.8 -37.2h0m65.9 24.9h0m-9.0 3.3h0m-27.6 -44.8h0m-6.7 53.1h0m-13.7 -22.4h0m-11.5 -26.2h0m69.5 35.2h0m-40.6 -18.9h0m33.1 29.8h0m-16.9 2.7h0m21.9 -5.1h0m0.6 1.3h0m-10.2 -8.8h0m-30.0 -45.5h0m21.9 52.9h0m2.6 -9.4h0m-39.4 -32.7h0m30.4 45.5h0m-28.3 -35.9h0m28.4 32.3h0m-18.6 8.1h0m-29.5 -42.9h0m9.7 9.8h0m8.5 -24.4h0m2.9 23.5h0m50.3 26.1h0m-50.6 -0.6h0m-10.3 -45.4h0m-3.0 -0.6h0m12.5 50.7h0m18.7 5.9h0m-18.5 -41.1h0m10.0 5.1h0m-3.0 -28.7h0m1.7 2.5h0m-16.4 5.5h0m13.1 -13.1h0m9.6 68.5h0m17.1 -19.2h0m-36.1 -8.3h0m23.6 24.8h0m-22.9 -47.4h0m-6.7 -9.0h0m60.5 50.6h0m-12.0 -5.8h0m-28.3 5.8h0m-21.5 -24.0h0m38.8 17.2h0m-17.5 16.6h0m11.9 -5.1h0m2.4 -10.4h0m-2.5 5.9h0m-27.8 -48.7h0m17.6 20.5h0m29.7 37.3h0m-56.3 -32.1h0m39.4 19.6h0m-8.8 7.7h0m28.4 -8.2h0m-16.6 -6.7h0m17.6 16.4h0m3.6 -8.1h0m-12.9 1.9h0m-41.5 -25.2h0m1.2 6.2h0m14.9 26.9h0m11.8 -58.4h0m-10.9 -7.3h0m-15.4 52.6h0m-15.4 -37.8h0m55.9 47.2h0m-55.7 -23.6h0m2.8 -26.1h0m-2.6 9.7h0m47.4 34.2h0m2.7 2.4h0m-45.4 -18.4h0m30.7 27.4h0m-9.1 -36.9h0m45.4 25.1h0m-16.7 7.0h0m2.2 -12.9h0m-33.8 -55.9h0m10.6 38.7h0m-20.9 -6.1h0m57.7 31.0h0m-2.3 -0.2h0m-5.9 -1.3h0m-48.4 -16.1h0m17.4 -34.0h0m-3.1 24.6h0m7.0 24.1h0m-24.7 -22.0h0m63.4 17.6h0m-45.6 16.1h0m-14.7 -59.5h0m49.4 47.2h0m2.9 6.5h0m-10.2 0.3h0m-23.3 -26.7h0m0.7 -0.6h0m29.8 23.0h0m4.4 0.6h0m-24.4 1.9h0m-31.6 -42.9h0m41.0 40.2h0m4.5 -11.0h0m-37.7 -14.9h0m44.1 15.1h0m-33.5 -40.6h0m31.1 58.2h0m-60.7 -41.1h0m64.3 34.9h0m-60.8 -40.7h0m69.7 35.9h0m-62.5 -10.8h0m11.3 -6.6h0m-15.6 -4.1h0m20.5 33.8h0m14.2 -3.5h0m33.3 -13.1h0m-6.9 3.2h0m-50.9 10.4h0m29.3 2.8h0m21.0 -11.3h0m-17.1 5.7h0m-18.5 -52.7h0m45.9 46.2h0m-74.0 -15.7h0m-3.3 -17.3h0m49.4 39.4h0m-6.0 -0.9h0m-28.2 -8.0h0m-17.1 -28.0h0m25.7 -20.2h0m-21.4 36.9h0m2.0 -13.0h0m66.6 24.7h0m-56.1 -19.1h0m23.2 37.5h0m6.6 -15.8h0m-19.6 -20.3h0m-12.6 -2.5h0m12.4 -25.4h0m-12.3 10.0h0m21.8 51.4h0m21.3 -4.4h0m-16.5 -1.3h0m10.0 -11.2h0m-27.5 -51.0h0m28.2 63.5h0m-31.7 -4.2h0m14.3 -72.5h0m-31.0 37.5h0m44.6 43.2h0m15.2 -14.2h0m-32.2 -14.6h0m17.7 14.0h0m-2.5 -4.2h0m-31.7 -15.6h0m0.5 5.1h0m16.1 19.9h0m34.7 1.3h0m-31.0 -49.5h0m23.8 54.3h0m-17.4 6.1h0m16.0 -8.1h0m-31.3 -67.5h0m-13.0 42.3h0m8.5 -40.2h0m-5.5 41.6h0m20.4 31.3h0m0.2 -3.5h0m-19.4 -6.4h0m36.7 4.5h0m-46.0 -55.1h0m40.1 41.7h0m-34.7 -40.3h0m-7.8 31.7h0m27.7 -5.4h0m-1.8 20.3h0m24.0 -0.9h0m-48.8 -31.5h0m30.2 41.9h0m24.0 -10.8h0m-50.1 -22.9h0m-5.5 -15.4h0m-1.2 23.5h0m59.0 16.7h0m-51.0 -35.1h0m43.5 37.9h0m-47.3 -34.0h0m40.2 21.0h0m7.4 3.2h0m1.5 13.5h0m-26.0 -5.1h0m41.1 -2.4h0m-63.0 -14.1h0m39.7 13.6h0m5.5 -5.9h0m12.7 9.1h0m-6.7 -1.0h0m-45.3 -29.0h0m21.9 41.3h0m38.5 -15.5h0m-47.6 -51.7h0m-11.3 24.7h0m15.6 11.5h0m3.1 -32.2h0m-28.0 5.1h0" stroke="#f0e630" stroke-width="1.4" stroke-linecap="round" fill="none"/>
<path d="M483.3 96.6h0m-39.1 -21.0h0m-5.4 -26.4h0m-21.3 33.7h0m8.5 -20.3h0m16.7 38.6h0m-14.2 -20.2h0m33.0 14.4h0m-47.7 -29.0h0m6.6 -8.1h0m6.5 14.2h0m37.7 30.8h0m11.0 4.9h0m-39.8 -31.1h0m28.6 25.1h0m7.6 -0.8h0m-24.0 -20.6h0m-9.5 -41.7h0m-14.9 44.8h0m43.8 10.1h0m-22.8 11.5h0m-4.8 -58.4h0m-20.4 37.2h0m23.7 26.8h0m-4.6 -35.6h0m27.0 28.1h0m-37.5 -39.5h0m21.4 35.7h0m-22.7 -18.9h0m-14.5 -15.7h0m12.8 7.3h0m23.4 38.2h0m-22.8 -57.0h0m23.4 49.3h0m-20.8 -42.8h0m14.3 41.7h0m35.5 3.0h0m-54.7 -25.7h0m30.0 27.3h0m-23.3 -44.1h0m-18.4 -2.5h0m69.5 42.3h0m-8.0 2.7h0m-27.3 3.2h0m29.4 -3.9h0m0.4 -5.8h0m-6.5 -0.6h0m-48.4 -40.8h0m1.5 5.2h0m24.8 43.9h0m34.9 -5.7h0m-37.4 5.8h0m-20.3 -22.6h0m32.8 13.2h0m-34.5 -43.7h0m0.3 7.6h0m2.1 24.8h0m21.1 -37.7h0m26.5 58.8h0m-7.0 2.6h0m-4.0 0.8h0m-33.0 -55.1h0m42.5 48.0h0m-16.4 3.1h0m-37.7 -46.6h0m31.7 49.7h0m-25.7 -24.1h0m53.8 19.4h0m-18.0 -7.5h0m18.2 4.1h0m-53.2 -8.3h0m46.7 11.9h0m-33.0 -28.7h0m-14.3 -2.5h0m-5.5 -18.0h0m49.7 36.4h0m-41.4 -38.2h0m34.3 39.2h0m-9.2 9.7h0m-22.1 -27.8h0m19.5 -25.3h0m-34.1 11.6h0m1.4 -4.2h0m52.9 48.5h0m-30.7 -29.7h0m-20.4 9.5h0m8.2 -3.9h0m19.5 30.3h0m-33.3 -51.6h0m22.5 17.8h0m46.5 25.1h0m-65.1 -22.3h0m58.0 26.1h0m-49.5 -45.2h0m24.4 41.3h0m17.8 3.2h0m-0.5 -5.3h0m-41.6 -28.2h0m46.3 19.7h0m-26.3 18.7h0m-0.0 -29.5h0m3.6 25.0h0m13.7 -4.9h0m21.4 2.9h0m-59.1 -11.8h0m-7.6 -35.5h0m10.8 16.1h0m20.4 38.1h0m24.0 -21.1h0m-11.2 3.3h0m8.5 6.4h0m-10.1 -2.4h0m-40.7 -44.9h0m-4.2 26.8h0m46.3 16.9h0m-13.1 13.0h0m-33.5 -46.7h0m63.3 42.5h0m-10.8 1.0h0m-4.0 -11.8h0m-14.4 -15.1h0m18.3 29.6h0m3.9 -9.5h0m-47.1 -29.6h0m-3.4 14.5h0m6.8 -30.7h0m-1.6 -0.8h0m14.7 24.8h0m4.7 34.3h0m-3.6 -37.2h0m8.3 26.1h0m-35.3 -40.5h0m1.6 -1.6h0m32.5 -9.8h0m25.9 46.9h0m-47.5 -22.9h0m40.7 32.1h0m-29.9 -68.2h0m32.4 65.7h0m-30.5 -55.5h0m-2.2 31.5h0m27.4 21.0h0m10.7 7.8h0m-50.6 -36.6h0m35.7 36.6h0m-9.7 -58.7h0m20.4 46.9h0m-28.0 15.0h0m-3.9 -70.5h0m27.3 53.6h0m-17.8 -16.5h0m-21.4 8.0h0m43.3 15.0h0m-5.0 6.8h0m14.4 -0.6h0m-6.7 -3.1h0m-45.2 -41.2h0m-7.3 -11.4h0m50.7 55.2h0m-22.0 -56.5h0m13.6 51.9h0m-35.3 -20.3h0m-14.5 -14.7h0m46.8 25.5h0m9.3 11.1h0m-45.9 -53.6h0m40.2 52.3h0m-15.0 8.6h0m-31.2 -43.6h0m48.4 33.4h0m-40.3 -27.9h0m21.9 7.7h0m-11.4 -1.1h0m9.3 1.3h0m-31.0 -19.4h0m28.7 40.3h0m-28.1 -40.2h0m-0.5 -0.2h0m6.2 24.6h0m43.9 18.6h0m4.3 -3.8h0m-49.4 -16.1h0m3.6 -32.3h0m8.1 -2.9h0m16.5 30.7h0m0.5 -1.4h0m-9.9 -37.0h0m25.6 63.7h0m2.6 -11.2h0m-20.9 -43.0h0m12.1 49.8h0m15.0 1.7h0m-55.5 -46.3h0m53.4 41.8h0m-48.7 -47.4h0m3.9 25.4h0m14.8 27.7h0m-26.3 -21.2h0m5.9 3.6h0m10.9 -35.9h0m19.6 58.2h0m-38.3 -47.6h0m32.3 -30.5h0m6.3 80.9h0m30.0 -12.9h0m-53.6 -12.4h0m13.8 23.6h0m33.3 -16.3h0m5.7 11.3h0m-39.4 -58.5h0m12.0 63.1h0m11.6 -10.5h0m-15.5 -50.8h0m-24.9 24.2h0m17.7 -21.2h0m3.9 -0.8h0m-9.8 0.3h0m7.7 -2.5h0m-7.0 -9.3h0m6.0 42.9h0m-13.4 2.8h0m-5.1 -22.9h0m13.7 -13.9h0m-20.4 11.0h0m-1.2 2.9h0m29.7 14.3h0m-12.4 -3.9h0m-14.6 8.4h0m65.7 22.7h0m-11.4 3.9h0m-49.8 -50.6h0m20.1 25.8h0m11.2 21.7h0m8.3 -3.8h0m10.9 10.5h0m-29.8 -61.1h0m33.6 50.5h0m1.7 1.9h0m-32.4 -53.4h0m-0.7 53.1h0m17.5 6.5h0m5.7 -1.0h0m-54.7 -44.6h0m2.1 -2.8h0m27.2 53.3h0m-18.5 -29.0h0m4.3 0.2h0m43.7 19.0h0m-34.9 -51.3h0m42.0 46.5h0m-10.6 9.1h0m-44.6 -36.0h0m14.9 37.7h0m3.6 -59.4h0m-22.9 32.8h0m42.5 21.3h0m2.4 -5.7h0m-36.2 -44.2h0m53.0 46.6h0m-65.8 -39.9h0m26.0 21.2h0m-19.6 -11.6h0m35.5 27.4h0m9.9 7.3h0m-37.2 -20.6h0m-8.7 -29.7h0m26.4 57.8h0m-25.1 -56.6h0m18.9 -5.1h0m37.7 53.8h0m-2.1 -3.9h0m-30.8 11.4h0m-5.7 -2.0h0m-18.2 -36.5h0m14.0 -26.5h0m-17.8 5.3h0m47.0 49.7h0m-22.4 -50.5h0m31.3 59.1h0m-0.5 -5.8h0m-10.0 -10.2h0m20.2 0.2h0m-43.9 -42.4h0m-13.2 33.8h0m-4.1 -9.8h0m2.9 -22.1h0m10.5 25.3h0m-1.4 -30.7h0m-8.5 15.0h0m0.1 8.6h0m46.0 26.4h0m-0.9 -6.0h0m-10.7 2.5h0m-1.1 13.8h0m3.0 -9.5h0m-20.3 12.5h0m4.0 -0.1h0m-33.8 -53.7h0m56.2 39.0h0m-28.4 -46.7h0m-13.9 34.1h0m26.4 -30.7h0m6.9 55.8h0m-42.0 -27.1h0m0.1 1.2h0m-4.4 -1.6h0m69.6 20.1h0m-9.5 5.1h0m-0.4 -6.3h0m-9.1 5.2h0m2.4 0.9h0m12.0 -3.7h0m-19.3 -10.4h0m-19.2 -16.4h0m-24.6 -4.7h0m13.7 -19.3h0m-0.1 8.4h0m18.0 -6.8h0m-32.1 30.6h0m27.8 22.6h0m-0.9 -3.7h0m-25.6 -46.5h0m0.3 8.8h0m21.9 40.6h0m-24.5 -42.4h0m34.5 49.3h0m19.7 -10.9h0m-49.1 -17.2h0m26.8 -8.2h0m-31.4 5.8h0m-2.9 -16.5h0m0.8 -6.3h0m23.3 -11.4h0m27.8 58.1h0m-14.1 1.3h0m-36.4 -48.8h0m32.1 -10.5h0m-7.8 -9.8h0m2.7 10.4h0m3.1 62.6h0m29.7 -6.9h0m-44.5 -43.3h0m-2.1 14.7h0m34.7 32.4h0m-17.6 -6.9h0m-25.2 -46.4h0m1.5 -4.7h0m52.4 48.8h0m-37.5 -21.2h0m5.8 -2.9h0m-2.3 6.1h0m19.0 20.3h0m-43.4 -42.1h0m3.5 6.2h0m0.6 13.1h0m59.8 12.6h0m-58.9 -38.6h0m38.3 37.4h0m-16.9 -40.4h0m22.9 55.4h0m-26.0 -25.3h0m16.6 28.2h0m13.2 -15.5h0" stroke="#f3bf2b" stroke-width="1.4" stroke-linecap="round" fill="none"/>
<path d="M422.9 84.5h0m37.2 21.9h0m-40.0 -42.2h0m24.8 -15.6h0m17.0 52.2h0m4.7 -3.7h0m10.3 1.1h0m-51.2 -25.3h0m12.2 -24.8h0m29.7 50.1h0m-25.7 -17.7h0m-2.9 -43.0h0m5.0 73.9h0m-18.2 -57.6h0m51.7 53.6h0m-32.2 -8.5h0m-9.3 -19.7h0m3.7 -28.2h0m23.6 45.6h0m8.6 -0.2h0m-48.0 -34.8h0m44.6 36.3h0m-54.0 -32.4h0m50.1 33.0h0m0.2 -2.9h0m-22.7 -21.2h0m-21.5 9.1h0m44.9 16.2h0m-21.5 -49.4h0m2.4 28.5h0m32.4 20.8h0m-58.4 -13.9h0m26.5 23.4h0m-5.9 -3.7h0m10.1 -2.6h0m23.6 4.6h0m-3.1 -1.2h0m-29.8 -27.0h0m34.9 23.5h0m-14.4 7.8h0m-12.0 -60.9h0m27.3 56.1h0m-58.7 -21.1h0m42.8 21.6h0m-19.7 -56.0h0m41.3 49.3h0m-23.2 8.7h0m-41.5 -37.6h0m17.2 -21.3h0m10.3 58.6h0m-21.2 -36.8h0m-0.2 -15.1h0m49.0 34.1h0m-54.6 -6.0h0m10.4 -1.3h0m48.5 18.3h0m-6.0 -3.7h0m9.1 5.4h0m-18.4 5.2h0m14.8 -8.2h0m-30.6 -23.0h0m34.7 23.6h0m-40.4 -52.1h0m23.8 58.2h0m0.6 -7.7h0m-15.2 5.5h0m17.7 -0.0h0m-52.8 -45.0h0m61.3 43.3h0m-14.8 4.4h0m15.8 -3.3h0m1.0 -6.0h0m-45.0 -50.4h0m-18.2 9.3h0m61.1 47.6h0m-22.4 2.7h0m14.4 -10.7h0m-42.1 -37.6h0m0.8 24.9h0m-1.8 -3.2h0m-0.9 -17.7h0m49.0 42.3h0m-52.9 -54.8h0m3.0 21.1h0m25.5 36.1h0m-26.6 -56.3h0m31.3 2.0h0m-33.2 30.9h0m49.8 20.0h0m-49.8 -22.8h0m13.6 -31.0h0m39.5 56.1h0m-28.0 1.9h0m17.4 -4.0h0m-42.6 -21.2h0m55.8 13.8h0m-33.2 -16.3h0m-23.8 -0.3h0m-2.9 -22.0h0m42.8 36.8h0m-46.4 -35.9h0m62.2 40.8h0m-48.5 -18.7h0m38.5 21.6h0m3.4 0.1h0m-53.7 -41.9h0m31.4 17.1h0m-24.6 4.8h0m45.1 17.2h0m-47.8 -20.2h0m41.2 14.6h0m-13.7 16.7h0m28.9 -3.1h0m-10.3 -10.2h0m0.7 3.2h0m-26.1 -51.4h0m-12.8 23.8h0m-0.3 -0.0h0m45.6 25.1h0m-37.0 -21.8h0m29.2 24.1h0m-42.8 -49.2h0m57.8 46.1h0m-57.7 -17.8h0m8.9 2.7h0m-15.8 -26.1h0m29.2 47.4h0m-3.0 0.3h0m37.7 -0.4h0m-57.5 -20.2h0m20.0 -2.4h0m9.7 27.9h0m-5.3 -6.6h0m-14.6 -0.7h0m5.9 -63.2h0m-12.4 41.0h0m46.9 29.0h0m-26.8 -61.7h0m-23.5 27.5h0m3.6 -2.7h0m11.5 -32.5h0m30.8 62.1h0m-39.3 -38.4h0m55.3 35.3h0m-41.6 -16.8h0m-10.2 -11.6h0m37.4 29.0h0m5.4 6.1h0m-50.4 -26.4h0m42.5 29.6h0m-45.8 -57.2h0m25.1 26.2h0m29.2 26.9h0m-8.1 -4.8h0m6.4 9.3h0m8.3 -8.1h0m-43.9 -22.6h0m7.7 0.3h0m17.3 29.7h0m-15.5 1.9h0m2.1 -57.4h0m-9.4 -2.5h0m19.5 45.8h0m-34.0 -24.9h0m39.6 31.0h0m-44.0 -16.6h0m4.3 -6.3h0m-5.6 -24.5h0m51.3 45.7h0m-56.5 -40.3h0m2.3 -3.5h0m6.0 -4.3h0m13.9 25.7h0m3.3 -38.0h0m3.8 60.9h0m5.9 4.5h0m-29.6 -20.7h0m4.8 -1.3h0m26.5 23.4h0m-12.6 -68.8h0m-16.4 45.0h0m8.0 -26.5h0m19.4 -4.9h0m1.6 55.3h0m16.2 -1.7h0m1.8 -4.4h0m-21.8 6.8h0m21.0 -5.6h0m-6.4 5.9h0m0.3 0.6h0m-25.5 -69.2h0m1.3 42.6h0m11.6 -31.9h0m23.6 52.5h0m-31.1 -22.2h0m-2.8 -33.4h0m-18.9 3.7h0m61.6 53.5h0m-9.8 -1.2h0m-4.2 -0.6h0m-32.0 -26.3h0m11.2 30.1h0m-5.3 -24.3h0m-0.9 27.4h0m-26.1 -48.6h0m12.8 20.4h0m11.9 -4.7h0m-14.3 7.3h0m45.3 21.6h0m7.9 -5.0h0m-34.0 11.6h0m5.4 -0.2h0m-11.7 -70.0h0m7.4 64.0h0m-22.3 -43.5h0m23.6 15.3h0m3.3 -26.7h0m-14.6 -1.5h0m15.5 62.0h0m-5.5 -7.4h0m17.7 -2.2h0m11.5 -2.6h0m-14.1 -1.8h0m-33.3 -42.4h0m45.2 48.6h0" stroke="#f49125" stroke-width="1.4" stroke-linecap="round" fill="none"/>
<path d="M441.9 45.9h0m27.6 53.0h0m2.2 -2.0h0m-51.7 -45.6h0m41.9 57.6h0m-2.8 -14.1h0m-10.3 11.5h0m26.4 -2.0h0m-40.7 -56.6h0m26.9 60.4h0m14.0 -14.2h0m-34.6 -45.0h0m-17.4 33.7h0m-8.3 0.4h0m56.7 22.9h0m-21.2 0.3h0m27.0 -0.8h0m-62.1 -47.2h0m8.9 23.8h0m43.6 24.1h0m5.2 -0.6h0m-12.4 -8.0h0m-10.8 9.8h0m-27.9 -22.2h0m48.4 16.0h0m-32.4 -51.8h0m5.3 -0.1h0m19.5 56.6h0m-24.4 -29.5h0m-25.3 -17.2h0m25.9 -8.3h0m0.8 -1.5h0m38.3 48.8h0m-58.0 -13.9h0m29.8 -34.8h0m25.9 54.1h0m-29.5 0.8h0m16.1 2.6h0m12.5 -4.2h0m-33.9 -52.5h0m30.5 50.3h0m-55.3 -42.3h0m25.7 19.2h0m8.2 26.2h0m-27.2 -21.9h0m2.8 0.5h0m16.1 -4.0h0m8.5 25.4h0m-3.6 7.4h0m-4.1 -4.1h0m-3.0 -57.7h0m3.3 0.1h0m-21.9 30.2h0m50.5 25.4h0m11.9 -10.5h0m-13.1 3.8h0m-47.8 -11.9h0m17.5 -9.9h0m30.0 23.0h0m-0.7 -3.5h0m-29.3 -48.1h0m-25.8 9.5h0m25.7 -7.2h0m24.6 54.6h0m-24.6 -27.1h0m4.6 -29.9h0m-20.3 32.3h0m43.6 21.4h0m-45.3 -21.7h0m14.0 -29.4h0m-8.5 34.3h0m9.1 -34.4h0m-23.1 11.0h0m8.7 -6.0h0m56.5 46.8h0m-59.9 -49.5h0m-0.2 29.7h0m58.4 21.1h0m-10.9 -1.6h0m-20.8 6.1h0m-23.1 -22.6h0m50.3 15.1h0m-54.5 -20.8h0m49.1 19.7h0m-29.6 -48.6h0m30.0 54.2h0m0.4 -6.1h0m-50.3 -18.7h0m6.9 -24.8h0m47.9 51.2h0m-58.7 -39.8h0m45.2 29.6h0m12.6 3.2h0m-53.2 -16.8h0m5.6 -20.8h0m1.2 21.8h0m-1.0 -2.2h0m20.3 -1.7h0m25.5 14.9h0m-22.3 13.0h0m16.8 -7.5h0m-24.6 -49.8h0m-18.1 34.6h0m27.2 -36.4h0m-6.8 -1.0h0m2.6 60.7h0m-0.1 -30.6h0" stroke="#ed5a1f" stroke-width="1.4" stroke-linecap="round" fill="none"/>
<path d="M442.4 78.4h0m-21.3 -27.5h0m0.7 29.1h0m-0.4 2.2h0m1.0 -0.6h0m16.8 -33.0h0m36.1 54.4h0m-12.2 3.9h0m-48.0 -51.6h0m3.1 27.7h0m23.2 -33.8h0m-16.7 31.2h0m17.7 -1.9h0m3.9 29.4h0m31.3 -4.0h0m-59.3 -23.7h0m50.0 14.7h0m-19.1 -43.5h0m21.1 47.8h0m-50.1 -17.7h0m49.1 17.3h0m9.1 7.0h0m-37.2 -28.8h0m-14.9 -7.0h0m-4.3 12.3h0m-0.3 -0.9h0m-6.7 -21.0h0m10.9 21.2h0m-7.0 1.3h0m7.5 1.3h0m9.4 -35.0h0m38.8 53.9h0m-0.7 2.3h0m-35.4 -28.7h0m6.5 2.1h0m2.8 28.5h0m-26.5 -26.0h0m24.6 27.4h0m-26.5 -26.7h0m6.3 -0.7h0m-11.2 -23.7h0m32.0 50.9h0m1.2 -56.8h0m-22.8 28.5h0m-1.7 1.6h0m-8.6 -1.6h0m60.2 26.9h0m-55.1 -24.7h0m25.4 25.2h0m-2.3 -29.5h0m32.1 27.2h0m-6.9 -3.3h0" stroke="#e22c1c" stroke-width="1.4" stroke-linecap="round" fill="none"/>
<path d="M452.0 31.5h0m2.0 0.5h0m-23.0 28.0h0m9.0 20.0h0m-4.0 -16.0h0m9.0 -7.0h0" stroke="#2a7ab8" stroke-width="1.3" stroke-linecap="round" fill="none"/>
</g>
<rect x="32.4" y="19.7" width="97.5" height="97.8" fill="none" stroke="#333" stroke-width="1.2"/>
<rect x="159.4" y="19.7" width="97.5" height="97.8" fill="none" stroke="#333" stroke-width="1.2"/>
<rect x="285.6" y="19.7" width="97.5" height="97.8" fill="none" stroke="#333" stroke-width="1.2"/>
<rect x="410.6" y="19.7" width="97.5" height="97.8" fill="none" stroke="#333" stroke-width="1.2"/>
<text x="60.6" y="14.9" font-size="9.5" font-weight="bold" fill="#c8102e" textLength="41" lengthAdjust="spacingAndGlyphs">CD4<tspan fill="#111">/</tspan><tspan fill="#164d8c">CD8</tspan></text>
<text x="168.3" y="14.9" font-size="9.5" font-weight="bold" fill="#c8102e" textLength="80" lengthAdjust="spacingAndGlyphs">CD4 T<tspan font-size="7" dy="2">EM</tspan><tspan fill="#111" dy="-2">/</tspan><tspan fill="#164d8c">CD8 T<tspan font-size="7" dy="2">EM</tspan></tspan></text>
<text x="300.8" y="14.9" font-size="9.5" font-weight="bold" fill="#c8102e" textLength="67.5" lengthAdjust="spacingAndGlyphs">CD4 T<tspan font-size="7" dy="2">N</tspan><tspan fill="#111" dy="-2">/</tspan><tspan fill="#164d8c">CD8 T<tspan font-size="7" dy="2">N</tspan></tspan></text>
<text x="423.1" y="14.9" font-size="9.5" font-weight="bold" fill="#c8102e" textLength="72.7" lengthAdjust="spacingAndGlyphs">PD-1 expression</text>
<rect x="0.5" y="0.5" width="519" height="488" fill="none" stroke="#1a1a1a" stroke-width="1"/>
</svg></body></html>
